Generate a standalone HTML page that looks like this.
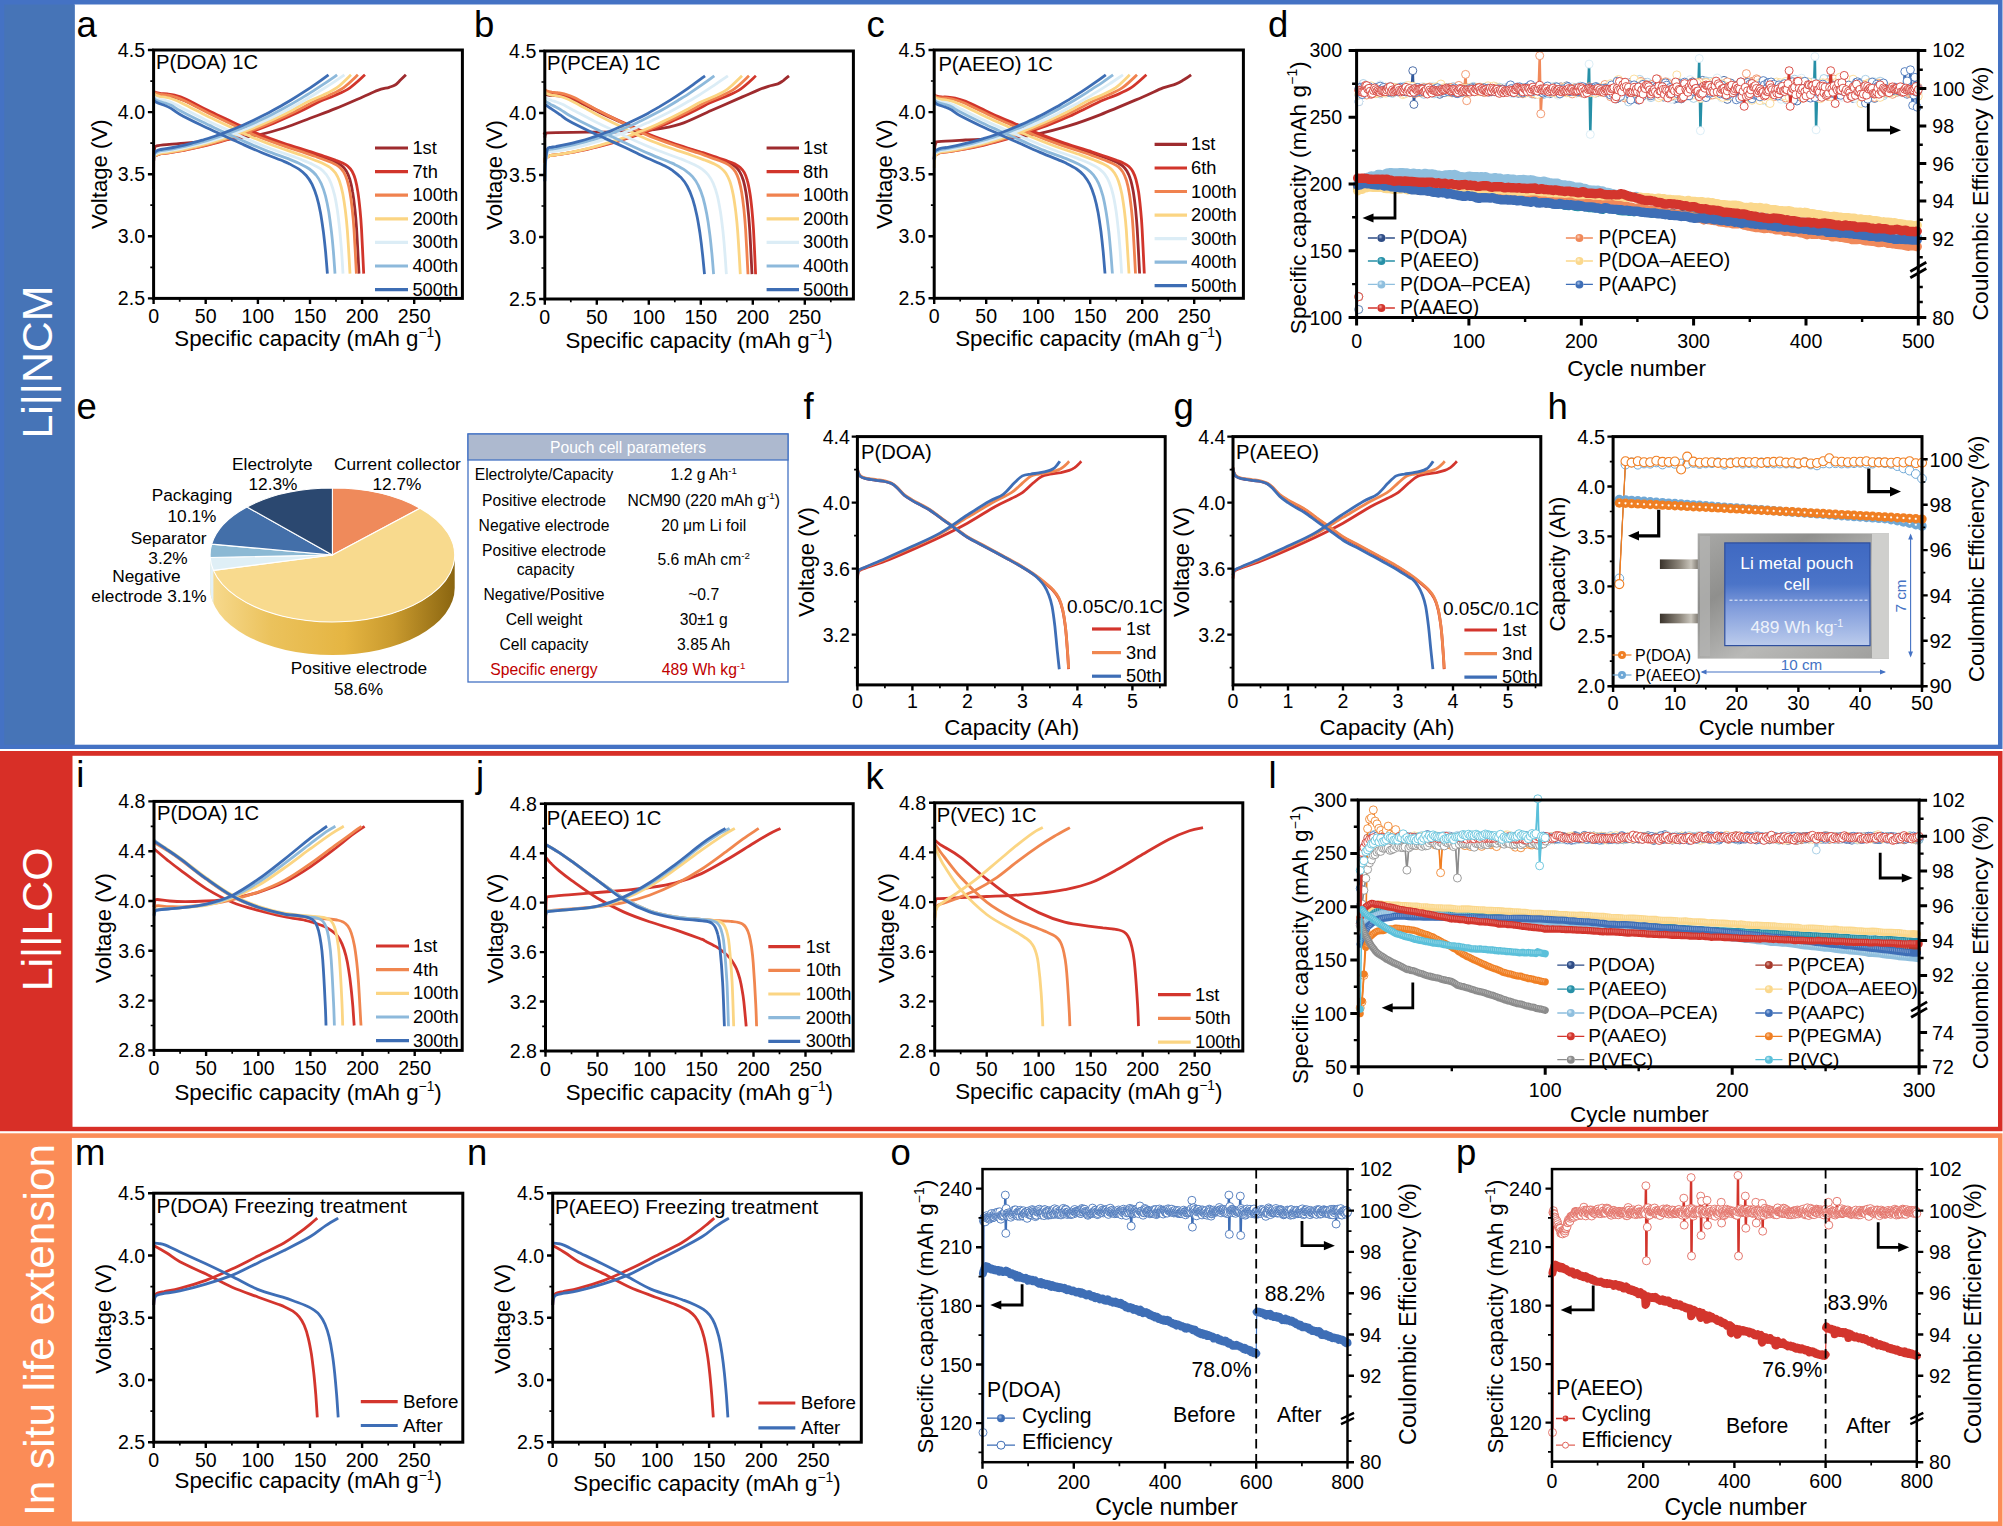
<!DOCTYPE html>
<html><head><meta charset="utf-8"><title>Figure</title>
<style>html,body{margin:0;padding:0;background:#fff}svg{display:block}text{font-family:"Liberation Sans", Arial, Helvetica, sans-serif}</style>
</head><body>
<svg width="2003" height="1526" viewBox="0 0 2003 1526">
<defs>
<clipPath id="cd"><rect x="1356.6" y="50.4" width="561.7" height="267.1"/></clipPath>
<marker id="mo31589B40" viewBox="-5 -5 10 10" markerWidth="10" markerHeight="10" markerUnits="userSpaceOnUse" overflow="visible"><circle r="4.0" fill="#fff" stroke="#31589B" stroke-width="0.85"/></marker>
<marker id="moD5EAF440" viewBox="-5 -5 10 10" markerWidth="10" markerHeight="10" markerUnits="userSpaceOnUse" overflow="visible"><circle r="4.0" fill="#fff" stroke="#D5EAF4" stroke-width="0.85"/></marker>
<marker id="mo9CC7E240" viewBox="-5 -5 10 10" markerWidth="10" markerHeight="10" markerUnits="userSpaceOnUse" overflow="visible"><circle r="4.0" fill="#fff" stroke="#9CC7E2" stroke-width="0.85"/></marker>
<marker id="moF0895A40" viewBox="-5 -5 10 10" markerWidth="10" markerHeight="10" markerUnits="userSpaceOnUse" overflow="visible"><circle r="4.0" fill="#fff" stroke="#F0895A" stroke-width="0.85"/></marker>
<marker id="moFBD88C40" viewBox="-5 -5 10 10" markerWidth="10" markerHeight="10" markerUnits="userSpaceOnUse" overflow="visible"><circle r="4.0" fill="#fff" stroke="#FBD88C" stroke-width="0.85"/></marker>
<marker id="mo3E6EB640" viewBox="-5 -5 10 10" markerWidth="10" markerHeight="10" markerUnits="userSpaceOnUse" overflow="visible"><circle r="4.0" fill="#fff" stroke="#3E6EB6" stroke-width="0.85"/></marker>
<marker id="moD3352D40" viewBox="-5 -5 10 10" markerWidth="10" markerHeight="10" markerUnits="userSpaceOnUse" overflow="visible"><circle r="4.0" fill="#fff" stroke="#D3352D" stroke-width="0.85"/></marker>
<radialGradient id="bg2F4D86" cx="0.38" cy="0.35" r="0.65"><stop offset="0" stop-color="#9FB4DA"/><stop offset="0.45" stop-color="#2F4D86"/><stop offset="1" stop-color="#2F4D86"/></radialGradient>
<radialGradient id="bg2790A7" cx="0.38" cy="0.35" r="0.65"><stop offset="0" stop-color="#9AD7E3"/><stop offset="0.45" stop-color="#2790A7"/><stop offset="1" stop-color="#2790A7"/></radialGradient>
<radialGradient id="bg8FBFDE" cx="0.38" cy="0.35" r="0.65"><stop offset="0" stop-color="#E3F1F9"/><stop offset="0.45" stop-color="#8FBFDE"/><stop offset="1" stop-color="#8FBFDE"/></radialGradient>
<radialGradient id="bgD3352D" cx="0.38" cy="0.35" r="0.65"><stop offset="0" stop-color="#F4A9A0"/><stop offset="0.45" stop-color="#D3352D"/><stop offset="1" stop-color="#D3352D"/></radialGradient>
<radialGradient id="bgF0895A" cx="0.38" cy="0.35" r="0.65"><stop offset="0" stop-color="#FBD3BF"/><stop offset="0.45" stop-color="#F0895A"/><stop offset="1" stop-color="#F0895A"/></radialGradient>
<radialGradient id="bgFBD88C" cx="0.38" cy="0.35" r="0.65"><stop offset="0" stop-color="#FEF2D3"/><stop offset="0.45" stop-color="#FBD88C"/><stop offset="1" stop-color="#FBD88C"/></radialGradient>
<radialGradient id="bg3E6EB6" cx="0.38" cy="0.35" r="0.65"><stop offset="0" stop-color="#A9C3EA"/><stop offset="0.45" stop-color="#3E6EB6"/><stop offset="1" stop-color="#3E6EB6"/></radialGradient>
<linearGradient id="pieside" x1="0" x2="1" y1="0" y2="0"><stop offset="0" stop-color="#F7DA8F"/><stop offset="0.25" stop-color="#EBC25C"/><stop offset="0.55" stop-color="#E5B542"/><stop offset="0.75" stop-color="#C99A2E"/><stop offset="1" stop-color="#8A6510"/></linearGradient>
<marker id="mo6FA8D644" viewBox="-5 -5 10 10" markerWidth="10" markerHeight="10" markerUnits="userSpaceOnUse" overflow="visible"><circle r="4.4" fill="#fff" stroke="#6FA8D6" stroke-width="1.0"/></marker>
<marker id="moF07F2345" viewBox="-5 -5 10 10" markerWidth="10" markerHeight="10" markerUnits="userSpaceOnUse" overflow="visible"><circle r="4.5" fill="#fff" stroke="#F07F23" stroke-width="1.1"/></marker>
<radialGradient id="hbO" cx="0.5" cy="0.5" r="0.5"><stop offset="0" stop-color="#fff"/><stop offset="0.1" stop-color="#fff"/><stop offset="0.34" stop-color="#F07F23"/><stop offset="1" stop-color="#F07F23"/></radialGradient>
<radialGradient id="hbB" cx="0.5" cy="0.5" r="0.5"><stop offset="0" stop-color="#fff"/><stop offset="0.1" stop-color="#fff"/><stop offset="0.34" stop-color="#6FA8D6"/><stop offset="1" stop-color="#6FA8D6"/></radialGradient>
<linearGradient id="foil" x1="0" x2="1" y1="0" y2="1"><stop offset="0" stop-color="#A9A9A7"/><stop offset="0.3" stop-color="#8F8F8D"/><stop offset="0.6" stop-color="#B9B9B7"/><stop offset="1" stop-color="#9D9D9B"/></linearGradient>
<linearGradient id="pblue" x1="0" x2="0" y1="0" y2="1"><stop offset="0" stop-color="#3F69C2"/><stop offset="0.4" stop-color="#4B74C8"/><stop offset="0.62" stop-color="#7F9BDB"/><stop offset="1" stop-color="#BBCBEC"/></linearGradient>
<linearGradient id="tab" x1="0" x2="1" y1="0" y2="0"><stop offset="0" stop-color="#3A332B"/><stop offset="0.5" stop-color="#8C857A"/><stop offset="0.8" stop-color="#C9C5BC"/><stop offset="1" stop-color="#77726A"/></linearGradient>
<marker id="mo31589B39" viewBox="-5 -5 10 10" markerWidth="10" markerHeight="10" markerUnits="userSpaceOnUse" overflow="visible"><circle r="3.9" fill="#fff" stroke="#31589B" stroke-width="0.85"/></marker>
<marker id="moB5523F39" viewBox="-5 -5 10 10" markerWidth="10" markerHeight="10" markerUnits="userSpaceOnUse" overflow="visible"><circle r="3.9" fill="#fff" stroke="#B5523F" stroke-width="0.85"/></marker>
<marker id="mo6FB8C839" viewBox="-5 -5 10 10" markerWidth="10" markerHeight="10" markerUnits="userSpaceOnUse" overflow="visible"><circle r="3.9" fill="#fff" stroke="#6FB8C8" stroke-width="0.85"/></marker>
<marker id="mo9CC7E239" viewBox="-5 -5 10 10" markerWidth="10" markerHeight="10" markerUnits="userSpaceOnUse" overflow="visible"><circle r="3.9" fill="#fff" stroke="#9CC7E2" stroke-width="0.85"/></marker>
<marker id="moFBD88C39" viewBox="-5 -5 10 10" markerWidth="10" markerHeight="10" markerUnits="userSpaceOnUse" overflow="visible"><circle r="3.9" fill="#fff" stroke="#FBD88C" stroke-width="0.85"/></marker>
<marker id="mo3E6EB639" viewBox="-5 -5 10 10" markerWidth="10" markerHeight="10" markerUnits="userSpaceOnUse" overflow="visible"><circle r="3.9" fill="#fff" stroke="#3E6EB6" stroke-width="0.85"/></marker>
<marker id="moF07F2340" viewBox="-5 -5 10 10" markerWidth="10" markerHeight="10" markerUnits="userSpaceOnUse" overflow="visible"><circle r="4.0" fill="#fff" stroke="#F07F23" stroke-width="0.85"/></marker>
<marker id="mo8C8C8C40" viewBox="-5 -5 10 10" markerWidth="10" markerHeight="10" markerUnits="userSpaceOnUse" overflow="visible"><circle r="4.0" fill="#fff" stroke="#8C8C8C" stroke-width="0.85"/></marker>
<marker id="moD3352D39" viewBox="-5 -5 10 10" markerWidth="10" markerHeight="10" markerUnits="userSpaceOnUse" overflow="visible"><circle r="3.9" fill="#fff" stroke="#D3352D" stroke-width="0.85"/></marker>
<marker id="mo5BC0DA40" viewBox="-5 -5 10 10" markerWidth="10" markerHeight="10" markerUnits="userSpaceOnUse" overflow="visible"><circle r="4.0" fill="#fff" stroke="#5BC0DA" stroke-width="0.85"/></marker>
<radialGradient id="bg8C8C8C" cx="0.38" cy="0.35" r="0.65"><stop offset="0" stop-color="#DADADA"/><stop offset="0.45" stop-color="#8C8C8C"/><stop offset="1" stop-color="#8C8C8C"/></radialGradient>
<radialGradient id="bgA63A2C" cx="0.38" cy="0.35" r="0.65"><stop offset="0" stop-color="#E2A59B"/><stop offset="0.45" stop-color="#A63A2C"/><stop offset="1" stop-color="#A63A2C"/></radialGradient>
<radialGradient id="bgF07F23" cx="0.38" cy="0.35" r="0.65"><stop offset="0" stop-color="#FBCB9F"/><stop offset="0.45" stop-color="#F07F23"/><stop offset="1" stop-color="#F07F23"/></radialGradient>
<radialGradient id="bg5BC0DA" cx="0.38" cy="0.35" r="0.65"><stop offset="0" stop-color="#C9EDF6"/><stop offset="0.45" stop-color="#5BC0DA"/><stop offset="1" stop-color="#5BC0DA"/></radialGradient>
<marker id="moE0645A40" viewBox="-5 -5 10 10" markerWidth="10" markerHeight="10" markerUnits="userSpaceOnUse" overflow="visible"><circle r="4.0" fill="#fff" stroke="#E0645A" stroke-width="0.85"/></marker>
</defs>
<rect x="0" y="0" width="2002.5" height="749" fill="#4472C4"/>
<rect x="74.3" y="4.5" width="1923.7" height="740.2" fill="#fff"/>
<rect x="4.3" y="4.5" width="70.5" height="740.2" fill="#4674B7"/>
<rect x="0" y="751" width="2002.5" height="380.2" fill="#D82F27"/>
<rect x="72.5" y="755.8" width="1925.5" height="371" fill="#fff"/>
<rect x="0" y="1133.3" width="2002.5" height="392.7" fill="#FB8C57"/>
<rect x="71.9" y="1137.9" width="1926.1" height="383.6" fill="#fff"/>
<text x="52.2" y="438.6" font-size="42.6" fill="#fff" transform="rotate(-90 52.2 438.6)" textLength="153" lengthAdjust="spacingAndGlyphs">Li||NCM</text>
<text x="52.2" y="991.3" font-size="42.6" fill="#fff" transform="rotate(-90 52.2 991.3)" textLength="144" lengthAdjust="spacingAndGlyphs">Li||LCO</text>
<text x="54.3" y="1516" font-size="42.6" fill="#fff" transform="rotate(-90 54.3 1516)" textLength="372" lengthAdjust="spacingAndGlyphs">In situ life extension</text>
<text x="76.5" y="36.8" font-size="36.5">a</text>
<text x="474" y="37.2" font-size="36.5">b</text>
<text x="866.5" y="37.2" font-size="36.5">c</text>
<text x="1268" y="37" font-size="36.5">d</text>
<text x="76.5" y="419" font-size="36.5">e</text>
<text x="803.5" y="418.8" font-size="36.5">f</text>
<text x="1173.5" y="418.8" font-size="36.5">g</text>
<text x="1547.5" y="418.9" font-size="36.5">h</text>
<text x="76.2" y="787.3" font-size="36.5">i</text>
<text x="476" y="787.3" font-size="36.5">j</text>
<text x="865.5" y="788.5" font-size="36.5">k</text>
<text x="1268.5" y="787.8" font-size="36.5">l</text>
<text x="75" y="1165" font-size="36.5">m</text>
<text x="467" y="1165" font-size="36.5">n</text>
<text x="890.5" y="1164.8" font-size="36.5">o</text>
<text x="1456" y="1164.5" font-size="36.5">p</text>
<path d="M153.6 189.1C153.6 184.5 153.6 168.4 153.7 161.8C153.8 155.2 153.9 152 154.4 149.4C154.9 146.7 154.3 146.7 156.7 145.9C159.2 145.1 164.5 144.8 169.2 144.4C173.9 143.9 177.1 143.8 184.9 143.1C192.7 142.5 207.5 141.2 216.2 140.4C224.8 139.6 230.1 139.1 237 138.2C244 137.3 250 136.8 257.9 135.1C265.7 133.4 275.2 130.8 283.9 128C292.6 125.2 301.3 121.6 310 118.3C318.7 115 327.4 111.9 336 108.4C344.7 104.9 355.2 100.2 362.1 97.2C369.1 94.2 373.2 92 377.7 90.4C382.3 88.7 386.3 88.2 389.2 87.3C392.2 86.3 393.6 86 395.5 84.8C397.4 83.5 398.9 81.5 400.7 79.8C402.4 78.2 405 75.7 405.9 74.8" fill="none" stroke="#9E2B2E" stroke-width="2.8" stroke-linejoin="round" stroke-linecap="butt"/>
<path d="M153.6 93.5C154 93.7 154.9 94.7 156.1 95.1C157.3 95.5 159 95.7 160.8 95.9C162.6 96 164.7 95.8 166.9 96C169.2 96.3 171.2 96.4 174.1 97.2C177 97.9 178.6 98 184.4 100.5C190.2 103.1 201.2 108.9 209.1 112.7C216.9 116.4 223.8 119.4 231.6 123C239.5 126.5 248.1 130.6 256.3 134C264.5 137.3 272.4 140.2 280.9 143.2C289.5 146.1 301.6 149.8 307.6 151.8C313.7 153.9 313.9 154 317.4 155.2C320.8 156.5 325.2 158 328.3 159.1C331.5 160.3 333.9 161.2 336.2 162.4C338.5 163.5 340.2 164.4 341.9 165.9C343.6 167.3 345 168.8 346.3 171C347.6 173.2 348.7 175.8 349.8 179.2C350.8 182.7 351.8 187 352.6 191.9C353.5 196.7 354.2 202.3 354.8 208.4C355.5 214.6 355.9 217.9 356.6 228.8C357.3 239.6 358.6 266.1 359 273.6" fill="none" stroke="#9E2B2E" stroke-width="2.8" stroke-linejoin="round" stroke-linecap="butt"/>
<path d="M153.6 161.8C153.7 160.8 153.8 156.9 154.2 155.9C154.7 154.8 155.3 155.9 156.2 155.6C157.1 155.2 157.8 154.4 159.9 154C161.9 153.5 164.7 153.5 168.7 152.9C172.7 152.3 178.8 151.3 183.8 150.4C188.8 149.4 193.9 148.4 198.9 147.2C203.9 146.1 209 144.8 214 143.5C219 142.2 224.1 140.7 229.1 139.2C234.1 137.7 239.2 136.1 244.2 134.3C249.2 132.6 254.3 130.8 259.3 128.9C264.3 127 269.4 125 274.4 122.9C279.4 120.8 284.5 118.6 289.5 116.3C294.6 114 299.6 111.7 304.6 109.2C309.7 106.7 314.7 103.7 319.7 101.4C324.8 99.2 329.8 97.7 334.8 95.4C339.9 93.1 344.9 91.2 349.9 87.8C355 84.4 362.5 77 365 74.8" fill="none" stroke="#D1352B" stroke-width="2.8" stroke-linejoin="round" stroke-linecap="butt"/>
<path d="M153.6 91C154 91.3 154.9 92.2 156.1 92.6C157.3 93.1 159.1 93.3 161 93.6C162.8 93.8 165 93.6 167.3 93.9C169.5 94.2 171.6 94.4 174.6 95.2C177.6 96 179.2 96.1 185.1 98.8C191.1 101.5 202.3 107.6 210.3 111.5C218.4 115.5 225.4 118.6 233.4 122.4C241.5 126.1 250.2 130.5 258.6 134C267 137.4 275.1 140.2 283.8 143.2C292.6 146.1 304.1 149.5 311.2 151.8C318.2 154.1 321.9 155.5 326 156.9C330.2 158.3 333.1 159.3 335.9 160.4C338.8 161.4 341 162.3 343.1 163.3C345.1 164.3 346.7 165.2 348.2 166.6C349.7 167.9 351 169.4 352.2 171.5C353.4 173.7 354.4 176.2 355.4 179.6C356.3 183 357.2 187.3 357.9 192.1C358.7 197 359.3 202.5 359.9 208.6C360.5 214.7 360.9 218.1 361.5 228.9C362.1 239.7 363.3 266.1 363.7 273.6" fill="none" stroke="#D1352B" stroke-width="2.8" stroke-linejoin="round" stroke-linecap="butt"/>
<path d="M153.6 161.8C153.7 160.8 153.8 156.9 154.2 155.9C154.7 154.8 155.3 155.9 156.2 155.6C157.1 155.2 157.9 154.4 159.9 154C161.9 153.5 164.4 153.5 168.2 152.9C172 152.3 177.9 151.3 182.8 150.4C187.7 149.4 192.5 148.4 197.4 147.2C202.3 146.1 207.1 144.8 212 143.5C216.8 142.2 221.7 140.7 226.6 139.2C231.4 137.7 236.3 136.1 241.2 134.3C246 132.6 250.9 130.8 255.8 128.9C260.6 127 265.5 125 270.4 122.9C275.2 120.8 280.1 118.6 285 116.3C289.8 114 294.7 111.7 299.6 109.2C304.4 106.7 309.3 103.7 314.2 101.4C319 99.2 323.9 97.7 328.7 95.4C333.6 93.1 338.5 91.2 343.3 87.8C348.2 84.4 355.5 77 357.9 74.8" fill="none" stroke="#F0824F" stroke-width="2.8" stroke-linejoin="round" stroke-linecap="butt"/>
<path d="M153.6 91.6C154 91.9 154.9 92.9 156 93.3C157.2 93.8 158.9 94.2 160.7 94.4C162.5 94.7 164.6 94.6 166.8 95C169 95.3 171 95.6 173.9 96.5C176.8 97.5 178.3 97.7 184 100.5C189.8 103.2 200.6 109.2 208.3 113.1C216.1 116.9 222.9 120.1 230.7 123.7C238.4 127.4 246.9 131.8 255 135.2C263.1 138.6 270.9 141.4 279.3 144.4C287.8 147.4 299.8 151.1 305.7 153.1C311.6 155.1 311.4 155.1 314.8 156.3C318.1 157.5 322.6 159.1 325.7 160.3C328.9 161.5 331.3 162.4 333.6 163.5C335.9 164.6 337.6 165.6 339.3 167C341 168.5 342.4 169.9 343.7 172.1C345 174.3 346.1 176.8 347.2 180.3C348.2 183.7 349.2 188 350 192.8C350.9 197.6 351.6 203.1 352.2 209.2C352.9 215.3 353.3 218.6 354 229.3C354.7 240 356 266.2 356.4 273.6" fill="none" stroke="#F0824F" stroke-width="2.8" stroke-linejoin="round" stroke-linecap="butt"/>
<path d="M153.6 161.8C153.7 160.7 153.8 156.7 154.2 155.6C154.7 154.4 155.3 155.3 156.2 154.9C157.1 154.6 157.9 153.8 159.9 153.3C161.8 152.9 164 152.9 167.7 152.3C171.4 151.7 177.1 150.7 181.8 149.8C186.5 148.8 191.2 147.8 195.9 146.7C200.6 145.5 205.3 144.3 210 143C214.7 141.6 219.4 140.2 224.1 138.7C228.8 137.2 233.5 135.6 238.2 133.9C242.9 132.2 247.6 130.4 252.3 128.5C257 126.6 261.7 124.6 266.4 122.5C271.1 120.5 275.8 118.3 280.5 116C285.2 113.7 289.9 111.4 294.6 108.9C299.3 106.4 304 103.5 308.7 101.2C313.4 99 318.1 97.5 322.8 95.3C327.5 93 332.2 91.1 336.9 87.7C341.6 84.3 348.6 77 351 74.8" fill="none" stroke="#FBD583" stroke-width="2.8" stroke-linejoin="round" stroke-linecap="butt"/>
<path d="M153.6 93.5C154 93.8 154.8 94.8 156 95.3C157.1 95.8 158.7 96.2 160.5 96.6C162.2 96.9 164.2 96.9 166.4 97.4C168.5 97.8 170.5 98.2 173.2 99.3C176 100.3 177.5 100.9 183.1 103.7C188.6 106.4 199.1 112 206.6 115.8C214.2 119.5 220.7 122.5 228.2 126.1C235.8 129.6 244 133.7 251.8 137.1C259.7 140.4 267.2 143.3 275.4 146.3C283.6 149.2 294.3 152.6 300.9 155C307.5 157.3 311.1 158.7 315 160.2C318.8 161.7 321.4 162.6 324 163.9C326.6 165.2 328.6 166.2 330.5 167.8C332.4 169.3 334 170.8 335.5 173.1C337 175.4 338.3 177.9 339.5 181.3C340.7 184.8 341.8 189 342.8 193.8C343.7 198.6 344.5 204 345.3 210.1C346 216.1 346.5 219.4 347.3 229.9C348.1 240.5 349.6 266.3 350 273.6" fill="none" stroke="#FBD583" stroke-width="2.8" stroke-linejoin="round" stroke-linecap="butt"/>
<path d="M153.6 161.8C153.7 160.6 153.8 156.3 154.2 154.9C154.7 153.6 155.3 154.2 156.2 153.7C157.1 153.2 158 152.5 159.9 152.1C161.7 151.7 163.7 151.7 167.2 151.1C170.7 150.6 176.3 149.5 180.9 148.6C185.4 147.7 189.9 146.7 194.5 145.5C199 144.4 203.6 143.2 208.1 141.9C212.7 140.6 217.2 139.2 221.7 137.7C226.3 136.2 230.8 134.6 235.4 133C239.9 131.3 244.4 129.5 249 127.7C253.5 125.8 258.1 123.8 262.6 121.8C267.2 119.7 271.7 117.6 276.2 115.4C280.8 113.1 285.3 110.8 289.9 108.4C294.4 106 299 103.4 303.5 100.8C308 98.2 312.6 95.5 317.1 92.7C321.7 89.9 326.2 87 330.8 84.1C335.3 81.1 342.1 76.4 344.4 74.8" fill="none" stroke="#DCEDF6" stroke-width="2.8" stroke-linejoin="round" stroke-linecap="butt"/>
<path d="M153.6 96C154 96.3 154.8 97.3 155.9 97.9C157 98.5 158.6 99 160.2 99.5C161.9 99.9 163.9 100.1 165.9 100.6C168 101.2 169.9 101.7 172.5 102.9C175.2 104.1 176.6 105.1 182 107.9C187.4 110.6 197.5 115.9 204.7 119.4C212 122.9 218.3 125.8 225.6 129.1C232.8 132.5 240.7 136.3 248.3 139.5C255.9 142.8 263.2 145.8 271 148.7C278.9 151.7 290.5 155.6 295.7 157.5C300.9 159.3 299.3 158.8 302.2 160C305 161.1 309.7 162.9 312.7 164.4C315.7 165.9 318 167.1 320.3 168.7C322.5 170.4 324.3 172 326.1 174.3C327.8 176.7 329.4 179.2 330.8 182.7C332.2 186.2 333.4 190.4 334.6 195.2C335.7 199.9 336.6 205.3 337.5 211.2C338.4 217.2 339.1 224.1 339.8 230.8C340.5 237.5 341 244.1 341.6 251.3C342.1 258.4 342.8 269.8 343 273.6" fill="none" stroke="#DCEDF6" stroke-width="2.8" stroke-linejoin="round" stroke-linecap="butt"/>
<path d="M153.6 161.8C153.7 160.5 153.8 155.9 154.2 154.3C154.7 152.8 155.3 153 156.2 152.5C157.1 151.9 158.1 151.3 159.9 150.9C161.6 150.4 163.4 150.5 166.7 149.9C170 149.4 175.4 148.4 179.8 147.4C184.2 146.5 188.5 145.5 192.9 144.4C197.3 143.3 201.7 142.1 206 140.8C210.4 139.6 214.8 138.2 219.1 136.7C223.5 135.3 227.9 133.7 232.2 132C236.6 130.4 241 128.7 245.3 126.8C249.7 125 254.1 123.1 258.4 121C262.8 119 267.2 116.9 271.6 114.7C275.9 112.5 280.3 110.2 284.7 107.8C289 105.5 293.4 103 297.8 100.4C302.1 97.8 306.5 95.2 310.9 92.4C315.2 89.7 319.6 86.8 324 83.9C328.3 81 334.9 76.4 337.1 74.8" fill="none" stroke="#8DB9DB" stroke-width="2.8" stroke-linejoin="round" stroke-linecap="butt"/>
<path d="M153.6 97.8C154 98.2 154.7 99.3 155.8 99.9C156.8 100.5 158.3 101.1 159.9 101.6C161.6 102.2 163.4 102.4 165.4 103.1C167.4 103.7 169.2 104.3 171.7 105.6C174.3 107 175.7 108.3 180.8 111C185.9 113.8 195.6 118.7 202.6 122.1C209.5 125.5 215.6 128.2 222.5 131.5C229.5 134.7 237 138.2 244.3 141.4C251.6 144.6 258.5 147.6 266.1 150.6C273.6 153.6 283.9 157.1 289.7 159.4C295.4 161.7 297.6 162.6 300.8 164.2C304.1 165.8 306.9 167.2 309.4 169C311.9 170.8 314 172.6 316 175C317.9 177.4 319.6 180 321.2 183.5C322.8 187.1 324.2 191.3 325.5 196C326.7 200.8 327.8 206.1 328.8 212C329.7 217.9 330.6 224.8 331.4 231.4C332.2 238 332.8 244.6 333.4 251.6C334 258.6 334.7 269.9 335 273.6" fill="none" stroke="#8DB9DB" stroke-width="2.8" stroke-linejoin="round" stroke-linecap="butt"/>
<path d="M153.6 161.8C153.7 160.4 153.8 155.5 154.2 153.7C154.7 151.9 155.3 151.9 156.2 151.2C157.1 150.5 158.2 150 159.9 149.6C161.5 149.2 163 149.3 166.1 148.7C169.2 148.2 174.4 147.2 178.6 146.3C182.8 145.4 186.9 144.4 191.1 143.3C195.3 142.2 199.4 141 203.6 139.8C207.7 138.5 211.9 137.2 216.1 135.7C220.2 134.3 224.4 132.7 228.6 131.1C232.7 129.5 236.9 127.8 241.1 126C245.2 124.2 249.4 122.3 253.6 120.3C257.7 118.3 261.9 116.2 266.1 114.1C270.2 111.9 274.4 109.7 278.6 107.3C282.7 105 286.9 102.5 291.1 100C295.2 97.5 299.4 94.9 303.5 92.2C307.7 89.5 311.9 86.7 316 83.8C320.2 80.9 326.5 76.3 328.5 74.8" fill="none" stroke="#3D6DB4" stroke-width="2.8" stroke-linejoin="round" stroke-linecap="butt"/>
<path d="M153.6 99.7C153.9 100 154.7 101.2 155.7 101.9C156.7 102.6 158.1 103.2 159.7 103.8C161.2 104.4 163 104.7 164.9 105.5C166.8 106.2 168.5 106.9 171 108.4C173.4 109.8 174.7 111.5 179.7 114.2C184.6 117 193.9 121.6 200.5 124.8C207.2 128.1 213 130.7 219.6 133.8C226.3 136.8 233.5 140.2 240.5 143.3C247.4 146.4 254.1 149.5 261.4 152.5C268.6 155.5 279.3 159.5 283.9 161.4C288.6 163.3 286.9 162.6 289.4 163.9C291.9 165.3 296.1 167.3 298.9 169.2C301.7 171.2 304 173 306.2 175.5C308.4 178 310.3 180.8 312.1 184.3C313.8 187.9 315.4 192.1 316.8 196.9C318.2 201.6 319.4 206.9 320.5 212.7C321.6 218.6 322.5 225.4 323.4 231.9C324.2 238.4 324.9 245 325.6 251.9C326.2 258.8 327.1 270 327.4 273.6" fill="none" stroke="#3D6DB4" stroke-width="2.8" stroke-linejoin="round" stroke-linecap="butt"/>
<rect x="153.6" y="50" width="308.8" height="248.4" fill="none" stroke="#000" stroke-width="3"/>
<path d="M153.6 298.4L153.6 304.1M205.7 298.4L205.7 304.1M257.9 298.4L257.9 304.1M310 298.4L310 304.1M362.1 298.4L362.1 304.1M414.2 298.4L414.2 304.1" stroke="#000" stroke-width="2.4" fill="none"/>
<path d="M179.7 298.4L179.7 301.7M231.8 298.4L231.8 301.7M283.9 298.4L283.9 301.7M336 298.4L336 301.7M388.2 298.4L388.2 301.7M440.3 298.4L440.3 301.7" stroke="#000" stroke-width="1.7" fill="none"/>
<text x="153.6" y="323.4" font-size="19.6" text-anchor="middle">0</text>
<text x="205.7" y="323.4" font-size="19.6" text-anchor="middle">50</text>
<text x="257.9" y="323.4" font-size="19.6" text-anchor="middle">100</text>
<text x="310" y="323.4" font-size="19.6" text-anchor="middle">150</text>
<text x="362.1" y="323.4" font-size="19.6" text-anchor="middle">200</text>
<text x="414.2" y="323.4" font-size="19.6" text-anchor="middle">250</text>
<path d="M153.6 298.4L147.9 298.4M153.6 236.3L147.9 236.3M153.6 174.2L147.9 174.2M153.6 112.1L147.9 112.1M153.6 50L147.9 50" stroke="#000" stroke-width="2.4" fill="none"/>
<path d="M153.6 267.3L150.3 267.3M153.6 205.2L150.3 205.2M153.6 143.1L150.3 143.1M153.6 81.1L150.3 81.1" stroke="#000" stroke-width="1.7" fill="none"/>
<text x="145.1" y="305.4" font-size="19.6" text-anchor="end">2.5</text>
<text x="145.1" y="243.3" font-size="19.6" text-anchor="end">3.0</text>
<text x="145.1" y="181.2" font-size="19.6" text-anchor="end">3.5</text>
<text x="145.1" y="119.1" font-size="19.6" text-anchor="end">4.0</text>
<text x="145.1" y="57" font-size="19.6" text-anchor="end">4.5</text>
<text x="308" y="346" font-size="22.3" text-anchor="middle">Specific capacity (mAh g<tspan dy="-0.62em" font-size="62%">−1</tspan><tspan dy="0.385em">)</tspan></text>
<text x="107.4" y="174.2" font-size="22.2" text-anchor="middle" transform="rotate(-90 107.4 174.2)">Voltage (V)</text>
<text x="156" y="69" font-size="20.2">P(DOA) 1C</text>
<path d="M375 148H408" stroke="#9E2B2E" stroke-width="3.2"/>
<text x="412.4" y="154" font-size="18.3">1st</text>
<path d="M375 171.6H408" stroke="#D1352B" stroke-width="3.2"/>
<text x="412.4" y="177.6" font-size="18.3">7th</text>
<path d="M375 195.2H408" stroke="#F0824F" stroke-width="3.2"/>
<text x="412.4" y="201.2" font-size="18.3">100th</text>
<path d="M375 218.8H408" stroke="#FBD583" stroke-width="3.2"/>
<text x="412.4" y="224.8" font-size="18.3">200th</text>
<path d="M375 242.4H408" stroke="#DCEDF6" stroke-width="3.2"/>
<text x="412.4" y="248.4" font-size="18.3">300th</text>
<path d="M375 266H408" stroke="#8DB9DB" stroke-width="3.2"/>
<text x="412.4" y="272" font-size="18.3">400th</text>
<path d="M375 289.6H408" stroke="#3D6DB4" stroke-width="3.2"/>
<text x="412.4" y="295.6" font-size="18.3">500th</text>
<path d="M544.8 137.8C544.9 137.3 544.9 135.5 545.4 134.7C545.9 133.9 541.1 133.3 547.9 132.8C554.8 132.4 573.1 132.4 586.4 132.2C599.8 132 616.7 132 628 131.6C639.3 131.2 645.3 131 654 129.7C662.7 128.5 670.5 127.4 680 124.2C689.5 121 700.8 115.1 711.2 110.5C721.6 106 734.6 100.3 742.4 96.9C750.2 93.5 753.7 91.8 758 90.1C762.4 88.3 765.1 87.4 768.4 86.3C771.7 85.3 775.4 84.8 777.8 83.9C780.2 82.9 781.1 82.1 783 80.8C784.9 79.4 788 76.6 789 75.8" fill="none" stroke="#9E2B2E" stroke-width="2.8" stroke-linejoin="round" stroke-linecap="butt"/>
<path d="M544.8 93.2C545.2 93.4 546.1 94.4 547.3 94.8C548.5 95.2 550.2 95.5 552.1 95.6C553.9 95.8 556 95.6 558.3 95.9C560.5 96.1 562.6 96.3 565.5 97.1C568.5 97.9 570 98 575.9 100.6C581.7 103.2 592.8 109.2 600.7 113C608.7 116.8 615.6 119.9 623.5 123.5C631.5 127.2 640.1 131.4 648.4 134.8C656.7 138.2 664.6 141 673.3 144C681.9 147 693.7 150.5 700.2 152.7C706.7 154.8 708.7 155.6 712.5 156.9C716.2 158.2 719.9 159.5 722.9 160.6C725.8 161.7 728.2 162.6 730.4 163.6C732.5 164.7 734.2 165.6 735.8 167C737.4 168.4 738.7 169.9 739.9 172.1C741.2 174.3 742.2 176.8 743.3 180.2C744.3 183.7 745.2 187.9 746 192.8C746.8 197.6 747.4 203.1 748 209.3C748.7 215.4 749 218.7 749.7 229.6C750.4 240.4 751.6 266.8 752 274.2" fill="none" stroke="#9E2B2E" stroke-width="2.8" stroke-linejoin="round" stroke-linecap="butt"/>
<path d="M544.8 162.6C544.9 161.7 545 158 545.4 157C545.9 156.1 546.5 157.3 547.4 157C548.3 156.8 549 155.8 551 155.4C553.1 155 555.9 155 559.9 154.4C563.9 153.8 569.9 152.8 575 151.8C580 150.8 585 149.8 590 148.6C595.1 147.5 600.1 146.2 605.1 144.9C610.2 143.5 615.2 142.1 620.2 140.6C625.2 139 630.3 137.4 635.3 135.7C640.3 133.9 645.3 132.1 650.4 130.2C655.4 128.3 660.4 126.3 665.5 124.2C670.5 122 675.5 119.8 680.5 117.5C685.6 115.2 690.6 112.8 695.6 110.3C700.6 107.8 705.7 104.9 710.7 102.6C715.7 100.3 720.8 98.8 725.8 96.5C730.8 94.2 735.8 92.3 740.9 88.8C745.9 85.4 753.4 78 755.9 75.8" fill="none" stroke="#D1352B" stroke-width="2.8" stroke-linejoin="round" stroke-linecap="butt"/>
<path d="M544.8 91.9C545.2 92.2 546.1 93.1 547.3 93.6C548.6 94 550.3 94.3 552.2 94.5C554 94.7 556.2 94.5 558.5 94.8C560.8 95.1 562.9 95.3 565.9 96.1C568.9 97 570.5 97 576.4 99.7C582.4 102.4 593.6 108.5 601.7 112.4C609.8 116.3 616.8 119.5 624.9 123.2C633 127 641.8 131.4 650.2 134.8C658.6 138.3 666.7 141 675.5 144C684.3 147 695.8 150.4 702.9 152.7C710 155 713.9 156.4 718.1 157.8C722.3 159.3 725.1 160.2 728 161.3C730.8 162.3 733 163.1 735.1 164.1C737.1 165.2 738.7 166 740.2 167.4C741.7 168.8 743 170.2 744.2 172.4C745.4 174.5 746.4 177 747.3 180.4C748.3 183.8 749.1 188.1 749.9 192.9C750.7 197.7 751.3 203.2 751.9 209.4C752.5 215.5 752.8 218.8 753.5 229.6C754.1 240.4 755.3 266.8 755.6 274.2" fill="none" stroke="#D1352B" stroke-width="2.8" stroke-linejoin="round" stroke-linecap="butt"/>
<path d="M544.8 162.6C544.9 161.7 545 158 545.4 157C545.9 156.1 546.5 157.3 547.4 157C548.3 156.8 549 155.8 551 155.4C553 155 555.6 155 559.4 154.4C563.2 153.8 569.1 152.8 574 151.8C578.8 150.8 583.7 149.8 588.6 148.6C593.4 147.5 598.3 146.2 603.1 144.9C608 143.5 612.9 142.1 617.7 140.6C622.6 139 627.4 137.4 632.3 135.7C637.2 133.9 642 132.1 646.9 130.2C651.7 128.3 656.6 126.3 661.5 124.2C666.3 122 671.2 119.8 676.1 117.5C680.9 115.2 685.8 112.8 690.6 110.3C695.5 107.8 700.4 104.9 705.2 102.6C710.1 100.3 714.9 98.8 719.8 96.5C724.7 94.2 729.5 92.3 734.4 88.8C739.3 85.4 746.5 78 749 75.8" fill="none" stroke="#F0824F" stroke-width="2.8" stroke-linejoin="round" stroke-linecap="butt"/>
<path d="M544.8 89.4C545.2 89.7 546.1 90.7 547.2 91.1C548.4 91.6 550.1 91.9 551.9 92.2C553.7 92.4 555.8 92.3 558 92.7C560.2 93 562.2 93.3 565.1 94.2C568 95 569.5 95.1 575.3 98C581 100.9 591.9 107.2 599.7 111.3C607.5 115.4 614.2 118.7 622 122.6C629.8 126.6 638.3 131.3 646.4 134.8C654.5 138.4 662.3 141 670.8 144C679.3 147 691.3 150.7 697.2 152.7C703.2 154.7 703.2 154.8 706.5 156C709.9 157.2 714.3 158.7 717.5 159.9C720.6 161.1 723.1 162 725.3 163.1C727.6 164.3 729.3 165.2 731 166.6C732.7 168.1 734.1 169.6 735.4 171.8C736.7 174 737.8 176.5 738.9 180C739.9 183.5 740.9 187.8 741.7 192.6C742.5 197.5 743.2 203 743.9 209.2C744.5 215.3 744.9 218.7 745.6 229.5C746.3 240.3 747.6 266.8 748 274.2" fill="none" stroke="#F0824F" stroke-width="2.8" stroke-linejoin="round" stroke-linecap="butt"/>
<path d="M544.8 162.6C544.9 161.7 545 158 545.4 157C545.9 156.1 546.5 157.3 547.4 157C548.3 156.8 549.1 155.8 551 155.4C553 155 555.2 155 558.9 154.4C562.5 153.8 568.3 152.8 573 151.8C577.7 150.8 582.4 149.8 587.1 148.6C591.8 147.5 596.4 146.2 601.1 144.9C605.8 143.5 610.5 142.1 615.2 140.6C619.9 139 624.6 137.4 629.3 135.7C634 133.9 638.7 132.1 643.4 130.2C648.1 128.3 652.8 126.3 657.5 124.2C662.2 122 666.9 119.8 671.6 117.5C676.3 115.2 681 112.8 685.7 110.3C690.4 107.8 695.1 104.9 699.7 102.6C704.4 100.3 709.1 98.8 713.8 96.5C718.5 94.2 723.2 92.3 727.9 88.8C732.6 85.4 739.7 78 742 75.8" fill="none" stroke="#FBD583" stroke-width="2.8" stroke-linejoin="round" stroke-linecap="butt"/>
<path d="M544.8 91.9C545.2 92.2 546 93.2 547.1 93.8C548.3 94.3 549.9 94.7 551.6 95.1C553.4 95.4 555.4 95.4 557.5 95.9C559.6 96.3 561.6 96.7 564.4 97.8C567.1 98.8 568.6 99.4 574.1 102.2C579.7 105.1 590.1 111 597.6 114.9C605.1 118.8 611.6 122 619.1 125.7C626.6 129.5 634.7 133.8 642.6 137.3C650.4 140.8 657.9 143.5 666 146.5C674.2 149.5 684.9 152.9 691.5 155.2C698 157.5 701.6 158.9 705.4 160.3C709.2 161.8 711.8 162.8 714.4 164.1C717 165.4 719 166.4 720.9 168C722.8 169.5 724.4 171 725.9 173.3C727.4 175.6 728.6 178.1 729.9 181.6C731.1 185 732.1 189.3 733.1 194.1C734.1 198.9 734.8 204.4 735.6 210.4C736.3 216.5 736.8 219.8 737.6 230.4C738.4 241 739.9 266.9 740.3 274.2" fill="none" stroke="#FBD583" stroke-width="2.8" stroke-linejoin="round" stroke-linecap="butt"/>
<path d="M544.8 181.2C544.9 178.4 545 169.1 545.4 164.5C545.9 159.8 546.5 155.4 547.4 153.3C548.3 151.2 549.3 152.1 551 151.7C552.8 151.3 554.6 151.3 557.9 150.8C561.2 150.2 566.6 149.2 571 148.3C575.3 147.4 579.7 146.4 584 145.3C588.4 144.2 592.7 143 597.1 141.7C601.5 140.4 605.8 139 610.2 137.6C614.5 136.1 618.9 134.6 623.3 132.9C627.6 131.3 632 129.5 636.3 127.7C640.7 125.9 645 123.9 649.4 121.9C653.8 119.9 658.1 117.8 662.5 115.6C666.8 113.4 671.2 111.1 675.6 108.7C679.9 106.4 684.3 103.9 688.6 101.3C693 98.8 697.3 96.1 701.7 93.4C706.1 90.6 710.4 87.8 714.8 84.9C719.1 81.9 725.7 77.3 727.9 75.8" fill="none" stroke="#DCEDF6" stroke-width="2.8" stroke-linejoin="round" stroke-linecap="butt"/>
<path d="M544.8 96.9C545.2 97.1 545.9 97.9 547 98.5C548 99.1 549.6 99.7 551.2 100.2C552.8 100.8 554.6 101.3 556.6 102C558.6 102.7 560.4 103.4 563 104.6C565.5 105.9 566.9 106.7 572 109.4C577.2 112.1 586.9 117.4 593.8 120.9C600.8 124.4 606.8 127.3 613.8 130.6C620.8 134 628.3 137.8 635.6 141C642.9 144.3 649.8 147.2 657.4 150.2C665 153.2 676.8 157.4 681 158.9C685.2 160.5 680.6 158.7 682.7 159.6C684.9 160.6 690.7 162.9 694 164.5C697.2 166.1 699.7 167.4 702.1 169.1C704.5 170.9 706.4 172.6 708.3 175C710.2 177.4 711.8 180 713.3 183.5C714.8 187 716.2 191.3 717.4 196C718.6 200.8 719.5 206.2 720.5 212.1C721.4 218 722.2 225 723 231.6C723.7 238.3 724.3 244.9 724.8 252C725.4 259.1 726.1 270.5 726.4 274.2" fill="none" stroke="#DCEDF6" stroke-width="2.8" stroke-linejoin="round" stroke-linecap="butt"/>
<path d="M544.8 181.2C544.9 178.2 545 168.3 545.4 163.2C545.9 158.2 546.5 153.2 547.4 150.8C548.3 148.5 549.5 149.6 551 149.2C552.6 148.8 553.9 148.9 556.9 148.3C559.9 147.8 565 146.8 569 145.9C573.1 145.1 577.1 144.1 581.1 143C585.2 142 589.2 140.8 593.2 139.6C597.3 138.3 601.3 137 605.3 135.6C609.4 134.2 613.4 132.7 617.5 131.1C621.5 129.5 625.5 127.8 629.6 126C633.6 124.2 637.6 122.4 641.7 120.4C645.7 118.5 649.8 116.5 653.8 114.3C657.8 112.2 661.9 110 665.9 107.7C669.9 105.4 674 103 678 100.5C682 98 686.1 95.5 690.1 92.8C694.2 90.1 698.2 87.4 702.2 84.6C706.3 81.7 712.3 77.3 714.3 75.8" fill="none" stroke="#8DB9DB" stroke-width="2.8" stroke-linejoin="round" stroke-linecap="butt"/>
<path d="M544.8 100.6C545.1 100.9 545.8 101.5 546.8 102.1C547.8 102.7 549.2 103.5 550.7 104.4C552.2 105.2 553.9 106 555.8 107C557.6 108 559.3 108.9 561.7 110.4C564.1 111.8 565.3 113.1 570.1 115.7C574.9 118.4 583.9 123.1 590.4 126.3C596.8 129.6 602.5 132.2 608.9 135.2C615.4 138.3 622.5 141.6 629.2 144.7C636 147.9 642.4 150.9 649.5 153.9C656.5 157 667 161 671.4 162.9C675.8 164.7 673.4 163.7 675.7 165C678.1 166.2 682.4 168.4 685.2 170.3C688 172.3 690.3 174.2 692.5 176.7C694.7 179.2 696.6 181.9 698.3 185.5C700.1 189 701.7 193.3 703.1 198C704.4 202.7 705.6 208 706.7 213.8C707.8 219.6 708.8 226.4 709.6 232.8C710.5 239.3 711.1 245.8 711.8 252.7C712.5 259.6 713.3 270.6 713.6 274.2" fill="none" stroke="#8DB9DB" stroke-width="2.8" stroke-linejoin="round" stroke-linecap="butt"/>
<path d="M544.8 181.2C544.9 178 545 167.7 545.4 162.3C545.9 156.9 546.5 151.5 547.4 149C548.3 146.5 549.6 147.8 551 147.3C552.5 146.9 553.5 147.1 556.2 146.5C559 146 563.9 145.1 567.7 144.2C571.5 143.3 575.3 142.4 579.1 141.3C582.9 140.3 586.8 139.2 590.6 138C594.4 136.8 598.2 135.5 602 134.1C605.8 132.7 609.6 131.2 613.4 129.7C617.3 128.1 621.1 126.5 624.9 124.8C628.7 123 632.5 121.2 636.3 119.3C640.1 117.4 644 115.4 647.8 113.4C651.6 111.3 655.4 109.1 659.2 106.9C663 104.6 666.8 102.3 670.7 99.9C674.5 97.5 678.3 95 682.1 92.4C685.9 89.8 689.7 87.1 693.5 84.3C697.3 81.6 703.1 77.2 705 75.8" fill="none" stroke="#3D6DB4" stroke-width="2.8" stroke-linejoin="round" stroke-linecap="butt"/>
<path d="M544.8 104.3C545.1 104.6 545.8 105.1 546.7 105.7C547.6 106.4 549 107.3 550.4 108.2C551.8 109.2 553.4 110.3 555.2 111.4C556.9 112.6 558.5 113.6 560.8 115.2C563 116.8 564.2 118.3 568.7 120.8C573.3 123.4 581.8 127.6 587.9 130.5C594 133.5 599.3 135.8 605.5 138.6C611.6 141.4 618.2 144.3 624.6 147.2C631 150.2 637.1 153.4 643.8 156.5C650.4 159.5 659.7 163.4 664.5 165.7C669.4 168.1 670.1 168.7 672.8 170.6C675.5 172.6 678.5 174.8 680.9 177.4C683.4 180.1 685.5 182.9 687.4 186.5C689.4 190.1 691.1 194.4 692.7 199.1C694.2 203.8 695.5 209 696.7 214.8C698 220.5 699 227.2 700 233.6C700.9 240 701.7 246.3 702.4 253.1C703.2 259.9 704.1 270.7 704.5 274.2" fill="none" stroke="#3D6DB4" stroke-width="2.8" stroke-linejoin="round" stroke-linecap="butt"/>
<rect x="544.8" y="51" width="308.6" height="248" fill="none" stroke="#000" stroke-width="3"/>
<path d="M544.8 299L544.8 304.7M596.8 299L596.8 304.7M648.8 299L648.8 304.7M700.8 299L700.8 304.7M752.8 299L752.8 304.7M804.8 299L804.8 304.7" stroke="#000" stroke-width="2.4" fill="none"/>
<path d="M570.8 299L570.8 302.3M622.8 299L622.8 302.3M674.8 299L674.8 302.3M726.8 299L726.8 302.3M778.8 299L778.8 302.3M830.8 299L830.8 302.3" stroke="#000" stroke-width="1.7" fill="none"/>
<text x="544.8" y="324" font-size="19.6" text-anchor="middle">0</text>
<text x="596.8" y="324" font-size="19.6" text-anchor="middle">50</text>
<text x="648.8" y="324" font-size="19.6" text-anchor="middle">100</text>
<text x="700.8" y="324" font-size="19.6" text-anchor="middle">150</text>
<text x="752.8" y="324" font-size="19.6" text-anchor="middle">200</text>
<text x="804.8" y="324" font-size="19.6" text-anchor="middle">250</text>
<path d="M544.8 299L539.1 299M544.8 237L539.1 237M544.8 175L539.1 175M544.8 113L539.1 113M544.8 51L539.1 51" stroke="#000" stroke-width="2.4" fill="none"/>
<path d="M544.8 268L541.5 268M544.8 206L541.5 206M544.8 144L541.5 144M544.8 82L541.5 82" stroke="#000" stroke-width="1.7" fill="none"/>
<text x="536.3" y="306" font-size="19.6" text-anchor="end">2.5</text>
<text x="536.3" y="244" font-size="19.6" text-anchor="end">3.0</text>
<text x="536.3" y="182" font-size="19.6" text-anchor="end">3.5</text>
<text x="536.3" y="120" font-size="19.6" text-anchor="end">4.0</text>
<text x="536.3" y="58" font-size="19.6" text-anchor="end">4.5</text>
<text x="699.1" y="347.5" font-size="22.3" text-anchor="middle">Specific capacity (mAh g<tspan dy="-0.62em" font-size="62%">−1</tspan><tspan dy="0.385em">)</tspan></text>
<text x="502" y="175" font-size="22.2" text-anchor="middle" transform="rotate(-90 502 175)">Voltage (V)</text>
<text x="547" y="70" font-size="20.2">P(PCEA) 1C</text>
<path d="M766.6 148H799" stroke="#9E2B2E" stroke-width="3.2"/>
<text x="803" y="154" font-size="18.3">1st</text>
<path d="M766.6 171.6H799" stroke="#D1352B" stroke-width="3.2"/>
<text x="803" y="177.6" font-size="18.3">8th</text>
<path d="M766.6 195.2H799" stroke="#F0824F" stroke-width="3.2"/>
<text x="803" y="201.2" font-size="18.3">100th</text>
<path d="M766.6 218.8H799" stroke="#FBD583" stroke-width="3.2"/>
<text x="803" y="224.8" font-size="18.3">200th</text>
<path d="M766.6 242.4H799" stroke="#DCEDF6" stroke-width="3.2"/>
<text x="803" y="248.4" font-size="18.3">300th</text>
<path d="M766.6 266H799" stroke="#8DB9DB" stroke-width="3.2"/>
<text x="803" y="272" font-size="18.3">400th</text>
<path d="M766.6 289.6H799" stroke="#3D6DB4" stroke-width="3.2"/>
<text x="803" y="295.6" font-size="18.3">500th</text>
<path d="M934.2 159.3C934.3 157.6 934.3 152 934.5 149.3C934.8 146.6 935.1 144.4 935.8 143.1C936.4 141.8 933.4 142.1 938.4 141.6C943.3 141.1 954 140.6 965.4 140C976.8 139.4 994.9 139.2 1007 138.1C1019.1 137.1 1027.8 135.9 1038.2 133.8C1048.6 131.7 1059 128.9 1069.4 125.7C1079.8 122.5 1088.5 119.3 1100.6 114.6C1112.7 109.8 1131.8 101.6 1142.2 97.2C1152.6 92.7 1157.5 90 1163 87.9C1168.6 85.7 1172 85.5 1175.5 84.1C1179 82.8 1181.2 81.3 1183.8 79.8C1186.4 78.2 1189.9 75.7 1191.1 74.8" fill="none" stroke="#9E2B2E" stroke-width="2.8" stroke-linejoin="round" stroke-linecap="butt"/>
<path d="M934.2 95.9C934.6 96.2 935.5 97.1 936.7 97.5C937.9 97.8 939.6 98 941.4 98.2C943.2 98.3 945.3 98 947.6 98.2C949.8 98.4 951.8 98.5 954.7 99.2C957.7 99.8 959.2 99.8 965 102.3C970.8 104.7 981.8 110.2 989.7 113.8C997.5 117.3 1004.4 120.2 1012.3 123.5C1020.1 126.9 1028.7 130.7 1036.9 133.9C1045.1 137.2 1053 140.1 1061.6 143.1C1070.1 146.1 1082.2 149.8 1088.3 151.8C1094.3 153.8 1094.6 154 1098.1 155.2C1101.6 156.5 1105.9 157.9 1109 159.1C1112.2 160.3 1114.6 161.2 1116.9 162.3C1119.1 163.5 1120.9 164.4 1122.6 165.9C1124.2 167.3 1125.6 168.8 1126.9 171C1128.2 173.2 1129.4 175.7 1130.4 179.2C1131.5 182.7 1132.4 187 1133.3 191.8C1134.1 196.7 1134.8 202.2 1135.5 208.4C1136.1 214.5 1136.5 217.9 1137.2 228.7C1137.9 239.6 1139.2 266 1139.6 273.5" fill="none" stroke="#9E2B2E" stroke-width="2.8" stroke-linejoin="round" stroke-linecap="butt"/>
<path d="M934.2 159.3C934.3 158.4 934.4 154.8 934.8 154C935.3 153.1 935.9 154.5 936.8 154.3C937.7 154.1 938.3 153.1 940.4 152.7C942.5 152.2 945.3 152.3 949.4 151.7C953.4 151.1 959.5 150.1 964.5 149.2C969.6 148.2 974.6 147.2 979.7 146.1C984.7 144.9 989.8 143.7 994.8 142.4C999.9 141.1 1004.9 139.7 1010 138.2C1015 136.7 1020.1 135.1 1025.1 133.4C1030.2 131.7 1035.2 129.9 1040.3 128C1045.3 126.2 1050.4 124.2 1055.4 122.1C1060.5 120.1 1065.5 117.9 1070.6 115.7C1075.6 113.4 1080.7 111.1 1085.7 108.6C1090.8 106.2 1095.8 103.3 1100.9 101C1106 98.8 1111 97.3 1116.1 95.1C1121.1 92.9 1126.2 91 1131.2 87.7C1136.3 84.3 1143.8 77 1146.4 74.8" fill="none" stroke="#D1352B" stroke-width="2.8" stroke-linejoin="round" stroke-linecap="butt"/>
<path d="M934.2 94.7C934.6 95 935.5 95.9 936.7 96.2C937.9 96.6 939.7 96.9 941.6 97C943.4 97.1 945.6 96.9 947.9 97.1C950.1 97.3 952.2 97.5 955.2 98.2C958.2 98.9 959.8 98.9 965.7 101.4C971.7 103.9 982.9 109.6 990.9 113.2C999 116.9 1006 119.8 1014 123.2C1022.1 126.7 1030.8 130.6 1039.2 133.9C1047.6 137.2 1055.7 140.1 1064.5 143.1C1073.2 146.1 1084.7 149.5 1091.8 151.8C1098.8 154.1 1102.6 155.5 1106.7 156.9C1110.9 158.3 1113.8 159.3 1116.6 160.4C1119.5 161.4 1121.7 162.2 1123.7 163.3C1125.8 164.3 1127.4 165.2 1128.9 166.5C1130.4 167.9 1131.6 169.3 1132.8 171.5C1134 173.7 1135 176.1 1136 179.6C1136.9 183 1137.8 187.2 1138.6 192.1C1139.3 196.9 1139.9 202.4 1140.5 208.5C1141.1 214.7 1141.5 218 1142.1 228.8C1142.7 239.6 1143.9 266 1144.3 273.5" fill="none" stroke="#D1352B" stroke-width="2.8" stroke-linejoin="round" stroke-linecap="butt"/>
<path d="M934.2 159.3C934.3 158.4 934.4 154.8 934.8 154C935.3 153.1 935.9 154.5 936.8 154.3C937.7 154.1 938.5 153.1 940.4 152.7C942.4 152.2 944.9 152.3 948.7 151.7C952.5 151.1 958.3 150.1 963.2 149.2C968 148.2 972.8 147.2 977.7 146.1C982.5 144.9 987.3 143.7 992.1 142.4C997 141.1 1001.8 139.7 1006.6 138.2C1011.5 136.7 1016.3 135.1 1021.1 133.4C1025.9 131.7 1030.8 129.9 1035.6 128C1040.4 126.2 1045.3 124.2 1050.1 122.1C1054.9 120.1 1059.7 117.9 1064.6 115.7C1069.4 113.4 1074.2 111.1 1079.1 108.6C1083.9 106.2 1088.7 103.3 1093.5 101C1098.4 98.8 1103.2 97.3 1108 95.1C1112.9 92.9 1117.7 91 1122.5 87.7C1127.3 84.3 1134.6 77 1137 74.8" fill="none" stroke="#F0824F" stroke-width="2.8" stroke-linejoin="round" stroke-linecap="butt"/>
<path d="M934.2 95.3C934.6 95.6 935.4 96.5 936.6 97C937.8 97.4 939.5 97.7 941.2 97.9C943 98.1 945.1 97.9 947.3 98.2C949.5 98.5 951.5 98.7 954.3 99.5C957.2 100.3 958.7 100.5 964.4 103.1C970.1 105.6 980.8 111.2 988.6 114.7C996.3 118.3 1003 121.2 1010.7 124.6C1018.4 128 1026.8 131.9 1034.9 135.2C1042.9 138.5 1050.6 141.4 1059 144.4C1067.4 147.3 1079.4 151.1 1085.2 153C1091 155 1090.8 155 1094.1 156.2C1097.3 157.4 1101.8 159 1105 160.2C1108.1 161.4 1110.6 162.3 1112.8 163.4C1115.1 164.6 1116.8 165.5 1118.5 166.9C1120.2 168.4 1121.6 169.9 1122.9 172.1C1124.2 174.3 1125.3 176.8 1126.4 180.2C1127.4 183.7 1128.4 187.9 1129.2 192.7C1130.1 197.5 1130.7 203 1131.4 209.1C1132.1 215.2 1132.5 218.5 1133.1 229.2C1133.8 240 1135.1 266.1 1135.5 273.5" fill="none" stroke="#F0824F" stroke-width="2.8" stroke-linejoin="round" stroke-linecap="butt"/>
<path d="M934.2 167.9C934.3 166.3 934.4 160.4 934.8 158C935.3 155.6 935.9 154.7 936.8 153.7C937.7 152.7 938.5 152.5 940.4 152.1C942.3 151.6 944.6 151.7 948.2 151.1C951.8 150.5 957.5 149.5 962.1 148.6C966.8 147.6 971.4 146.6 976.1 145.5C980.8 144.4 985.4 143.2 990.1 141.9C994.7 140.6 999.4 139.2 1004 137.7C1008.7 136.2 1013.3 134.6 1018 132.9C1022.7 131.3 1027.3 129.5 1032 127.6C1036.6 125.8 1041.3 123.8 1045.9 121.8C1050.6 119.7 1055.2 117.6 1059.9 115.3C1064.6 113.1 1069.2 110.8 1073.9 108.4C1078.5 105.9 1083.2 103 1087.8 100.8C1092.5 98.6 1097.1 97.2 1101.8 95C1106.4 92.8 1111.1 90.9 1115.8 87.6C1120.4 84.2 1127.4 77 1129.7 74.8" fill="none" stroke="#FBD583" stroke-width="2.8" stroke-linejoin="round" stroke-linecap="butt"/>
<path d="M934.2 96.6C934.6 96.8 935.4 97.8 936.5 98.3C937.7 98.8 939.3 99.2 941 99.5C942.7 99.8 944.8 99.7 946.9 100.1C949 100.4 950.9 100.8 953.7 101.7C956.4 102.7 957.9 103.2 963.4 105.8C968.9 108.4 979.3 113.7 986.8 117.2C994.3 120.7 1000.8 123.5 1008.2 126.8C1015.7 130.1 1023.8 133.8 1031.6 137C1039.4 140.3 1046.9 143.2 1055 146.2C1063.1 149.2 1073.8 152.6 1080.3 154.9C1086.8 157.2 1090.3 158.6 1094.1 160C1097.8 161.5 1100.5 162.5 1103 163.8C1105.6 165.1 1107.6 166.1 1109.5 167.7C1111.4 169.2 1113 170.7 1114.5 173C1116 175.3 1117.3 177.8 1118.5 181.3C1119.7 184.7 1120.8 189 1121.8 193.7C1122.7 198.5 1123.5 204 1124.3 210C1125 216 1125.5 219.3 1126.3 229.9C1127 240.4 1128.5 266.2 1129 273.5" fill="none" stroke="#FBD583" stroke-width="2.8" stroke-linejoin="round" stroke-linecap="butt"/>
<path d="M934.2 159.3C934.3 158.2 934.4 154.2 934.8 153C935.3 151.9 935.9 152.8 936.8 152.4C937.7 152.1 938.6 151.2 940.4 150.8C942.3 150.4 944.2 150.4 947.7 149.9C951.1 149.3 956.7 148.3 961.2 147.4C965.7 146.5 970.2 145.5 974.6 144.4C979.1 143.3 983.6 142.1 988.1 140.8C992.6 139.5 997.1 138.1 1001.6 136.7C1006.1 135.2 1010.6 133.7 1015.1 132C1019.6 130.4 1024.1 128.6 1028.6 126.8C1033.1 125 1037.6 123 1042.1 121C1046.6 119 1051.1 116.9 1055.5 114.7C1060 112.5 1064.5 110.2 1069 107.8C1073.5 105.4 1078 103 1082.5 100.4C1087 97.8 1091.5 95.2 1096 92.4C1100.5 89.7 1105 86.8 1109.5 83.9C1114 81 1120.7 76.3 1123 74.8" fill="none" stroke="#DCEDF6" stroke-width="2.8" stroke-linejoin="round" stroke-linecap="butt"/>
<path d="M934.2 98.4C934.6 98.7 935.4 99.8 936.4 100.3C937.5 100.9 939.1 101.4 940.8 101.8C942.4 102.2 944.4 102.2 946.4 102.8C948.4 103.3 950.3 103.7 952.9 104.9C955.6 106 957 107 962.3 109.6C967.6 112.2 977.6 117.2 984.8 120.5C992 123.9 998.2 126.5 1005.4 129.7C1012.6 132.9 1020.4 136.3 1027.9 139.5C1035.4 142.7 1042.6 145.7 1050.4 148.7C1058.2 151.7 1069.7 155.6 1074.8 157.4C1079.8 159.3 1078.1 158.7 1080.8 159.8C1083.6 160.9 1088.3 162.8 1091.3 164.3C1094.3 165.7 1096.7 166.9 1098.9 168.6C1101.1 170.3 1103 171.9 1104.7 174.2C1106.5 176.6 1108 179.2 1109.4 182.6C1110.8 186.1 1112.1 190.3 1113.2 195.1C1114.3 199.8 1115.2 205.2 1116.1 211.1C1117 217.1 1117.7 224 1118.4 230.7C1119.1 237.4 1119.6 244.1 1120.2 251.2C1120.7 258.3 1121.4 269.8 1121.6 273.5" fill="none" stroke="#DCEDF6" stroke-width="2.8" stroke-linejoin="round" stroke-linecap="butt"/>
<path d="M934.2 159.3C934.3 158.1 934.4 153.8 934.8 152.4C935.3 151.1 935.9 151.7 936.8 151.2C937.7 150.7 938.7 150 940.4 149.6C942.1 149.1 943.8 149.2 947 148.7C950.2 148.1 955.5 147.1 959.8 146.2C964 145.3 968.3 144.3 972.5 143.3C976.8 142.2 981.1 141 985.3 139.7C989.6 138.5 993.8 137.1 998.1 135.7C1002.3 134.2 1006.6 132.7 1010.9 131.1C1015.1 129.5 1019.4 127.8 1023.6 125.9C1027.9 124.1 1032.2 122.3 1036.4 120.3C1040.7 118.3 1044.9 116.2 1049.2 114C1053.5 111.9 1057.7 109.6 1062 107.3C1066.2 104.9 1070.5 102.5 1074.8 100C1079 97.5 1083.3 94.8 1087.5 92.1C1091.8 89.4 1096 86.6 1100.3 83.8C1104.6 80.9 1111 76.3 1113.1 74.8" fill="none" stroke="#8DB9DB" stroke-width="2.8" stroke-linejoin="round" stroke-linecap="butt"/>
<path d="M934.2 99.7C934.6 100 935.3 101.1 936.3 101.7C937.4 102.3 938.9 102.9 940.4 103.4C942 103.9 943.9 104 945.8 104.7C947.7 105.3 949.5 105.8 952 107.1C954.5 108.4 955.9 109.7 960.9 112.3C966 115 975.5 119.7 982.3 123C989.1 126.2 995.1 128.8 1001.9 131.9C1008.7 134.9 1016.2 138.3 1023.3 141.4C1030.4 144.5 1037.2 147.6 1044.7 150.6C1052.1 153.6 1062.2 157.1 1067.8 159.4C1073.4 161.6 1075.1 162.4 1078.3 164C1081.4 165.6 1084.3 167 1086.8 168.8C1089.3 170.6 1091.4 172.4 1093.4 174.8C1095.3 177.2 1097 179.9 1098.6 183.4C1100.2 186.9 1101.6 191.2 1102.9 195.9C1104.1 200.7 1105.1 206 1106.1 211.9C1107.1 217.8 1108 224.7 1108.8 231.3C1109.5 237.9 1110.1 244.5 1110.7 251.5C1111.3 258.5 1112.1 269.8 1112.4 273.5" fill="none" stroke="#8DB9DB" stroke-width="2.8" stroke-linejoin="round" stroke-linecap="butt"/>
<path d="M934.2 159.3C934.3 158 934.4 153.4 934.8 151.8C935.3 150.3 935.9 150.5 936.8 149.9C937.7 149.4 938.8 148.7 940.4 148.3C942 147.9 943.4 148 946.5 147.5C949.5 146.9 954.6 146 958.7 145.1C962.8 144.2 966.9 143.2 971 142.1C975.1 141.1 979.1 139.9 983.2 138.7C987.3 137.4 991.4 136.1 995.5 134.7C999.6 133.3 1003.7 131.8 1007.7 130.2C1011.8 128.6 1015.9 126.9 1020 125.1C1024.1 123.3 1028.2 121.5 1032.3 119.5C1036.3 117.6 1040.4 115.5 1044.5 113.4C1048.6 111.3 1052.7 109.1 1056.8 106.8C1060.9 104.4 1064.9 102.1 1069 99.6C1073.1 97.1 1077.2 94.5 1081.3 91.9C1085.4 89.2 1089.5 86.4 1093.5 83.6C1097.6 80.8 1103.8 76.3 1105.8 74.8" fill="none" stroke="#3D6DB4" stroke-width="2.8" stroke-linejoin="round" stroke-linecap="butt"/>
<path d="M934.2 101.5C934.5 101.9 935.3 103 936.2 103.7C937.2 104.3 938.7 105 940.2 105.5C941.7 106.1 943.5 106.4 945.3 107.1C947.2 107.8 948.9 108.4 951.3 109.8C953.7 111.2 955 112.9 959.8 115.5C964.7 118.1 973.8 122.6 980.3 125.7C986.9 128.8 992.5 131.2 999.1 134.2C1005.6 137.1 1012.8 140.2 1019.6 143.2C1026.4 146.3 1033 149.4 1040.1 152.4C1047.2 155.5 1057.8 159.5 1062.3 161.4C1066.8 163.3 1064.7 162.4 1067.1 163.7C1069.5 164.9 1073.8 167.1 1076.6 169C1079.4 171 1081.7 172.8 1083.9 175.3C1086 177.9 1087.9 180.6 1089.7 184.2C1091.4 187.7 1093 192 1094.4 196.7C1095.8 201.5 1097 206.8 1098.1 212.6C1099.1 218.5 1100.1 225.3 1101 231.8C1101.8 238.4 1102.5 244.9 1103.2 251.8C1103.8 258.8 1104.7 269.9 1105 273.5" fill="none" stroke="#3D6DB4" stroke-width="2.8" stroke-linejoin="round" stroke-linecap="butt"/>
<rect x="934.2" y="50" width="309.2" height="248.3" fill="none" stroke="#000" stroke-width="3"/>
<path d="M934.2 298.3L934.2 304M986.2 298.3L986.2 304M1038.2 298.3L1038.2 304M1090.2 298.3L1090.2 304M1142.2 298.3L1142.2 304M1194.2 298.3L1194.2 304" stroke="#000" stroke-width="2.4" fill="none"/>
<path d="M960.2 298.3L960.2 301.6M1012.2 298.3L1012.2 301.6M1064.2 298.3L1064.2 301.6M1116.2 298.3L1116.2 301.6M1168.2 298.3L1168.2 301.6M1220.2 298.3L1220.2 301.6" stroke="#000" stroke-width="1.7" fill="none"/>
<text x="934.2" y="323.3" font-size="19.6" text-anchor="middle">0</text>
<text x="986.2" y="323.3" font-size="19.6" text-anchor="middle">50</text>
<text x="1038.2" y="323.3" font-size="19.6" text-anchor="middle">100</text>
<text x="1090.2" y="323.3" font-size="19.6" text-anchor="middle">150</text>
<text x="1142.2" y="323.3" font-size="19.6" text-anchor="middle">200</text>
<text x="1194.2" y="323.3" font-size="19.6" text-anchor="middle">250</text>
<path d="M934.2 298.3L928.5 298.3M934.2 236.2L928.5 236.2M934.2 174.2L928.5 174.2M934.2 112.1L928.5 112.1M934.2 50L928.5 50" stroke="#000" stroke-width="2.4" fill="none"/>
<path d="M934.2 267.3L930.9 267.3M934.2 205.2L930.9 205.2M934.2 143.1L930.9 143.1M934.2 81L930.9 81" stroke="#000" stroke-width="1.7" fill="none"/>
<text x="925.7" y="305.3" font-size="19.6" text-anchor="end">2.5</text>
<text x="925.7" y="243.2" font-size="19.6" text-anchor="end">3.0</text>
<text x="925.7" y="181.2" font-size="19.6" text-anchor="end">3.5</text>
<text x="925.7" y="119.1" font-size="19.6" text-anchor="end">4.0</text>
<text x="925.7" y="57" font-size="19.6" text-anchor="end">4.5</text>
<text x="1088.8" y="346" font-size="22.3" text-anchor="middle">Specific capacity (mAh g<tspan dy="-0.62em" font-size="62%">−1</tspan><tspan dy="0.385em">)</tspan></text>
<text x="891.6" y="174.2" font-size="22.2" text-anchor="middle" transform="rotate(-90 891.6 174.2)">Voltage (V)</text>
<text x="938.4" y="71" font-size="20.2">P(AEEO) 1C</text>
<path d="M1154.6 144.4H1187" stroke="#9E2B2E" stroke-width="3.2"/>
<text x="1191" y="150.4" font-size="18.3">1st</text>
<path d="M1154.6 168H1187" stroke="#D1352B" stroke-width="3.2"/>
<text x="1191" y="173.9" font-size="18.3">6th</text>
<path d="M1154.6 191.5H1187" stroke="#F0824F" stroke-width="3.2"/>
<text x="1191" y="197.5" font-size="18.3">100th</text>
<path d="M1154.6 215.1H1187" stroke="#FBD583" stroke-width="3.2"/>
<text x="1191" y="221" font-size="18.3">200th</text>
<path d="M1154.6 238.6H1187" stroke="#DCEDF6" stroke-width="3.2"/>
<text x="1191" y="244.6" font-size="18.3">300th</text>
<path d="M1154.6 262.1H1187" stroke="#8DB9DB" stroke-width="3.2"/>
<text x="1191" y="268.1" font-size="18.3">400th</text>
<path d="M1154.6 285.7H1187" stroke="#3D6DB4" stroke-width="3.2"/>
<text x="1191" y="291.7" font-size="18.3">500th</text>
<path d="M1358.8 101.6L1360 90.3M1411.6 90.4L1412.8 70.7M1412.8 70.7L1413.9 104.4M1413.9 104.4L1415 90M1615 89.9L1616.1 98.9M1618.4 97.9L1619.5 88.4M1633 86.8L1634.1 96.7M1636.3 98.8L1637.4 87.6M1653.2 86.4L1654.3 95.7M1673.4 89.6L1674.5 99.1M1677.9 98.1L1679 88.8M1692.5 87.5L1693.6 97.6M1693.6 97.6L1694.7 88M1698.1 91.8L1699.2 82.8M1699.2 82.8L1700.4 95.4M1702.6 80.4L1703.7 91.7M1722.8 93.9L1724 80.4M1726.2 86.2L1727.3 99.4M1727.3 99.4L1728.4 89.4M1734.1 87.9L1735.2 97.2M1735.2 97.2L1736.3 87.4M1740.8 82L1741.9 93.9M1747.5 94.1L1748.7 82.5M1749.8 84.5L1750.9 93.6M1752 96L1753.2 84.5M1798.1 96.3L1799.2 85.1M1822.8 90L1823.9 80.1M1827.3 89.5L1828.4 79.8M1828.4 79.8L1829.6 89.3M1859.9 95.7L1861 84M1868.9 86L1870 96.6" stroke="#31589B" stroke-width="2.4" fill="none"/>
<polyline points="1358.8,101.6 1360,90.3 1361.1,90.7 1362.2,92.1 1363.3,90.9 1364.5,87.8 1365.6,88.7 1366.7,87.6 1367.8,89 1369,89 1370.1,89.6 1371.2,92.4 1372.3,89.2 1373.5,89.1 1374.6,89.1 1375.7,92.4 1376.8,93.1 1377.9,92 1379.1,91.1 1380.2,89.8 1381.3,90 1382.4,89.2 1383.6,90.8 1384.7,89.7 1385.8,89.3 1386.9,90.9 1388.1,87.6 1389.2,88.7 1390.3,87.9 1391.4,90.5 1392.5,91.2 1393.7,90.8 1394.8,90.3 1395.9,89.1 1397,89.5 1398.2,90.6 1399.3,91.5 1400.4,91.1 1401.5,88.4 1402.7,90.9 1403.8,89.8 1404.9,89.3 1406,92.1 1407.2,90.3 1408.3,88.1 1409.4,92.6 1410.5,91 1411.6,90.4 1412.8,70.7 1413.9,104.4 1415,90 1416.1,92.2 1417.3,89.2 1418.4,88.8 1419.5,88.3 1420.6,87.5 1421.8,89 1422.9,89.6 1424,91.9 1425.1,89.5 1426.3,90.8 1427.4,90.8 1428.5,92.1 1429.6,91.9 1430.7,91.2 1431.9,88.3 1433,92.7 1434.1,92.7 1435.2,90.2 1436.4,87.9 1437.5,88.7 1438.6,92.6 1439.7,94.3 1440.9,90.3 1442,91.2 1443.1,91.9 1444.2,88.9 1445.3,88.1 1446.5,89.4 1447.6,89.5 1448.7,89.3 1449.8,87.5 1451,88.6 1452.1,88.9 1453.2,89 1454.3,92.1 1455.5,88.5 1456.6,88.3 1457.7,88.9 1458.8,92.7 1460,91.5 1461.1,89 1462.2,92.5 1463.3,90.8 1464.4,88.6 1465.6,91.7 1466.7,87.9 1467.8,88.8 1468.9,90 1470.1,89.5 1471.2,88.9 1472.3,89.6 1473.4,88.2 1474.6,90.6 1475.7,90.7 1476.8,88.6 1477.9,89.7 1479.1,91.3 1480.2,88.8 1481.3,87.6 1482.4,90.2 1483.5,92.1 1484.7,90.6 1485.8,90.3 1486.9,90.5 1488,88 1489.2,91.1 1490.3,88.3 1491.4,91.6 1492.5,91.5 1493.7,89.4 1494.8,88.2 1495.9,88.3 1497,89.2 1498.1,89.6 1499.3,89.7 1500.4,89.1 1501.5,90.1 1502.6,89.6 1503.8,89.1 1504.9,89.8 1506,88.8 1507.1,88.9 1508.3,86.8 1509.4,88.9 1510.5,90.4 1511.6,90.6 1512.8,90.1 1513.9,88.6 1515,90.2 1516.1,89.5 1517.2,87.1 1518.4,93.3 1519.5,92.3 1520.6,90.1 1521.7,89.4 1522.9,89.5 1524,90.6 1525.1,89.1 1526.2,89.4 1527.4,90.7 1528.5,86.5 1529.6,88.8 1530.7,90.6 1531.9,90.3 1533,90.4 1534.1,90.2 1535.2,94.1 1536.3,91.6 1537.5,88.8 1538.6,91.5 1539.7,90.4 1540.8,88.7 1542,88.4 1543.1,87.5 1544.2,92 1545.3,90.9 1546.5,90.7 1547.6,89.2 1548.7,88.2 1549.8,93.7 1550.9,89.1 1552.1,92 1553.2,89.4 1554.3,92.1 1555.4,90.2 1556.6,88.2 1557.7,89.9 1558.8,89.7 1559.9,88.7 1561.1,89.5 1562.2,90 1563.3,87.7 1564.4,88 1565.6,90 1566.7,85.9 1567.8,90.9 1568.9,88.8 1570,90.2 1571.2,89.8 1572.3,88.9 1573.4,89.4 1574.5,88.9 1575.7,92.1 1576.8,92.7 1577.9,89.6 1579,91.4 1580.2,91.8 1581.3,92.6 1582.4,88.6 1583.5,88.6 1584.7,87.5 1585.8,90.9 1586.9,90.2 1588,91.7 1589.1,89.2 1590.3,87.5 1591.4,90.8 1592.5,87.8 1593.6,88.1 1594.8,89.9 1595.9,92.9 1597,88.5 1598.1,89.8 1599.3,90.9 1600.4,89.6 1601.5,89.3 1602.6,87.6 1603.7,91.1 1604.9,88.5 1606,87.5 1607.1,87.3 1608.2,89.7 1609.4,91.1 1610.5,86.6 1611.6,88.9 1612.7,89.3 1613.9,84.3 1615,89.9 1616.1,98.9 1617.2,93.3 1618.4,97.9 1619.5,88.4 1620.6,88.4 1621.7,92.1 1622.8,90.5 1624,86.8 1625.1,89.1 1626.2,84.6 1627.3,89.2 1628.5,85.8 1629.6,83.3 1630.7,82.4 1631.8,91.1 1633,86.8 1634.1,96.7 1635.2,95.6 1636.3,98.8 1637.4,87.6 1638.6,94.3 1639.7,90.9 1640.8,90.9 1641.9,90.3 1643.1,92.4 1644.2,89.6 1645.3,82.9 1646.4,88.4 1647.6,87.6 1648.7,85.6 1649.8,89.9 1650.9,94.9 1652.1,93.1 1653.2,86.4 1654.3,95.7 1655.4,93.5 1656.5,86.8 1657.7,86.3 1658.8,89.2 1659.9,86.7 1661,88.7 1662.2,94.3 1663.3,97 1664.4,93.9 1665.5,87.2 1666.7,91.6 1667.8,93.8 1668.9,93.8 1670,96.7 1671.2,91.8 1672.3,95 1673.4,89.6 1674.5,99.1 1675.6,90.5 1676.8,92.6 1677.9,98.1 1679,88.8 1680.1,90.8 1681.3,98.9 1682.4,95.2 1683.5,89.9 1684.6,91.8 1685.8,87.3 1686.9,86.5 1688,86.7 1689.1,88.1 1690.2,84.4 1691.4,86.3 1692.5,87.5 1693.6,97.6 1694.7,88 1695.9,84.5 1697,90.1 1698.1,91.8 1699.2,82.8 1700.4,95.4 1701.5,89.3 1702.6,80.4 1703.7,91.7 1704.9,87.7 1706,82.2 1707.1,88.9 1708.2,87.6 1709.3,86 1710.5,92.7 1711.6,90.9 1712.7,89 1713.8,86.6 1715,89.5 1716.1,90.7 1717.2,94.1 1718.3,92.2 1719.5,87 1720.6,89 1721.7,93.1 1722.8,93.9 1724,80.4 1725.1,83.6 1726.2,86.2 1727.3,99.4 1728.4,89.4 1729.6,88 1730.7,83 1731.8,86.9 1732.9,89.7 1734.1,87.9 1735.2,97.2 1736.3,87.4 1737.4,88.2 1738.6,92.4 1739.7,85.3 1740.8,82 1741.9,93.9 1743,93.4 1744.2,89.5 1745.3,89.2 1746.4,91.4 1747.5,94.1 1748.7,82.5 1749.8,84.5 1750.9,93.6 1752,96 1753.2,84.5 1754.3,85.1 1755.4,81.9 1756.5,85.2 1757.7,92.4 1758.8,89.5 1759.9,98.3 1761,94.6 1762.1,91.1 1763.3,88.2 1764.4,92.5 1765.5,91 1766.6,88.4 1767.8,88.2 1768.9,87.2 1770,88.6 1771.1,91 1772.3,87.1 1773.4,89.2 1774.5,93.1 1775.6,93.1 1776.8,90.6 1777.9,90.5 1779,89.5 1780.1,89.9 1781.2,89.3 1782.4,90.4 1783.5,95 1784.6,89.4 1785.7,85.8 1786.9,87.5 1788,90.2 1789.1,88.3 1790.2,93.4 1791.4,98.1 1792.5,91.4 1793.6,93.9 1794.7,87.9 1795.8,93.8 1797,101 1798.1,96.3 1799.2,85.1 1800.3,90.5 1801.5,95.4 1802.6,94.1 1803.7,88.8 1804.8,87.8 1806,88.9 1807.1,84 1808.2,86 1809.3,89.3 1810.5,87.5 1811.6,83.1 1812.7,84.8 1813.8,85 1814.9,93.2 1816.1,91.2 1817.2,87.4 1818.3,90.6 1819.4,86 1820.6,86.9 1821.7,85.8 1822.8,90 1823.9,80.1 1825.1,83.2 1826.2,89.5 1827.3,89.5 1828.4,79.8 1829.6,89.3 1830.7,86.5 1831.8,85.5 1832.9,89.1 1834,94.4 1835.2,90.1 1836.3,88.6 1837.4,85.3 1838.5,86 1839.7,89.1 1840.8,86.5 1841.9,87.2 1843,88.6 1844.2,89.5 1845.3,90.9 1846.4,87.5 1847.5,93.6 1848.6,93.2 1849.8,90.6 1850.9,95.8 1852,92.9 1853.1,98.4 1854.3,94.3 1855.4,88.7 1856.5,87.5 1857.6,89.7 1858.8,90.8 1859.9,95.7 1861,84 1862.1,86.8 1863.3,85.1 1864.4,92.5 1865.5,91.2 1866.6,97.3 1867.7,88.4 1868.9,86 1870,96.6 1871.1,91.5 1872.2,87.8 1873.4,96.4 1874.5,98.4 1875.6,95.8 1876.7,93.6 1877.9,96.2 1879,91.1 1880.1,89.2 1881.2,87.4 1882.4,86.7 1883.5,83.5 1884.6,87.8 1885.7,91.5 1886.8,91.1 1888,91.8 1889.1,92 1890.2,90.5 1891.3,90.1 1892.5,89.3 1893.6,92.2 1894.7,92.3 1895.8,90.5 1897,90.4 1898.1,90.5 1899.2,90.2 1900.3,91.2 1901.4,89.2 1902.6,89.3 1903.7,90 1904.8,91 1905.9,90.5 1907.1,94.2 1908.2,92.3 1909.3,90.4 1910.4,92.3 1911.6,90.2 1912.7,89.8 1913.8,92 1914.9,90.8 1916.1,90.6 1917.2,89.4 1918.3,89" fill="none" stroke="#31589B" stroke-width="0.9" stroke-linejoin="round" marker-start="url(#mo31589B40)" marker-mid="url(#mo31589B40)" marker-end="url(#mo31589B40)"/>
<path d="M1588 90.4L1589.1 64.1M1589.1 64.1L1590.3 134.4M1590.3 134.4L1591.4 89.9M1621.7 83.9L1622.8 93.4M1627.3 82.5L1628.5 98.7M1634.1 97.3L1635.2 87.3M1638.6 95.9L1639.7 86.3M1665.5 95.8L1666.7 82.3M1672.3 93.8L1673.4 84.4M1673.4 84.4L1674.5 95.1M1684.6 97.2L1685.8 84.9M1698.1 92.8L1699.2 58.5M1699.2 58.5L1700.4 130.7M1700.4 130.7L1701.5 95.2M1717.2 78L1718.3 88.4M1720.6 87.8L1721.7 98M1754.3 85.3L1755.4 95M1755.4 95L1756.5 85M1781.2 99.3L1782.4 88.8M1800.3 92.4L1801.5 78.2M1801.5 78.2L1802.6 89.8M1803.7 93.7L1804.8 84.2M1813.8 94.3L1814.9 56.6M1814.9 56.6L1816.1 129.8M1816.1 129.8L1817.2 90.7M1828.4 83.1L1829.6 92.9M1850.9 94.7L1852 85.3M1874.5 84.9L1875.6 94.1M1881.2 85.4L1882.4 94.9" stroke="#2790A7" stroke-width="2.4" fill="none"/>
<polyline points="1358.8,101.6 1360,92.8 1361.1,90.3 1362.2,89 1363.3,90 1364.5,89.5 1365.6,87.4 1366.7,89.9 1367.8,91.8 1369,94.1 1370.1,90 1371.2,88 1372.3,89.7 1373.5,90.2 1374.6,89.4 1375.7,91.2 1376.8,90 1377.9,88.3 1379.1,88.8 1380.2,84.7 1381.3,89.1 1382.4,92.5 1383.6,88.2 1384.7,89.1 1385.8,90.1 1386.9,87.8 1388.1,88.1 1389.2,89.7 1390.3,88.4 1391.4,91.5 1392.5,91.7 1393.7,90.5 1394.8,89.3 1395.9,91.1 1397,88.8 1398.2,88.6 1399.3,90.8 1400.4,88.1 1401.5,86.3 1402.7,89.9 1403.8,91.5 1404.9,90.5 1406,91.7 1407.2,90.9 1408.3,89.6 1409.4,90.6 1410.5,88.9 1411.6,90.6 1412.8,88.8 1413.9,88.8 1415,90.1 1416.1,87.4 1417.3,89.3 1418.4,89.9 1419.5,89.4 1420.6,92.4 1421.8,88.4 1422.9,86.5 1424,87.6 1425.1,89.4 1426.3,93 1427.4,90.7 1428.5,89.6 1429.6,91.1 1430.7,92.1 1431.9,87.9 1433,86.2 1434.1,90.5 1435.2,89.6 1436.4,89.5 1437.5,92.7 1438.6,90.9 1439.7,90 1440.9,89.9 1442,91.6 1443.1,88.9 1444.2,91.2 1445.3,90.1 1446.5,89.4 1447.6,88.4 1448.7,90.3 1449.8,90.7 1451,90.7 1452.1,88.9 1453.2,91.1 1454.3,88.5 1455.5,90.8 1456.6,89.4 1457.7,88.4 1458.8,89.9 1460,88.8 1461.1,89.9 1462.2,92.3 1463.3,91.4 1464.4,89.6 1465.6,92.3 1466.7,90.2 1467.8,88.4 1468.9,88.1 1470.1,87.9 1471.2,88.7 1472.3,89 1473.4,91.7 1474.6,91.7 1475.7,89.9 1476.8,89.9 1477.9,91.7 1479.1,91.5 1480.2,90.6 1481.3,89.2 1482.4,88 1483.5,90.3 1484.7,88.7 1485.8,89.3 1486.9,90.9 1488,87 1489.2,89 1490.3,91.8 1491.4,88.6 1492.5,89.4 1493.7,88.7 1494.8,89.7 1495.9,91.8 1497,91.7 1498.1,91 1499.3,91 1500.4,92 1501.5,89.6 1502.6,92.9 1503.8,87.7 1504.9,87.7 1506,91.3 1507.1,88.7 1508.3,91 1509.4,89.6 1510.5,88.3 1511.6,93.5 1512.8,89.5 1513.9,88.7 1515,89.5 1516.1,92.8 1517.2,88.7 1518.4,90.1 1519.5,86.7 1520.6,87.7 1521.7,87.8 1522.9,90.4 1524,91.8 1525.1,90 1526.2,89.8 1527.4,91.1 1528.5,87.8 1529.6,86.1 1530.7,86.9 1531.9,87.5 1533,90.4 1534.1,93 1535.2,90.1 1536.3,90.4 1537.5,90.1 1538.6,90.1 1539.7,88.6 1540.8,88.2 1542,87.2 1543.1,88.8 1544.2,87.6 1545.3,90 1546.5,91.7 1547.6,90.6 1548.7,90.1 1549.8,90.7 1550.9,91.3 1552.1,86.6 1553.2,88.9 1554.3,88.6 1555.4,89.7 1556.6,90 1557.7,95.2 1558.8,92.3 1559.9,90.7 1561.1,88.8 1562.2,89.1 1563.3,90.8 1564.4,92.1 1565.6,90.8 1566.7,88.5 1567.8,89.4 1568.9,90.2 1570,90.5 1571.2,89 1572.3,86.7 1573.4,89.7 1574.5,90.5 1575.7,89.9 1576.8,88.3 1577.9,90.9 1579,88.8 1580.2,90.6 1581.3,92.5 1582.4,91.5 1583.5,89.1 1584.7,88.5 1585.8,89.6 1586.9,89.6 1588,90.4 1589.1,64.1 1590.3,134.4 1591.4,89.9 1592.5,91 1593.6,91.4 1594.8,90 1595.9,89.4 1597,90.4 1598.1,91.6 1599.3,91.9 1600.4,88.9 1601.5,90.9 1602.6,89.7 1603.7,90.2 1604.9,93 1606,92.6 1607.1,90.2 1608.2,89.9 1609.4,91.3 1610.5,93.1 1611.6,91.3 1612.7,92.8 1613.9,96.8 1615,89.3 1616.1,90.7 1617.2,88.3 1618.4,87.5 1619.5,88.3 1620.6,87.5 1621.7,83.9 1622.8,93.4 1624,91.4 1625.1,92.8 1626.2,84.4 1627.3,82.5 1628.5,98.7 1629.6,93.6 1630.7,90 1631.8,88.5 1633,88.9 1634.1,97.3 1635.2,87.3 1636.3,95.9 1637.4,93.8 1638.6,95.9 1639.7,86.3 1640.8,92 1641.9,83.4 1643.1,83.2 1644.2,85.2 1645.3,87.3 1646.4,84.6 1647.6,92.4 1648.7,89.3 1649.8,90.2 1650.9,94.7 1652.1,93.1 1653.2,92.9 1654.3,93.6 1655.4,93.7 1656.5,94 1657.7,87.5 1658.8,89 1659.9,91.2 1661,89.7 1662.2,88.5 1663.3,92.8 1664.4,93 1665.5,95.8 1666.7,82.3 1667.8,81.9 1668.9,86.5 1670,92.8 1671.2,99.3 1672.3,93.8 1673.4,84.4 1674.5,95.1 1675.6,95.3 1676.8,89.6 1677.9,90.4 1679,89.2 1680.1,91.6 1681.3,91.3 1682.4,94.8 1683.5,89.8 1684.6,97.2 1685.8,84.9 1686.9,92.9 1688,87.3 1689.1,85.9 1690.2,79.6 1691.4,87.4 1692.5,91.6 1693.6,84.3 1694.7,87.1 1695.9,86.9 1697,86.4 1698.1,92.8 1699.2,58.5 1700.4,130.7 1701.5,95.2 1702.6,91.3 1703.7,88 1704.9,86 1706,92 1707.1,94.2 1708.2,93.2 1709.3,91.3 1710.5,92 1711.6,89.5 1712.7,84.7 1713.8,86.4 1715,88.2 1716.1,85.4 1717.2,78 1718.3,88.4 1719.5,88.7 1720.6,87.8 1721.7,98 1722.8,89.5 1724,89.4 1725.1,84.8 1726.2,87.9 1727.3,96.5 1728.4,90.7 1729.6,93.5 1730.7,91.3 1731.8,87 1732.9,89.5 1734.1,86.7 1735.2,91.8 1736.3,89.4 1737.4,89.6 1738.6,86.6 1739.7,87.1 1740.8,90.9 1741.9,87.3 1743,88.2 1744.2,89.5 1745.3,84.8 1746.4,90.1 1747.5,91.6 1748.7,91.4 1749.8,90 1750.9,81.4 1752,88 1753.2,89.1 1754.3,85.3 1755.4,95 1756.5,85 1757.7,88.8 1758.8,88.4 1759.9,96 1761,95.8 1762.1,90.6 1763.3,88.6 1764.4,92.3 1765.5,90.7 1766.6,95.8 1767.8,95.5 1768.9,91.3 1770,90.7 1771.1,94.4 1772.3,95.8 1773.4,91.8 1774.5,89.4 1775.6,90.6 1776.8,89.1 1777.9,88.7 1779,89.7 1780.1,91 1781.2,99.3 1782.4,88.8 1783.5,96.8 1784.6,94.7 1785.7,88.8 1786.9,91 1788,91.3 1789.1,85.5 1790.2,88.2 1791.4,93.9 1792.5,90.3 1793.6,88.3 1794.7,95.5 1795.8,88.2 1797,85.4 1798.1,91.5 1799.2,93.7 1800.3,92.4 1801.5,78.2 1802.6,89.8 1803.7,93.7 1804.8,84.2 1806,86.7 1807.1,86.1 1808.2,92.1 1809.3,83.4 1810.5,87.9 1811.6,87.7 1812.7,95.2 1813.8,94.3 1814.9,56.6 1816.1,129.8 1817.2,90.7 1818.3,89 1819.4,88.1 1820.6,85 1821.7,86.1 1822.8,93.9 1823.9,85.4 1825.1,88.2 1826.2,88.6 1827.3,85 1828.4,83.1 1829.6,92.9 1830.7,87.3 1831.8,83.4 1832.9,91.7 1834,88.5 1835.2,86.3 1836.3,87.9 1837.4,87.4 1838.5,85.8 1839.7,87.5 1840.8,89.3 1841.9,97.2 1843,90.3 1844.2,93.4 1845.3,90 1846.4,91.1 1847.5,87.1 1848.6,91.3 1849.8,94.9 1850.9,94.7 1852,85.3 1853.1,85.7 1854.3,92.4 1855.4,98.6 1856.5,96.9 1857.6,97.7 1858.8,95.7 1859.9,95.1 1861,89.5 1862.1,85.5 1863.3,90.2 1864.4,90.5 1865.5,87.9 1866.6,90.5 1867.7,91.6 1868.9,88.5 1870,82.2 1871.1,89.8 1872.2,86.9 1873.4,81.3 1874.5,84.9 1875.6,94.1 1876.7,92.6 1877.9,93.7 1879,94.3 1880.1,87.9 1881.2,85.4 1882.4,94.9 1883.5,93.1 1884.6,91.3 1885.7,90.3 1886.8,88.5 1888,91 1889.1,88.8 1890.2,89.7 1891.3,89.8 1892.5,88.2 1893.6,89.8 1894.7,92 1895.8,89.7 1897,88.7 1898.1,92.5 1899.2,89.9 1900.3,91.5 1901.4,88.9 1902.6,89.2 1903.7,91.7 1904.8,88.2 1905.9,92 1907.1,90.5 1908.2,89.3 1909.3,89.6 1910.4,88.7 1911.6,90.4 1912.7,90.2 1913.8,90.7 1914.9,90.1 1916.1,93.4 1917.2,92.3 1918.3,92.7" fill="none" stroke="#2790A7" stroke-width="0.9" stroke-linejoin="round" marker-start="url(#moD5EAF440)" marker-mid="url(#moD5EAF440)" marker-end="url(#moD5EAF440)"/>
<path d="M1363.3 83.5L1364.5 94.6M1627.3 89L1628.5 101.9M1628.5 101.9L1629.6 87.3M1636.3 93.7L1637.4 84M1638.6 89.5L1639.7 79.4M1639.7 79.4L1640.8 88.5M1665.5 97L1666.7 85.1M1668.9 84.9L1670 96.2M1677.9 82L1679 92.2M1721.7 96.1L1722.8 86.6M1729.6 84.8L1730.7 94.9M1743 96.9L1744.2 87.4M1763.3 100.1L1764.4 89.4M1768.9 102.6L1770 91.8M1779 85.7L1780.1 95.9M1786.9 99.9L1788 86.3M1790.2 83.1L1791.4 94.4M1794.7 79.2L1795.8 88.8M1822.8 88.3L1823.9 78.5M1823.9 78.5L1825.1 91.5M1827.3 85.7L1828.4 96.5M1848.6 85.4L1849.8 94.7M1853.1 93.9L1854.3 83M1854.3 83L1855.4 92.3M1855.4 92.3L1856.5 82.8M1858.8 82.8L1859.9 92.8M1864.4 90.4L1865.5 79.3M1876.7 83.2L1877.9 93M1880.1 81.2L1881.2 94.2" stroke="#9CC7E2" stroke-width="2.4" fill="none"/>
<polyline points="1358.8,95.2 1360,91.5 1361.1,94.6 1362.2,88.6 1363.3,83.5 1364.5,94.6 1365.6,90.6 1366.7,88.9 1367.8,90.5 1369,88.8 1370.1,93.6 1371.2,89.3 1372.3,89.2 1373.5,89.8 1374.6,91 1375.7,89.1 1376.8,90.6 1377.9,89.8 1379.1,90.8 1380.2,94 1381.3,90.8 1382.4,89.8 1383.6,88.7 1384.7,91.2 1385.8,90.3 1386.9,89 1388.1,89.6 1389.2,87.8 1390.3,86.2 1391.4,90.8 1392.5,93.4 1393.7,89.2 1394.8,87.3 1395.9,87.9 1397,88.2 1398.2,90.7 1399.3,91.3 1400.4,88.8 1401.5,91.3 1402.7,93.3 1403.8,92.3 1404.9,86.3 1406,86 1407.2,90.4 1408.3,91.3 1409.4,89.9 1410.5,91.2 1411.6,88 1412.8,89.7 1413.9,91.8 1415,88.1 1416.1,90.6 1417.3,89.7 1418.4,90 1419.5,90.5 1420.6,89.6 1421.8,91.1 1422.9,93.3 1424,94.4 1425.1,93 1426.3,91.9 1427.4,90.4 1428.5,90 1429.6,89.1 1430.7,89.6 1431.9,91.3 1433,91.4 1434.1,93.9 1435.2,91.1 1436.4,89.4 1437.5,89 1438.6,90 1439.7,90.3 1440.9,88.5 1442,89.7 1443.1,88.7 1444.2,88.8 1445.3,89.4 1446.5,87.7 1447.6,90.5 1448.7,90.7 1449.8,91.5 1451,91.6 1452.1,87.7 1453.2,86.6 1454.3,89.3 1455.5,88.9 1456.6,87.8 1457.7,88.2 1458.8,87.6 1460,91.7 1461.1,91.4 1462.2,89.5 1463.3,87.5 1464.4,89.3 1465.6,91.3 1466.7,90.9 1467.8,91.3 1468.9,91.7 1470.1,87.8 1471.2,90.6 1472.3,90.1 1473.4,86.4 1474.6,87.3 1475.7,88.9 1476.8,90.8 1477.9,89.5 1479.1,87.2 1480.2,88.4 1481.3,87.5 1482.4,89.3 1483.5,89 1484.7,90.1 1485.8,89.3 1486.9,87.7 1488,91.9 1489.2,90.5 1490.3,89.7 1491.4,90.9 1492.5,90.7 1493.7,88.8 1494.8,86.4 1495.9,88.2 1497,89.1 1498.1,92.4 1499.3,87.2 1500.4,89.3 1501.5,89.9 1502.6,91.9 1503.8,90.5 1504.9,91.9 1506,90.3 1507.1,89.3 1508.3,89.8 1509.4,89.5 1510.5,91.3 1511.6,87.9 1512.8,90.7 1513.9,93.2 1515,91 1516.1,91.5 1517.2,92 1518.4,91 1519.5,89.7 1520.6,91.9 1521.7,90.6 1522.9,87.7 1524,88.4 1525.1,89.9 1526.2,89.8 1527.4,90.2 1528.5,90.1 1529.6,88.8 1530.7,89.9 1531.9,94 1533,90.8 1534.1,91.7 1535.2,89.2 1536.3,90.9 1537.5,89.9 1538.6,86.3 1539.7,91 1540.8,92.1 1542,92.8 1543.1,94.6 1544.2,94.1 1545.3,90.2 1546.5,91.1 1547.6,93.4 1548.7,93.2 1549.8,89.6 1550.9,91.2 1552.1,90.9 1553.2,89.6 1554.3,87.6 1555.4,86.3 1556.6,87.5 1557.7,89.3 1558.8,89.5 1559.9,86.9 1561.1,87 1562.2,89.9 1563.3,89.2 1564.4,89.4 1565.6,89.8 1566.7,90.8 1567.8,92.4 1568.9,91.4 1570,92.9 1571.2,88.5 1572.3,88.8 1573.4,91.8 1574.5,88 1575.7,88.1 1576.8,92.8 1577.9,87.5 1579,88.1 1580.2,86.1 1581.3,91.3 1582.4,89.4 1583.5,89.2 1584.7,89.5 1585.8,89.6 1586.9,88.1 1588,92.2 1589.1,92.5 1590.3,92.9 1591.4,91.5 1592.5,91.3 1593.6,89.6 1594.8,89.5 1595.9,89.8 1597,91.1 1598.1,91 1599.3,88.6 1600.4,88.4 1601.5,89.5 1602.6,90.4 1603.7,87.5 1604.9,90.5 1606,89 1607.1,87.9 1608.2,90 1609.4,88.6 1610.5,94.2 1611.6,86.4 1612.7,88.4 1613.9,96.6 1615,88.4 1616.1,93.6 1617.2,85.1 1618.4,92 1619.5,91.1 1620.6,89 1621.7,91.3 1622.8,89.1 1624,92.3 1625.1,87.5 1626.2,89.5 1627.3,89 1628.5,101.9 1629.6,87.3 1630.7,89.3 1631.8,97.7 1633,91.1 1634.1,88.2 1635.2,84.9 1636.3,93.7 1637.4,84 1638.6,89.5 1639.7,79.4 1640.8,88.5 1641.9,86.7 1643.1,91 1644.2,95.1 1645.3,86.2 1646.4,85.3 1647.6,82.3 1648.7,84.7 1649.8,91.5 1650.9,97.6 1652.1,94.4 1653.2,93.8 1654.3,94.3 1655.4,88.3 1656.5,88.2 1657.7,90.8 1658.8,89.4 1659.9,90.5 1661,89.2 1662.2,86.5 1663.3,85.1 1664.4,92 1665.5,97 1666.7,85.1 1667.8,88.5 1668.9,84.9 1670,96.2 1671.2,92.7 1672.3,90.4 1673.4,96.4 1674.5,93.5 1675.6,87.5 1676.8,84.8 1677.9,82 1679,92.2 1680.1,96.6 1681.3,89 1682.4,85.7 1683.5,88.3 1684.6,95.4 1685.8,87.6 1686.9,86.1 1688,86.8 1689.1,91.5 1690.2,89 1691.4,86.3 1692.5,91.7 1693.6,98.4 1694.7,90.2 1695.9,87.9 1697,89.5 1698.1,86 1699.2,91.8 1700.4,90.7 1701.5,91.5 1702.6,87.8 1703.7,82.6 1704.9,89.6 1706,80.9 1707.1,81.5 1708.2,84.8 1709.3,86.4 1710.5,81.5 1711.6,89.1 1712.7,90.3 1713.8,94.7 1715,88.9 1716.1,83.9 1717.2,86.4 1718.3,87.4 1719.5,90.4 1720.6,89.3 1721.7,96.1 1722.8,86.6 1724,91.1 1725.1,95.1 1726.2,94.3 1727.3,94.5 1728.4,87.1 1729.6,84.8 1730.7,94.9 1731.8,86.9 1732.9,85.5 1734.1,91.6 1735.2,96.8 1736.3,94.6 1737.4,93.7 1738.6,89.2 1739.7,91.4 1740.8,99.2 1741.9,90.8 1743,96.9 1744.2,87.4 1745.3,94.8 1746.4,94 1747.5,94.5 1748.7,93.3 1749.8,85 1750.9,85.3 1752,86.4 1753.2,87.9 1754.3,96.4 1755.4,93.6 1756.5,93.1 1757.7,94.9 1758.8,88.7 1759.9,93 1761,93.7 1762.1,95.3 1763.3,100.1 1764.4,89.4 1765.5,84 1766.6,88 1767.8,93.9 1768.9,102.6 1770,91.8 1771.1,85 1772.3,87.7 1773.4,85.5 1774.5,82.6 1775.6,83.6 1776.8,90.7 1777.9,85.5 1779,85.7 1780.1,95.9 1781.2,93 1782.4,96.8 1783.5,91.8 1784.6,87.8 1785.7,94.3 1786.9,99.9 1788,86.3 1789.1,87.6 1790.2,83.1 1791.4,94.4 1792.5,86.2 1793.6,80.1 1794.7,79.2 1795.8,88.8 1797,88.6 1798.1,90.4 1799.2,85.7 1800.3,84.6 1801.5,88.5 1802.6,95.7 1803.7,87.9 1804.8,91.6 1806,87.6 1807.1,88.4 1808.2,82.5 1809.3,83.5 1810.5,90.7 1811.6,88.6 1812.7,82 1813.8,90.8 1814.9,88.2 1816.1,84.4 1817.2,83.4 1818.3,86.4 1819.4,95.1 1820.6,96.5 1821.7,90.2 1822.8,88.3 1823.9,78.5 1825.1,91.5 1826.2,85.3 1827.3,85.7 1828.4,96.5 1829.6,94.9 1830.7,90.2 1831.8,92.2 1832.9,91.1 1834,88.2 1835.2,93.2 1836.3,88.6 1837.4,92.5 1838.5,92.9 1839.7,88.2 1840.8,92.2 1841.9,89.2 1843,82.8 1844.2,88.4 1845.3,90.3 1846.4,86.8 1847.5,91 1848.6,85.4 1849.8,94.7 1850.9,88.2 1852,91.9 1853.1,93.9 1854.3,83 1855.4,92.3 1856.5,82.8 1857.6,85.7 1858.8,82.8 1859.9,92.8 1861,85.3 1862.1,82.7 1863.3,89 1864.4,90.4 1865.5,79.3 1866.6,87.1 1867.7,91.3 1868.9,93 1870,88.6 1871.1,88.3 1872.2,88.9 1873.4,82.2 1874.5,89.9 1875.6,87.9 1876.7,83.2 1877.9,93 1879,86.1 1880.1,81.2 1881.2,94.2 1882.4,95.7 1883.5,95.7 1884.6,93.6 1885.7,89.9 1886.8,93.1 1888,89.8 1889.1,87.5 1890.2,92.2 1891.3,91 1892.5,93.4 1893.6,89.4 1894.7,91.1 1895.8,90.7 1897,90 1898.1,89.1 1899.2,90.4 1900.3,90.1 1901.4,90.9 1902.6,90 1903.7,92 1904.8,90.3 1905.9,93.3 1907.1,91.5 1908.2,87.1 1909.3,89.3 1910.4,92 1911.6,90 1912.7,91.6 1913.8,93.1 1914.9,91.9 1916.1,89.1 1917.2,89.2 1918.3,90" fill="none" stroke="#9CC7E2" stroke-width="0.9" stroke-linejoin="round" marker-start="url(#mo9CC7E240)" marker-mid="url(#mo9CC7E240)" marker-end="url(#mo9CC7E240)"/>
<path d="M1464.4 88.2L1465.6 74.4M1465.6 74.4L1466.7 100.7M1466.7 100.7L1467.8 89.6M1538.6 88.5L1539.7 55.7M1539.7 55.7L1540.8 113.8M1540.8 113.8L1542 91.1M1624 82.5L1625.1 98M1625.1 98L1626.2 86.8M1627.3 88.5L1628.5 97.8M1628.5 97.8L1629.6 88.3M1639.7 92.7L1640.8 81.4M1640.8 81.4L1641.9 91.4M1650.9 93.6L1652.1 84.4M1663.3 95.4L1664.4 83.5M1665.5 81.8L1666.7 93.1M1666.7 93.1L1667.8 83.2M1699.2 82.1L1700.4 92M1706 82.4L1707.1 92.1M1710.5 95.2L1711.6 84.1M1711.6 84.1L1712.7 94.9M1726.2 90.9L1727.3 81.9M1745.3 85.6L1746.4 73.6M1746.4 73.6L1747.5 87.6M1750.9 92.4L1752 81.4M1755.4 92.5L1756.5 78.8M1766.6 99.1L1767.8 88M1790.2 85.9L1791.4 95.1M1795.8 93.4L1797 83.4M1799.2 92.9L1800.3 81M1801.5 87.3L1802.6 98.3M1819.4 98.3L1820.6 89.1M1827.3 82.8L1828.4 96.4M1832.9 92.2L1834 79M1850.9 92.5L1852 83.4M1874.5 97.5L1875.6 87.5" stroke="#F0895A" stroke-width="2.4" fill="none"/>
<polyline points="1358.8,90.5 1360,92.9 1361.1,92.8 1362.2,88.6 1363.3,90.6 1364.5,87.3 1365.6,89.8 1366.7,95 1367.8,90.5 1369,86.4 1370.1,88.9 1371.2,90.9 1372.3,91.3 1373.5,89.2 1374.6,91.1 1375.7,92.2 1376.8,90.1 1377.9,89.9 1379.1,91.1 1380.2,91.8 1381.3,89.7 1382.4,92.9 1383.6,91.6 1384.7,91.2 1385.8,87.2 1386.9,91.1 1388.1,89.1 1389.2,90.1 1390.3,88 1391.4,87.2 1392.5,89.8 1393.7,89.6 1394.8,91.4 1395.9,90.9 1397,88.9 1398.2,91.8 1399.3,91.6 1400.4,90.2 1401.5,90.5 1402.7,90.7 1403.8,93.6 1404.9,91.2 1406,90.4 1407.2,90.1 1408.3,89.8 1409.4,88.6 1410.5,86.2 1411.6,91.2 1412.8,91.8 1413.9,89.5 1415,93.5 1416.1,92.5 1417.3,92 1418.4,92.2 1419.5,92.3 1420.6,92.6 1421.8,92 1422.9,89.8 1424,87.5 1425.1,92.3 1426.3,89.7 1427.4,89.1 1428.5,89.2 1429.6,87 1430.7,88.7 1431.9,87.6 1433,90.8 1434.1,92.3 1435.2,88.2 1436.4,89.1 1437.5,91.9 1438.6,90.5 1439.7,88.7 1440.9,91 1442,89.5 1443.1,92.1 1444.2,89.4 1445.3,89.4 1446.5,90.1 1447.6,90.5 1448.7,90.3 1449.8,87.8 1451,87.5 1452.1,92.9 1453.2,92.3 1454.3,90.7 1455.5,90.1 1456.6,91.7 1457.7,88.9 1458.8,85.4 1460,90.9 1461.1,91.9 1462.2,90.1 1463.3,88.1 1464.4,88.2 1465.6,74.4 1466.7,100.7 1467.8,89.6 1468.9,89.9 1470.1,90.3 1471.2,90.9 1472.3,89.5 1473.4,90 1474.6,89.4 1475.7,90.5 1476.8,87.4 1477.9,89.2 1479.1,89.7 1480.2,87.2 1481.3,89.2 1482.4,89.3 1483.5,89.5 1484.7,92.5 1485.8,88.8 1486.9,91.9 1488,88.3 1489.2,88.5 1490.3,90.2 1491.4,91.8 1492.5,89.2 1493.7,90.4 1494.8,87.5 1495.9,90.1 1497,89.7 1498.1,89.9 1499.3,91.8 1500.4,92.9 1501.5,89.3 1502.6,89.2 1503.8,90 1504.9,91 1506,88.9 1507.1,91.3 1508.3,88.8 1509.4,89.2 1510.5,91.4 1511.6,91.1 1512.8,90.6 1513.9,91 1515,89.7 1516.1,91.5 1517.2,91.8 1518.4,92.2 1519.5,91.9 1520.6,89.6 1521.7,89 1522.9,93.8 1524,90.3 1525.1,92.2 1526.2,90.6 1527.4,89.5 1528.5,87.3 1529.6,89.9 1530.7,89.3 1531.9,91.2 1533,93.9 1534.1,93.6 1535.2,89.6 1536.3,91.9 1537.5,91 1538.6,88.5 1539.7,55.7 1540.8,113.8 1542,91.1 1543.1,92.3 1544.2,88 1545.3,91.5 1546.5,90.3 1547.6,90 1548.7,90.1 1549.8,88.3 1550.9,92.3 1552.1,92.1 1553.2,90 1554.3,90.3 1555.4,88.5 1556.6,92.4 1557.7,89 1558.8,91.4 1559.9,90.8 1561.1,86.9 1562.2,88.5 1563.3,92.1 1564.4,89.1 1565.6,90.6 1566.7,88.3 1567.8,88.6 1568.9,89.4 1570,91 1571.2,90.2 1572.3,93.9 1573.4,90.6 1574.5,87.8 1575.7,90.4 1576.8,91.8 1577.9,90 1579,88.8 1580.2,89.7 1581.3,92.9 1582.4,91.3 1583.5,90.1 1584.7,89 1585.8,92.5 1586.9,90.3 1588,87.8 1589.1,86.8 1590.3,91.5 1591.4,92.2 1592.5,90.7 1593.6,91.1 1594.8,90.8 1595.9,89.8 1597,89 1598.1,90.3 1599.3,91.6 1600.4,91.9 1601.5,91.1 1602.6,91.2 1603.7,90.3 1604.9,84.5 1606,87.3 1607.1,90 1608.2,89.4 1609.4,91.9 1610.5,96.7 1611.6,88 1612.7,84.7 1613.9,91.9 1615,86 1616.1,88.1 1617.2,89.5 1618.4,81.1 1619.5,88.8 1620.6,95.4 1621.7,90.6 1622.8,90.7 1624,82.5 1625.1,98 1626.2,86.8 1627.3,88.5 1628.5,97.8 1629.6,88.3 1630.7,90.4 1631.8,87.2 1633,88.8 1634.1,89 1635.2,88.1 1636.3,84.3 1637.4,87.1 1638.6,86.1 1639.7,92.7 1640.8,81.4 1641.9,91.4 1643.1,84.8 1644.2,86.6 1645.3,91.1 1646.4,88.9 1647.6,86.5 1648.7,90.2 1649.8,95.8 1650.9,93.6 1652.1,84.4 1653.2,90.7 1654.3,93.9 1655.4,87.8 1656.5,83.4 1657.7,79.1 1658.8,84.7 1659.9,89.1 1661,86.5 1662.2,88.5 1663.3,95.4 1664.4,83.5 1665.5,81.8 1666.7,93.1 1667.8,83.2 1668.9,86.4 1670,90.9 1671.2,96.3 1672.3,89.8 1673.4,90.1 1674.5,85.5 1675.6,83.3 1676.8,82.5 1677.9,91 1679,92 1680.1,84.8 1681.3,88.9 1682.4,91.8 1683.5,91.9 1684.6,87.4 1685.8,85.9 1686.9,85.6 1688,87.5 1689.1,86.7 1690.2,85.2 1691.4,83.9 1692.5,81.8 1693.6,87.8 1694.7,89.2 1695.9,88.7 1697,87 1698.1,90.8 1699.2,82.1 1700.4,92 1701.5,88.6 1702.6,91.3 1703.7,92.1 1704.9,89.8 1706,82.4 1707.1,92.1 1708.2,93.8 1709.3,94.2 1710.5,95.2 1711.6,84.1 1712.7,94.9 1713.8,90.1 1715,88.1 1716.1,87.2 1717.2,82.9 1718.3,86.2 1719.5,91.5 1720.6,91.1 1721.7,87.8 1722.8,92.1 1724,92.6 1725.1,89.2 1726.2,90.9 1727.3,81.9 1728.4,89.7 1729.6,87.7 1730.7,93.4 1731.8,90.5 1732.9,88.3 1734.1,90.9 1735.2,88.7 1736.3,89.9 1737.4,84.8 1738.6,93 1739.7,89.4 1740.8,85 1741.9,89.8 1743,86.7 1744.2,88.1 1745.3,85.6 1746.4,73.6 1747.5,87.6 1748.7,87.7 1749.8,90.5 1750.9,92.4 1752,81.4 1753.2,81.7 1754.3,85.8 1755.4,92.5 1756.5,78.8 1757.7,79.8 1758.8,87.2 1759.9,90.7 1761,88.1 1762.1,81.3 1763.3,88.2 1764.4,92.4 1765.5,90.9 1766.6,99.1 1767.8,88 1768.9,88.5 1770,84.1 1771.1,87 1772.3,87.3 1773.4,88.6 1774.5,96.6 1775.6,90.7 1776.8,88.5 1777.9,84.6 1779,85.8 1780.1,92.7 1781.2,90.4 1782.4,88.4 1783.5,83.9 1784.6,90.9 1785.7,97.9 1786.9,94.1 1788,92.3 1789.1,83.9 1790.2,85.9 1791.4,95.1 1792.5,87.2 1793.6,81.9 1794.7,85.7 1795.8,93.4 1797,83.4 1798.1,85.3 1799.2,92.9 1800.3,81 1801.5,87.3 1802.6,98.3 1803.7,90.3 1804.8,90.4 1806,87.3 1807.1,87.4 1808.2,93.1 1809.3,88.4 1810.5,86.1 1811.6,89.6 1812.7,90.2 1813.8,94.8 1814.9,91.5 1816.1,92.5 1817.2,90.7 1818.3,91.9 1819.4,98.3 1820.6,89.1 1821.7,92.7 1822.8,91.6 1823.9,94.5 1825.1,90.9 1826.2,91.7 1827.3,82.8 1828.4,96.4 1829.6,96.5 1830.7,91.1 1831.8,95.6 1832.9,92.2 1834,79 1835.2,86.3 1836.3,88.8 1837.4,87 1838.5,86.7 1839.7,87.3 1840.8,89 1841.9,90.8 1843,84.6 1844.2,85 1845.3,88.7 1846.4,89 1847.5,94.5 1848.6,94.3 1849.8,97.6 1850.9,92.5 1852,83.4 1853.1,83.4 1854.3,88.9 1855.4,91.1 1856.5,86.6 1857.6,85.7 1858.8,92.7 1859.9,90.6 1861,86.9 1862.1,86.3 1863.3,85.4 1864.4,84.6 1865.5,87.3 1866.6,91.4 1867.7,96.8 1868.9,94.6 1870,86.7 1871.1,82.3 1872.2,84.4 1873.4,90.6 1874.5,97.5 1875.6,87.5 1876.7,93.8 1877.9,91.5 1879,83.2 1880.1,91.4 1881.2,92 1882.4,87.6 1883.5,91.9 1884.6,88.6 1885.7,86.7 1886.8,89.7 1888,87.3 1889.1,91.1 1890.2,89.9 1891.3,90.4 1892.5,94.3 1893.6,91.3 1894.7,89.1 1895.8,90.3 1897,92.2 1898.1,89.3 1899.2,91.2 1900.3,88.7 1901.4,88.1 1902.6,88.9 1903.7,90.1 1904.8,90 1905.9,87.1 1907.1,86 1908.2,88.5 1909.3,93.6 1910.4,92.8 1911.6,92.8 1912.7,87.9 1913.8,91.9 1914.9,88 1916.1,89.1 1917.2,90.1 1918.3,87.5" fill="none" stroke="#F0895A" stroke-width="0.9" stroke-linejoin="round" marker-start="url(#moF0895A40)" marker-mid="url(#moF0895A40)" marker-end="url(#moF0895A40)"/>
<path d="M1617.2 89L1618.4 79.5M1618.4 79.5L1619.5 96.8M1619.5 96.8L1620.6 84.7M1638.6 94.6L1639.7 82.4M1639.7 82.4L1640.8 92.1M1657.7 87.3L1658.8 97.7M1674.5 85.4L1675.6 94.8M1675.6 94.8L1676.8 74.9M1676.8 74.9L1677.9 93.1M1680.1 94L1681.3 84.8M1690.2 85.6L1691.4 95.5M1695.9 92.8L1697 82.9M1706 82.6L1707.1 93.1M1712.7 92.6L1713.8 81.8M1713.8 81.8L1715 92M1720.6 96L1721.7 83.7M1721.7 83.7L1722.8 97.4M1726.2 86.9L1727.3 96.5M1731.8 95.5L1732.9 86.2M1761 97.3L1762.1 85.1M1763.3 83.7L1764.4 94.6M1765.5 99.6L1766.6 87.3M1770 103.5L1771.1 93.3M1773.4 93.9L1774.5 83.1M1774.5 83.1L1775.6 94.7M1775.6 94.7L1776.8 82M1776.8 82L1777.9 95.4M1783.5 83.9L1784.6 95.7M1784.6 95.7L1785.7 81.5M1785.7 81.5L1786.9 92.5M1798.1 83.7L1799.2 95.7M1801.5 90.6L1802.6 81.4M1802.6 81.4L1803.7 91M1852 94.1L1853.1 79.2M1859.9 90.9L1861 103.5M1861 103.5L1862.1 90M1865.5 94.1L1866.6 83.9M1910.4 82.4L1911.6 92.3" stroke="#FBD88C" stroke-width="2.4" fill="none"/>
<polyline points="1358.8,94.1 1360,89.6 1361.1,89.7 1362.2,89.6 1363.3,89.6 1364.5,89.9 1365.6,89.2 1366.7,88 1367.8,88 1369,89.1 1370.1,89.3 1371.2,85.8 1372.3,90.2 1373.5,89.4 1374.6,90.3 1375.7,93.7 1376.8,93.1 1377.9,92.7 1379.1,89.7 1380.2,86.8 1381.3,92.1 1382.4,91.8 1383.6,91.1 1384.7,90.5 1385.8,93.2 1386.9,91.1 1388.1,88.2 1389.2,90.1 1390.3,91.3 1391.4,92 1392.5,88.9 1393.7,92.4 1394.8,87.5 1395.9,90.2 1397,88 1398.2,89.4 1399.3,90.3 1400.4,90.7 1401.5,89.1 1402.7,94.6 1403.8,92.3 1404.9,93.9 1406,88.2 1407.2,87.2 1408.3,85.5 1409.4,89.8 1410.5,88.5 1411.6,90.2 1412.8,86.2 1413.9,89.1 1415,89.2 1416.1,87.5 1417.3,89.2 1418.4,91.2 1419.5,91.3 1420.6,91.5 1421.8,92.2 1422.9,89.6 1424,91.4 1425.1,90.1 1426.3,92.3 1427.4,87.6 1428.5,89.7 1429.6,88.2 1430.7,90.4 1431.9,90.6 1433,91 1434.1,89.4 1435.2,87.4 1436.4,90.1 1437.5,86.5 1438.6,86.2 1439.7,87.2 1440.9,84 1442,91.7 1443.1,90.7 1444.2,87.5 1445.3,91.5 1446.5,92.5 1447.6,91.2 1448.7,89.8 1449.8,92 1451,89.1 1452.1,88.4 1453.2,88.4 1454.3,88.6 1455.5,89.8 1456.6,89.1 1457.7,91 1458.8,90.9 1460,90.8 1461.1,88.4 1462.2,92 1463.3,90.8 1464.4,88.5 1465.6,91.1 1466.7,88.4 1467.8,91.9 1468.9,91.9 1470.1,87.3 1471.2,89.3 1472.3,88 1473.4,89.7 1474.6,90.7 1475.7,87.9 1476.8,88.9 1477.9,91.7 1479.1,91.3 1480.2,89.3 1481.3,89.1 1482.4,91.3 1483.5,87.7 1484.7,90 1485.8,89.9 1486.9,88.3 1488,85.8 1489.2,89.8 1490.3,89.6 1491.4,90 1492.5,90.2 1493.7,86 1494.8,89.9 1495.9,87.8 1497,90.6 1498.1,87.7 1499.3,92.8 1500.4,89.2 1501.5,90.1 1502.6,92 1503.8,90.9 1504.9,90.1 1506,90.9 1507.1,92 1508.3,89.7 1509.4,89.9 1510.5,89.7 1511.6,88 1512.8,92.3 1513.9,90.5 1515,89.1 1516.1,90.3 1517.2,89.3 1518.4,88 1519.5,92.2 1520.6,88.6 1521.7,87.7 1522.9,91 1524,91.3 1525.1,93.2 1526.2,89.1 1527.4,88.9 1528.5,90.3 1529.6,89.5 1530.7,90.3 1531.9,89 1533,90.7 1534.1,91.4 1535.2,92.7 1536.3,86.9 1537.5,94.4 1538.6,91.2 1539.7,91.8 1540.8,92 1542,89.9 1543.1,91.1 1544.2,88.7 1545.3,90.9 1546.5,87.9 1547.6,88.7 1548.7,87.8 1549.8,88.1 1550.9,91.6 1552.1,92.5 1553.2,90.6 1554.3,90.4 1555.4,87.1 1556.6,89.4 1557.7,93.8 1558.8,92.1 1559.9,91.1 1561.1,89.7 1562.2,89.5 1563.3,89.9 1564.4,88.5 1565.6,86.8 1566.7,92.8 1567.8,92.1 1568.9,88.6 1570,91.1 1571.2,89.4 1572.3,88.9 1573.4,90.6 1574.5,90.8 1575.7,92.4 1576.8,90.7 1577.9,89.4 1579,89.7 1580.2,87.9 1581.3,90.3 1582.4,92 1583.5,90 1584.7,89.2 1585.8,92.4 1586.9,91.5 1588,92.6 1589.1,89.7 1590.3,88.8 1591.4,89.8 1592.5,89.5 1593.6,92.5 1594.8,93.2 1595.9,90 1597,90.2 1598.1,89.1 1599.3,87.4 1600.4,88.2 1601.5,89.5 1602.6,92.4 1603.7,88.5 1604.9,89.1 1606,89.6 1607.1,89.8 1608.2,88.6 1609.4,88.4 1610.5,83.7 1611.6,88.5 1612.7,89.2 1613.9,86.2 1615,93.2 1616.1,93.9 1617.2,89 1618.4,79.5 1619.5,96.8 1620.6,84.7 1621.7,85.9 1622.8,92.1 1624,96.2 1625.1,95.4 1626.2,88.5 1627.3,90 1628.5,91 1629.6,88.8 1630.7,91.3 1631.8,88 1633,85.4 1634.1,79 1635.2,87.3 1636.3,93.1 1637.4,87.8 1638.6,94.6 1639.7,82.4 1640.8,92.1 1641.9,84.4 1643.1,83.9 1644.2,90 1645.3,84.7 1646.4,92.2 1647.6,94.6 1648.7,87.4 1649.8,92.4 1650.9,86.2 1652.1,89.4 1653.2,88.8 1654.3,88.5 1655.4,93.1 1656.5,88.4 1657.7,87.3 1658.8,97.7 1659.9,93.9 1661,95.9 1662.2,93 1663.3,89.6 1664.4,93.4 1665.5,93 1666.7,88.1 1667.8,95.3 1668.9,87.2 1670,93 1671.2,92.6 1672.3,93.8 1673.4,90.3 1674.5,85.4 1675.6,94.8 1676.8,74.9 1677.9,93.1 1679,94.9 1680.1,94 1681.3,84.8 1682.4,89.3 1683.5,94.7 1684.6,87.6 1685.8,83.8 1686.9,83 1688,89.5 1689.1,91.8 1690.2,85.6 1691.4,95.5 1692.5,91 1693.6,91.4 1694.7,90.8 1695.9,92.8 1697,82.9 1698.1,87.9 1699.2,92.4 1700.4,98.4 1701.5,91.3 1702.6,87.1 1703.7,88 1704.9,90.8 1706,82.6 1707.1,93.1 1708.2,90.4 1709.3,93.3 1710.5,91.1 1711.6,92.3 1712.7,92.6 1713.8,81.8 1715,92 1716.1,87.7 1717.2,86.5 1718.3,93.8 1719.5,95.5 1720.6,96 1721.7,83.7 1722.8,97.4 1724,89.4 1725.1,85.7 1726.2,86.9 1727.3,96.5 1728.4,90.4 1729.6,90.7 1730.7,91.7 1731.8,95.5 1732.9,86.2 1734.1,89.2 1735.2,88 1736.3,90.8 1737.4,91.2 1738.6,86.5 1739.7,92 1740.8,92.6 1741.9,92.7 1743,95 1744.2,95 1745.3,94.3 1746.4,90.7 1747.5,93 1748.7,91 1749.8,96.4 1750.9,99.3 1752,100.3 1753.2,95.3 1754.3,92.4 1755.4,96.4 1756.5,91.2 1757.7,83.8 1758.8,92 1759.9,100.6 1761,97.3 1762.1,85.1 1763.3,83.7 1764.4,94.6 1765.5,99.6 1766.6,87.3 1767.8,94 1768.9,95.2 1770,103.5 1771.1,93.3 1772.3,91.9 1773.4,93.9 1774.5,83.1 1775.6,94.7 1776.8,82 1777.9,95.4 1779,87.1 1780.1,82.7 1781.2,88.6 1782.4,88.6 1783.5,83.9 1784.6,95.7 1785.7,81.5 1786.9,92.5 1788,88.9 1789.1,97.2 1790.2,91.6 1791.4,86.7 1792.5,95.1 1793.6,98.3 1794.7,92.1 1795.8,88.4 1797,82.7 1798.1,83.7 1799.2,95.7 1800.3,94.3 1801.5,90.6 1802.6,81.4 1803.7,91 1804.8,93 1806,91.7 1807.1,86 1808.2,81.9 1809.3,88.1 1810.5,85.8 1811.6,86.3 1812.7,89.9 1813.8,91.2 1814.9,88.5 1816.1,91.4 1817.2,92.3 1818.3,92.7 1819.4,95.7 1820.6,98.7 1821.7,90.9 1822.8,82.7 1823.9,88.3 1825.1,85 1826.2,83.8 1827.3,89.6 1828.4,92.4 1829.6,92.2 1830.7,96.7 1831.8,90.9 1832.9,83.3 1834,84.9 1835.2,85.5 1836.3,82.3 1837.4,91.1 1838.5,82.6 1839.7,77.3 1840.8,84.8 1841.9,93.2 1843,88.6 1844.2,82.5 1845.3,82.9 1846.4,88.1 1847.5,79.6 1848.6,85.1 1849.8,89.8 1850.9,87.7 1852,94.1 1853.1,79.2 1854.3,85 1855.4,84.5 1856.5,92.6 1857.6,92.2 1858.8,91.8 1859.9,90.9 1861,103.5 1862.1,90 1863.3,98.1 1864.4,90.9 1865.5,94.1 1866.6,83.9 1867.7,89.4 1868.9,82.9 1870,83.1 1871.1,90.1 1872.2,89.1 1873.4,94 1874.5,92.2 1875.6,88.8 1876.7,91.3 1877.9,83.7 1879,89.7 1880.1,97.4 1881.2,92.6 1882.4,92.1 1883.5,90.4 1884.6,90.5 1885.7,90.9 1886.8,89.5 1888,93.1 1889.1,87.1 1890.2,93.4 1891.3,91.3 1892.5,90.6 1893.6,90.9 1894.7,90.5 1895.8,91.7 1897,91.7 1898.1,91.6 1899.2,91.4 1900.3,91.7 1901.4,90.2 1902.6,89 1903.7,86.7 1904.8,91.1 1905.9,90.2 1907.1,89.4 1908.2,87.2 1909.3,87.3 1910.4,82.4 1911.6,92.3 1912.7,91 1913.8,89.8 1914.9,89.6 1916.1,88 1917.2,90.3 1918.3,96.2" fill="none" stroke="#FBD88C" stroke-width="0.9" stroke-linejoin="round" marker-start="url(#moFBD88C40)" marker-mid="url(#moFBD88C40)" marker-end="url(#moFBD88C40)"/>
<path d="M1610.5 94.9L1611.6 85M1617.2 81.2L1618.4 90.2M1620.6 96.4L1621.7 87M1628.5 84.4L1629.6 94.7M1630.7 100L1631.8 89.6M1637.4 86.7L1638.6 100.1M1638.6 100.1L1639.7 89.8M1641.9 96.6L1643.1 84.3M1666.7 85.2L1667.8 94.9M1676.8 93.5L1677.9 83.2M1692.5 82.1L1693.6 91.5M1735.2 86L1736.3 99.8M1736.3 99.8L1737.4 88.5M1738.6 85L1739.7 98.4M1739.7 98.4L1740.8 84.9M1750.9 89.5L1752 98.8M1752 98.8L1753.2 86.2M1757.7 94.9L1758.8 85.7M1758.8 85.7L1759.9 96.8M1777.9 96L1779 84.9M1791.4 90.8L1792.5 81.8M1792.5 81.8L1793.6 100M1797 94.4L1798.1 84.4M1808.2 86.3L1809.3 97.3M1813.8 88.2L1814.9 97.6M1840.8 95.3L1841.9 83.5M1848.6 85.1L1849.8 94.7M1864.4 92.6L1865.5 103.1M1903.7 87.4L1904.8 71.6M1904.8 71.6L1905.9 88.5M1907.1 81L1908.2 90.1M1909.3 88.1L1910.4 69.8M1910.4 69.8L1911.6 89.6M1911.6 89.6L1912.7 105.4M1912.7 105.4L1913.8 95M1913.8 95L1914.9 77.3M1914.9 77.3L1916.1 92.1M1916.1 92.1L1917.2 107.2M1917.2 107.2L1918.3 88.6" stroke="#3E6EB6" stroke-width="2.4" fill="none"/>
<polyline points="1358.8,88.6 1360,87.7 1361.1,87.1 1362.2,94.5 1363.3,87.3 1364.5,88 1365.6,91.6 1366.7,89.9 1367.8,87.9 1369,86.6 1370.1,89.1 1371.2,88.9 1372.3,91.4 1373.5,89.9 1374.6,89.5 1375.7,87.5 1376.8,88.7 1377.9,89.3 1379.1,90.2 1380.2,86.1 1381.3,89 1382.4,88.7 1383.6,87.4 1384.7,89.6 1385.8,89.8 1386.9,89.2 1388.1,92.1 1389.2,92.1 1390.3,91.1 1391.4,92.1 1392.5,90.9 1393.7,92 1394.8,89.5 1395.9,90.6 1397,90.8 1398.2,91.9 1399.3,89.1 1400.4,87.3 1401.5,88 1402.7,89.9 1403.8,91.4 1404.9,91.4 1406,92 1407.2,91.7 1408.3,89.6 1409.4,90.4 1410.5,90.8 1411.6,88.9 1412.8,91.2 1413.9,92.3 1415,92.8 1416.1,90.1 1417.3,87.4 1418.4,89.8 1419.5,90.8 1420.6,91.9 1421.8,91.4 1422.9,88.9 1424,90.3 1425.1,90 1426.3,88.3 1427.4,89.7 1428.5,88.8 1429.6,88.7 1430.7,90 1431.9,90 1433,91.1 1434.1,89 1435.2,91.8 1436.4,89.4 1437.5,87.7 1438.6,89.8 1439.7,91.1 1440.9,92.1 1442,89.9 1443.1,90.8 1444.2,92.6 1445.3,88.8 1446.5,90.9 1447.6,88.7 1448.7,91.7 1449.8,90.1 1451,90.8 1452.1,92.1 1453.2,90.4 1454.3,88 1455.5,92.9 1456.6,93.4 1457.7,93.6 1458.8,92.5 1460,90.7 1461.1,90.9 1462.2,92 1463.3,89.4 1464.4,90.1 1465.6,90.7 1466.7,90 1467.8,91.6 1468.9,88.7 1470.1,90.2 1471.2,89.8 1472.3,87.6 1473.4,88.9 1474.6,88.1 1475.7,90.1 1476.8,89.4 1477.9,89.3 1479.1,89.3 1480.2,90.2 1481.3,89 1482.4,89.9 1483.5,88 1484.7,87.9 1485.8,90.5 1486.9,88.9 1488,88.2 1489.2,92.1 1490.3,90.4 1491.4,90.3 1492.5,90.1 1493.7,88.8 1494.8,91.7 1495.9,90.5 1497,91.3 1498.1,88.8 1499.3,89.2 1500.4,91.2 1501.5,91.1 1502.6,89.1 1503.8,90.2 1504.9,90.3 1506,89.1 1507.1,90.4 1508.3,91.6 1509.4,88.4 1510.5,84.9 1511.6,88.4 1512.8,92.3 1513.9,89.4 1515,90.5 1516.1,90.1 1517.2,90.1 1518.4,89.1 1519.5,86.9 1520.6,90.7 1521.7,91.6 1522.9,93 1524,91.6 1525.1,91 1526.2,87.5 1527.4,89.5 1528.5,90.1 1529.6,88.3 1530.7,84.6 1531.9,88.1 1533,91.5 1534.1,90.1 1535.2,87.1 1536.3,88.8 1537.5,87.8 1538.6,88.6 1539.7,91 1540.8,91.9 1542,88.1 1543.1,93.1 1544.2,91.2 1545.3,91.9 1546.5,89.9 1547.6,86 1548.7,90.7 1549.8,90.3 1550.9,91.4 1552.1,90.5 1553.2,88.6 1554.3,88.1 1555.4,88.9 1556.6,86.9 1557.7,89.6 1558.8,91.3 1559.9,93.9 1561.1,90 1562.2,90.6 1563.3,88.8 1564.4,90.9 1565.6,90.1 1566.7,90 1567.8,86.7 1568.9,91.1 1570,91.6 1571.2,90.5 1572.3,91 1573.4,90.6 1574.5,89.7 1575.7,88.5 1576.8,89.8 1577.9,91.8 1579,91.3 1580.2,88.7 1581.3,87.8 1582.4,86.6 1583.5,91.1 1584.7,89.3 1585.8,89.3 1586.9,91.7 1588,89.4 1589.1,87.6 1590.3,87.9 1591.4,89.3 1592.5,91 1593.6,89.9 1594.8,90.8 1595.9,86.5 1597,87.5 1598.1,90.3 1599.3,88.8 1600.4,89 1601.5,90.8 1602.6,88.4 1603.7,91.5 1604.9,91.6 1606,88.2 1607.1,91.2 1608.2,93.2 1609.4,90.2 1610.5,94.9 1611.6,85 1612.7,93.7 1613.9,88.4 1615,89.7 1616.1,87.5 1617.2,81.2 1618.4,90.2 1619.5,93.8 1620.6,96.4 1621.7,87 1622.8,84.4 1624,91.2 1625.1,86.2 1626.2,84 1627.3,88.9 1628.5,84.4 1629.6,94.7 1630.7,100 1631.8,89.6 1633,88.7 1634.1,84.9 1635.2,91.5 1636.3,91.6 1637.4,86.7 1638.6,100.1 1639.7,89.8 1640.8,92.4 1641.9,96.6 1643.1,84.3 1644.2,92.6 1645.3,91.6 1646.4,88 1647.6,85.4 1648.7,92.2 1649.8,90.1 1650.9,95.8 1652.1,91.1 1653.2,89.4 1654.3,85.6 1655.4,87.8 1656.5,86.9 1657.7,91.5 1658.8,92.2 1659.9,90.5 1661,90 1662.2,88.6 1663.3,88.8 1664.4,88.8 1665.5,82.9 1666.7,85.2 1667.8,94.9 1668.9,94 1670,87.5 1671.2,89.4 1672.3,90.3 1673.4,90.6 1674.5,90.6 1675.6,89.2 1676.8,93.5 1677.9,83.2 1679,83.9 1680.1,88 1681.3,95.3 1682.4,95.8 1683.5,87.4 1684.6,82.1 1685.8,87.9 1686.9,91.3 1688,95.7 1689.1,95.8 1690.2,87 1691.4,89.7 1692.5,82.1 1693.6,91.5 1694.7,86.7 1695.9,88.8 1697,91.8 1698.1,93.3 1699.2,96.3 1700.4,87.9 1701.5,88.4 1702.6,91.8 1703.7,87.5 1704.9,89.2 1706,97.6 1707.1,93 1708.2,93.1 1709.3,87.6 1710.5,93 1711.6,85.4 1712.7,87.5 1713.8,91.3 1715,84.9 1716.1,89.6 1717.2,89.2 1718.3,84.1 1719.5,87 1720.6,93.8 1721.7,84.9 1722.8,87.8 1724,92.6 1725.1,94.8 1726.2,92.4 1727.3,95.6 1728.4,94.4 1729.6,87 1730.7,89.9 1731.8,86.8 1732.9,91.1 1734.1,90.9 1735.2,86 1736.3,99.8 1737.4,88.5 1738.6,85 1739.7,98.4 1740.8,84.9 1741.9,83.6 1743,91 1744.2,86.5 1745.3,85.7 1746.4,87.1 1747.5,82.5 1748.7,88.8 1749.8,84.1 1750.9,89.5 1752,98.8 1753.2,86.2 1754.3,95.1 1755.4,90.1 1756.5,95 1757.7,94.9 1758.8,85.7 1759.9,96.8 1761,88.4 1762.1,87.6 1763.3,80.6 1764.4,84.8 1765.5,91.4 1766.6,88.5 1767.8,82.6 1768.9,82.5 1770,87.5 1771.1,82 1772.3,87.7 1773.4,84.2 1774.5,92 1775.6,92.2 1776.8,88 1777.9,96 1779,84.9 1780.1,93.3 1781.2,86.4 1782.4,88.6 1783.5,90.5 1784.6,83.6 1785.7,87.9 1786.9,89.4 1788,86 1789.1,91.2 1790.2,86.4 1791.4,90.8 1792.5,81.8 1793.6,100 1794.7,91.9 1795.8,89.2 1797,94.4 1798.1,84.4 1799.2,91.7 1800.3,88.2 1801.5,90.3 1802.6,90.6 1803.7,88.4 1804.8,81.3 1806,88 1807.1,89.6 1808.2,86.3 1809.3,97.3 1810.5,98.1 1811.6,91.3 1812.7,88.9 1813.8,88.2 1814.9,97.6 1816.1,91.6 1817.2,91.6 1818.3,89.7 1819.4,94.3 1820.6,93 1821.7,89.7 1822.8,84.1 1823.9,91.3 1825.1,89.5 1826.2,92.1 1827.3,88.5 1828.4,90.9 1829.6,91.8 1830.7,85.7 1831.8,93.3 1832.9,85.1 1834,93.1 1835.2,89.7 1836.3,95 1837.4,88 1838.5,91.7 1839.7,93.9 1840.8,95.3 1841.9,83.5 1843,91.1 1844.2,91.6 1845.3,90.8 1846.4,90.7 1847.5,86.4 1848.6,85.1 1849.8,94.7 1850.9,93.9 1852,90.9 1853.1,91.5 1854.3,89.1 1855.4,90.8 1856.5,82.2 1857.6,81.8 1858.8,83.4 1859.9,89.6 1861,87 1862.1,89.3 1863.3,95.5 1864.4,92.6 1865.5,103.1 1866.6,96.3 1867.7,99.1 1868.9,93.3 1870,89.1 1871.1,90.3 1872.2,82.1 1873.4,89.9 1874.5,87.1 1875.6,89.9 1876.7,84.2 1877.9,86 1879,85.9 1880.1,88.9 1881.2,87.1 1882.4,90 1883.5,83 1884.6,88.6 1885.7,88.5 1886.8,90.1 1888,90.2 1889.1,89.6 1890.2,91.2 1891.3,89.9 1892.5,90.8 1893.6,88.7 1894.7,87.1 1895.8,89.5 1897,90.1 1898.1,88.4 1899.2,91.2 1900.3,90.6 1901.4,88.6 1902.6,87.5 1903.7,87.4 1904.8,71.6 1905.9,88.5 1907.1,81 1908.2,90.1 1909.3,88.1 1910.4,69.8 1911.6,89.6 1912.7,105.4 1913.8,95 1914.9,77.3 1916.1,92.1 1917.2,107.2 1918.3,88.6" fill="none" stroke="#3E6EB6" stroke-width="0.9" stroke-linejoin="round" marker-start="url(#mo3E6EB640)" marker-mid="url(#mo3E6EB640)" marker-end="url(#mo3E6EB640)"/>
<path d="M1613.9 87.7L1615 98.9M1638.6 87L1639.7 99.8M1655.4 91.6L1656.5 78.8M1656.5 78.8L1657.7 93.8M1683.5 96.8L1684.6 83.6M1716.1 81.1L1717.2 91.9M1740.8 81.9L1741.9 96.6M1743 91.4L1744.2 106.3M1744.2 106.3L1745.3 87.3M1745.3 87.3L1746.4 96.3M1788 83.6L1789.1 70.7M1789.1 70.7L1790.2 106.3M1790.2 106.3L1791.4 91.6M1795.8 94.6L1797 81.6M1802.6 88.5L1803.7 98.1M1809.3 85.1L1810.5 94.7M1820.6 86.1L1821.7 97.3M1821.7 97.3L1822.8 86.1M1829.6 87.5L1830.7 70.7M1830.7 70.7L1831.8 88.9M1834 85.8L1835.2 103.5M1835.2 103.5L1836.3 88.2M1843 88.2L1844.2 75.4M1844.2 75.4L1845.3 92.2M1852 96.5L1853.1 87M1855.4 95.3L1856.5 84.2M1865.5 85.7L1866.6 95.1M1879 94.2L1880.1 84.9" stroke="#D3352D" stroke-width="2.4" fill="none"/>
<polyline points="1358.8,90.3 1360,90.7 1361.1,91.9 1362.2,92 1363.3,92.5 1364.5,92.7 1365.6,85.4 1366.7,85.6 1367.8,89.1 1369,88.3 1370.1,91.2 1371.2,94.3 1372.3,93.5 1373.5,90.5 1374.6,88 1375.7,89.7 1376.8,91.4 1377.9,90.6 1379.1,91.6 1380.2,92.4 1381.3,90.8 1382.4,90.7 1383.6,91.3 1384.7,91.6 1385.8,91.7 1386.9,90 1388.1,88 1389.2,89.9 1390.3,86.7 1391.4,91.7 1392.5,89.9 1393.7,91.7 1394.8,90.6 1395.9,90 1397,89.2 1398.2,88.2 1399.3,90.4 1400.4,91.9 1401.5,90.7 1402.7,89.7 1403.8,91 1404.9,88.9 1406,87.3 1407.2,91.5 1408.3,89.8 1409.4,88.5 1410.5,92.5 1411.6,90.2 1412.8,90.4 1413.9,92.2 1415,88.5 1416.1,89.4 1417.3,90.6 1418.4,89.5 1419.5,89 1420.6,88.7 1421.8,88.9 1422.9,89.2 1424,91.6 1425.1,90.9 1426.3,90 1427.4,94 1428.5,87.7 1429.6,90.1 1430.7,91.6 1431.9,93 1433,90.2 1434.1,90 1435.2,90.9 1436.4,90.8 1437.5,91.5 1438.6,91.4 1439.7,90.4 1440.9,91 1442,89.2 1443.1,90.1 1444.2,89.8 1445.3,89.4 1446.5,88 1447.6,88.7 1448.7,89.4 1449.8,90.1 1451,91.2 1452.1,90.7 1453.2,89.2 1454.3,89.5 1455.5,90.5 1456.6,92 1457.7,92.6 1458.8,90.1 1460,88.5 1461.1,89.2 1462.2,91.8 1463.3,90.7 1464.4,89.8 1465.6,91.3 1466.7,89.8 1467.8,90.2 1468.9,91.3 1470.1,92.1 1471.2,89.2 1472.3,89.3 1473.4,91.2 1474.6,91.7 1475.7,89 1476.8,88.9 1477.9,90.2 1479.1,87.7 1480.2,90 1481.3,91.5 1482.4,88.7 1483.5,90 1484.7,89.5 1485.8,89.8 1486.9,91.4 1488,92 1489.2,90.7 1490.3,88.1 1491.4,91.1 1492.5,88.2 1493.7,89.3 1494.8,91.5 1495.9,89.9 1497,89.2 1498.1,91.1 1499.3,93.3 1500.4,90.1 1501.5,91.7 1502.6,89.7 1503.8,92.7 1504.9,90.8 1506,91.3 1507.1,92.4 1508.3,90.8 1509.4,89.9 1510.5,90.8 1511.6,91.9 1512.8,90.1 1513.9,92.6 1515,89.7 1516.1,89.2 1517.2,87.4 1518.4,88.2 1519.5,89.1 1520.6,89.4 1521.7,89.8 1522.9,91.9 1524,88.2 1525.1,88.9 1526.2,90.2 1527.4,91.7 1528.5,88.2 1529.6,88.9 1530.7,91.5 1531.9,89.3 1533,87.1 1534.1,89.5 1535.2,89.3 1536.3,90.5 1537.5,91 1538.6,88.6 1539.7,85.2 1540.8,88.9 1542,90 1543.1,88.8 1544.2,90.2 1545.3,89 1546.5,88.6 1547.6,91.2 1548.7,91.8 1549.8,90.5 1550.9,88.9 1552.1,89.4 1553.2,88.1 1554.3,91.6 1555.4,89.6 1556.6,90.8 1557.7,90 1558.8,89.5 1559.9,91.3 1561.1,90.6 1562.2,91.8 1563.3,90 1564.4,91.2 1565.6,91 1566.7,89.9 1567.8,90.9 1568.9,88.5 1570,90.6 1571.2,88.9 1572.3,89.4 1573.4,91.4 1574.5,90.6 1575.7,91.3 1576.8,90.8 1577.9,90.6 1579,87.5 1580.2,90.1 1581.3,87.7 1582.4,88.9 1583.5,91.7 1584.7,93.7 1585.8,89.8 1586.9,92.8 1588,89.5 1589.1,88.4 1590.3,89.1 1591.4,90.1 1592.5,90.4 1593.6,89.7 1594.8,90.4 1595.9,90.9 1597,90.7 1598.1,88.4 1599.3,90.6 1600.4,89.6 1601.5,91.6 1602.6,91.4 1603.7,92.3 1604.9,90.7 1606,89.2 1607.1,89.4 1608.2,90.6 1609.4,89.2 1610.5,90.9 1611.6,88.8 1612.7,88.7 1613.9,87.7 1615,98.9 1616.1,96.7 1617.2,88.4 1618.4,90.1 1619.5,81.5 1620.6,89.2 1621.7,91.9 1622.8,84.7 1624,86.9 1625.1,82.2 1626.2,86.5 1627.3,90.1 1628.5,87.3 1629.6,92.4 1630.7,92.2 1631.8,92.5 1633,91.3 1634.1,87.3 1635.2,91.3 1636.3,89 1637.4,91.7 1638.6,87 1639.7,99.8 1640.8,92.7 1641.9,89.9 1643.1,94.1 1644.2,87 1645.3,88.6 1646.4,84.9 1647.6,85.4 1648.7,86.7 1649.8,89.9 1650.9,94.1 1652.1,91.6 1653.2,92.1 1654.3,89.5 1655.4,91.6 1656.5,78.8 1657.7,93.8 1658.8,86.3 1659.9,91 1661,91.1 1662.2,86.7 1663.3,89.3 1664.4,94.4 1665.5,89.3 1666.7,90.6 1667.8,97.9 1668.9,90.8 1670,94.1 1671.2,93.6 1672.3,88.9 1673.4,88.7 1674.5,90.8 1675.6,82 1676.8,86.8 1677.9,91.7 1679,89.4 1680.1,90.3 1681.3,98.4 1682.4,97.6 1683.5,96.8 1684.6,83.6 1685.8,89.4 1686.9,90.9 1688,92.3 1689.1,86.8 1690.2,89.2 1691.4,83.4 1692.5,85.7 1693.6,83 1694.7,89 1695.9,88.4 1697,91.3 1698.1,90.9 1699.2,96.7 1700.4,93.5 1701.5,94.3 1702.6,93.3 1703.7,86.1 1704.9,88.2 1706,85 1707.1,85.8 1708.2,85.7 1709.3,85.4 1710.5,91.3 1711.6,87.3 1712.7,90.7 1713.8,92.1 1715,85.9 1716.1,81.1 1717.2,91.9 1718.3,83.8 1719.5,85.6 1720.6,92.3 1721.7,89.4 1722.8,88.5 1724,88.3 1725.1,91 1726.2,95 1727.3,90.9 1728.4,86.9 1729.6,86.4 1730.7,86.8 1731.8,85.2 1732.9,92.8 1734.1,90.7 1735.2,88.9 1736.3,86 1737.4,88.6 1738.6,87.8 1739.7,89.1 1740.8,81.9 1741.9,96.6 1743,91.4 1744.2,106.3 1745.3,87.3 1746.4,96.3 1747.5,90.8 1748.7,95.5 1749.8,93.7 1750.9,89.9 1752,83.5 1753.2,87 1754.3,86.9 1755.4,85.6 1756.5,88.4 1757.7,92.9 1758.8,90.9 1759.9,88.9 1761,90.8 1762.1,92.7 1763.3,91.9 1764.4,96 1765.5,95.1 1766.6,91.4 1767.8,91.6 1768.9,90.2 1770,84.8 1771.1,87.8 1772.3,89.7 1773.4,94.3 1774.5,94.9 1775.6,89.6 1776.8,93.2 1777.9,89 1779,93.8 1780.1,90.3 1781.2,90.3 1782.4,86.3 1783.5,90.7 1784.6,91.5 1785.7,89.4 1786.9,89.7 1788,83.6 1789.1,70.7 1790.2,106.3 1791.4,91.6 1792.5,88.5 1793.6,88.8 1794.7,87.2 1795.8,94.6 1797,81.6 1798.1,81.4 1799.2,88.4 1800.3,94.2 1801.5,90.3 1802.6,88.5 1803.7,98.1 1804.8,91.6 1806,95.9 1807.1,89.5 1808.2,84.7 1809.3,85.1 1810.5,94.7 1811.6,85.7 1812.7,85.7 1813.8,90.5 1814.9,88.2 1816.1,83.9 1817.2,90 1818.3,90.1 1819.4,92.1 1820.6,86.1 1821.7,97.3 1822.8,86.1 1823.9,92.9 1825.1,87.1 1826.2,95.5 1827.3,94.6 1828.4,93.2 1829.6,87.5 1830.7,70.7 1831.8,88.9 1832.9,92.2 1834,85.8 1835.2,103.5 1836.3,88.2 1837.4,90.3 1838.5,83.3 1839.7,90 1840.8,90.1 1841.9,82.6 1843,88.2 1844.2,75.4 1845.3,92.2 1846.4,89.7 1847.5,98.4 1848.6,91.3 1849.8,92.7 1850.9,96.2 1852,96.5 1853.1,87 1854.3,87.8 1855.4,95.3 1856.5,84.2 1857.6,91.5 1858.8,91.7 1859.9,89.4 1861,94.1 1862.1,96.9 1863.3,94.2 1864.4,86.4 1865.5,85.7 1866.6,95.1 1867.7,86.5 1868.9,89.2 1870,88 1871.1,89.4 1872.2,88.3 1873.4,93.4 1874.5,94.1 1875.6,93.5 1876.7,92.1 1877.9,88.1 1879,94.2 1880.1,84.9 1881.2,91.3 1882.4,92.5 1883.5,87.9 1884.6,89.2 1885.7,90.3 1886.8,91.6 1888,91.8 1889.1,92.7 1890.2,88.9 1891.3,88.2 1892.5,86.9 1893.6,88.7 1894.7,89.3 1895.8,88.8 1897,88.4 1898.1,90 1899.2,89.5 1900.3,86.8 1901.4,91.8 1902.6,92.4 1903.7,91.9 1904.8,89.3 1905.9,88.1 1907.1,90.1 1908.2,89.1 1909.3,89.9 1910.4,89.5 1911.6,90.7 1912.7,90.2 1913.8,90 1914.9,88.4 1916.1,86.5 1917.2,91.9 1918.3,89.6" fill="none" stroke="#D3352D" stroke-width="0.9" stroke-linejoin="round" marker-start="url(#moD3352D40)" marker-mid="url(#moD3352D40)" marker-end="url(#moD3352D40)"/>
<circle cx="1358.7" cy="296.7" r="4" fill="#fff" stroke="#31589B" stroke-width="0.85"/>
<circle cx="1358.7" cy="309.5" r="4" fill="#fff" stroke="#D5EAF4" stroke-width="0.85"/>
<circle cx="1358.7" cy="296.7" r="4" fill="#fff" stroke="#9CC7E2" stroke-width="0.85"/>
<circle cx="1358.7" cy="296.7" r="4" fill="#fff" stroke="#F0895A" stroke-width="0.85"/>
<circle cx="1358.7" cy="309.5" r="4" fill="#fff" stroke="#FBD88C" stroke-width="0.85"/>
<circle cx="1358.7" cy="309.5" r="4" fill="#fff" stroke="#3E6EB6" stroke-width="0.85"/>
<circle cx="1358.7" cy="296.7" r="4" fill="#fff" stroke="#D3352D" stroke-width="0.85"/>
<polyline points="1357.7,189.3 1360,187.5 1362.2,186.2 1364.5,184.6 1366.7,183.8 1369,184.3 1371.2,184.6 1373.5,184.8 1375.7,185 1377.9,185.6 1380.2,185.9 1382.4,186.1 1384.7,185.6 1386.9,186.1 1389.2,186.4 1391.4,186.1 1393.7,187.2 1395.9,187.1 1398.2,187.1 1400.4,187.2 1402.7,188.4 1404.9,188.1 1407.2,187.6 1409.4,188.2 1411.6,187.9 1413.9,188.7 1416.1,188.6 1418.4,190.2 1420.6,190.4 1422.9,190.1 1425.1,189.9 1427.4,191 1429.6,190.7 1431.9,190.2 1434.1,191.3 1436.4,191 1438.6,191 1440.9,191.9 1443.1,191.9 1445.3,192.2 1447.6,192.1 1449.8,192.8 1452.1,193.4 1454.3,193.1 1456.6,192.9 1458.8,193.9 1461.1,193.6 1463.3,193.3 1465.6,194.5 1467.8,194.4 1470.1,194.6 1472.3,194.9 1474.6,195.1 1476.8,195.5 1479.1,195.1 1481.3,195.7 1483.5,196.4 1485.8,195.8 1488,196.2 1490.3,197.2 1492.5,197 1494.8,197.2 1497,197.2 1499.3,197.2 1501.5,198.2 1503.8,197.8 1506,198.8 1508.3,198.8 1510.5,198.4 1512.8,198.9 1515,199 1517.2,199.2 1519.5,199 1521.7,199.1 1524,199.6 1526.2,199.7 1528.5,199.7 1530.7,200.5 1533,200.7 1535.2,200.5 1537.5,200.9 1539.7,200.5 1542,201.5 1544.2,202.1 1546.5,203 1548.7,202.4 1550.9,203.2 1553.2,203.6 1555.4,203.6 1557.7,203.8 1559.9,203.7 1562.2,203.8 1564.4,203.6 1566.7,204.5 1568.9,204.6 1571.2,204 1573.4,204.6 1575.7,205.2 1577.9,205.5 1580.2,204.6 1582.4,205.6 1584.7,206.3 1586.9,206.4 1589.1,206.2 1591.4,206.4 1593.6,206.3 1595.9,207.4 1598.1,206.8 1600.4,206.8 1602.6,206.8 1604.9,207.8 1607.1,207.9 1609.4,208.4 1611.6,208.4 1613.9,208.5 1616.1,208.1 1618.4,208.9 1620.6,209.3 1622.8,209.1 1625.1,208.5 1627.3,208.6 1629.6,209.3 1631.8,210.2 1634.1,210.5 1636.3,211.2 1638.6,210.1 1640.8,210.7 1643.1,211.3 1645.3,211.1 1647.6,211.7 1649.8,212.6 1652.1,212.7 1654.3,212.7 1656.5,212.6 1658.8,213.1 1661,213.2 1663.3,213.9 1665.5,213.7 1667.8,213.5 1670,213.9 1672.3,213.1 1674.5,214 1676.8,214.5 1679,214.8 1681.3,214.4 1683.5,215.1 1685.8,215.5 1688,215.6 1690.2,215.6 1692.5,215.9 1694.7,216.1 1697,216 1699.2,216.3 1701.5,216.7 1703.7,217.8 1706,217.6 1708.2,218.1 1710.5,218 1712.7,218.3 1715,218.8 1717.2,217.8 1719.5,217.9 1721.7,219.5 1724,219.9 1726.2,220.1 1728.4,220.3 1730.7,220.3 1732.9,219.4 1735.2,220.7 1737.4,220.7 1739.7,220.8 1741.9,221.4 1744.2,221.1 1746.4,221.5 1748.7,221.8 1750.9,222.3 1753.2,222.7 1755.4,222.3 1757.7,223.1 1759.9,222.3 1762.1,223.2 1764.4,224 1766.6,224.1 1768.9,224.5 1771.1,223.9 1773.4,224.4 1775.6,224.5 1777.9,225 1780.1,226.2 1782.4,226.4 1784.6,225.7 1786.9,226 1789.1,226.7 1791.4,226.6 1793.6,227.1 1795.8,227.7 1798.1,227.8 1800.3,227.8 1802.6,228.3 1804.8,228 1807.1,227.9 1809.3,228.1 1811.6,228.2 1813.8,228.6 1816.1,228.9 1818.3,228.6 1820.6,229.3 1822.8,229.5 1825.1,229.8 1827.3,230.1 1829.6,229.7 1831.8,230.2 1834,231.4 1836.3,230.4 1838.5,230.9 1840.8,230.9 1843,231.4 1845.3,231.8 1847.5,231.8 1849.8,231.8 1852,232.5 1854.3,232.8 1856.5,232.6 1858.8,233 1861,233.1 1863.3,232.9 1865.5,234 1867.7,234 1870,234.7 1872.2,233.8 1874.5,234.6 1876.7,234.9 1879,234.2 1881.2,234.9 1883.5,234.9 1885.7,234.7 1888,235.7 1890.2,235.7 1892.5,236.3 1894.7,236 1897,236.4 1899.2,236 1901.4,236.8 1903.7,237.6 1905.9,237.7 1908.2,238.3 1910.4,237.8 1912.7,238.1 1914.9,238.1 1917.2,238.2" fill="none" stroke="#2F4D86" stroke-width="9.4" stroke-linejoin="round" stroke-linecap="round"/>
<polyline points="1357.7,188.4 1360,185.6 1362.2,184.7 1364.5,183.8 1366.7,183.1 1369,182.7 1371.2,182.6 1373.5,183.2 1375.7,183.2 1377.9,183.7 1380.2,185 1382.4,184.4 1384.7,184.5 1386.9,185.3 1389.2,184.6 1391.4,184.1 1393.7,185.7 1395.9,185.7 1398.2,185.7 1400.4,186.1 1402.7,186.5 1404.9,186.4 1407.2,186.4 1409.4,186.9 1411.6,187.4 1413.9,188.2 1416.1,187.8 1418.4,187.6 1420.6,187.7 1422.9,188.4 1425.1,188 1427.4,189 1429.6,189.6 1431.9,189.5 1434.1,190 1436.4,190.2 1438.6,190.3 1440.9,190.4 1443.1,190.2 1445.3,190.8 1447.6,191 1449.8,191.2 1452.1,191.7 1454.3,191.8 1456.6,192 1458.8,192.6 1461.1,193 1463.3,192.1 1465.6,193 1467.8,193.1 1470.1,193.5 1472.3,193.7 1474.6,194.3 1476.8,194.3 1479.1,193.5 1481.3,194.5 1483.5,195 1485.8,195.7 1488,195.8 1490.3,196.2 1492.5,195.7 1494.8,195.9 1497,196.3 1499.3,197 1501.5,196.4 1503.8,197.3 1506,198.1 1508.3,197.9 1510.5,198.9 1512.8,198.5 1515,198.6 1517.2,199.1 1519.5,199.7 1521.7,199.5 1524,199.5 1526.2,200.5 1528.5,200.4 1530.7,200.7 1533,201 1535.2,200.7 1537.5,201.4 1539.7,201.5 1542,201.6 1544.2,202.3 1546.5,202.1 1548.7,202.2 1550.9,203.2 1553.2,203.3 1555.4,203.9 1557.7,203.9 1559.9,203.7 1562.2,204.1 1564.4,205 1566.7,205.4 1568.9,205.5 1571.2,204.8 1573.4,205.5 1575.7,206.4 1577.9,206.5 1580.2,206.4 1582.4,205.5 1584.7,206.7 1586.9,206.9 1589.1,207.5 1591.4,207.3 1593.6,207.9 1595.9,207.7 1598.1,207.9 1600.4,208.7 1602.6,209.3 1604.9,208.1 1607.1,208.2 1609.4,208.5 1611.6,208.6 1613.9,209.2 1616.1,209.3 1618.4,210.3 1620.6,210.5 1622.8,210.7 1625.1,210.7 1627.3,210.9 1629.6,211.4 1631.8,210.4 1634.1,211.7 1636.3,211.2 1638.6,211.1 1640.8,211.6 1643.1,212.3 1645.3,212 1647.6,212.1 1649.8,212.5 1652.1,213.2 1654.3,212.3 1656.5,212.4 1658.8,213.1 1661,213.2 1663.3,213.7 1665.5,214.3 1667.8,213.6 1670,213.8 1672.3,214.9 1674.5,215 1676.8,215.4 1679,215.2 1681.3,215.2 1683.5,215.2 1685.8,215.2 1688,215.7 1690.2,215.6 1692.5,215.8 1694.7,215.8 1697,216.5 1699.2,217.2 1701.5,216.8 1703.7,216.8 1706,217.3 1708.2,217 1710.5,217.6 1712.7,218 1715,217.9 1717.2,218.4 1719.5,218.3 1721.7,218 1724,218.9 1726.2,218.9 1728.4,219.1 1730.7,219 1732.9,219.6 1735.2,219.4 1737.4,219.9 1739.7,220.3 1741.9,219.7 1744.2,219.8 1746.4,220.6 1748.7,220.6 1750.9,220.4 1753.2,221.3 1755.4,222.4 1757.7,221.9 1759.9,221.9 1762.1,222.1 1764.4,222.4 1766.6,223.7 1768.9,223.8 1771.1,224.2 1773.4,223.1 1775.6,223.4 1777.9,224 1780.1,224.6 1782.4,224.6 1784.6,224.7 1786.9,225.1 1789.1,225.2 1791.4,225.5 1793.6,224.4 1795.8,225.2 1798.1,225.5 1800.3,226.2 1802.6,226.3 1804.8,226.7 1807.1,227.3 1809.3,227.2 1811.6,227.5 1813.8,227.4 1816.1,227.7 1818.3,227.7 1820.6,227.9 1822.8,228.2 1825.1,229 1827.3,228.4 1829.6,228.9 1831.8,228.7 1834,229.4 1836.3,229.1 1838.5,230.5 1840.8,230.7 1843,230.6 1845.3,230.2 1847.5,229.8 1849.8,229.9 1852,230 1854.3,230.5 1856.5,230.6 1858.8,231 1861,232.1 1863.3,231.7 1865.5,232.1 1867.7,232.1 1870,232.7 1872.2,233.3 1874.5,233.3 1876.7,233.9 1879,234.2 1881.2,233.9 1883.5,234 1885.7,234.5 1888,233.9 1890.2,234.7 1892.5,235.1 1894.7,234.8 1897,235.7 1899.2,235.5 1901.4,235.7 1903.7,235.8 1905.9,236.3 1908.2,237.1 1910.4,237.2 1912.7,237.8 1914.9,237.6 1917.2,238" fill="none" stroke="#2790A7" stroke-width="9.4" stroke-linejoin="round" stroke-linecap="round"/>
<polyline points="1357.7,183.9 1360,182.4 1362.2,180.7 1364.5,179.5 1366.7,177.7 1369,177.2 1371.2,176 1373.5,176.3 1375.7,176.1 1377.9,174.4 1380.2,174.5 1382.4,175.3 1384.7,174.3 1386.9,173.2 1389.2,172.8 1391.4,172.8 1393.7,172.9 1395.9,172.9 1398.2,173 1400.4,172.7 1402.7,172.8 1404.9,172.9 1407.2,172.9 1409.4,174.1 1411.6,173.6 1413.9,173.2 1416.1,173.9 1418.4,173.7 1420.6,174.2 1422.9,174 1425.1,173.4 1427.4,173.8 1429.6,174.3 1431.9,173.9 1434.1,174.3 1436.4,175 1438.6,175.2 1440.9,175.6 1443.1,175.7 1445.3,175 1447.6,175 1449.8,174.7 1452.1,174.9 1454.3,174.5 1456.6,175.3 1458.8,176.3 1461.1,176.6 1463.3,176.9 1465.6,177.2 1467.8,176.5 1470.1,176.3 1472.3,176.7 1474.6,176.6 1476.8,176.8 1479.1,177 1481.3,176.6 1483.5,177 1485.8,176.8 1488,177.8 1490.3,178.2 1492.5,178.7 1494.8,177.6 1497,178.3 1499.3,178.1 1501.5,178.8 1503.8,179.1 1506,178.9 1508.3,178.7 1510.5,179.7 1512.8,179.1 1515,179.6 1517.2,179.9 1519.5,179.7 1521.7,179.7 1524,179.5 1526.2,179.9 1528.5,180.3 1530.7,179.8 1533,180.2 1535.2,181 1537.5,181.3 1539.7,181.6 1542,181.7 1544.2,181.2 1546.5,181.9 1548.7,182.6 1550.9,182.9 1553.2,183.8 1555.4,183.1 1557.7,183.2 1559.9,184.5 1562.2,184.9 1564.4,184.9 1566.7,185.5 1568.9,185.4 1571.2,185.8 1573.4,186.8 1575.7,187.2 1577.9,187.3 1580.2,187.3 1582.4,188.4 1584.7,188.4 1586.9,189.4 1589.1,189.8 1591.4,190.2 1593.6,190.2 1595.9,190.4 1598.1,190.3 1600.4,191 1602.6,190.9 1604.9,192.5 1607.1,192.5 1609.4,192.7 1611.6,193.8 1613.9,194 1616.1,194.6 1618.4,194.8 1620.6,194.5 1622.8,195.2 1625.1,195.8 1627.3,195.9 1629.6,196.1 1631.8,197 1634.1,197.1 1636.3,196.4 1638.6,198 1640.8,198.5 1643.1,198.5 1645.3,199.3 1647.6,199.7 1649.8,199 1652.1,199.8 1654.3,200.3 1656.5,200.5 1658.8,200.8 1661,200.8 1663.3,201.5 1665.5,201.4 1667.8,202 1670,202.6 1672.3,203.2 1674.5,203.6 1676.8,203.1 1679,203.9 1681.3,205.3 1683.5,205.4 1685.8,205.5 1688,206.4 1690.2,206.7 1692.5,206.6 1694.7,206.8 1697,206.8 1699.2,207 1701.5,207.6 1703.7,208.3 1706,208.4 1708.2,208.3 1710.5,208.5 1712.7,209.1 1715,209.8 1717.2,209.5 1719.5,209.9 1721.7,210.1 1724,211.4 1726.2,212.1 1728.4,211.3 1730.7,212.7 1732.9,212.3 1735.2,212.1 1737.4,212.9 1739.7,213.4 1741.9,213.5 1744.2,214.6 1746.4,214.2 1748.7,215 1750.9,215.2 1753.2,215.6 1755.4,215.8 1757.7,216.4 1759.9,216.3 1762.1,217.1 1764.4,216.9 1766.6,216.4 1768.9,216.4 1771.1,217.1 1773.4,218.1 1775.6,218.7 1777.9,218.9 1780.1,219.6 1782.4,219 1784.6,219.3 1786.9,219.8 1789.1,220.4 1791.4,220.8 1793.6,221.4 1795.8,221 1798.1,221.2 1800.3,221.3 1802.6,222.8 1804.8,222.5 1807.1,223.2 1809.3,222.6 1811.6,223.2 1813.8,223.6 1816.1,223.5 1818.3,224.3 1820.6,224.5 1822.8,225.3 1825.1,225.6 1827.3,226 1829.6,226.1 1831.8,225.9 1834,226.7 1836.3,226.2 1838.5,226.7 1840.8,226.8 1843,227.7 1845.3,227.7 1847.5,227.6 1849.8,227.9 1852,229.1 1854.3,229.2 1856.5,229 1858.8,229.3 1861,229.8 1863.3,230.3 1865.5,230.3 1867.7,230.2 1870,230.4 1872.2,230.8 1874.5,231.1 1876.7,231.6 1879,232.5 1881.2,232.2 1883.5,233.1 1885.7,233.1 1888,233.7 1890.2,234 1892.5,234 1894.7,234.3 1897,234.9 1899.2,234 1901.4,235.8 1903.7,235.8 1905.9,236.8 1908.2,236.6 1910.4,236.1 1912.7,235.8 1914.9,236.5 1917.2,237.3" fill="none" stroke="#8FBFDE" stroke-width="9.4" stroke-linejoin="round" stroke-linecap="round"/>
<polyline points="1357.7,186.4 1360,184.8 1362.2,182.9 1364.5,182.3 1366.7,180.7 1369,182.2 1371.2,181.6 1373.5,181.4 1375.7,181.9 1377.9,182.1 1380.2,182.1 1382.4,182.9 1384.7,182.3 1386.9,182.9 1389.2,183.3 1391.4,183.2 1393.7,183 1395.9,183.2 1398.2,183.5 1400.4,183.9 1402.7,183.7 1404.9,184.5 1407.2,184.3 1409.4,185.4 1411.6,185 1413.9,184.9 1416.1,185.3 1418.4,184.9 1420.6,186 1422.9,184.8 1425.1,185.4 1427.4,185.5 1429.6,186.5 1431.9,186.2 1434.1,186.1 1436.4,186.7 1438.6,186.7 1440.9,186.7 1443.1,186.5 1445.3,187.1 1447.6,187.1 1449.8,187.1 1452.1,187.6 1454.3,187.1 1456.6,188 1458.8,187.9 1461.1,187.7 1463.3,187 1465.6,188.3 1467.8,188 1470.1,189.1 1472.3,188.1 1474.6,188.6 1476.8,188.9 1479.1,188.7 1481.3,189.3 1483.5,189.6 1485.8,190.5 1488,190.5 1490.3,190.7 1492.5,191.2 1494.8,192 1497,191.1 1499.3,190.9 1501.5,192.6 1503.8,192.3 1506,192.4 1508.3,192.8 1510.5,192.3 1512.8,192.6 1515,193.3 1517.2,193.2 1519.5,193.5 1521.7,194.1 1524,194.1 1526.2,194.6 1528.5,194.4 1530.7,194.4 1533,194.4 1535.2,195.3 1537.5,195 1539.7,195.1 1542,195.5 1544.2,195.8 1546.5,195.8 1548.7,195.7 1550.9,196.5 1553.2,197.2 1555.4,197.2 1557.7,197.6 1559.9,197.1 1562.2,196.9 1564.4,197.4 1566.7,197.6 1568.9,197.8 1571.2,197.9 1573.4,198.1 1575.7,198.8 1577.9,198.6 1580.2,198.8 1582.4,199.6 1584.7,199.9 1586.9,199.9 1589.1,200.1 1591.4,200.3 1593.6,200.5 1595.9,200.7 1598.1,202.1 1600.4,202.5 1602.6,202.6 1604.9,202.5 1607.1,203 1609.4,203.8 1611.6,204 1613.9,204.7 1616.1,204.2 1618.4,205 1620.6,205.1 1622.8,205.7 1625.1,206.1 1627.3,206.6 1629.6,207.3 1631.8,207.3 1634.1,208.3 1636.3,208.4 1638.6,207.8 1640.8,208.6 1643.1,208.7 1645.3,209.7 1647.6,209.8 1649.8,210.3 1652.1,210.5 1654.3,210.9 1656.5,211.4 1658.8,211.9 1661,212.4 1663.3,212.9 1665.5,213 1667.8,213.2 1670,214.2 1672.3,214 1674.5,214.2 1676.8,214.4 1679,214.7 1681.3,215.8 1683.5,215.6 1685.8,215.6 1688,216.1 1690.2,216.4 1692.5,216.9 1694.7,217.3 1697,217.9 1699.2,218.1 1701.5,218.5 1703.7,219.9 1706,218.7 1708.2,219.6 1710.5,219.8 1712.7,220.3 1715,220.5 1717.2,220.9 1719.5,221.8 1721.7,222 1724,222.2 1726.2,222.8 1728.4,222.5 1730.7,223.1 1732.9,223.9 1735.2,223.7 1737.4,223.9 1739.7,223.4 1741.9,224.2 1744.2,225.1 1746.4,225.5 1748.7,226.1 1750.9,226.4 1753.2,227 1755.4,227.5 1757.7,227.3 1759.9,227.6 1762.1,228.1 1764.4,228.5 1766.6,228.4 1768.9,227.7 1771.1,228.6 1773.4,228.7 1775.6,229.7 1777.9,229.5 1780.1,229.8 1782.4,229.9 1784.6,231.2 1786.9,231.1 1789.1,231.1 1791.4,231.7 1793.6,232 1795.8,231.8 1798.1,231.8 1800.3,232.9 1802.6,233 1804.8,233.7 1807.1,234.7 1809.3,233.9 1811.6,234.2 1813.8,234.4 1816.1,234.4 1818.3,233.7 1820.6,234.5 1822.8,235.1 1825.1,235.2 1827.3,235.1 1829.6,235.4 1831.8,236.7 1834,236.7 1836.3,236.4 1838.5,236.8 1840.8,237.4 1843,237.4 1845.3,238.1 1847.5,238.3 1849.8,238.7 1852,239.5 1854.3,239.4 1856.5,239.6 1858.8,239.3 1861,239.1 1863.3,240.1 1865.5,240.7 1867.7,240.5 1870,241.1 1872.2,241.2 1874.5,241.4 1876.7,242.1 1879,242.6 1881.2,242.4 1883.5,241.7 1885.7,242.4 1888,243.2 1890.2,243.1 1892.5,243.7 1894.7,243.9 1897,244.4 1899.2,244.6 1901.4,244.7 1903.7,245.2 1905.9,245.7 1908.2,246.3 1910.4,245.7 1912.7,245.7 1914.9,246 1917.2,246.6" fill="none" stroke="#F0895A" stroke-width="9.4" stroke-linejoin="round" stroke-linecap="round"/>
<polyline points="1357.7,190.7 1360,189.1 1362.2,189.2 1364.5,187.8 1366.7,187.5 1369,186.7 1371.2,187 1373.5,187.3 1375.7,187 1377.9,187.4 1380.2,187.2 1382.4,187.4 1384.7,188.3 1386.9,188.5 1389.2,188.5 1391.4,189 1393.7,189.5 1395.9,189 1398.2,189.1 1400.4,189.1 1402.7,188.5 1404.9,188.6 1407.2,189.7 1409.4,189.6 1411.6,188.9 1413.9,189.4 1416.1,189.6 1418.4,188.6 1420.6,188.9 1422.9,189.4 1425.1,188.7 1427.4,188.7 1429.6,187.7 1431.9,188.4 1434.1,188.2 1436.4,189.3 1438.6,188.5 1440.9,188.2 1443.1,188.7 1445.3,188.7 1447.6,188.5 1449.8,188.5 1452.1,188 1454.3,188 1456.6,187.4 1458.8,188.6 1461.1,188.2 1463.3,188.8 1465.6,187.7 1467.8,188.5 1470.1,188.3 1472.3,187.6 1474.6,187.7 1476.8,188.3 1479.1,188.1 1481.3,188.4 1483.5,188.4 1485.8,188.7 1488,188.7 1490.3,189.1 1492.5,189 1494.8,189.3 1497,189.5 1499.3,189.3 1501.5,189.7 1503.8,190.1 1506,190 1508.3,190 1510.5,190.2 1512.8,190.5 1515,190.7 1517.2,190.9 1519.5,191.4 1521.7,191.2 1524,190.9 1526.2,191.3 1528.5,191.1 1530.7,190.5 1533,190.8 1535.2,190.9 1537.5,190.9 1539.7,191.4 1542,191.9 1544.2,191.8 1546.5,191.4 1548.7,192.6 1550.9,192.6 1553.2,192.1 1555.4,192.9 1557.7,192.8 1559.9,192.8 1562.2,192.8 1564.4,193.2 1566.7,193 1568.9,192.9 1571.2,192.9 1573.4,193.2 1575.7,194.1 1577.9,194.6 1580.2,194.3 1582.4,194.6 1584.7,194.5 1586.9,194.1 1589.1,194.3 1591.4,194.4 1593.6,195.2 1595.9,194.8 1598.1,195.4 1600.4,195.2 1602.6,195.7 1604.9,195.6 1607.1,195.3 1609.4,195.6 1611.6,195.3 1613.9,195.3 1616.1,196 1618.4,196.2 1620.6,196.4 1622.8,196.5 1625.1,197.4 1627.3,196.9 1629.6,197 1631.8,196.7 1634.1,197.4 1636.3,198 1638.6,197.5 1640.8,197.2 1643.1,197.9 1645.3,197.6 1647.6,197.6 1649.8,198.2 1652.1,198.3 1654.3,198.9 1656.5,198.5 1658.8,198.1 1661,199.1 1663.3,198.6 1665.5,199.3 1667.8,199.5 1670,199.5 1672.3,199.8 1674.5,200 1676.8,199.9 1679,200 1681.3,200.3 1683.5,200.8 1685.8,201.2 1688,200.4 1690.2,201 1692.5,201.5 1694.7,201.5 1697,201.8 1699.2,202 1701.5,201.6 1703.7,202.1 1706,202.4 1708.2,202.3 1710.5,203 1712.7,202.7 1715,204.1 1717.2,203.6 1719.5,204.6 1721.7,204.8 1724,204.7 1726.2,204.9 1728.4,205.3 1730.7,205.5 1732.9,205.2 1735.2,205.1 1737.4,205.5 1739.7,205.8 1741.9,207 1744.2,207.6 1746.4,207.5 1748.7,207.7 1750.9,207 1753.2,207.7 1755.4,207.7 1757.7,208 1759.9,207.5 1762.1,208.1 1764.4,208.5 1766.6,208.2 1768.9,209.2 1771.1,209.8 1773.4,209.8 1775.6,209.8 1777.9,210.3 1780.1,210.6 1782.4,210.8 1784.6,211.4 1786.9,210.9 1789.1,210.7 1791.4,211.3 1793.6,212.4 1795.8,212.3 1798.1,212.5 1800.3,212.3 1802.6,213.1 1804.8,212.3 1807.1,212.7 1809.3,213.9 1811.6,213.7 1813.8,214 1816.1,214.8 1818.3,214.6 1820.6,214.9 1822.8,215.7 1825.1,215.8 1827.3,216.1 1829.6,216.7 1831.8,216.7 1834,216.3 1836.3,216.7 1838.5,217.1 1840.8,217.2 1843,217.8 1845.3,217.6 1847.5,217.6 1849.8,218 1852,218.2 1854.3,218.2 1856.5,219.1 1858.8,219.2 1861,219 1863.3,219.7 1865.5,219.8 1867.7,220 1870,219.8 1872.2,220.6 1874.5,220.7 1876.7,220.7 1879,221.3 1881.2,222.1 1883.5,221.8 1885.7,222.3 1888,222.2 1890.2,222.4 1892.5,223 1894.7,222.8 1897,223.5 1899.2,223.7 1901.4,224 1903.7,224.3 1905.9,225 1908.2,225 1910.4,224.9 1912.7,225.9 1914.9,225.8 1917.2,225.2" fill="none" stroke="#FBD88C" stroke-width="9.4" stroke-linejoin="round" stroke-linecap="round"/>
<polyline points="1357.7,185.4 1360,184.9 1362.2,183.9 1364.5,183.2 1366.7,183.7 1369,183.7 1371.2,184.3 1373.5,184.5 1375.7,184.7 1377.9,185.1 1380.2,184.6 1382.4,185.2 1384.7,186 1386.9,185.5 1389.2,186.1 1391.4,186.9 1393.7,186.8 1395.9,187.3 1398.2,187.4 1400.4,187.8 1402.7,187.3 1404.9,188.2 1407.2,187.9 1409.4,189.2 1411.6,189.7 1413.9,189.6 1416.1,189.8 1418.4,189.8 1420.6,190.6 1422.9,190.6 1425.1,190.5 1427.4,190.5 1429.6,191 1431.9,191.8 1434.1,192.3 1436.4,192.4 1438.6,193 1440.9,192 1443.1,192.8 1445.3,192.8 1447.6,194 1449.8,193.4 1452.1,194.1 1454.3,194.6 1456.6,194.9 1458.8,195.6 1461.1,195.8 1463.3,196.3 1465.6,196.2 1467.8,195.6 1470.1,196.3 1472.3,196.3 1474.6,196.9 1476.8,197.9 1479.1,198.4 1481.3,197.8 1483.5,197.7 1485.8,197.8 1488,197.9 1490.3,198.1 1492.5,197.6 1494.8,198.4 1497,199.1 1499.3,199.4 1501.5,199.8 1503.8,199.9 1506,199.5 1508.3,200.1 1510.5,199.8 1512.8,200.2 1515,200 1517.2,200.9 1519.5,200.5 1521.7,200.5 1524,201.3 1526.2,201.5 1528.5,201.7 1530.7,202.3 1533,201.5 1535.2,201.5 1537.5,202.8 1539.7,203 1542,202.7 1544.2,202.6 1546.5,202.6 1548.7,202.8 1550.9,203.1 1553.2,204.1 1555.4,204.3 1557.7,204.3 1559.9,203.5 1562.2,204 1564.4,205 1566.7,204.5 1568.9,205.2 1571.2,204.7 1573.4,205.3 1575.7,205.4 1577.9,205.2 1580.2,205.6 1582.4,206.1 1584.7,206.9 1586.9,206.9 1589.1,206.9 1591.4,206.9 1593.6,207.1 1595.9,208 1598.1,208 1600.4,208.7 1602.6,208.6 1604.9,207.8 1607.1,208 1609.4,209.1 1611.6,209.1 1613.9,209.4 1616.1,209.4 1618.4,209.7 1620.6,209.6 1622.8,210.1 1625.1,210.4 1627.3,210.3 1629.6,210.6 1631.8,211 1634.1,211.3 1636.3,211.2 1638.6,211.4 1640.8,212.1 1643.1,212.2 1645.3,212.6 1647.6,212.7 1649.8,212.9 1652.1,213 1654.3,212.9 1656.5,213.5 1658.8,213.9 1661,213.9 1663.3,214.2 1665.5,214.7 1667.8,214.4 1670,215.3 1672.3,215.4 1674.5,215.5 1676.8,215.6 1679,215.9 1681.3,216.5 1683.5,216.1 1685.8,216.2 1688,216.8 1690.2,217.5 1692.5,217.9 1694.7,218.3 1697,218.1 1699.2,217.8 1701.5,217.9 1703.7,218.4 1706,219.1 1708.2,218.4 1710.5,218.6 1712.7,219.3 1715,219.9 1717.2,219.1 1719.5,220.2 1721.7,220.6 1724,220.2 1726.2,220.8 1728.4,221.3 1730.7,220.9 1732.9,221.4 1735.2,222.2 1737.4,221.9 1739.7,222.8 1741.9,223.4 1744.2,222.3 1746.4,222.8 1748.7,222.9 1750.9,223.7 1753.2,223.7 1755.4,224.3 1757.7,223.9 1759.9,224.7 1762.1,224.8 1764.4,224.9 1766.6,224.7 1768.9,225.6 1771.1,225.5 1773.4,226.3 1775.6,226.1 1777.9,227 1780.1,226.8 1782.4,226.8 1784.6,227.2 1786.9,227.1 1789.1,226.9 1791.4,228 1793.6,228.2 1795.8,228.4 1798.1,229.1 1800.3,228.7 1802.6,228.7 1804.8,229.4 1807.1,228.9 1809.3,230.1 1811.6,230 1813.8,230.2 1816.1,230.2 1818.3,231.1 1820.6,230.8 1822.8,230.3 1825.1,231.2 1827.3,232.4 1829.6,232.2 1831.8,232.1 1834,232.2 1836.3,232.5 1838.5,233 1840.8,233.2 1843,232.8 1845.3,233.2 1847.5,233.1 1849.8,233.9 1852,233.6 1854.3,234.4 1856.5,234.3 1858.8,234.6 1861,235 1863.3,235.4 1865.5,235.6 1867.7,235.5 1870,236.4 1872.2,236.4 1874.5,236.2 1876.7,237 1879,237 1881.2,236.7 1883.5,236.7 1885.7,237.5 1888,238 1890.2,238.2 1892.5,238.4 1894.7,239.3 1897,239.4 1899.2,238.7 1901.4,239.4 1903.7,239.3 1905.9,239.6 1908.2,239.6 1910.4,239.8 1912.7,240 1914.9,240 1917.2,240" fill="none" stroke="#3E6EB6" stroke-width="9.4" stroke-linejoin="round" stroke-linecap="round"/>
<polyline points="1357.7,178.1 1360,178.4 1362.2,178.1 1364.5,178.3 1366.7,178.4 1369,179.2 1371.2,179.3 1373.5,179.4 1375.7,179.1 1377.9,179.2 1380.2,179.5 1382.4,179.2 1384.7,179.4 1386.9,179.1 1389.2,180.1 1391.4,180.2 1393.7,181.3 1395.9,181 1398.2,180.9 1400.4,180.9 1402.7,181.3 1404.9,181 1407.2,181.2 1409.4,181.4 1411.6,181.5 1413.9,181.7 1416.1,181.9 1418.4,182.2 1420.6,182.3 1422.9,182.2 1425.1,182.5 1427.4,182.1 1429.6,182.1 1431.9,182.2 1434.1,183 1436.4,183.4 1438.6,182.8 1440.9,183.7 1443.1,183.4 1445.3,183.3 1447.6,184.3 1449.8,184 1452.1,183.8 1454.3,184.6 1456.6,184.6 1458.8,185.4 1461.1,184.7 1463.3,184.7 1465.6,184.4 1467.8,185.5 1470.1,185 1472.3,185.6 1474.6,185.5 1476.8,186.3 1479.1,186.4 1481.3,185.9 1483.5,185.6 1485.8,185.7 1488,186 1490.3,187.1 1492.5,187.2 1494.8,186.7 1497,186.7 1499.3,186.8 1501.5,186.7 1503.8,187.8 1506,187.7 1508.3,187.3 1510.5,187.7 1512.8,187.6 1515,187.9 1517.2,188 1519.5,187.7 1521.7,188.3 1524,188.2 1526.2,188.5 1528.5,188.5 1530.7,188.1 1533,188.3 1535.2,188 1537.5,189.4 1539.7,189.2 1542,188.7 1544.2,189.5 1546.5,189.5 1548.7,189.9 1550.9,189.9 1553.2,190.5 1555.4,189.9 1557.7,190.3 1559.9,190.9 1562.2,191 1564.4,191.5 1566.7,191.1 1568.9,191.1 1571.2,191.8 1573.4,191.8 1575.7,192.1 1577.9,192.7 1580.2,192.5 1582.4,191.7 1584.7,192.2 1586.9,193.3 1589.1,193.1 1591.4,193.3 1593.6,193.5 1595.9,193.7 1598.1,193.3 1600.4,193 1602.6,194 1604.9,194.5 1607.1,194.8 1609.4,194.6 1611.6,195 1613.9,194.5 1616.1,194.9 1618.4,194.9 1620.6,193.7 1622.8,194.1 1625.1,194.8 1627.3,195.7 1629.6,196.4 1631.8,196.8 1634.1,197.1 1636.3,198 1638.6,198.5 1640.8,199.2 1643.1,200 1645.3,200.4 1647.6,200.4 1649.8,200.4 1652.1,200.9 1654.3,201.1 1656.5,202.2 1658.8,202.4 1661,202.7 1663.3,203.6 1665.5,204.1 1667.8,203.8 1670,203.7 1672.3,204 1674.5,204 1676.8,204.5 1679,204.6 1681.3,205.2 1683.5,205.9 1685.8,205.6 1688,206.5 1690.2,207 1692.5,206.7 1694.7,206.7 1697,207.9 1699.2,208.5 1701.5,208.7 1703.7,208.9 1706,208.8 1708.2,209.7 1710.5,210.2 1712.7,209.9 1715,210.2 1717.2,210.4 1719.5,210.9 1721.7,211.5 1724,212.6 1726.2,212.2 1728.4,212.4 1730.7,212.6 1732.9,213 1735.2,213.2 1737.4,213.3 1739.7,214.1 1741.9,214 1744.2,213.9 1746.4,214.6 1748.7,215.5 1750.9,215.7 1753.2,216.1 1755.4,216.3 1757.7,217 1759.9,217.4 1762.1,217.2 1764.4,218 1766.6,218.1 1768.9,218.6 1771.1,218.6 1773.4,218 1775.6,218.1 1777.9,218.4 1780.1,218.7 1782.4,219.1 1784.6,220.3 1786.9,219.7 1789.1,220.5 1791.4,221.1 1793.6,220.6 1795.8,221.1 1798.1,221.6 1800.3,222.2 1802.6,222.1 1804.8,222.1 1807.1,222.1 1809.3,222.1 1811.6,223 1813.8,222.5 1816.1,223 1818.3,223.8 1820.6,223.5 1822.8,223.1 1825.1,223 1827.3,223.5 1829.6,223.7 1831.8,224.2 1834,224.7 1836.3,225.1 1838.5,225 1840.8,225.9 1843,226.2 1845.3,224.9 1847.5,225.8 1849.8,225.6 1852,226 1854.3,225.9 1856.5,227.6 1858.8,227 1861,226.9 1863.3,227 1865.5,227 1867.7,227.3 1870,228.1 1872.2,228.1 1874.5,228.7 1876.7,228.9 1879,228 1881.2,228.7 1883.5,228.8 1885.7,228.8 1888,229.5 1890.2,230 1892.5,229.9 1894.7,229.7 1897,229.3 1899.2,229.8 1901.4,230.8 1903.7,230.4 1905.9,230.1 1908.2,231.4 1910.4,231.5 1912.7,231.4 1914.9,231.8 1917.2,231.1" fill="none" stroke="#D3352D" stroke-width="9.4" stroke-linejoin="round" stroke-linecap="round"/>
<rect x="1356.6" y="50.4" width="561.7" height="267.1" fill="none" stroke="#000" stroke-width="3"/>
<path d="M1356.6 317.5L1356.6 325.5M1468.9 317.5L1468.9 325.5M1581.3 317.5L1581.3 325.5M1693.6 317.5L1693.6 325.5M1806 317.5L1806 325.5M1918.3 317.5L1918.3 325.5" stroke="#000" stroke-width="3" fill="none"/>
<path d="M1412.8 317.5L1412.8 322M1525.1 317.5L1525.1 322M1637.4 317.5L1637.4 322M1749.8 317.5L1749.8 322M1862.1 317.5L1862.1 322" stroke="#000" stroke-width="2.4" fill="none"/>
<text x="1356.6" y="348" font-size="19.6" text-anchor="middle">0</text>
<text x="1468.9" y="348" font-size="19.6" text-anchor="middle">100</text>
<text x="1581.3" y="348" font-size="19.6" text-anchor="middle">200</text>
<text x="1693.6" y="348" font-size="19.6" text-anchor="middle">300</text>
<text x="1806" y="348" font-size="19.6" text-anchor="middle">400</text>
<text x="1918.3" y="348" font-size="19.6" text-anchor="middle">500</text>
<path d="M1356.6 317.5L1348.6 317.5M1356.6 250.7L1348.6 250.7M1356.6 183.9L1348.6 183.9M1356.6 117.2L1348.6 117.2M1356.6 50.4L1348.6 50.4" stroke="#000" stroke-width="3" fill="none"/>
<path d="M1356.6 284.1L1352.1 284.1M1356.6 217.3L1352.1 217.3M1356.6 150.6L1352.1 150.6M1356.6 83.8L1352.1 83.8" stroke="#000" stroke-width="2.4" fill="none"/>
<text x="1342.1" y="324.5" font-size="19.6" text-anchor="end">100</text>
<text x="1342.1" y="257.7" font-size="19.6" text-anchor="end">150</text>
<text x="1342.1" y="191" font-size="19.6" text-anchor="end">200</text>
<text x="1342.1" y="124.2" font-size="19.6" text-anchor="end">250</text>
<text x="1342.1" y="57.4" font-size="19.6" text-anchor="end">300</text>
<path d="M1918.3 50.4L1926.3 50.4M1918.3 88.5L1926.3 88.5M1918.3 126L1926.3 126M1918.3 163.5L1926.3 163.5M1918.3 201L1926.3 201M1918.3 238.5L1926.3 238.5M1918.3 317.5L1926.3 317.5" stroke="#000" stroke-width="3" fill="none"/>
<path d="M1918.3 69.8L1922.8 69.8M1918.3 107.2L1922.8 107.2M1918.3 144.8L1922.8 144.8M1918.3 182.2L1922.8 182.2M1918.3 219.8L1922.8 219.8M1918.3 257.2L1922.8 257.2" stroke="#000" stroke-width="2.4" fill="none"/>
<text x="1932.3" y="57.4" font-size="19.6">102</text>
<text x="1932.3" y="95.5" font-size="19.6">100</text>
<text x="1932.3" y="133" font-size="19.6">98</text>
<text x="1932.3" y="170.5" font-size="19.6">96</text>
<text x="1932.3" y="208" font-size="19.6">94</text>
<text x="1932.3" y="245.5" font-size="19.6">92</text>
<text x="1932.3" y="324.5" font-size="19.6">80</text>
<path d="M1918.3 287L1922.8 287M1918.3 302L1922.8 302" stroke="#000" stroke-width="2.4" fill="none"/>
<path d="M1910.3 271.5L1926.3 262.3" stroke="#000" stroke-width="2.8"/>
<path d="M1910.3 277.7L1926.3 268.5" stroke="#000" stroke-width="2.8"/>
<text x="1636.7" y="376" font-size="22.5" text-anchor="middle">Cycle number</text>
<text x="1306" y="197.7" font-size="22.3" text-anchor="middle" transform="rotate(-90 1306 197.7)" textLength="273">Specific capacity (mAh g<tspan dy="-0.62em" font-size="62%">−1</tspan><tspan dy="0.385em">)</tspan></text>
<text x="1987.6" y="193.5" font-size="22.9" text-anchor="middle" transform="rotate(-90 1987.6 193.5)">Coulombic Efficiency (%)</text>
<path d="M1395 192V218H1370.2" fill="none" stroke="#000" stroke-width="2.8" stroke-linecap="butt" stroke-linejoin="miter"/>
<path d="M1362.5 218L1373.5 213.4L1373.5 222.6Z" fill="#000"/>
<path d="M1868.3 103.6V130.2H1893.3" fill="none" stroke="#000" stroke-width="2.8" stroke-linecap="butt" stroke-linejoin="miter"/>
<path d="M1901 130.2L1890 125.6L1890 134.8Z" fill="#000"/>
<path d="M1367.9 238H1377.4M1385.4 238H1394.9" stroke="#2F4D86" stroke-width="1.3"/>
<circle cx="1381.4" cy="238" r="4" fill="url(#bg2F4D86)"/>
<text x="1400" y="244.1" font-size="19.3">P(DOA)</text>
<path d="M1367.9 261H1377.4M1385.4 261H1394.9" stroke="#2790A7" stroke-width="1.3"/>
<circle cx="1381.4" cy="261" r="4" fill="url(#bg2790A7)"/>
<text x="1400" y="267.1" font-size="19.3">P(AEEO)</text>
<path d="M1367.9 284.4H1377.4M1385.4 284.4H1394.9" stroke="#8FBFDE" stroke-width="1.3"/>
<circle cx="1381.4" cy="284.4" r="4" fill="url(#bg8FBFDE)"/>
<text x="1400" y="290.5" font-size="19.3">P(DOA–PCEA)</text>
<path d="M1367.9 308H1377.4M1385.4 308H1394.9" stroke="#D3352D" stroke-width="1.3"/>
<circle cx="1381.4" cy="308" r="4" fill="url(#bgD3352D)"/>
<text x="1400" y="314.1" font-size="19.3">P(AAEO)</text>
<path d="M1565.9 238H1575.4M1583.4 238H1592.9" stroke="#F0895A" stroke-width="1.3"/>
<circle cx="1579.4" cy="238" r="4" fill="url(#bgF0895A)"/>
<text x="1598.4" y="244.1" font-size="19.3">P(PCEA)</text>
<path d="M1565.9 261H1575.4M1583.4 261H1592.9" stroke="#FBD88C" stroke-width="1.3"/>
<circle cx="1579.4" cy="261" r="4" fill="url(#bgFBD88C)"/>
<text x="1598.4" y="267.1" font-size="19.3">P(DOA–AEEO)</text>
<path d="M1565.9 284.4H1575.4M1583.4 284.4H1592.9" stroke="#3E6EB6" stroke-width="1.3"/>
<circle cx="1579.4" cy="284.4" r="4" fill="url(#bg3E6EB6)"/>
<text x="1598.4" y="290.5" font-size="19.3">P(AAPC)</text>
<path d="M454.7 555A122.3 67 0 0 1 210.1 555V588A122.3 67 0 0 0 454.7 588Z" fill="url(#pieside)"/>
<path d="M213.4 570.4A122.3 67 0 0 1 210.1 555V588A122.3 67 0 0 0 213.4 603.4Z" fill="#E3F1F8"/>
<path d="M332.4 555L332.4 488A122.3 67 0 0 1 420 508.2Z" fill="#EF8A5B" stroke="#fff" stroke-width="1.1" stroke-linejoin="round"/>
<path d="M332.4 555L420 508.2A122.3 67 0 1 1 213.4 570.4Z" fill="#F8DA8E" stroke="#fff" stroke-width="1.1" stroke-linejoin="round"/>
<path d="M332.4 555L213.4 570.4A122.3 67 0 0 1 210.2 557.5Z" fill="#DFEFF6" stroke="#fff" stroke-width="1.1" stroke-linejoin="round"/>
<path d="M332.4 555L210.2 557.5A122.3 67 0 0 1 211.7 544.1Z" fill="#8CB9D4" stroke="#fff" stroke-width="1.1" stroke-linejoin="round"/>
<path d="M332.4 555L211.7 544.1A122.3 67 0 0 1 247 507Z" fill="#436FA9" stroke="#fff" stroke-width="1.1" stroke-linejoin="round"/>
<path d="M332.4 555L247 507A122.3 67 0 0 1 332.4 488Z" fill="#2B4870" stroke="#fff" stroke-width="1.1" stroke-linejoin="round"/>
<text x="272.4" y="470" font-size="17.3" text-anchor="middle">Electrolyte</text>
<text x="273" y="490.4" font-size="17.3" text-anchor="middle">12.3%</text>
<text x="397.4" y="470" font-size="17.3" text-anchor="middle">Current collector</text>
<text x="397" y="490.4" font-size="17.3" text-anchor="middle">12.7%</text>
<text x="192" y="501" font-size="17.3" text-anchor="middle">Packaging</text>
<text x="192" y="522" font-size="17.3" text-anchor="middle">10.1%</text>
<text x="168.6" y="544" font-size="17.3" text-anchor="middle">Separator</text>
<text x="168" y="564.4" font-size="17.3" text-anchor="middle">3.2%</text>
<text x="146.4" y="582" font-size="17.3" text-anchor="middle">Negative</text>
<text x="149" y="601.6" font-size="17.3" text-anchor="middle">electrode 3.1%</text>
<text x="359" y="673.6" font-size="17.3" text-anchor="middle">Positive electrode</text>
<text x="358.6" y="695" font-size="17.3" text-anchor="middle">58.6%</text>
<rect x="468" y="434" width="320" height="248" fill="#fff" stroke="#4472C4" stroke-width="1.3"/>
<rect x="468" y="434" width="320" height="26" fill="#ADB9CF" stroke="#4472C4" stroke-width="1.3"/>
<text x="628" y="452.6" font-size="15.7" text-anchor="middle" fill="#fff">Pouch cell parameters</text>
<text x="544" y="479.6" font-size="15.7" text-anchor="middle">Electrolyte/Capacity</text>
<text x="703.7" y="479.6" font-size="15.7" text-anchor="middle">1.2 g Ah<tspan dy="-0.62em" font-size="62%">-1</tspan></text>
<text x="544" y="505.5" font-size="15.7" text-anchor="middle">Positive electrode</text>
<text x="703.7" y="505.5" font-size="15.7" text-anchor="middle">NCM90 (220 mAh g<tspan dy="-0.62em" font-size="62%">-1</tspan><tspan dy="0.385em">)</tspan></text>
<text x="544" y="531.1" font-size="15.7" text-anchor="middle">Negative electrode</text>
<text x="703.7" y="531.1" font-size="15.7" text-anchor="middle">20 μm Li foil</text>
<text x="544" y="600.2" font-size="15.7" text-anchor="middle">Negative/Positive</text>
<text x="703.7" y="600.2" font-size="15.7" text-anchor="middle">~0.7</text>
<text x="544" y="624.9" font-size="15.7" text-anchor="middle">Cell weight</text>
<text x="703.7" y="624.9" font-size="15.7" text-anchor="middle">30±1 g</text>
<text x="544" y="649.7" font-size="15.7" text-anchor="middle">Cell capacity</text>
<text x="703.7" y="649.7" font-size="15.7" text-anchor="middle">3.85 Ah</text>
<text x="544" y="556.3" font-size="15.7" text-anchor="middle">Positive electrode</text>
<text x="545.5" y="574.6" font-size="15.7" text-anchor="middle">capacity</text>
<text x="703.7" y="565.4" font-size="15.7" text-anchor="middle">5.6 mAh cm<tspan dy="-0.62em" font-size="62%">-2</tspan></text>
<text x="544" y="675.3" font-size="15.7" text-anchor="middle" fill="#C00000">Specific energy</text>
<text x="703.7" y="675.3" font-size="15.7" text-anchor="middle" fill="#C00000">489 Wh kg<tspan dy="-0.62em" font-size="62%">-1</tspan></text>
<path d="M857.4 578.5C857.5 577.5 857.7 574.1 858.2 572.7C858.8 571.3 856.3 571.8 860.7 569.9C865.1 568 876.3 564.5 884.9 561.2C893.5 557.8 903.2 553.6 912.4 549.6C921.6 545.6 930.7 541.6 939.9 537.2C949.1 532.8 958.2 528.3 967.4 523.2C976.6 518.1 987.6 510.8 994.9 506.7C1002.2 502.6 1006.8 500.8 1011.4 498.5C1016 496.1 1018.7 495.3 1022.4 492.7C1026.1 490.1 1030.2 485.5 1033.4 482.8C1036.6 480.1 1038.9 478 1041.7 476.5C1044.4 475.1 1046.7 474.9 1049.9 474.2C1053.1 473.6 1057.7 473.2 1060.9 472.6C1064.1 471.9 1066.9 471.2 1069.2 470.4C1071.5 469.6 1073.1 468.6 1074.7 467.6C1076.2 466.6 1077.4 465.4 1078.5 464.3C1079.6 463.3 1080.8 461.8 1081.3 461.3" fill="none" stroke="#D3352D" stroke-width="2.8" stroke-linejoin="round" stroke-linecap="butt"/>
<path d="M857.4 467.9C857.5 468.6 857.6 470.7 858.1 472.1C858.5 473.4 858.9 475.1 860.2 476.2C861.4 477.3 862.9 478 865.7 478.7C868.4 479.4 873.4 479.9 876.7 480.3C879.9 480.8 882.4 480.9 884.9 481.5C887.4 482 889.5 482.6 891.5 483.6C893.5 484.7 894.9 485.8 897 487.7C899.1 489.7 901.6 493 904.2 495.2C906.7 497.3 909.7 499 912.4 500.6C915.2 502.3 917.9 503.6 920.7 505.1C923.4 506.6 925.7 507.5 928.9 509.5C932.1 511.6 935.8 514.5 939.9 517.4C944 520.4 949.1 524 953.7 527.3C958.2 530.6 962.8 534.4 967.4 537.2C972 540.1 976.6 542.2 981.2 544.7C985.7 547.1 990.3 549.6 994.9 552.1C999.5 554.6 1004.1 557 1008.7 559.5C1013.2 562 1018.3 564.8 1022.4 567.3C1026.5 569.7 1029.7 571.8 1033.4 574.4C1037.1 576.9 1041.2 580 1044.4 582.6C1047.6 585.2 1050.3 587.4 1052.7 590C1055 592.6 1057.1 595 1058.7 598.3C1060.4 601.6 1061.5 605.2 1062.6 609.8C1063.7 614.5 1064.5 620 1065.3 626.3C1066.1 632.7 1066.7 640.6 1067.2 647.8C1067.8 654.9 1068.4 665.7 1068.6 669.2" fill="none" stroke="#D3352D" stroke-width="2.8" stroke-linejoin="round" stroke-linecap="butt"/>
<path d="M857.4 575.2C857.5 574.6 857.7 572.9 858.2 571.9C858.8 570.9 856.3 571.3 860.7 569.2C865.1 567.2 876.3 563.2 884.9 559.5C893.5 555.8 903.2 551.4 912.4 547.1C921.6 542.9 930.7 538.9 939.9 533.9C949.1 529 958.2 522.9 967.4 517.4C976.6 512 987.6 505.4 994.9 501.3C1002.2 497.1 1006.8 495.7 1011.4 492.7C1016 489.7 1019.2 485.9 1022.4 483.1C1025.6 480.4 1027.9 477.7 1030.7 476.2C1033.4 474.7 1035.7 474.7 1038.9 474.1C1042.1 473.4 1046.7 472.8 1049.9 472.1C1053.1 471.4 1056 470.8 1058.2 469.9C1060.4 469.1 1061.7 468.1 1063.1 467.1C1064.5 466.2 1065.4 465.3 1066.4 464.3C1067.4 463.4 1068.7 461.8 1069.2 461.3" fill="none" stroke="#F0864F" stroke-width="2.8" stroke-linejoin="round" stroke-linecap="butt"/>
<path d="M857.4 467.3C857.5 468 857.6 470 858.1 471.4C858.5 472.8 858.9 474.4 860.2 475.5C861.4 476.6 862.9 477.3 865.7 478C868.4 478.7 873.4 479.2 876.7 479.7C879.9 480.1 882.4 480.3 884.9 480.8C887.4 481.4 889.5 481.9 891.5 483C893.5 484 894.9 485.2 897 487.1C899.1 489 901.6 492.4 904.2 494.5C906.7 496.7 909.7 498.3 912.4 500C915.2 501.6 917.9 502.9 920.7 504.4C923.4 505.9 925.7 506.8 928.9 508.9C932.1 510.9 935.8 513.8 939.9 516.8C944 519.8 949.1 523.4 953.7 526.7C958.2 530 962.8 533.7 967.4 536.6C972 539.5 976.6 541.5 981.2 544C985.7 546.5 990.3 549 994.9 551.4C999.5 553.9 1004.1 556.3 1008.7 558.9C1013.2 561.4 1018.3 564.1 1022.4 566.6C1026.5 569.1 1029.7 571.1 1033.4 573.7C1037.1 576.3 1041.2 579.3 1044.4 582C1047.6 584.6 1050.3 586.8 1052.7 589.4C1055 592 1057.1 594.3 1058.7 597.6C1060.4 600.9 1061.5 604.5 1062.6 609.2C1063.7 613.8 1064.5 619.3 1065.3 625.7C1066.1 632 1066.7 640 1067.2 647.1C1067.8 654.3 1068.4 665 1068.6 668.6" fill="none" stroke="#F0864F" stroke-width="2.8" stroke-linejoin="round" stroke-linecap="butt"/>
<path d="M857.4 575.2C857.5 574.6 857.7 572.9 858.2 571.9C858.8 570.9 856.3 571.3 860.7 569.1C865.1 566.9 876.3 562.5 884.9 558.7C893.5 554.9 903.2 550.6 912.4 546.3C921.6 542.1 930.7 538.3 939.9 533.1C949.1 527.9 959.2 520.3 967.4 515C975.7 509.7 983.4 504.7 989.4 501.3C995.4 497.8 999 497.4 1003.2 494.3C1007.3 491.3 1011 486.2 1014.2 483.1C1017.4 480 1019.7 477.4 1022.4 475.9C1025.2 474.4 1027.9 474.5 1030.7 474.1C1033.4 473.6 1036.2 473.4 1038.9 472.9C1041.7 472.4 1044.8 471.9 1047.2 471.2C1049.5 470.6 1051.6 469.8 1053.2 468.8C1054.9 467.7 1056 466.2 1057.1 465C1058.2 463.7 1059.4 462 1059.8 461.3" fill="none" stroke="#3E6EB6" stroke-width="2.8" stroke-linejoin="round" stroke-linecap="butt"/>
<path d="M857.4 467.9C857.5 468.6 857.6 470.7 858.1 472.1C858.5 473.4 858.9 475.1 860.2 476.2C861.4 477.3 862.9 478 865.7 478.7C868.4 479.4 873.4 479.9 876.7 480.3C879.9 480.8 882.4 480.9 884.9 481.5C887.4 482 889.5 482.6 891.5 483.6C893.5 484.7 894.9 485.8 897 487.7C899.1 489.7 901.6 493 904.2 495.2C906.7 497.3 909.7 499 912.4 500.6C915.2 502.3 917.9 503.6 920.7 505.1C923.4 506.6 925.7 507.5 928.9 509.5C932.1 511.6 935.8 514.5 939.9 517.4C944 520.4 949.1 524 953.7 527.3C958.2 530.6 962.8 534.4 967.4 537.2C972 540.1 976.6 542.2 981.2 544.7C985.7 547.1 990.3 549.6 994.9 552.1C999.5 554.6 1004.1 557 1008.7 559.5C1013.2 562 1018.3 564.8 1022.4 567.3C1026.5 569.7 1030.7 572.4 1033.4 574.4C1036.2 576.4 1037.1 577.4 1038.9 579.3C1040.7 581.2 1042.8 583.3 1044.4 585.9C1046.1 588.5 1047.5 591.5 1048.8 595C1050.1 598.4 1051.1 601.3 1052.1 606.5C1053.1 611.8 1054 618.9 1054.9 626.3C1055.7 633.8 1056.6 643.9 1057.3 651.1C1058.1 658.2 1058.9 666.2 1059.3 669.2" fill="none" stroke="#3E6EB6" stroke-width="2.8" stroke-linejoin="round" stroke-linecap="butt"/>
<rect x="857.4" y="436.6" width="307.8" height="248.3" fill="none" stroke="#000" stroke-width="3"/>
<path d="M857.4 684.9L857.4 690.6M912.4 684.9L912.4 690.6M967.4 684.9L967.4 690.6M1022.4 684.9L1022.4 690.6M1077.4 684.9L1077.4 690.6M1132.4 684.9L1132.4 690.6" stroke="#000" stroke-width="2.4" fill="none"/>
<path d="M884.9 684.9L884.9 688.2M939.9 684.9L939.9 688.2M994.9 684.9L994.9 688.2M1049.9 684.9L1049.9 688.2M1104.9 684.9L1104.9 688.2M1159.9 684.9L1159.9 688.2" stroke="#000" stroke-width="1.7" fill="none"/>
<text x="857.4" y="708.2" font-size="19.6" text-anchor="middle">0</text>
<text x="912.4" y="708.2" font-size="19.6" text-anchor="middle">1</text>
<text x="967.4" y="708.2" font-size="19.6" text-anchor="middle">2</text>
<text x="1022.4" y="708.2" font-size="19.6" text-anchor="middle">3</text>
<text x="1077.4" y="708.2" font-size="19.6" text-anchor="middle">4</text>
<text x="1132.4" y="708.2" font-size="19.6" text-anchor="middle">5</text>
<path d="M857.4 634.6L851.7 634.6M857.4 568.6L851.7 568.6M857.4 502.6L851.7 502.6M857.4 436.6L851.7 436.6" stroke="#000" stroke-width="2.4" fill="none"/>
<path d="M857.4 667.6L854.1 667.6M857.4 601.6L854.1 601.6M857.4 535.6L854.1 535.6M857.4 469.6L854.1 469.6" stroke="#000" stroke-width="1.7" fill="none"/>
<text x="849.9" y="641.6" font-size="19.6" text-anchor="end">3.2</text>
<text x="849.9" y="575.6" font-size="19.6" text-anchor="end">3.6</text>
<text x="849.9" y="509.6" font-size="19.6" text-anchor="end">4.0</text>
<text x="849.9" y="443.6" font-size="19.6" text-anchor="end">4.4</text>
<text x="1011.7" y="735" font-size="22.3" text-anchor="middle">Capacity (Ah)</text>
<text x="814.4" y="562" font-size="22.2" text-anchor="middle" transform="rotate(-90 814.4 562)">Voltage (V)</text>
<text x="861" y="459" font-size="20.2">P(DOA)</text>
<text x="1067" y="613" font-size="19">0.05C/0.1C</text>
<path d="M1092 629H1121" stroke="#D3352D" stroke-width="3.2"/>
<text x="1126" y="635" font-size="18.3">1st</text>
<path d="M1092 652.6H1121" stroke="#F0864F" stroke-width="3.2"/>
<text x="1126" y="658.6" font-size="18.3">3nd</text>
<path d="M1092 676.2H1121" stroke="#3E6EB6" stroke-width="3.2"/>
<text x="1126" y="682.2" font-size="18.3">50th</text>
<path d="M1233 578.5C1233.1 577.5 1233.3 574.1 1233.8 572.7C1234.4 571.3 1231.9 571.8 1236.3 569.9C1240.7 568 1251.9 564.5 1260.5 561.2C1269.1 557.8 1278.8 553.6 1288 549.6C1297.2 545.6 1306.3 541.6 1315.5 537.2C1324.7 532.8 1333.8 528.3 1343 523.2C1352.2 518.1 1363.2 510.8 1370.5 506.7C1377.8 502.6 1382.4 500.8 1387 498.5C1391.6 496.1 1394.3 495.3 1398 492.7C1401.7 490.1 1405.8 485.5 1409 482.8C1412.2 480.1 1414.5 478 1417.3 476.5C1420 475.1 1422.3 474.9 1425.5 474.2C1428.7 473.6 1433.3 473.2 1436.5 472.6C1439.7 471.9 1442.5 471.2 1444.8 470.4C1447.1 469.6 1448.7 468.6 1450.3 467.6C1451.8 466.6 1453 465.4 1454.1 464.3C1455.2 463.3 1456.4 461.8 1456.9 461.3" fill="none" stroke="#D3352D" stroke-width="2.8" stroke-linejoin="round" stroke-linecap="butt"/>
<path d="M1233 467.9C1233.1 468.6 1233.2 470.7 1233.7 472.1C1234.1 473.4 1234.5 475.1 1235.8 476.2C1237 477.3 1238.5 478 1241.3 478.7C1244 479.4 1249 479.9 1252.3 480.3C1255.5 480.8 1258 480.9 1260.5 481.5C1263 482 1265.1 482.6 1267.1 483.6C1269.1 484.7 1270.5 485.8 1272.6 487.7C1274.7 489.7 1277.2 493 1279.8 495.2C1282.3 497.3 1285.3 499 1288 500.6C1290.8 502.3 1293.5 503.6 1296.3 505.1C1299 506.6 1301.3 507.5 1304.5 509.5C1307.7 511.6 1311.4 514.5 1315.5 517.4C1319.6 520.4 1324.7 524 1329.3 527.3C1333.8 530.6 1338.4 534.4 1343 537.2C1347.6 540.1 1352.2 542.2 1356.8 544.7C1361.3 547.1 1365.9 549.6 1370.5 552.1C1375.1 554.6 1379.7 557 1384.3 559.5C1388.8 562 1393.9 564.8 1398 567.3C1402.1 569.7 1405.3 571.8 1409 574.4C1412.7 576.9 1416.8 580 1420 582.6C1423.2 585.2 1425.9 587.4 1428.3 590C1430.6 592.6 1432.7 595 1434.3 598.3C1436 601.6 1437.1 605.2 1438.2 609.8C1439.3 614.5 1440.1 620 1440.9 626.3C1441.7 632.7 1442.3 640.6 1442.8 647.8C1443.4 654.9 1444 665.7 1444.2 669.2" fill="none" stroke="#D3352D" stroke-width="2.8" stroke-linejoin="round" stroke-linecap="butt"/>
<path d="M1233 575.2C1233.1 574.6 1233.3 572.9 1233.8 571.9C1234.4 570.9 1231.9 571.3 1236.3 569.2C1240.7 567.2 1251.9 563.2 1260.5 559.5C1269.1 555.8 1278.8 551.4 1288 547.1C1297.2 542.9 1306.3 538.9 1315.5 533.9C1324.7 529 1333.8 522.9 1343 517.4C1352.2 512 1363.2 505.4 1370.5 501.3C1377.8 497.1 1382.4 495.7 1387 492.7C1391.6 489.7 1394.8 485.9 1398 483.1C1401.2 480.4 1403.5 477.7 1406.3 476.2C1409 474.7 1411.3 474.7 1414.5 474.1C1417.7 473.4 1422.3 472.8 1425.5 472.1C1428.7 471.4 1431.6 470.8 1433.8 469.9C1436 469.1 1437.3 468.1 1438.7 467.1C1440.1 466.2 1441 465.3 1442 464.3C1443 463.4 1444.3 461.8 1444.8 461.3" fill="none" stroke="#F0864F" stroke-width="2.8" stroke-linejoin="round" stroke-linecap="butt"/>
<path d="M1233 467.3C1233.1 468 1233.2 470 1233.7 471.4C1234.1 472.8 1234.5 474.4 1235.8 475.5C1237 476.6 1238.5 477.3 1241.3 478C1244 478.7 1249 479.2 1252.3 479.7C1255.5 480.1 1258 480.3 1260.5 480.8C1263 481.4 1265.1 481.9 1267.1 483C1269.1 484 1270.5 485.2 1272.6 487.1C1274.7 489 1277.2 492.4 1279.8 494.5C1282.3 496.7 1285.3 498.3 1288 500C1290.8 501.6 1293.5 502.9 1296.3 504.4C1299 505.9 1301.3 506.8 1304.5 508.9C1307.7 510.9 1311.4 513.8 1315.5 516.8C1319.6 519.8 1324.7 523.4 1329.3 526.7C1333.8 530 1338.4 533.7 1343 536.6C1347.6 539.5 1352.2 541.5 1356.8 544C1361.3 546.5 1365.9 549 1370.5 551.4C1375.1 553.9 1379.7 556.3 1384.3 558.9C1388.8 561.4 1393.9 564.1 1398 566.6C1402.1 569.1 1405.3 571.1 1409 573.7C1412.7 576.3 1416.8 579.3 1420 582C1423.2 584.6 1425.9 586.8 1428.3 589.4C1430.6 592 1432.7 594.3 1434.3 597.6C1436 600.9 1437.1 604.5 1438.2 609.2C1439.3 613.8 1440.1 619.3 1440.9 625.7C1441.7 632 1442.3 640 1442.8 647.1C1443.4 654.3 1444 665 1444.2 668.6" fill="none" stroke="#F0864F" stroke-width="2.8" stroke-linejoin="round" stroke-linecap="butt"/>
<path d="M1233 575.2C1233.1 574.6 1233.3 572.9 1233.8 571.9C1234.4 570.9 1231.9 571.3 1236.3 569.1C1240.7 566.9 1251.7 562.5 1260.2 558.7C1268.7 554.9 1278.3 550.6 1287.4 546.3C1296.5 542.1 1305.5 538.3 1314.6 533.1C1323.7 527.9 1333.7 520.3 1341.8 515C1350 509.7 1357.7 504.7 1363.6 501.3C1369.5 497.8 1373.1 497.4 1377.2 494.3C1381.3 491.3 1384.9 486.2 1388.1 483.1C1391.2 480 1393.5 477.4 1396.2 475.9C1398.9 474.4 1401.7 474.5 1404.4 474.1C1407.1 473.6 1409.8 473.4 1412.5 472.9C1415.3 472.4 1418.3 471.9 1420.7 471.2C1423.1 470.6 1425.1 469.8 1426.7 468.8C1428.3 467.7 1429.4 466.2 1430.5 465C1431.6 463.7 1432.8 462 1433.2 461.3" fill="none" stroke="#3E6EB6" stroke-width="2.8" stroke-linejoin="round" stroke-linecap="butt"/>
<path d="M1233 467.9C1233.1 468.6 1233.2 470.7 1233.7 472.1C1234.1 473.4 1234.5 475.1 1235.8 476.2C1237 477.3 1238.5 478 1241.3 478.7C1244 479.4 1249 479.9 1252.3 480.3C1255.5 480.8 1258 480.9 1260.5 481.5C1263 482 1265.1 482.6 1267.1 483.7C1269.1 484.9 1270.5 486.2 1272.6 488.3C1274.7 490.5 1277.2 494 1279.8 496.4C1282.3 498.8 1285.3 500.7 1288 502.6C1290.8 504.5 1293.5 506.1 1296.3 507.8C1299 509.4 1301.3 510.4 1304.5 512.5C1307.7 514.6 1311.4 517.4 1315.5 520.4C1319.6 523.4 1324.7 527 1329.3 530.3C1333.8 533.6 1338.4 537.3 1343 540.2C1347.6 543.1 1352.2 545.2 1356.8 547.6C1361.3 550.1 1365.9 552.6 1370.5 555.1C1375.1 557.5 1379.7 560 1384.3 562.5C1388.8 565 1393.9 567.8 1398 570.2C1402.1 572.7 1406.6 575.8 1409 577.3C1411.4 578.8 1411 577.9 1412.5 579.3C1414 580.7 1416.4 583.3 1418 585.9C1419.7 588.5 1421.1 591.5 1422.4 595C1423.7 598.4 1424.7 601.3 1425.7 606.5C1426.7 611.8 1427.6 618.9 1428.5 626.3C1429.4 633.8 1430.2 643.9 1431 651.1C1431.7 658.2 1432.6 666.2 1432.9 669.2" fill="none" stroke="#3E6EB6" stroke-width="2.8" stroke-linejoin="round" stroke-linecap="butt"/>
<rect x="1233" y="436.6" width="307.8" height="248.3" fill="none" stroke="#000" stroke-width="3"/>
<path d="M1233 684.9L1233 690.6M1288 684.9L1288 690.6M1343 684.9L1343 690.6M1398 684.9L1398 690.6M1453 684.9L1453 690.6M1508 684.9L1508 690.6" stroke="#000" stroke-width="2.4" fill="none"/>
<path d="M1260.5 684.9L1260.5 688.2M1315.5 684.9L1315.5 688.2M1370.5 684.9L1370.5 688.2M1425.5 684.9L1425.5 688.2M1480.5 684.9L1480.5 688.2M1535.5 684.9L1535.5 688.2" stroke="#000" stroke-width="1.7" fill="none"/>
<text x="1233" y="708.2" font-size="19.6" text-anchor="middle">0</text>
<text x="1288" y="708.2" font-size="19.6" text-anchor="middle">1</text>
<text x="1343" y="708.2" font-size="19.6" text-anchor="middle">2</text>
<text x="1398" y="708.2" font-size="19.6" text-anchor="middle">3</text>
<text x="1453" y="708.2" font-size="19.6" text-anchor="middle">4</text>
<text x="1508" y="708.2" font-size="19.6" text-anchor="middle">5</text>
<path d="M1233 634.6L1227.3 634.6M1233 568.6L1227.3 568.6M1233 502.6L1227.3 502.6M1233 436.6L1227.3 436.6" stroke="#000" stroke-width="2.4" fill="none"/>
<path d="M1233 667.6L1229.7 667.6M1233 601.6L1229.7 601.6M1233 535.6L1229.7 535.6M1233 469.6L1229.7 469.6" stroke="#000" stroke-width="1.7" fill="none"/>
<text x="1225.5" y="641.6" font-size="19.6" text-anchor="end">3.2</text>
<text x="1225.5" y="575.6" font-size="19.6" text-anchor="end">3.6</text>
<text x="1225.5" y="509.6" font-size="19.6" text-anchor="end">4.0</text>
<text x="1225.5" y="443.6" font-size="19.6" text-anchor="end">4.4</text>
<text x="1387" y="735" font-size="22.3" text-anchor="middle">Capacity (Ah)</text>
<text x="1189.4" y="562" font-size="22.2" text-anchor="middle" transform="rotate(-90 1189.4 562)">Voltage (V)</text>
<text x="1236" y="459" font-size="20.2">P(AEEO)</text>
<text x="1443" y="615" font-size="19">0.05C/0.1C</text>
<path d="M1464.4 630H1497" stroke="#D3352D" stroke-width="3.2"/>
<text x="1502" y="636" font-size="18.3">1st</text>
<path d="M1464.4 653.6H1497" stroke="#F0864F" stroke-width="3.2"/>
<text x="1502" y="659.6" font-size="18.3">3nd</text>
<path d="M1464.4 677.2H1497" stroke="#3E6EB6" stroke-width="3.2"/>
<text x="1502" y="683.2" font-size="18.3">50th</text>
<path d="M1619.3 578.4L1625.5 464.6" stroke="#6FA8D6" stroke-width="1.0" fill="none"/>
<polyline points="1619.3,578.4 1625.5,464.6 1631.6,462.3 1637.8,464.7 1644,463.5 1650.2,463.7 1656.3,462.4 1662.5,464.5 1668.7,462.8 1674.9,463.8 1681.1,463.5 1687.2,463.8 1693.4,463 1699.6,464 1705.8,463.4 1711.9,463.2 1718.1,462.3 1724.3,464.7 1730.5,462.5 1736.7,462.8 1742.8,463.6 1749,463.2 1755.2,463.6 1761.4,462.4 1767.5,463.3 1773.7,463.5 1779.9,463.5 1786.1,463.5 1792.3,463.5 1798.4,463.9 1804.6,462.2 1810.8,464.5 1817,465.4 1823.2,463.4 1829.3,463.5 1835.5,463.2 1841.7,463.5 1847.9,463.5 1854,463.2 1860.2,462.8 1866.4,463.6 1872.6,463.6 1878.8,462.3 1884.9,463.1 1891.1,463.9 1897.3,466.1 1903.5,468.4 1909.6,470.6 1915.8,474 1922,478.6" fill="none" stroke="#6FA8D6" stroke-width="1.0" stroke-linejoin="round" marker-start="url(#mo6FA8D644)" marker-mid="url(#mo6FA8D644)" marker-end="url(#mo6FA8D644)"/>
<path d="M1619.3 584.1L1625.5 461.2M1681.1 469.5L1687.2 456.6" stroke="#F07F23" stroke-width="1.2" fill="none"/>
<polyline points="1619.3,584.1 1625.5,461.2 1631.6,462.6 1637.8,461.3 1644,462.2 1650.2,462.2 1656.3,460.7 1662.5,461.9 1668.7,462 1674.9,461.5 1681.1,469.5 1687.2,456.6 1693.4,461.6 1699.6,462.7 1705.8,462.3 1711.9,462.3 1718.1,462.9 1724.3,463 1730.5,463.1 1736.7,462.2 1742.8,462.1 1749,462.2 1755.2,462 1761.4,462.9 1767.5,462.1 1773.7,461.9 1779.9,461.5 1786.1,462.6 1792.3,462.3 1798.4,463.4 1804.6,462.4 1810.8,463.5 1817,463 1823.2,461.3 1829.3,458.2 1835.5,461.5 1841.7,461.8 1847.9,462.2 1854,461.7 1860.2,461.7 1866.4,461.3 1872.6,462.2 1878.8,462.4 1884.9,462.4 1891.1,462.7 1897.3,462 1903.5,462.5 1909.6,461.3 1915.8,463.3 1922,462.8" fill="none" stroke="#F07F23" stroke-width="1.1" stroke-linejoin="round" marker-start="url(#moF07F2345)" marker-mid="url(#moF07F2345)" marker-end="url(#moF07F2345)"/>
<circle cx="1619.3" cy="499.5" r="4.7" fill="url(#hbB)"/>
<circle cx="1625.5" cy="499.9" r="4.7" fill="url(#hbB)"/>
<circle cx="1631.6" cy="500.4" r="4.7" fill="url(#hbB)"/>
<circle cx="1637.8" cy="500.8" r="4.7" fill="url(#hbB)"/>
<circle cx="1644" cy="501.3" r="4.7" fill="url(#hbB)"/>
<circle cx="1650.2" cy="501.7" r="4.7" fill="url(#hbB)"/>
<circle cx="1656.3" cy="502.2" r="4.7" fill="url(#hbB)"/>
<circle cx="1662.5" cy="502.6" r="4.7" fill="url(#hbB)"/>
<circle cx="1668.7" cy="503.1" r="4.7" fill="url(#hbB)"/>
<circle cx="1674.9" cy="503.5" r="4.7" fill="url(#hbB)"/>
<circle cx="1681.1" cy="504" r="4.7" fill="url(#hbB)"/>
<circle cx="1687.2" cy="504.4" r="4.7" fill="url(#hbB)"/>
<circle cx="1693.4" cy="504.9" r="4.7" fill="url(#hbB)"/>
<circle cx="1699.6" cy="505.3" r="4.7" fill="url(#hbB)"/>
<circle cx="1705.8" cy="505.8" r="4.7" fill="url(#hbB)"/>
<circle cx="1711.9" cy="506.2" r="4.7" fill="url(#hbB)"/>
<circle cx="1718.1" cy="506.7" r="4.7" fill="url(#hbB)"/>
<circle cx="1724.3" cy="507.1" r="4.7" fill="url(#hbB)"/>
<circle cx="1730.5" cy="507.6" r="4.7" fill="url(#hbB)"/>
<circle cx="1736.7" cy="508" r="4.7" fill="url(#hbB)"/>
<circle cx="1742.8" cy="508.5" r="4.7" fill="url(#hbB)"/>
<circle cx="1749" cy="508.9" r="4.7" fill="url(#hbB)"/>
<circle cx="1755.2" cy="509.4" r="4.7" fill="url(#hbB)"/>
<circle cx="1761.4" cy="509.8" r="4.7" fill="url(#hbB)"/>
<circle cx="1767.5" cy="510.3" r="4.7" fill="url(#hbB)"/>
<circle cx="1773.7" cy="510.7" r="4.7" fill="url(#hbB)"/>
<circle cx="1779.9" cy="511.2" r="4.7" fill="url(#hbB)"/>
<circle cx="1786.1" cy="511.6" r="4.7" fill="url(#hbB)"/>
<circle cx="1792.3" cy="512.1" r="4.7" fill="url(#hbB)"/>
<circle cx="1798.4" cy="512.5" r="4.7" fill="url(#hbB)"/>
<circle cx="1804.6" cy="513" r="4.7" fill="url(#hbB)"/>
<circle cx="1810.8" cy="513.4" r="4.7" fill="url(#hbB)"/>
<circle cx="1817" cy="513.9" r="4.7" fill="url(#hbB)"/>
<circle cx="1823.2" cy="514.3" r="4.7" fill="url(#hbB)"/>
<circle cx="1829.3" cy="514.8" r="4.7" fill="url(#hbB)"/>
<circle cx="1835.5" cy="515.2" r="4.7" fill="url(#hbB)"/>
<circle cx="1841.7" cy="515.7" r="4.7" fill="url(#hbB)"/>
<circle cx="1847.9" cy="516.1" r="4.7" fill="url(#hbB)"/>
<circle cx="1854" cy="516.6" r="4.7" fill="url(#hbB)"/>
<circle cx="1860.2" cy="517" r="4.7" fill="url(#hbB)"/>
<circle cx="1866.4" cy="517.5" r="4.7" fill="url(#hbB)"/>
<circle cx="1872.6" cy="517.9" r="4.7" fill="url(#hbB)"/>
<circle cx="1878.8" cy="518.4" r="4.7" fill="url(#hbB)"/>
<circle cx="1884.9" cy="518.8" r="4.7" fill="url(#hbB)"/>
<circle cx="1891.1" cy="519.7" r="4.7" fill="url(#hbB)"/>
<circle cx="1897.3" cy="520.8" r="4.7" fill="url(#hbB)"/>
<circle cx="1903.5" cy="522" r="4.7" fill="url(#hbB)"/>
<circle cx="1909.6" cy="523.3" r="4.7" fill="url(#hbB)"/>
<circle cx="1915.8" cy="524.7" r="4.7" fill="url(#hbB)"/>
<circle cx="1922" cy="526.1" r="4.7" fill="url(#hbB)"/>
<circle cx="1619.3" cy="503" r="4.7" fill="url(#hbO)"/>
<circle cx="1625.5" cy="503.3" r="4.7" fill="url(#hbO)"/>
<circle cx="1631.6" cy="503.6" r="4.7" fill="url(#hbO)"/>
<circle cx="1637.8" cy="503.9" r="4.7" fill="url(#hbO)"/>
<circle cx="1644" cy="504.2" r="4.7" fill="url(#hbO)"/>
<circle cx="1650.2" cy="504.5" r="4.7" fill="url(#hbO)"/>
<circle cx="1656.3" cy="504.8" r="4.7" fill="url(#hbO)"/>
<circle cx="1662.5" cy="505.1" r="4.7" fill="url(#hbO)"/>
<circle cx="1668.7" cy="505.4" r="4.7" fill="url(#hbO)"/>
<circle cx="1674.9" cy="505.7" r="4.7" fill="url(#hbO)"/>
<circle cx="1681.1" cy="506" r="4.7" fill="url(#hbO)"/>
<circle cx="1687.2" cy="506.4" r="4.7" fill="url(#hbO)"/>
<circle cx="1693.4" cy="506.7" r="4.7" fill="url(#hbO)"/>
<circle cx="1699.6" cy="507" r="4.7" fill="url(#hbO)"/>
<circle cx="1705.8" cy="507.3" r="4.7" fill="url(#hbO)"/>
<circle cx="1711.9" cy="507.6" r="4.7" fill="url(#hbO)"/>
<circle cx="1718.1" cy="507.9" r="4.7" fill="url(#hbO)"/>
<circle cx="1724.3" cy="508.3" r="4.7" fill="url(#hbO)"/>
<circle cx="1730.5" cy="508.6" r="4.7" fill="url(#hbO)"/>
<circle cx="1736.7" cy="508.9" r="4.7" fill="url(#hbO)"/>
<circle cx="1742.8" cy="509.2" r="4.7" fill="url(#hbO)"/>
<circle cx="1749" cy="509.5" r="4.7" fill="url(#hbO)"/>
<circle cx="1755.2" cy="509.9" r="4.7" fill="url(#hbO)"/>
<circle cx="1761.4" cy="510.2" r="4.7" fill="url(#hbO)"/>
<circle cx="1767.5" cy="510.5" r="4.7" fill="url(#hbO)"/>
<circle cx="1773.7" cy="510.9" r="4.7" fill="url(#hbO)"/>
<circle cx="1779.9" cy="511.2" r="4.7" fill="url(#hbO)"/>
<circle cx="1786.1" cy="511.5" r="4.7" fill="url(#hbO)"/>
<circle cx="1792.3" cy="511.8" r="4.7" fill="url(#hbO)"/>
<circle cx="1798.4" cy="512.2" r="4.7" fill="url(#hbO)"/>
<circle cx="1804.6" cy="512.5" r="4.7" fill="url(#hbO)"/>
<circle cx="1810.8" cy="512.9" r="4.7" fill="url(#hbO)"/>
<circle cx="1817" cy="513.2" r="4.7" fill="url(#hbO)"/>
<circle cx="1823.2" cy="513.5" r="4.7" fill="url(#hbO)"/>
<circle cx="1829.3" cy="513.9" r="4.7" fill="url(#hbO)"/>
<circle cx="1835.5" cy="514.2" r="4.7" fill="url(#hbO)"/>
<circle cx="1841.7" cy="514.6" r="4.7" fill="url(#hbO)"/>
<circle cx="1847.9" cy="514.9" r="4.7" fill="url(#hbO)"/>
<circle cx="1854" cy="515.2" r="4.7" fill="url(#hbO)"/>
<circle cx="1860.2" cy="515.6" r="4.7" fill="url(#hbO)"/>
<circle cx="1866.4" cy="515.9" r="4.7" fill="url(#hbO)"/>
<circle cx="1872.6" cy="516.3" r="4.7" fill="url(#hbO)"/>
<circle cx="1878.8" cy="516.6" r="4.7" fill="url(#hbO)"/>
<circle cx="1884.9" cy="517" r="4.7" fill="url(#hbO)"/>
<circle cx="1891.1" cy="517.3" r="4.7" fill="url(#hbO)"/>
<circle cx="1897.3" cy="517.7" r="4.7" fill="url(#hbO)"/>
<circle cx="1903.5" cy="518" r="4.7" fill="url(#hbO)"/>
<circle cx="1909.6" cy="518.4" r="4.7" fill="url(#hbO)"/>
<circle cx="1915.8" cy="518.8" r="4.7" fill="url(#hbO)"/>
<circle cx="1922" cy="519.1" r="4.7" fill="url(#hbO)"/>
<rect x="1659.9" y="559.4" width="39" height="9.6" fill="url(#tab)"/>
<rect x="1659.9" y="613.7" width="39" height="9.6" fill="url(#tab)"/>
<rect x="1697.7" y="533.4" width="191.3" height="125.2" fill="url(#foil)"/>
<rect x="1872" y="533.4" width="17" height="125.2" fill="#CFCFCD"/>
<rect x="1700" y="536" width="10" height="120" fill="#B5B5B3" opacity="0.7"/>
<rect x="1724.8" y="542.9" width="145.2" height="102.7" fill="url(#pblue)" stroke="#2E4F9E" stroke-width="1.2"/>
<path d="M1729.5 600.2H1868.8" stroke="#fff" stroke-width="0.9" stroke-dasharray="3 2"/>
<text x="1796.8" y="568.8" font-size="17.4" text-anchor="middle" fill="#fff">Li metal pouch</text>
<text x="1796.8" y="589.6" font-size="17.4" text-anchor="middle" fill="#fff">cell</text>
<text x="1796.8" y="632.6" font-size="17.4" text-anchor="middle" fill="#EEF2FA">489 Wh kg<tspan dy="-0.5em" font-size="62%">-1</tspan></text>
<text x="1906" y="596" font-size="15.2" text-anchor="middle" fill="#4472C4" transform="rotate(-90 1906 596)">7 cm</text>
<path d="M1910.6 535V656" stroke="#4472C4" stroke-width="1.1"/><path d="M1910.6 533.4l-2.4 6h4.8zM1910.6 657.4l-2.4-6h4.8z" fill="#4472C4"/>
<text x="1801.5" y="670.4" font-size="15.2" text-anchor="middle" fill="#4472C4">10 cm</text>
<path d="M1702 672H1884.5" stroke="#4472C4" stroke-width="1.1"/><path d="M1700.5 672l6-2.4v4.8zM1886 672l-6-2.4v4.8z" fill="#4472C4"/>
<rect x="1613.1" y="436.6" width="308.9" height="249.6" fill="none" stroke="#000" stroke-width="3"/>
<path d="M1613.1 686.2L1613.1 691.9M1674.9 686.2L1674.9 691.9M1736.7 686.2L1736.7 691.9M1798.4 686.2L1798.4 691.9M1860.2 686.2L1860.2 691.9M1922 686.2L1922 691.9" stroke="#000" stroke-width="2.4" fill="none"/>
<path d="M1644 686.2L1644 689.5M1705.8 686.2L1705.8 689.5M1767.5 686.2L1767.5 689.5M1829.3 686.2L1829.3 689.5M1891.1 686.2L1891.1 689.5" stroke="#000" stroke-width="1.7" fill="none"/>
<text x="1613.1" y="709.5" font-size="20" text-anchor="middle">0</text>
<text x="1674.9" y="709.5" font-size="20" text-anchor="middle">10</text>
<text x="1736.7" y="709.5" font-size="20" text-anchor="middle">20</text>
<text x="1798.4" y="709.5" font-size="20" text-anchor="middle">30</text>
<text x="1860.2" y="709.5" font-size="20" text-anchor="middle">40</text>
<text x="1922" y="709.5" font-size="20" text-anchor="middle">50</text>
<path d="M1613.1 686.2L1607.4 686.2M1613.1 636.3L1607.4 636.3M1613.1 586.4L1607.4 586.4M1613.1 536.4L1607.4 536.4M1613.1 486.5L1607.4 486.5M1613.1 436.6L1607.4 436.6" stroke="#000" stroke-width="2.4" fill="none"/>
<path d="M1613.1 661.2L1609.8 661.2M1613.1 611.3L1609.8 611.3M1613.1 561.4L1609.8 561.4M1613.1 511.5L1609.8 511.5M1613.1 461.6L1609.8 461.6" stroke="#000" stroke-width="1.7" fill="none"/>
<text x="1605.1" y="693.4" font-size="20" text-anchor="end">2.0</text>
<text x="1605.1" y="643.4" font-size="20" text-anchor="end">2.5</text>
<text x="1605.1" y="593.5" font-size="20" text-anchor="end">3.0</text>
<text x="1605.1" y="543.6" font-size="20" text-anchor="end">3.5</text>
<text x="1605.1" y="493.7" font-size="20" text-anchor="end">4.0</text>
<text x="1605.1" y="443.8" font-size="20" text-anchor="end">4.5</text>
<path d="M1922 686.2L1927.7 686.2M1922 640.8L1927.7 640.8M1922 595.4L1927.7 595.4M1922 550.1L1927.7 550.1M1922 504.7L1927.7 504.7M1922 459.3L1927.7 459.3" stroke="#000" stroke-width="2.4" fill="none"/>
<path d="M1922 663.5L1925.3 663.5M1922 618.1L1925.3 618.1M1922 572.7L1925.3 572.7M1922 527.4L1925.3 527.4M1922 482L1925.3 482" stroke="#000" stroke-width="1.7" fill="none"/>
<text x="1929.5" y="693.4" font-size="20">90</text>
<text x="1929.5" y="648" font-size="20">92</text>
<text x="1929.5" y="602.6" font-size="20">94</text>
<text x="1929.5" y="557.2" font-size="20">96</text>
<text x="1929.5" y="511.8" font-size="20">98</text>
<text x="1929.5" y="466.5" font-size="20">100</text>
<text x="1766.7" y="735.3" font-size="22" text-anchor="middle">Cycle number</text>
<text x="1565.4" y="564" font-size="22.3" text-anchor="middle" transform="rotate(-90 1565.4 564)">Capacity (Ah)</text>
<text x="1984.5" y="558.8" font-size="22.2" text-anchor="middle" transform="rotate(-90 1984.5 558.8)">Coulombic Efficiency (%)</text>
<path d="M1658.7 509.8V535.8H1635.7" fill="none" stroke="#000" stroke-width="3.2" stroke-linecap="butt" stroke-linejoin="miter"/>
<path d="M1628 535.8L1639 531L1639 540.6Z" fill="#000"/>
<path d="M1868.8 468.5V491.6H1893.3" fill="none" stroke="#000" stroke-width="3.2" stroke-linecap="butt" stroke-linejoin="miter"/>
<path d="M1901 491.6L1890 486.8L1890 496.4Z" fill="#000"/>
<path d="M1612.6 655H1631.5" stroke="#F07F23" stroke-width="1.2"/>
<circle cx="1622" cy="655" r="4" fill="url(#hbO)"/>
<text x="1635" y="660.8" font-size="16">P(DOA)</text>
<path d="M1612.6 675H1631.5" stroke="#6FA8D6" stroke-width="1.2"/>
<circle cx="1622" cy="675" r="4" fill="url(#hbB)"/>
<text x="1635" y="680.8" font-size="16">P(AEEO)</text>
<path d="M154 907.2C154.1 906.2 154.3 902.3 154.8 901C155.4 899.7 154.7 899.5 157.1 899.5C159.6 899.5 164.9 900.6 169.6 901C174.3 901.4 179.2 901.6 185.3 901.6C191.4 901.6 200 901.3 206.1 901C212.2 900.7 216.6 900.4 221.8 899.8C227 899.1 231.3 898.5 237.4 897.3C243.5 896 250.4 894.8 258.3 892.3C266.1 889.8 275.6 886.6 284.3 882.3C293 878.1 301.7 872.6 310.4 866.8C319.1 861 329.5 852.8 336.5 847.5C343.4 842.2 347.4 838.5 352.1 835C356.8 831.5 362.5 827.8 364.6 826.3" fill="none" stroke="#D3352D" stroke-width="2.8" stroke-linejoin="round" stroke-linecap="butt"/>
<path d="M154 848.7C156.1 850.5 162.2 855.8 166.5 859.3C170.9 862.8 173.5 865 180.1 869.9C186.7 874.8 197.4 883.2 206.1 888.6C214.8 893.9 223.5 898.6 232.2 902.2C240.9 905.9 249.6 908 258.3 910.3C267 912.7 276.5 914.9 284.3 916.6C292.1 918.2 300.2 919.3 305.2 920.3C310.1 921.4 310.8 921.8 314 922.8C317.2 923.9 321.4 925.2 324.4 926.5C327.3 927.9 329.6 929.2 331.8 930.8C334 932.4 335.8 933.9 337.6 936.1C339.3 938.4 340.8 940.9 342.1 944.1C343.5 947.4 344.8 951.3 345.9 955.6C347 959.9 347.9 964.7 348.7 970.1C349.6 975.4 350.4 981.6 351 987.5C351.7 993.5 352.2 999.4 352.8 1005.8C353.3 1012.1 353.9 1022.2 354.2 1025.5" fill="none" stroke="#D3352D" stroke-width="2.8" stroke-linejoin="round" stroke-linecap="butt"/>
<path d="M154 909.7C154.2 909.2 154.3 907.3 155 906.6C155.7 905.9 155.7 905.7 158.2 905.7C160.6 905.7 165.1 906.5 169.6 906.6C174.2 906.7 179.2 907 185.3 906.6C191.4 906.2 200 905.2 206.1 904.5C212.2 903.8 216.6 903.2 221.8 902.2C227 901.2 231.3 900.2 237.4 898.5C243.5 896.8 250.4 895 258.3 892C266.1 889 275.6 885.2 284.3 880.5C293 875.7 301.7 869.7 310.4 863.6C319.1 857.6 329.5 849.4 336.5 844.4C343.4 839.3 347.9 836.2 352.1 833.1C356.3 830.1 359.9 827.4 361.5 826.3" fill="none" stroke="#F0864F" stroke-width="2.8" stroke-linejoin="round" stroke-linecap="butt"/>
<path d="M154 842.5C156.1 843.7 162.2 847.2 166.5 850C170.9 852.8 173.5 854.4 180.1 859.3C186.7 864.2 197.4 873 206.1 879.2C214.8 885.4 223.5 891.9 232.2 896.6C240.9 901.4 249.6 904.8 258.3 907.8C267 910.9 275.6 913.1 284.3 914.7C293 916.3 304.9 917.1 310.4 917.7C315.9 918.3 314.3 917.9 317.4 918.2C320.5 918.4 325.6 918.7 328.8 919C332.1 919.3 334.7 919.6 337.1 920C339.5 920.5 341.3 921 343.1 921.9C344.8 922.9 346.3 924 347.7 925.8C349 927.7 350.2 929.9 351.3 933.1C352.4 936.3 353.4 940.3 354.3 945C355.2 949.7 355.9 955 356.6 961.1C357.3 967.1 357.7 970.3 358.4 981.1C359.2 991.8 360.5 1018.1 361 1025.5" fill="none" stroke="#F0864F" stroke-width="2.8" stroke-linejoin="round" stroke-linecap="butt"/>
<path d="M154 913.5C154.2 912.9 154.3 911.1 155 910.3C155.7 909.6 154 909.5 158.2 909.1C162.3 908.7 172.1 908.5 180.1 907.8C188.1 907.2 197.4 907 206.1 905.4C214.8 903.7 223.5 901.2 232.2 897.9C240.9 894.6 249.6 890.4 258.3 885.4C267 880.5 275.6 874.1 284.3 868C293 861.9 302.6 854.4 310.4 848.7C318.2 843 325.7 837.5 331.2 833.8C336.8 830 341.7 827.5 343.8 826.3" fill="none" stroke="#FBD583" stroke-width="2.8" stroke-linejoin="round" stroke-linecap="butt"/>
<path d="M154 840.6C156.1 841.9 162.2 845.6 166.5 848.5C170.9 851.3 173.5 852.9 180.1 857.8C186.7 862.7 197.4 871.5 206.1 877.7C214.8 883.9 223.5 890.4 232.2 895.1C240.9 899.9 249.6 903.3 258.3 906.4C267 909.4 275.6 911.6 284.3 913.2C293 914.8 304.6 915.6 310.4 916.2C316.2 916.8 316.9 916.6 319.4 916.9C321.9 917.2 323.6 917.3 325.4 917.8C327.1 918.2 328.4 918.7 329.7 919.7C331 920.6 332 921.7 333 923.6C334 925.5 334.9 927.8 335.7 931C336.5 934.3 337.2 938.4 337.9 943.2C338.5 947.9 338.9 949.8 339.5 959.6C340.2 969.3 341.4 990.7 341.9 1001.7C342.4 1012.7 342.6 1021.5 342.7 1025.5" fill="none" stroke="#FBD583" stroke-width="2.8" stroke-linejoin="round" stroke-linecap="butt"/>
<path d="M154 914.7C154.2 914.1 154.3 911.8 155 911C155.7 910.1 154 910.2 158.2 909.7C162.3 909.2 172.1 908.7 180.1 907.8C188.1 907 197.4 906.6 206.1 904.7C214.8 902.9 223.5 900.4 232.2 896.6C240.9 892.9 249.6 887.8 258.3 882.3C267 876.8 275.6 870.1 284.3 863.6C293 857.2 303.4 849 310.4 843.7C317.3 838.4 321.9 834.8 326 831.9C330.2 829 333.9 827.2 335.4 826.3" fill="none" stroke="#8DB9DB" stroke-width="2.8" stroke-linejoin="round" stroke-linecap="butt"/>
<path d="M154 840C156.1 841.6 162.2 846.2 166.5 849.3C170.9 852.4 173.5 853.8 180.1 858.7C186.7 863.5 197.4 872.4 206.1 878.6C214.8 884.8 223.5 891.2 232.2 896C240.9 900.8 249.6 904.2 258.3 907.2C267 910.2 276.9 912.6 284.3 914.1C291.7 915.6 298.2 915.7 302.7 916.2C307.1 916.7 308.6 916.9 311 917.2C313.4 917.5 315.3 917.6 317 918.1C318.7 918.6 320.1 919 321.4 920C322.6 920.9 323.7 922 324.7 923.9C325.7 925.8 326.6 928 327.4 931.3C328.2 934.5 328.9 938.7 329.5 943.4C330.2 948.1 330.5 950 331.2 959.8C331.9 969.5 333 990.9 333.5 1001.8C334.1 1012.8 334.2 1021.6 334.4 1025.5" fill="none" stroke="#8DB9DB" stroke-width="2.8" stroke-linejoin="round" stroke-linecap="butt"/>
<path d="M154 915.9C154.2 915.2 154.3 912.6 155 911.6C155.7 910.6 154 910.6 158.2 910C162.3 909.3 172.1 908.8 180.1 907.8C188.1 906.9 197.4 906.2 206.1 904.1C214.8 902 223.5 899.5 232.2 895.4C240.9 891.2 249.6 885.2 258.3 879.2C267 873.2 275.6 866.1 284.3 859.3C293 852.4 304.3 842.9 310.4 838.1C316.5 833.4 318 832.6 320.8 830.7C323.6 828.7 326 827 327.1 826.3" fill="none" stroke="#3D6DB4" stroke-width="2.8" stroke-linejoin="round" stroke-linecap="butt"/>
<path d="M154 841.2C156.1 842.6 162.2 846.4 166.5 849.3C170.9 852.2 173.5 853.8 180.1 858.7C186.7 863.5 197.4 872.4 206.1 878.6C214.8 884.8 223.5 891.2 232.2 896C240.9 900.8 249.6 904.2 258.3 907.2C267 910.2 278.6 912.8 284.3 914.1C290 915.4 289.5 914.7 292.4 915C295.2 915.3 298.7 915.7 301.2 916.1C303.8 916.5 305.8 916.8 307.6 917.3C309.4 917.9 310.8 918.4 312.2 919.4C313.6 920.4 314.7 921.4 315.8 923.3C316.8 925.2 317.7 927.5 318.6 930.8C319.4 934 320.2 938.2 320.9 943C321.6 947.7 322 949.6 322.7 959.4C323.4 969.2 324.6 990.7 325.1 1001.7C325.7 1012.7 325.9 1021.5 326 1025.5" fill="none" stroke="#3D6DB4" stroke-width="2.8" stroke-linejoin="round" stroke-linecap="butt"/>
<rect x="154" y="801.4" width="308.2" height="249" fill="none" stroke="#000" stroke-width="3"/>
<path d="M154 1050.4L154 1056.1M206.1 1050.4L206.1 1056.1M258.3 1050.4L258.3 1056.1M310.4 1050.4L310.4 1056.1M362.5 1050.4L362.5 1056.1M414.7 1050.4L414.7 1056.1" stroke="#000" stroke-width="2.4" fill="none"/>
<path d="M180.1 1050.4L180.1 1053.7M232.2 1050.4L232.2 1053.7M284.3 1050.4L284.3 1053.7M336.5 1050.4L336.5 1053.7M388.6 1050.4L388.6 1053.7M440.7 1050.4L440.7 1053.7" stroke="#000" stroke-width="1.7" fill="none"/>
<text x="154" y="1075.4" font-size="19.6" text-anchor="middle">0</text>
<text x="206.1" y="1075.4" font-size="19.6" text-anchor="middle">50</text>
<text x="258.3" y="1075.4" font-size="19.6" text-anchor="middle">100</text>
<text x="310.4" y="1075.4" font-size="19.6" text-anchor="middle">150</text>
<text x="362.5" y="1075.4" font-size="19.6" text-anchor="middle">200</text>
<text x="414.7" y="1075.4" font-size="19.6" text-anchor="middle">250</text>
<path d="M154 1050.4L148.3 1050.4M154 1000.6L148.3 1000.6M154 950.8L148.3 950.8M154 901L148.3 901M154 851.2L148.3 851.2M154 801.4L148.3 801.4" stroke="#000" stroke-width="2.4" fill="none"/>
<path d="M154 1025.5L150.7 1025.5M154 975.7L150.7 975.7M154 925.9L150.7 925.9M154 876.1L150.7 876.1M154 826.3L150.7 826.3" stroke="#000" stroke-width="1.7" fill="none"/>
<text x="145.5" y="1057.4" font-size="19.6" text-anchor="end">2.8</text>
<text x="145.5" y="1007.6" font-size="19.6" text-anchor="end">3.2</text>
<text x="145.5" y="957.8" font-size="19.6" text-anchor="end">3.6</text>
<text x="145.5" y="908" font-size="19.6" text-anchor="end">4.0</text>
<text x="145.5" y="858.2" font-size="19.6" text-anchor="end">4.4</text>
<text x="145.5" y="808.4" font-size="19.6" text-anchor="end">4.8</text>
<text x="308.1" y="1100" font-size="22.3" text-anchor="middle">Specific capacity (mAh g<tspan dy="-0.62em" font-size="62%">−1</tspan><tspan dy="0.385em">)</tspan></text>
<text x="111" y="928" font-size="22.2" text-anchor="middle" transform="rotate(-90 111 928)">Voltage (V)</text>
<text x="157" y="820" font-size="20.2">P(DOA) 1C</text>
<path d="M376 946H409" stroke="#D3352D" stroke-width="3.2"/>
<text x="413" y="952" font-size="18.3">1st</text>
<path d="M376 969.6H409" stroke="#F0864F" stroke-width="3.2"/>
<text x="413" y="975.6" font-size="18.3">4th</text>
<path d="M376 993.3H409" stroke="#FBD583" stroke-width="3.2"/>
<text x="413" y="999.3" font-size="18.3">100th</text>
<path d="M376 1017H409" stroke="#8DB9DB" stroke-width="3.2"/>
<text x="413" y="1022.9" font-size="18.3">200th</text>
<path d="M376 1040.6H409" stroke="#3D6DB4" stroke-width="3.2"/>
<text x="413" y="1046.6" font-size="18.3">300th</text>
<path d="M545.5 966.9C545.5 960.3 545.5 938.7 545.7 927.4C545.8 916 545.8 904 546.3 898.9C546.8 893.8 544.4 897.4 548.6 896.7C552.8 896 563.4 895.3 571.5 894.6C579.6 893.9 588.8 893.2 597.5 892.5C606.2 891.8 614.8 891.1 623.5 890.3C632.2 889.4 640.8 888.8 649.5 887.5C658.2 886.3 666.8 885.2 675.5 882.8C684.2 880.5 692.8 877.5 701.5 873.6C710.1 869.6 718.8 864.4 727.5 859.3C736.1 854.3 746.5 847.5 753.5 843.3C760.4 839 764.6 836.5 769.1 834C773.6 831.5 778.6 829.4 780.5 828.4" fill="none" stroke="#D3352D" stroke-width="2.8" stroke-linejoin="round" stroke-linecap="butt"/>
<path d="M545.5 856.9C546.4 857.9 548.6 860.9 550.7 863.1C552.8 865.2 554.5 867 558 869.9C561.4 872.7 564.9 875.6 571.5 880.4C578.1 885.1 588.8 893 597.5 898.3C606.2 903.5 614.8 908 623.5 911.9C632.2 915.8 640.8 918.8 649.5 921.8C658.2 924.8 666.8 926.9 675.5 929.8C684.2 932.7 696.6 937.3 701.5 939.1C706.4 940.9 702.3 939.5 704.7 940.8C707.1 942 712.5 944.6 715.6 946.4C718.8 948.3 721.2 950.2 723.5 952C725.7 953.8 727.5 955.4 729.2 957.2C730.8 959.1 732.2 961.1 733.5 963.2C734.8 965.3 736 967.4 737 970.1C738.1 972.7 739 975.8 739.9 979C740.7 982.2 741.4 985.7 742 989.4C742.7 993.1 743.1 995.2 743.8 1001.4C744.5 1007.5 745.8 1022.1 746.2 1026.3" fill="none" stroke="#D3352D" stroke-width="2.8" stroke-linejoin="round" stroke-linecap="butt"/>
<path d="M545.5 915C545.7 914.5 545.8 912.6 546.5 911.9C547.2 911.2 545.5 911.2 549.7 910.7C553.8 910.1 563.5 909.5 571.5 908.8C579.5 908.1 588.8 907.6 597.5 906.6C606.2 905.5 614.8 904.5 623.5 902.6C632.2 900.7 640.8 898.3 649.5 895.2C658.2 892.1 666.8 888.4 675.5 884.1C684.2 879.7 692.8 874.8 701.5 869.2C710.1 863.7 720.5 855.7 727.5 850.7C734.4 845.6 737.9 842.6 743.1 838.9C748.3 835.2 756.1 830.2 758.7 828.4" fill="none" stroke="#F0864F" stroke-width="2.8" stroke-linejoin="round" stroke-linecap="butt"/>
<path d="M545.5 844.5C547.6 845.7 553.6 849.1 558 851.9C562.3 854.7 564.9 856.5 571.5 861.2C578.1 865.9 588.8 874.2 597.5 880.4C606.2 886.5 614.8 893.2 623.5 898.3C632.2 903.3 640.8 907.6 649.5 910.7C658.2 913.7 666.8 915.4 675.5 916.8C684.2 918.3 692.8 918.7 701.5 919.4C710.1 920.2 722.4 920.8 727.5 921.2C732.5 921.5 730.1 921.3 731.8 921.5C733.6 921.7 736.4 921.9 738.2 922.4C740 922.8 741.5 923.2 742.8 924.2C744.2 925.1 745.3 926.2 746.3 928C747.4 929.8 748.3 932 749.2 935.1C750 938.3 750.8 942.2 751.5 946.8C752.1 951.4 752.5 953.3 753.2 962.7C753.9 972.1 755.2 992.8 755.7 1003.4C756.3 1014 756.4 1022.5 756.6 1026.3" fill="none" stroke="#F0864F" stroke-width="2.8" stroke-linejoin="round" stroke-linecap="butt"/>
<path d="M545.5 915.6C545.7 915.1 545.8 913.3 546.5 912.5C547.2 911.7 545.5 911.5 549.7 911C553.8 910.5 563.5 910.2 571.5 909.4C579.5 908.7 588.8 908.3 597.5 906.6C606.2 904.8 614.8 902.2 623.5 898.9C632.2 895.6 640.8 891.5 649.5 886.5C658.2 881.6 666.8 875.3 675.5 869.2C684.2 863.2 693.7 855.6 701.5 850.1C709.3 844.5 716.7 839.5 722.3 835.8C727.8 832.2 732.7 829.7 734.8 828.4" fill="none" stroke="#FBD583" stroke-width="2.8" stroke-linejoin="round" stroke-linecap="butt"/>
<path d="M545.5 844.5C547.6 845.7 553.6 849.1 558 851.9C562.3 854.7 564.9 856.5 571.5 861.2C578.1 865.9 588.8 874.2 597.5 880.4C606.2 886.5 614.8 893.2 623.5 898.3C632.2 903.3 640.8 907.6 649.5 910.7C658.2 913.7 666.8 915.4 675.5 916.8C684.2 918.3 696.6 919 701.5 919.4C706.4 919.9 703.2 919.5 705.1 919.7C706.9 919.8 710.4 920 712.6 920.3C714.8 920.5 716.5 920.7 718 921.1C719.6 921.6 720.8 922 722 922.9C723.1 923.9 724.1 924.9 725 926.8C725.9 928.6 726.7 930.8 727.4 934C728.1 937.2 728.6 937.9 729.3 945.8C730.1 953.8 731.3 968.5 732.1 981.9C732.8 995.3 733.4 1018.9 733.7 1026.3" fill="none" stroke="#FBD583" stroke-width="2.8" stroke-linejoin="round" stroke-linecap="butt"/>
<path d="M545.5 916.2C545.7 915.6 545.8 913.4 546.5 912.5C547.2 911.6 545.5 911.5 549.7 911C553.8 910.5 563.5 910.2 571.5 909.4C579.5 908.6 588.8 908.3 597.5 906.3C606.2 904.4 614.8 901.4 623.5 897.7C632.2 894 640.8 889.3 649.5 884.1C658.2 878.8 666.8 872.5 675.5 866.1C684.2 859.8 694.5 850.9 701.5 845.7C708.4 840.6 712.4 838.1 717.1 835.2C721.8 832.3 727.5 829.6 729.6 828.4" fill="none" stroke="#8DB9DB" stroke-width="2.8" stroke-linejoin="round" stroke-linecap="butt"/>
<path d="M545.5 844.5C547.6 845.7 553.6 849.1 558 851.9C562.3 854.7 564.9 856.5 571.5 861.2C578.1 865.9 588.8 874.2 597.5 880.4C606.2 886.5 614.8 893.2 623.5 898.3C632.2 903.3 640.8 907.6 649.5 910.7C658.2 913.7 666.8 915.4 675.5 916.8C684.2 918.3 696.2 918.9 701.5 919.4C706.8 920 705.5 919.7 707.4 919.9C709.3 920.1 711.3 920.3 712.8 920.8C714.4 921.2 715.6 921.6 716.8 922.6C717.9 923.5 718.9 924.6 719.8 926.4C720.7 928.3 721.5 930.5 722.2 933.7C722.9 936.9 723.4 937.6 724.1 945.6C724.9 953.6 726.1 968.3 726.9 981.7C727.6 995.2 728.2 1018.8 728.5 1026.3" fill="none" stroke="#8DB9DB" stroke-width="2.8" stroke-linejoin="round" stroke-linecap="butt"/>
<path d="M545.5 916.2C545.7 915.6 545.8 913.3 546.5 912.5C547.2 911.7 545.5 911.8 549.7 911.3C553.8 910.8 563.5 910.3 571.5 909.4C579.5 908.6 588.8 908.1 597.5 906.1C606.2 904 614.8 900.9 623.5 897.1C632.2 893.2 640.8 888.3 649.5 882.8C658.2 877.4 666.8 870.8 675.5 864.3C684.2 857.8 694.9 848.8 701.5 843.9C708.1 838.9 711 837.2 715 834.6C719 832 723.7 829.5 725.4 828.4" fill="none" stroke="#3D6DB4" stroke-width="2.8" stroke-linejoin="round" stroke-linecap="butt"/>
<path d="M545.5 844.5C547.6 845.7 553.6 849.1 558 851.9C562.3 854.7 564.9 856.5 571.5 861.2C578.1 865.9 588.8 874 597.5 880.4C606.2 886.8 614.8 894.3 623.5 899.5C632.2 904.8 640.8 908.8 649.5 911.9C658.2 915 667.9 916.7 675.5 918.1C683 919.4 690.2 919.5 694.7 920C699.2 920.5 700.3 920.6 702.5 920.8C704.8 921.1 706.5 921.2 708.1 921.7C709.7 922.1 711 922.6 712.2 923.5C713.4 924.4 714.4 925.5 715.3 927.3C716.2 929.2 717.1 931.3 717.8 934.5C718.6 937.7 719 938.4 719.8 946.3C720.6 954.2 721.9 968.8 722.6 982.1C723.4 995.5 724.1 1018.9 724.4 1026.3" fill="none" stroke="#3D6DB4" stroke-width="2.8" stroke-linejoin="round" stroke-linecap="butt"/>
<rect x="545.5" y="803.7" width="307.7" height="247.3" fill="none" stroke="#000" stroke-width="3"/>
<path d="M545.5 1051L545.5 1056.7M597.5 1051L597.5 1056.7M649.5 1051L649.5 1056.7M701.5 1051L701.5 1056.7M753.5 1051L753.5 1056.7M805.5 1051L805.5 1056.7" stroke="#000" stroke-width="2.4" fill="none"/>
<path d="M571.5 1051L571.5 1054.3M623.5 1051L623.5 1054.3M675.5 1051L675.5 1054.3M727.5 1051L727.5 1054.3M779.5 1051L779.5 1054.3M831.5 1051L831.5 1054.3" stroke="#000" stroke-width="1.7" fill="none"/>
<text x="545.5" y="1076" font-size="19.6" text-anchor="middle">0</text>
<text x="597.5" y="1076" font-size="19.6" text-anchor="middle">50</text>
<text x="649.5" y="1076" font-size="19.6" text-anchor="middle">100</text>
<text x="701.5" y="1076" font-size="19.6" text-anchor="middle">150</text>
<text x="753.5" y="1076" font-size="19.6" text-anchor="middle">200</text>
<text x="805.5" y="1076" font-size="19.6" text-anchor="middle">250</text>
<path d="M545.5 1051L539.8 1051M545.5 1001.5L539.8 1001.5M545.5 952.1L539.8 952.1M545.5 902.6L539.8 902.6M545.5 853.2L539.8 853.2M545.5 803.7L539.8 803.7" stroke="#000" stroke-width="2.4" fill="none"/>
<path d="M545.5 1026.3L542.2 1026.3M545.5 976.8L542.2 976.8M545.5 927.4L542.2 927.4M545.5 877.9L542.2 877.9M545.5 828.4L542.2 828.4" stroke="#000" stroke-width="1.7" fill="none"/>
<text x="537" y="1058" font-size="19.6" text-anchor="end">2.8</text>
<text x="537" y="1008.6" font-size="19.6" text-anchor="end">3.2</text>
<text x="537" y="959.1" font-size="19.6" text-anchor="end">3.6</text>
<text x="537" y="909.6" font-size="19.6" text-anchor="end">4.0</text>
<text x="537" y="860.2" font-size="19.6" text-anchor="end">4.4</text>
<text x="537" y="810.7" font-size="19.6" text-anchor="end">4.8</text>
<text x="699.4" y="1099.5" font-size="22.3" text-anchor="middle">Specific capacity (mAh g<tspan dy="-0.62em" font-size="62%">−1</tspan><tspan dy="0.385em">)</tspan></text>
<text x="503" y="928.5" font-size="22.2" text-anchor="middle" transform="rotate(-90 503 928.5)">Voltage (V)</text>
<text x="546.8" y="824.9" font-size="20.2">P(AEEO) 1C</text>
<path d="M768.3 946.7H800.2" stroke="#D3352D" stroke-width="3.2"/>
<text x="805.7" y="952.7" font-size="18.3">1st</text>
<path d="M768.3 970.4H800.2" stroke="#F0864F" stroke-width="3.2"/>
<text x="805.7" y="976.3" font-size="18.3">10th</text>
<path d="M768.3 994H800.2" stroke="#FBD583" stroke-width="3.2"/>
<text x="805.7" y="1000" font-size="18.3">100th</text>
<path d="M768.3 1017.7H800.2" stroke="#8DB9DB" stroke-width="3.2"/>
<text x="805.7" y="1023.6" font-size="18.3">200th</text>
<path d="M768.3 1041.3H800.2" stroke="#3D6DB4" stroke-width="3.2"/>
<text x="805.7" y="1047.3" font-size="18.3">300th</text>
<path d="M934.7 905.8C934.8 905 935 902 935.5 900.8C936.1 899.6 933.6 899.1 937.8 898.6C942 898.1 952.6 898.1 960.7 897.7C968.8 897.4 978 896.9 986.7 896.5C995.4 896.1 1004 895.8 1012.7 895.3C1021.4 894.7 1030 894.3 1038.7 893.4C1047.3 892.5 1056 891.4 1064.7 889.7C1073.3 887.9 1082 886.2 1090.7 882.8C1099.3 879.5 1108 874.6 1116.7 869.8C1125.3 865.1 1134 859.4 1142.7 854.3C1151.3 849.2 1160.9 843.3 1168.7 839.4C1176.5 835.5 1183.7 832.7 1189.5 830.7C1195.2 828.8 1200.7 828.1 1203 827.6" fill="none" stroke="#D3352D" stroke-width="2.8" stroke-linejoin="round" stroke-linecap="butt"/>
<path d="M934.7 840C935.6 840.8 938.2 843.1 939.9 844.4C941.6 845.6 941.6 845.3 945.1 847.5C948.6 849.6 953.8 852.1 960.7 857.4C967.6 862.7 978 872.3 986.7 879.1C995.4 885.9 1004 892.8 1012.7 898.4C1021.4 903.9 1030 908.7 1038.7 912.6C1047.3 916.6 1056 919.9 1064.7 922.2C1073.3 924.5 1084.3 925.4 1090.7 926.3C1097.1 927.2 1099.3 927.3 1102.9 927.8C1106.5 928.2 1109.6 928.5 1112.3 928.9C1115 929.3 1117.1 929.5 1119 930C1121 930.5 1122.5 931 1123.9 931.9C1125.3 932.8 1126.5 933.9 1127.6 935.6C1128.8 937.3 1129.7 939.3 1130.6 942.3C1131.5 945.2 1132.4 948.9 1133.1 953.1C1133.8 957.4 1134.2 959.1 1134.9 967.7C1135.7 976.4 1137 995.4 1137.6 1005.1C1138.2 1014.9 1138.3 1022.7 1138.5 1026.2" fill="none" stroke="#D3352D" stroke-width="2.8" stroke-linejoin="round" stroke-linecap="butt"/>
<path d="M934.7 918.2C934.8 917 935 912.9 935.5 910.8C936.1 908.6 936.2 906.5 937.8 905.2C939.4 903.8 942.2 903.7 945.1 902.7C948 901.7 950.3 901.1 955.5 899C960.7 896.8 969.4 893.3 976.3 889.7C983.2 886.1 990.2 882 997.1 877.3C1004 872.5 1011 866.3 1017.9 861.1C1024.8 856 1032.6 850.4 1038.7 846.2C1044.7 842.1 1049.1 839.4 1054.3 836.3C1059.5 833.2 1067.3 829.1 1069.9 827.6" fill="none" stroke="#F0864F" stroke-width="2.8" stroke-linejoin="round" stroke-linecap="butt"/>
<path d="M934.7 843.8C935.6 845 938.2 848.8 939.9 851.2C941.6 853.6 941.6 853.7 945.1 858C948.6 862.4 953.8 869.9 960.7 877.3C967.6 884.6 978 895.3 986.7 902.1C995.4 908.9 1004 913.5 1012.7 918C1021.4 922.4 1033 926.4 1038.7 928.8C1044.3 931.1 1044.3 931 1046.6 932C1048.9 933 1050.9 933.8 1052.6 934.7C1054.3 935.6 1055.6 936.4 1056.9 937.6C1058.2 938.7 1059.2 939.9 1060.2 941.7C1061.2 943.6 1062.1 945.6 1062.9 948.5C1063.7 951.3 1064.4 954.9 1065.1 958.9C1065.7 962.9 1066.1 964.5 1066.7 972.5C1067.4 980.5 1068.5 998 1069 1006.9C1069.6 1015.9 1069.7 1023 1069.9 1026.2" fill="none" stroke="#F0864F" stroke-width="2.8" stroke-linejoin="round" stroke-linecap="butt"/>
<path d="M934.7 920.7C934.8 919.2 935 914.4 935.5 912C936.1 909.6 936.2 908.3 937.8 906.4C939.4 904.6 942.2 902.9 945.1 900.8C948 898.8 950.3 897.6 955.5 894C960.7 890.4 969.4 884.5 976.3 879.1C983.2 873.7 990.2 867.5 997.1 861.7C1004 856 1011.8 849.2 1017.9 844.4C1024 839.5 1029.3 835.4 1033.5 832.6C1037.6 829.8 1041.3 828.4 1042.8 827.6" fill="none" stroke="#FBD583" stroke-width="2.8" stroke-linejoin="round" stroke-linecap="butt"/>
<path d="M934.7 846.2C935.6 848.2 938.2 854.5 939.9 858C941.6 861.5 941.6 862.1 945.1 867.3C948.6 872.6 953.8 881.8 960.7 889.7C967.6 897.5 978 907.8 986.7 914.5C995.4 921.2 1007 926.6 1012.7 930C1018.4 933.4 1018.7 933.6 1021 935C1023.3 936.5 1025 937.5 1026.6 938.7C1028.2 940 1029.5 941 1030.7 942.3C1031.9 943.7 1032.9 945 1033.8 946.9C1034.7 948.8 1035.5 950.9 1036.3 953.7C1037 956.5 1037.5 957.2 1038.3 963.6C1039.1 970 1040.4 981.7 1041.1 992.1C1041.9 1002.5 1042.6 1020.5 1042.8 1026.2" fill="none" stroke="#FBD583" stroke-width="2.8" stroke-linejoin="round" stroke-linecap="butt"/>
<rect x="934.7" y="802.8" width="308.1" height="248.2" fill="none" stroke="#000" stroke-width="3"/>
<path d="M934.7 1051L934.7 1056.7M986.7 1051L986.7 1056.7M1038.7 1051L1038.7 1056.7M1090.7 1051L1090.7 1056.7M1142.7 1051L1142.7 1056.7M1194.7 1051L1194.7 1056.7" stroke="#000" stroke-width="2.4" fill="none"/>
<path d="M960.7 1051L960.7 1054.3M1012.7 1051L1012.7 1054.3M1064.7 1051L1064.7 1054.3M1116.7 1051L1116.7 1054.3M1168.7 1051L1168.7 1054.3M1220.7 1051L1220.7 1054.3" stroke="#000" stroke-width="1.7" fill="none"/>
<text x="934.7" y="1076" font-size="19.6" text-anchor="middle">0</text>
<text x="986.7" y="1076" font-size="19.6" text-anchor="middle">50</text>
<text x="1038.7" y="1076" font-size="19.6" text-anchor="middle">100</text>
<text x="1090.7" y="1076" font-size="19.6" text-anchor="middle">150</text>
<text x="1142.7" y="1076" font-size="19.6" text-anchor="middle">200</text>
<text x="1194.7" y="1076" font-size="19.6" text-anchor="middle">250</text>
<path d="M934.7 1051L929 1051M934.7 1001.4L929 1001.4M934.7 951.7L929 951.7M934.7 902.1L929 902.1M934.7 852.4L929 852.4M934.7 802.8L929 802.8" stroke="#000" stroke-width="2.4" fill="none"/>
<path d="M934.7 1026.2L931.4 1026.2M934.7 976.5L931.4 976.5M934.7 926.9L931.4 926.9M934.7 877.3L931.4 877.3M934.7 827.6L931.4 827.6" stroke="#000" stroke-width="1.7" fill="none"/>
<text x="926.2" y="1058" font-size="19.6" text-anchor="end">2.8</text>
<text x="926.2" y="1008.4" font-size="19.6" text-anchor="end">3.2</text>
<text x="926.2" y="958.7" font-size="19.6" text-anchor="end">3.6</text>
<text x="926.2" y="909.1" font-size="19.6" text-anchor="end">4.0</text>
<text x="926.2" y="859.5" font-size="19.6" text-anchor="end">4.4</text>
<text x="926.2" y="809.8" font-size="19.6" text-anchor="end">4.8</text>
<text x="1088.8" y="1098.7" font-size="22.3" text-anchor="middle">Specific capacity (mAh g<tspan dy="-0.62em" font-size="62%">−1</tspan><tspan dy="0.385em">)</tspan></text>
<text x="893.5" y="928" font-size="22.2" text-anchor="middle" transform="rotate(-90 893.5 928)">Voltage (V)</text>
<text x="936.8" y="821.5" font-size="20.2">P(VEC) 1C</text>
<path d="M1158 994.7H1190.7" stroke="#D3352D" stroke-width="3.2"/>
<text x="1195" y="1000.7" font-size="18.3">1st</text>
<path d="M1158 1018.4H1190.7" stroke="#F0864F" stroke-width="3.2"/>
<text x="1195" y="1024.4" font-size="18.3">50th</text>
<path d="M1158 1042.1H1190.7" stroke="#FBD583" stroke-width="3.2"/>
<text x="1195" y="1048.1" font-size="18.3">100th</text>
<path d="M1360.2 923.2L1362 854.9" stroke="#31589B" stroke-width="2.4" fill="none"/>
<polyline points="1360.2,923.2 1362,854.9 1363.9,847.3 1365.8,846.3 1367.6,846 1369.5,842.1 1371.4,839.4 1373.3,837 1375.1,841 1377,841.7 1378.9,837.6 1380.7,837.4 1382.6,836.2 1384.5,836.6 1386.3,837.8 1388.2,838.2 1390.1,835.3 1391.9,837.7 1393.8,838.7 1395.7,839.3 1397.6,838.1 1399.4,837.8 1401.3,838.3 1403.2,838.1 1405,837.7 1406.9,837.2 1408.8,836.6 1410.6,837.5 1412.5,839.7 1414.4,837.6 1416.2,839.3 1418.1,838.4 1420,839.6 1421.9,838.3 1423.7,838.8 1425.6,837.9 1427.5,834.5 1429.3,837.3 1431.2,836.9 1433.1,839.1 1434.9,838.5 1436.8,837.4 1438.7,837.9 1440.6,837.5 1442.4,837.8 1444.3,839 1446.2,837.6 1448,838.7 1449.9,836.1 1451.8,838.1 1453.6,837.3 1455.5,837.8 1457.4,836.9 1459.2,838.4 1461.1,837 1463,837.9 1464.9,836.6 1466.7,837 1468.6,837.6 1470.5,838.7 1472.3,837.3 1474.2,837.3 1476.1,836.1 1477.9,838 1479.8,837.4 1481.7,837.3 1483.5,837.5 1485.4,837.6 1487.3,837.7 1489.2,838.5 1491,839.1 1492.9,838.6 1494.8,837.5 1496.6,836.3 1498.5,836.6 1500.4,836.6 1502.2,836.9 1504.1,837 1506,837.6 1507.8,837.1 1509.7,835.9 1511.6,837.9 1513.5,838.7 1515.3,836 1517.2,837.3 1519.1,836.8 1520.9,836.8 1522.8,838.9 1524.7,835.6 1526.5,835.6 1528.4,837.3 1530.3,837 1532.1,837.6 1534,838.8 1535.9,838.2 1537.8,837.6 1539.6,836.7 1541.5,837 1543.4,837.7 1545.2,836.5 1547.1,838.4 1549,837.2 1550.8,836.6 1552.7,838 1554.6,839.8 1556.4,839.3 1558.3,838 1560.2,837.4 1562.1,836.2 1563.9,838.6 1565.8,838.1 1567.7,837.3 1569.5,838 1571.4,840.4 1573.3,837.6 1575.1,835.5 1577,836.4 1578.9,838.6 1580.8,838.5 1582.6,837.8 1584.5,835.3 1586.4,836.8 1588.2,837.6 1590.1,836.2 1592,837.7 1593.8,835.9 1595.7,838.3 1597.6,838.5 1599.4,837.3 1601.3,836.3 1603.2,836.9 1605.1,837.4 1606.9,839.7 1608.8,839 1610.7,838.8 1612.5,838.7 1614.4,837.5 1616.3,838.2 1618.1,837.2 1620,837.7 1621.9,838.2 1623.7,837.9 1625.6,837.5 1627.5,837 1629.4,838.2 1631.2,838.2 1633.1,839.4 1635,836.6 1636.8,836.1 1638.7,837.8 1640.6,838.4 1642.4,839.3 1644.3,838 1646.2,837.7 1648,835.6 1649.9,837.2 1651.8,838.6 1653.7,840.6 1655.5,837 1657.4,837.6 1659.3,839.5 1661.1,838.1 1663,839.6 1664.9,834.6 1666.7,836.1 1668.6,837 1670.5,837.9 1672.3,840.2 1674.2,838.5 1676.1,839.7 1678,837.7 1679.8,840.1 1681.7,839.3 1683.6,836.9 1685.4,836 1687.3,838.8 1689.2,839.7 1691,837.4 1692.9,836.9 1694.8,838.8 1696.6,838.8 1698.5,838.8 1700.4,839.4 1702.3,838.9 1704.1,836.8 1706,837 1707.9,835.6 1709.7,837.6 1711.6,838 1713.5,839 1715.3,838.3 1717.2,839.4 1719.1,840.1 1721,837.6 1722.8,836.4 1724.7,836.8 1726.6,836.3 1728.4,837.4 1730.3,838.6 1732.2,838 1734,838.3 1735.9,839.2 1737.8,840 1739.6,839.9 1741.5,838.3 1743.4,837.9 1745.3,838.4 1747.1,836.5 1749,837.5 1750.9,837.2 1752.7,836.5 1754.6,838.5 1756.5,840.1 1758.3,837.6 1760.2,838.6 1762.1,836.7 1763.9,837.3 1765.8,836.8 1767.7,836.9 1769.6,839.9 1771.4,837.6 1773.3,838.6 1775.2,838.9 1777,838.6 1778.9,837.3 1780.8,836.9 1782.6,836.7 1784.5,839.4 1786.4,838.9 1788.2,840.6 1790.1,838.6 1792,837.4 1793.9,838.6 1795.7,837.8 1797.6,837.7 1799.5,836.8 1801.3,838.6 1803.2,838.9 1805.1,838.9 1806.9,836.3 1808.8,836.5 1810.7,837.8 1812.5,837.7 1814.4,837.8 1816.3,837.7 1818.2,838.1 1820,838.3 1821.9,839.3 1823.8,838.9 1825.6,836.4 1827.5,837.1 1829.4,837.7 1831.2,838.1 1833.1,837.9 1835,837.6 1836.8,838.5 1838.7,837.9 1840.6,837.7 1842.5,838.7 1844.3,838.9 1846.2,839.2 1848.1,839.3 1849.9,837.3 1851.8,840.3 1853.7,838.7 1855.5,838.7 1857.4,838.7 1859.3,838 1861.2,836.8 1863,837.6 1864.9,838 1866.8,838.6 1868.6,838.2 1870.5,837 1872.4,838.2 1874.2,839.2 1876.1,839.5 1878,839.4 1879.8,839.7 1881.7,837.1 1883.6,837.4 1885.5,838.1 1887.3,836.4 1889.2,838.3 1891.1,837.2 1892.9,837 1894.8,839.4 1896.7,839.8 1898.5,839.3 1900.4,837.3 1902.3,836.5 1904.1,838.9 1906,837 1907.9,838.2 1909.8,838.4 1911.6,838.6 1913.5,838.4 1915.4,839.9 1917.2,839.4 1919.1,839.5" fill="none" stroke="#31589B" stroke-width="0.8" stroke-linejoin="round" marker-start="url(#mo31589B39)" marker-mid="url(#mo31589B39)" marker-end="url(#mo31589B39)"/>
<path d="M1360.2 905.8L1362 853" stroke="#B5523F" stroke-width="2.4" fill="none"/>
<polyline points="1360.2,905.8 1362,853 1363.9,847.5 1365.8,844.3 1367.6,838.1 1369.5,841.1 1371.4,840.5 1373.3,836.2 1375.1,835.9 1377,837.8 1378.9,836.4 1380.7,837.5 1382.6,838.6 1384.5,837.7 1386.3,837.2 1388.2,838.2 1390.1,837.2 1391.9,838.6 1393.8,836.8 1395.7,837.4 1397.6,838.7 1399.4,840.2 1401.3,842.7 1403.2,838.1 1405,836.9 1406.9,838.5 1408.8,838.5 1410.6,839.1 1412.5,837.2 1414.4,838.7 1416.2,838.8 1418.1,839.7 1420,839.5 1421.9,837.8 1423.7,837.3 1425.6,839 1427.5,837.5 1429.3,836.8 1431.2,837 1433.1,838.2 1434.9,839.2 1436.8,840.5 1438.7,837.5 1440.6,838.9 1442.4,838.3 1444.3,837.5 1446.2,838.6 1448,838.3 1449.9,839.1 1451.8,838.2 1453.6,837.9 1455.5,837.9 1457.4,838.9 1459.2,837.2 1461.1,835.6 1463,836.8 1464.9,840.7 1466.7,839.4 1468.6,837.9 1470.5,837.6 1472.3,836.7 1474.2,835.6 1476.1,839.7 1477.9,837.7 1479.8,837.6 1481.7,838.9 1483.5,838.1 1485.4,836.8 1487.3,838.9 1489.2,836.2 1491,835.4 1492.9,838.4 1494.8,838.5 1496.6,838.1 1498.5,838.2 1500.4,837.9 1502.2,838 1504.1,836.3 1506,837.3 1507.8,837.9 1509.7,837.8 1511.6,837.8 1513.5,838.3 1515.3,836.4 1517.2,837.6 1519.1,836.6 1520.9,839.1 1522.8,838.2 1524.7,837.1 1526.5,838.9 1528.4,838.5 1530.3,839.6 1532.1,838.1 1534,838.1 1535.9,839.3 1537.8,839.7 1539.6,839.3 1541.5,839.1 1543.4,837.3 1545.2,838.8 1547.1,838 1549,837.2 1550.8,839.1 1552.7,838.5 1554.6,836.5 1556.4,835.9 1558.3,838.2 1560.2,838.7 1562.1,837.5 1563.9,836.6 1565.8,837.1 1567.7,838.2 1569.5,837.9 1571.4,838.6 1573.3,836.3 1575.1,836.4 1577,837.3 1578.9,837.5 1580.8,838.7 1582.6,837.4 1584.5,836.6 1586.4,838.1 1588.2,838.2 1590.1,838.7 1592,839.4 1593.8,839.6 1595.7,837.2 1597.6,837 1599.4,839 1601.3,836.6 1603.2,838.7 1605.1,836.8 1606.9,838.4 1608.8,838.7 1610.7,836.1 1612.5,837.6 1614.4,837.5 1616.3,839 1618.1,836.4 1620,837.4 1621.9,839.5 1623.7,839.7 1625.6,839 1627.5,838.1 1629.4,837.5 1631.2,837.4 1633.1,837.4 1635,837.1 1636.8,838.4 1638.7,839.3 1640.6,837.2 1642.4,836.6 1644.3,837.3 1646.2,837.6 1648,838.7 1649.9,837.4 1651.8,838.3 1653.7,837.4 1655.5,838.9 1657.4,837.1 1659.3,837.1 1661.1,837.6 1663,838.7 1664.9,837.6 1666.7,839.5 1668.6,836.5 1670.5,838 1672.3,838.2 1674.2,837.8 1676.1,838.8 1678,836.4 1679.8,836.6 1681.7,836.1 1683.6,839.2 1685.4,836.9 1687.3,838.2 1689.2,837.5 1691,836.6 1692.9,838.6 1694.8,836.6 1696.6,837.8 1698.5,837.4 1700.4,837.9 1702.3,838.5 1704.1,837.5 1706,838.1 1707.9,838.6 1709.7,836.9 1711.6,838.5 1713.5,837.2 1715.3,837.5 1717.2,837.2 1719.1,837.1 1721,836.1 1722.8,837.7 1724.7,837.4 1726.6,835.4 1728.4,839.5 1730.3,838 1732.2,838.1 1734,838.4 1735.9,835.4 1737.8,837.6 1739.6,837.2 1741.5,838.3 1743.4,837.7 1745.3,836.8 1747.1,837.1 1749,838.5 1750.9,838 1752.7,837.2 1754.6,837.1 1756.5,838.2 1758.3,838.2 1760.2,837.4 1762.1,837.3 1763.9,839 1765.8,837.7 1767.7,837.8 1769.6,839.4 1771.4,837.4 1773.3,837.8 1775.2,838.1 1777,837 1778.9,838.8 1780.8,838.4 1782.6,840 1784.5,838.6 1786.4,837.2 1788.2,837.1 1790.1,838.6 1792,839.1 1793.9,839.5 1795.7,840.5 1797.6,840.3 1799.5,836.8 1801.3,839.8 1803.2,836.5 1805.1,836.8 1806.9,838.7 1808.8,839 1810.7,838.8 1812.5,839 1814.4,838.1 1816.3,838.7 1818.2,837.6 1820,839 1821.9,838.4 1823.8,838.3 1825.6,835.6 1827.5,838.4 1829.4,839.5 1831.2,836.5 1833.1,837.3 1835,839.1 1836.8,838.9 1838.7,839.5 1840.6,837.4 1842.5,837 1844.3,837.5 1846.2,838.9 1848.1,837.3 1849.9,838 1851.8,838.8 1853.7,837.9 1855.5,838.6 1857.4,838.2 1859.3,838.8 1861.2,838.1 1863,838.3 1864.9,836.5 1866.8,836.5 1868.6,837.2 1870.5,838.1 1872.4,837.2 1874.2,838 1876.1,838 1878,838.3 1879.8,838.5 1881.7,837.8 1883.6,837.3 1885.5,838.6 1887.3,837.5 1889.2,837 1891.1,837.1 1892.9,836.9 1894.8,838.9 1896.7,839 1898.5,838.6 1900.4,839 1902.3,838.2 1904.1,839.9 1906,837.8 1907.9,837.3 1909.8,837 1911.6,836.9 1913.5,838.6 1915.4,838.1 1917.2,840 1919.1,838.4" fill="none" stroke="#B5523F" stroke-width="0.8" stroke-linejoin="round" marker-start="url(#moB5523F39)" marker-mid="url(#moB5523F39)" marker-end="url(#moB5523F39)"/>
<path d="M1360.2 888.4L1362 852.1" stroke="#6FB8C8" stroke-width="2.4" fill="none"/>
<polyline points="1360.2,888.4 1362,852.1 1363.9,851.4 1365.8,847.2 1367.6,845.8 1369.5,844.5 1371.4,840.3 1373.3,838 1375.1,834.1 1377,838.3 1378.9,837.9 1380.7,838.1 1382.6,837.2 1384.5,837.5 1386.3,839.1 1388.2,837.5 1390.1,836.8 1391.9,836.9 1393.8,837.3 1395.7,837.6 1397.6,838.5 1399.4,839.2 1401.3,838.9 1403.2,838.9 1405,838.8 1406.9,838 1408.8,838.9 1410.6,836.7 1412.5,837.5 1414.4,838.2 1416.2,836.6 1418.1,836.4 1420,838.9 1421.9,839.4 1423.7,838 1425.6,836.9 1427.5,837.8 1429.3,836 1431.2,838.6 1433.1,837 1434.9,836.8 1436.8,837.8 1438.7,839.6 1440.6,838.8 1442.4,837.1 1444.3,838.3 1446.2,838.3 1448,837.7 1449.9,837.6 1451.8,838.2 1453.6,836.8 1455.5,837 1457.4,839.3 1459.2,838.1 1461.1,838.5 1463,836.3 1464.9,837 1466.7,837.4 1468.6,838.1 1470.5,838.3 1472.3,838.6 1474.2,836.5 1476.1,837.9 1477.9,838.7 1479.8,837.5 1481.7,837.1 1483.5,837.9 1485.4,838.9 1487.3,836.9 1489.2,836.6 1491,839.8 1492.9,839.3 1494.8,836.1 1496.6,838.4 1498.5,839.8 1500.4,837.6 1502.2,838.2 1504.1,837.1 1506,839.7 1507.8,836.9 1509.7,837.1 1511.6,838.3 1513.5,838.6 1515.3,837.3 1517.2,838.5 1519.1,837.3 1520.9,838.3 1522.8,837.6 1524.7,839.6 1526.5,839 1528.4,840.1 1530.3,838.9 1532.1,838.7 1534,838.3 1535.9,837.9 1537.8,840.1 1539.6,838.4 1541.5,837.8 1543.4,839.2 1545.2,838.3 1547.1,840.5 1549,839.6 1550.8,839.4 1552.7,839.8 1554.6,837.1 1556.4,837.3 1558.3,837.7 1560.2,838.3 1562.1,836.5 1563.9,836.8 1565.8,837.4 1567.7,838.1 1569.5,838.4 1571.4,838.5 1573.3,838.1 1575.1,839.5 1577,838.2 1578.9,837.3 1580.8,837.7 1582.6,839.2 1584.5,838.1 1586.4,839 1588.2,839.6 1590.1,835.9 1592,838.1 1593.8,839 1595.7,839.8 1597.6,838.7 1599.4,838.7 1601.3,840.3 1603.2,840.1 1605.1,837.3 1606.9,838.8 1608.8,839.9 1610.7,837.6 1612.5,839.7 1614.4,836.3 1616.3,839.3 1618.1,839 1620,839.1 1621.9,838.6 1623.7,839.9 1625.6,839.3 1627.5,837.7 1629.4,836.8 1631.2,836.4 1633.1,836.6 1635,837.7 1636.8,837.5 1638.7,837.2 1640.6,838.6 1642.4,837.7 1644.3,837.5 1646.2,837.9 1648,838.1 1649.9,837.5 1651.8,838.9 1653.7,839.6 1655.5,838.1 1657.4,837.6 1659.3,839.2 1661.1,837.8 1663,837.7 1664.9,838 1666.7,837.4 1668.6,837.4 1670.5,837.7 1672.3,837.1 1674.2,838.1 1676.1,839.3 1678,838.1 1679.8,837.3 1681.7,837.9 1683.6,837.3 1685.4,837.8 1687.3,838.8 1689.2,840 1691,838.9 1692.9,838.9 1694.8,838 1696.6,836.2 1698.5,839.1 1700.4,838.9 1702.3,837 1704.1,836.6 1706,838 1707.9,837.9 1709.7,837.6 1711.6,836.1 1713.5,838.2 1715.3,838.9 1717.2,837.3 1719.1,838.6 1721,838.2 1722.8,836.5 1724.7,837.7 1726.6,837.9 1728.4,837.8 1730.3,838.9 1732.2,838 1734,837.5 1735.9,839.4 1737.8,838.7 1739.6,838.5 1741.5,837.5 1743.4,837.1 1745.3,837.9 1747.1,835.8 1749,839 1750.9,838.3 1752.7,837.2 1754.6,837.8 1756.5,838.5 1758.3,838.2 1760.2,838 1762.1,838 1763.9,837.1 1765.8,839.6 1767.7,838.1 1769.6,838.4 1771.4,838.2 1773.3,836.4 1775.2,836.6 1777,837 1778.9,840.3 1780.8,837.9 1782.6,839.7 1784.5,839.4 1786.4,838.8 1788.2,836.4 1790.1,839.6 1792,837.1 1793.9,836.1 1795.7,836.5 1797.6,837.3 1799.5,836.6 1801.3,838.3 1803.2,838.1 1805.1,837.5 1806.9,838.6 1808.8,838.2 1810.7,837.6 1812.5,838.3 1814.4,836.9 1816.3,837.9 1818.2,838.9 1820,838.3 1821.9,838.5 1823.8,839 1825.6,837.4 1827.5,835.9 1829.4,837.9 1831.2,838 1833.1,838.1 1835,839.1 1836.8,837 1838.7,837.7 1840.6,836.5 1842.5,837.8 1844.3,837.9 1846.2,836.1 1848.1,837.7 1849.9,837.5 1851.8,836.5 1853.7,837.9 1855.5,837 1857.4,838.6 1859.3,838.3 1861.2,838.6 1863,837.2 1864.9,838.2 1866.8,838.7 1868.6,837.6 1870.5,836.3 1872.4,838.8 1874.2,835.9 1876.1,839.1 1878,838.8 1879.8,839.1 1881.7,836.5 1883.6,837.2 1885.5,837.5 1887.3,836.5 1889.2,836.8 1891.1,837.9 1892.9,838.6 1894.8,839.7 1896.7,837.1 1898.5,838.2 1900.4,838.2 1902.3,837.9 1904.1,837.3 1906,837.1 1907.9,837 1909.8,835.6 1911.6,836.4 1913.5,838.8 1915.4,837.6 1917.2,838.9 1919.1,839.6" fill="none" stroke="#6FB8C8" stroke-width="0.8" stroke-linejoin="round" marker-start="url(#mo6FB8C839)" marker-mid="url(#mo6FB8C839)" marker-end="url(#mo6FB8C839)"/>
<path d="M1360.2 905.8L1362 854.2M1814.4 839.1L1816.3 850.1M1816.3 850.1L1818.2 838.5" stroke="#9CC7E2" stroke-width="2.4" fill="none"/>
<polyline points="1360.2,905.8 1362,854.2 1363.9,849.6 1365.8,845.5 1367.6,845.7 1369.5,840 1371.4,836.3 1373.3,839.1 1375.1,840.4 1377,841.3 1378.9,837.1 1380.7,837.7 1382.6,838.7 1384.5,836.8 1386.3,836.9 1388.2,837.1 1390.1,839.6 1391.9,838.4 1393.8,837.4 1395.7,839.1 1397.6,837.2 1399.4,836.3 1401.3,836.5 1403.2,838.4 1405,838.8 1406.9,837.1 1408.8,836.7 1410.6,836.4 1412.5,836.4 1414.4,837.7 1416.2,838.3 1418.1,840 1420,837.5 1421.9,835.5 1423.7,837.9 1425.6,838.4 1427.5,837.4 1429.3,837.4 1431.2,839.3 1433.1,839 1434.9,839.3 1436.8,836.1 1438.7,838.3 1440.6,837.1 1442.4,835.8 1444.3,835.5 1446.2,836 1448,835.8 1449.9,838.8 1451.8,838.5 1453.6,838.8 1455.5,838.4 1457.4,835.3 1459.2,839.2 1461.1,837.6 1463,839.2 1464.9,836.8 1466.7,836.4 1468.6,838.2 1470.5,835.8 1472.3,837.4 1474.2,836.5 1476.1,837.3 1477.9,838.4 1479.8,838.4 1481.7,838.2 1483.5,837.3 1485.4,837.7 1487.3,835.4 1489.2,837.6 1491,838.4 1492.9,838.8 1494.8,838.9 1496.6,839.6 1498.5,839.3 1500.4,837.3 1502.2,837.7 1504.1,838.1 1506,837.6 1507.8,836.8 1509.7,837.1 1511.6,837 1513.5,838.3 1515.3,838.3 1517.2,838.8 1519.1,838.2 1520.9,838.8 1522.8,838.5 1524.7,838.2 1526.5,838.2 1528.4,838.3 1530.3,838.5 1532.1,836.7 1534,838 1535.9,839 1537.8,838 1539.6,839.1 1541.5,839.3 1543.4,838.1 1545.2,839.7 1547.1,841.7 1549,838.4 1550.8,836.9 1552.7,839.5 1554.6,839.2 1556.4,837.6 1558.3,839.9 1560.2,839.3 1562.1,839.5 1563.9,838.5 1565.8,840.1 1567.7,837.4 1569.5,838 1571.4,837.6 1573.3,838.2 1575.1,840.2 1577,838.6 1578.9,839.5 1580.8,838.2 1582.6,838.9 1584.5,838.5 1586.4,838.3 1588.2,837.2 1590.1,837 1592,838.8 1593.8,838.1 1595.7,836.5 1597.6,837.1 1599.4,838.5 1601.3,838.2 1603.2,838.4 1605.1,837 1606.9,837.7 1608.8,837.5 1610.7,835.5 1612.5,838.9 1614.4,839.2 1616.3,840 1618.1,840 1620,837.5 1621.9,837.5 1623.7,836.2 1625.6,839.6 1627.5,839.2 1629.4,836.7 1631.2,836.6 1633.1,836.8 1635,836.8 1636.8,837.7 1638.7,837.9 1640.6,837.9 1642.4,837.1 1644.3,837.9 1646.2,837.6 1648,836.4 1649.9,838.8 1651.8,838.9 1653.7,837.5 1655.5,838.1 1657.4,838.1 1659.3,835.8 1661.1,837.1 1663,838.2 1664.9,836.8 1666.7,835.1 1668.6,838.5 1670.5,838.8 1672.3,838 1674.2,838.6 1676.1,835.8 1678,837 1679.8,838.2 1681.7,837.5 1683.6,838.7 1685.4,838.7 1687.3,838 1689.2,835.5 1691,839.8 1692.9,837.9 1694.8,836.5 1696.6,836.9 1698.5,835.7 1700.4,837 1702.3,837.6 1704.1,838 1706,838.8 1707.9,836.4 1709.7,838.9 1711.6,838.3 1713.5,838.5 1715.3,838.9 1717.2,840.4 1719.1,838.8 1721,838 1722.8,837.8 1724.7,837 1726.6,837.9 1728.4,838.6 1730.3,837.8 1732.2,837.2 1734,838.7 1735.9,839.7 1737.8,839.4 1739.6,837.1 1741.5,836.7 1743.4,838.6 1745.3,838 1747.1,837.1 1749,836.4 1750.9,838.3 1752.7,838.3 1754.6,836.5 1756.5,835.1 1758.3,835.8 1760.2,838.7 1762.1,837.6 1763.9,838.2 1765.8,838.1 1767.7,838.7 1769.6,838.6 1771.4,838.1 1773.3,836.1 1775.2,836.8 1777,837.3 1778.9,837.8 1780.8,838.7 1782.6,838.3 1784.5,836.7 1786.4,836.8 1788.2,835.7 1790.1,837.2 1792,837.8 1793.9,839.6 1795.7,837.9 1797.6,839.7 1799.5,836.7 1801.3,838.4 1803.2,838 1805.1,839.4 1806.9,838.7 1808.8,839.1 1810.7,837 1812.5,837.5 1814.4,839.1 1816.3,850.1 1818.2,838.5 1820,838.6 1821.9,839.2 1823.8,837.6 1825.6,838.1 1827.5,837.8 1829.4,838.5 1831.2,838.7 1833.1,838.6 1835,839.7 1836.8,837.6 1838.7,837.5 1840.6,839.6 1842.5,838.2 1844.3,836.8 1846.2,837.5 1848.1,836.5 1849.9,837.9 1851.8,837.9 1853.7,839.3 1855.5,839.2 1857.4,840.1 1859.3,839.3 1861.2,838 1863,837.4 1864.9,836.6 1866.8,837.5 1868.6,838.9 1870.5,837.7 1872.4,838 1874.2,836.1 1876.1,835.5 1878,836.5 1879.8,838.8 1881.7,838.7 1883.6,837.9 1885.5,838.7 1887.3,837.5 1889.2,837.1 1891.1,836.9 1892.9,837.5 1894.8,838.8 1896.7,839 1898.5,838.3 1900.4,836.6 1902.3,836 1904.1,836.5 1906,837.3 1907.9,837.1 1909.8,836.9 1911.6,836.4 1913.5,836.7 1915.4,839.3 1917.2,837.2 1919.1,837.4" fill="none" stroke="#9CC7E2" stroke-width="0.8" stroke-linejoin="round" marker-start="url(#mo9CC7E239)" marker-mid="url(#mo9CC7E239)" marker-end="url(#mo9CC7E239)"/>
<path d="M1360.2 923.2L1362 858.4M1362 858.4L1363.9 849.1" stroke="#FBD88C" stroke-width="2.4" fill="none"/>
<polyline points="1360.2,923.2 1362,858.4 1363.9,849.1 1365.8,845.9 1367.6,843.1 1369.5,844.2 1371.4,838.5 1373.3,836.6 1375.1,844.4 1377,840.6 1378.9,836.6 1380.7,837.7 1382.6,838.4 1384.5,838.1 1386.3,839.1 1388.2,838.6 1390.1,835.5 1391.9,838.6 1393.8,838.8 1395.7,839.6 1397.6,836.9 1399.4,837.9 1401.3,838.1 1403.2,837.5 1405,837.2 1406.9,838.6 1408.8,837.4 1410.6,837.5 1412.5,838.8 1414.4,835.7 1416.2,836.9 1418.1,838.1 1420,837.2 1421.9,836.6 1423.7,836 1425.6,837.6 1427.5,840 1429.3,839.3 1431.2,836.4 1433.1,839.2 1434.9,837.3 1436.8,836 1438.7,836.9 1440.6,838 1442.4,838.2 1444.3,837.8 1446.2,838.6 1448,837.7 1449.9,837.4 1451.8,839.6 1453.6,839.3 1455.5,838.1 1457.4,839.4 1459.2,839.2 1461.1,839.4 1463,838 1464.9,838.4 1466.7,838.5 1468.6,839.4 1470.5,838.1 1472.3,838.3 1474.2,837.8 1476.1,838.3 1477.9,835.5 1479.8,838.4 1481.7,838.9 1483.5,838.2 1485.4,839.2 1487.3,839.6 1489.2,838.9 1491,838 1492.9,837.5 1494.8,836.3 1496.6,837 1498.5,837.7 1500.4,838.4 1502.2,837.9 1504.1,835.9 1506,834.8 1507.8,834.8 1509.7,836.7 1511.6,838.7 1513.5,837.5 1515.3,838.7 1517.2,838.2 1519.1,835.8 1520.9,838 1522.8,838.7 1524.7,839 1526.5,838.9 1528.4,837.7 1530.3,836.7 1532.1,837.2 1534,837.3 1535.9,838.8 1537.8,837.5 1539.6,838.3 1541.5,839.2 1543.4,839.1 1545.2,838.4 1547.1,839 1549,837.9 1550.8,836.5 1552.7,839 1554.6,839.3 1556.4,838.5 1558.3,837.2 1560.2,836.8 1562.1,838 1563.9,837.6 1565.8,838.9 1567.7,837.1 1569.5,836.5 1571.4,836.1 1573.3,837.6 1575.1,839.1 1577,836.4 1578.9,837.5 1580.8,837.9 1582.6,839.5 1584.5,836.4 1586.4,836.8 1588.2,838.6 1590.1,838.4 1592,836.7 1593.8,836.4 1595.7,838.9 1597.6,836.8 1599.4,837.8 1601.3,836.1 1603.2,836.7 1605.1,836.9 1606.9,840.1 1608.8,838.2 1610.7,838.3 1612.5,836.4 1614.4,837.2 1616.3,835.5 1618.1,836.9 1620,836 1621.9,838.5 1623.7,836.7 1625.6,839.4 1627.5,838.5 1629.4,836.5 1631.2,838.7 1633.1,838.9 1635,838 1636.8,837.4 1638.7,838.6 1640.6,836.1 1642.4,838.7 1644.3,836.4 1646.2,836.1 1648,836.9 1649.9,838.2 1651.8,839.4 1653.7,836.8 1655.5,838.2 1657.4,836.4 1659.3,837.3 1661.1,838.1 1663,837.1 1664.9,837.6 1666.7,838.5 1668.6,837.4 1670.5,837 1672.3,839.7 1674.2,838.9 1676.1,838.9 1678,839.4 1679.8,836.4 1681.7,836 1683.6,837.2 1685.4,837.7 1687.3,837.5 1689.2,836.6 1691,837.3 1692.9,838.1 1694.8,838.2 1696.6,836.9 1698.5,837.3 1700.4,840.4 1702.3,837.6 1704.1,839.3 1706,837 1707.9,838.1 1709.7,838.7 1711.6,839.3 1713.5,838.2 1715.3,836.6 1717.2,837.5 1719.1,837.9 1721,837.1 1722.8,837.5 1724.7,836.6 1726.6,835.1 1728.4,838.7 1730.3,836.8 1732.2,837.7 1734,836.9 1735.9,839.2 1737.8,836.5 1739.6,836.7 1741.5,836.5 1743.4,838.7 1745.3,837.9 1747.1,838.7 1749,837.9 1750.9,837.8 1752.7,837.7 1754.6,838.6 1756.5,838.5 1758.3,837.7 1760.2,837.7 1762.1,837.3 1763.9,838.6 1765.8,836.7 1767.7,837.4 1769.6,838.7 1771.4,838.9 1773.3,837.6 1775.2,838.5 1777,839.1 1778.9,838.8 1780.8,838.9 1782.6,838.8 1784.5,840.3 1786.4,838.6 1788.2,840.2 1790.1,836.5 1792,837.8 1793.9,837.2 1795.7,838.4 1797.6,837.3 1799.5,838.8 1801.3,838.2 1803.2,838.3 1805.1,838.8 1806.9,838.9 1808.8,839.1 1810.7,838.1 1812.5,839.3 1814.4,837.2 1816.3,838.1 1818.2,838.7 1820,838.8 1821.9,838.9 1823.8,838.4 1825.6,838.6 1827.5,837.6 1829.4,838.4 1831.2,838.5 1833.1,838.3 1835,836.5 1836.8,837.8 1838.7,836.7 1840.6,836.5 1842.5,837.7 1844.3,837.3 1846.2,837.4 1848.1,836.4 1849.9,838 1851.8,836.5 1853.7,836.5 1855.5,837.8 1857.4,838.6 1859.3,839.8 1861.2,837.6 1863,838.2 1864.9,838.1 1866.8,837.2 1868.6,838.3 1870.5,838.9 1872.4,838.4 1874.2,838.5 1876.1,836.1 1878,834.6 1879.8,836.8 1881.7,838.2 1883.6,838.8 1885.5,837.1 1887.3,837.4 1889.2,838.8 1891.1,836.5 1892.9,838.8 1894.8,837.7 1896.7,838.4 1898.5,837 1900.4,837.3 1902.3,836.8 1904.1,838.8 1906,837.8 1907.9,836.3 1909.8,838.1 1911.6,837.7 1913.5,839.3 1915.4,838.9 1917.2,838 1919.1,837.1" fill="none" stroke="#FBD88C" stroke-width="0.8" stroke-linejoin="round" marker-start="url(#moFBD88C39)" marker-mid="url(#moFBD88C39)" marker-end="url(#moFBD88C39)"/>
<path d="M1360.2 888.4L1362 854.5" stroke="#3E6EB6" stroke-width="2.4" fill="none"/>
<polyline points="1360.2,888.4 1362,854.5 1363.9,853.5 1365.8,848 1367.6,842 1369.5,842.7 1371.4,838 1373.3,835.5 1375.1,838.5 1377,835.9 1378.9,838.2 1380.7,836.9 1382.6,837.9 1384.5,837.5 1386.3,837.5 1388.2,836.6 1390.1,838.2 1391.9,838.2 1393.8,836.2 1395.7,837.5 1397.6,837.9 1399.4,838 1401.3,838.3 1403.2,837.5 1405,837.1 1406.9,840.9 1408.8,838.8 1410.6,838 1412.5,838.7 1414.4,837 1416.2,838.4 1418.1,838.3 1420,839.5 1421.9,839.6 1423.7,838.3 1425.6,837.3 1427.5,838 1429.3,837.2 1431.2,837.3 1433.1,839.1 1434.9,837.9 1436.8,838 1438.7,836.4 1440.6,839.6 1442.4,839.8 1444.3,838.7 1446.2,838.1 1448,837.7 1449.9,838.3 1451.8,838.1 1453.6,840.1 1455.5,837.9 1457.4,837 1459.2,837.4 1461.1,837.7 1463,838.7 1464.9,838 1466.7,835.6 1468.6,838.4 1470.5,838 1472.3,839.5 1474.2,838.5 1476.1,837.5 1477.9,839.5 1479.8,837.2 1481.7,838.3 1483.5,837.4 1485.4,838.7 1487.3,836.9 1489.2,838.6 1491,837.5 1492.9,837.8 1494.8,838.7 1496.6,836.6 1498.5,838.5 1500.4,838.1 1502.2,836.5 1504.1,837.7 1506,838.8 1507.8,837.8 1509.7,836.5 1511.6,837 1513.5,838.4 1515.3,838.5 1517.2,837.9 1519.1,837.3 1520.9,837.3 1522.8,837.6 1524.7,838.1 1526.5,837.3 1528.4,838.2 1530.3,837.5 1532.1,838.3 1534,837.5 1535.9,836.8 1537.8,837.6 1539.6,837.4 1541.5,837.7 1543.4,836 1545.2,838.2 1547.1,838 1549,838.2 1550.8,837.8 1552.7,837.6 1554.6,839 1556.4,838.9 1558.3,838.6 1560.2,837 1562.1,836.6 1563.9,838.1 1565.8,837.6 1567.7,840 1569.5,838.2 1571.4,838.4 1573.3,839.8 1575.1,836.8 1577,836.4 1578.9,838.9 1580.8,838.3 1582.6,838 1584.5,838.1 1586.4,839.5 1588.2,838 1590.1,838.1 1592,838.7 1593.8,838.7 1595.7,839.6 1597.6,837.7 1599.4,840.3 1601.3,837.2 1603.2,837.3 1605.1,838.1 1606.9,838.1 1608.8,839.7 1610.7,839.4 1612.5,837.8 1614.4,837.3 1616.3,838.9 1618.1,839 1620,837.2 1621.9,835.5 1623.7,836.8 1625.6,838.8 1627.5,838.3 1629.4,838.1 1631.2,837.7 1633.1,837 1635,837.4 1636.8,838.7 1638.7,838.3 1640.6,838.1 1642.4,836.5 1644.3,837.2 1646.2,836.7 1648,838 1649.9,838.1 1651.8,836.3 1653.7,837.9 1655.5,837.5 1657.4,838.2 1659.3,837.1 1661.1,835.6 1663,837.3 1664.9,838.4 1666.7,837.7 1668.6,837.6 1670.5,837.9 1672.3,837.1 1674.2,837.7 1676.1,837.6 1678,838.6 1679.8,837 1681.7,838.2 1683.6,837.4 1685.4,836.7 1687.3,837.6 1689.2,840.5 1691,838.3 1692.9,838 1694.8,837.5 1696.6,839.5 1698.5,837.6 1700.4,837.6 1702.3,838.2 1704.1,838.3 1706,838 1707.9,836 1709.7,839.6 1711.6,836 1713.5,836.6 1715.3,837.4 1717.2,838.4 1719.1,839.2 1721,836.1 1722.8,836.9 1724.7,837.9 1726.6,838.2 1728.4,836.9 1730.3,837.9 1732.2,838.1 1734,838.5 1735.9,839.1 1737.8,838.6 1739.6,838 1741.5,838.7 1743.4,839.1 1745.3,839.2 1747.1,835.8 1749,836.2 1750.9,837.8 1752.7,836.9 1754.6,837.8 1756.5,837.2 1758.3,839.3 1760.2,836.8 1762.1,839.8 1763.9,838.7 1765.8,838.7 1767.7,837.6 1769.6,836.2 1771.4,836.9 1773.3,836.5 1775.2,836.8 1777,837.5 1778.9,837.9 1780.8,837 1782.6,838.4 1784.5,838.7 1786.4,837.7 1788.2,837.9 1790.1,837.5 1792,836.2 1793.9,836.4 1795.7,838.9 1797.6,838 1799.5,837.6 1801.3,838 1803.2,836.9 1805.1,838.4 1806.9,838.6 1808.8,837.7 1810.7,837.5 1812.5,836.8 1814.4,837 1816.3,838.8 1818.2,837.5 1820,837.5 1821.9,837.5 1823.8,836 1825.6,839.4 1827.5,836.9 1829.4,837 1831.2,837.6 1833.1,836.7 1835,837.3 1836.8,836.8 1838.7,837.4 1840.6,836.4 1842.5,838.3 1844.3,837.3 1846.2,839.1 1848.1,839 1849.9,838.3 1851.8,836.5 1853.7,836.2 1855.5,837.5 1857.4,836.8 1859.3,837.6 1861.2,839.6 1863,839.4 1864.9,838.9 1866.8,837.6 1868.6,836.1 1870.5,836.3 1872.4,837.6 1874.2,838.3 1876.1,838.7 1878,839 1879.8,837.7 1881.7,836.1 1883.6,837.3 1885.5,837.8 1887.3,839.3 1889.2,839.1 1891.1,836.3 1892.9,837.7 1894.8,836.8 1896.7,838.8 1898.5,837.9 1900.4,837.6 1902.3,837.3 1904.1,836.7 1906,839.2 1907.9,838 1909.8,837.3 1911.6,837.5 1913.5,836 1915.4,837.3 1917.2,838.5 1919.1,837.7" fill="none" stroke="#3E6EB6" stroke-width="0.8" stroke-linejoin="round" marker-start="url(#mo3E6EB639)" marker-mid="url(#mo3E6EB639)" marker-end="url(#mo3E6EB639)"/>
<path d="M1362 1002L1363.9 975.4M1363.9 975.4L1365.8 930.2M1365.8 930.2L1367.6 828.7M1367.6 828.7L1369.5 819.2M1373.3 809.9L1375.1 821.1M1438.7 843L1440.6 872.7M1440.6 872.7L1442.4 844.1" stroke="#F07F23" stroke-width="1.6" fill="none"/>
<polyline points="1360.2,1008 1362,1002 1363.9,975.4 1365.8,930.2 1367.6,828.7 1369.5,819.2 1371.4,817.8 1373.3,809.9 1375.1,821.1 1377,823.9 1378.9,828.4 1380.7,830.4 1382.6,834.2 1384.5,835.6 1386.3,830.3 1388.2,826.1 1390.1,834.2 1391.9,836.7 1393.8,834.8 1395.7,829.6 1397.6,838.1 1399.4,844.1 1401.3,840.9 1403.2,840.8 1405,838.5 1406.9,841.8 1408.8,838.7 1410.6,843.8 1412.5,841.4 1414.4,842.5 1416.2,845.5 1418.1,844.2 1420,840.5 1421.9,840.3 1423.7,843.4 1425.6,840.8 1427.5,840.8 1429.3,840.8 1431.2,842.1 1433.1,842.3 1434.9,844.7 1436.8,843.6 1438.7,843 1440.6,872.7 1442.4,844.1 1444.3,843 1446.2,842.7 1448,840.8 1449.9,844.9 1451.8,844.3 1453.6,842.8 1455.5,843.9 1457.4,842.6 1459.2,844 1461.1,840.8 1463,843.2 1464.9,845.6 1466.7,842 1468.6,839.4 1470.5,846.5 1472.3,844.1 1474.2,843.2 1476.1,841 1477.9,839.5 1479.8,842.8 1481.7,846.4 1483.5,842.4 1485.4,840.9 1487.3,841.7 1489.2,842.7 1491,844.8 1492.9,838.3 1494.8,844.7 1496.6,846.6 1498.5,841.8 1500.4,842.3 1502.2,841.6 1504.1,842.1 1506,839.4 1507.8,839.4 1509.7,843.6 1511.6,841.1 1513.5,845.2 1515.3,847.2 1517.2,841.4 1519.1,843.7 1520.9,847.8 1522.8,844.1 1524.7,844.7 1526.5,842.4 1528.4,843.1 1530.3,844.8 1532.1,845 1534,841.9 1535.9,844.9 1537.8,843.2 1539.6,845.2 1541.5,842.6 1543.4,839.3 1545.2,841.2" fill="none" stroke="#F07F23" stroke-width="0.9" stroke-linejoin="round" marker-start="url(#moF07F2340)" marker-mid="url(#moF07F2340)" marker-end="url(#moF07F2340)"/>
<path d="M1360.2 925.7L1362 904.1M1362 904.1L1363.9 890.3M1363.9 890.3L1365.8 878.4M1405 847L1406.9 870.1M1406.9 870.1L1408.8 847.9M1455.5 845.3L1457.4 878M1457.4 878L1459.2 844" stroke="#8C8C8C" stroke-width="1.6" fill="none"/>
<polyline points="1360.2,925.7 1362,904.1 1363.9,890.3 1365.8,878.4 1367.6,869.5 1369.5,862.9 1371.4,859.9 1373.3,855.3 1375.1,854.6 1377,852.1 1378.9,850.8 1380.7,851.4 1382.6,848.1 1384.5,848.3 1386.3,847.9 1388.2,847.8 1390.1,850.4 1391.9,849.7 1393.8,848.7 1395.7,845.8 1397.6,847.2 1399.4,845.8 1401.3,847.6 1403.2,847.6 1405,847 1406.9,870.1 1408.8,847.9 1410.6,846.4 1412.5,845.2 1414.4,845.3 1416.2,845.4 1418.1,844.2 1420,844.6 1421.9,846.4 1423.7,844.4 1425.6,845.9 1427.5,845.5 1429.3,842.9 1431.2,841 1433.1,841.9 1434.9,843.4 1436.8,845.3 1438.7,845.6 1440.6,842.3 1442.4,843.4 1444.3,845.9 1446.2,842.3 1448,842.9 1449.9,841.9 1451.8,842.9 1453.6,846.6 1455.5,845.3 1457.4,878 1459.2,844 1461.1,841.6 1463,844.1 1464.9,843.7 1466.7,843.6 1468.6,843.5 1470.5,844.8 1472.3,845.3 1474.2,847.2 1476.1,843.5 1477.9,843.5 1479.8,842.9 1481.7,844.5 1483.5,843.3 1485.4,844.4 1487.3,844.6 1489.2,842.8 1491,842 1492.9,841.9 1494.8,842.7 1496.6,843.3 1498.5,840.9 1500.4,840.6 1502.2,843.1 1504.1,844.2 1506,842.4 1507.8,842.1 1509.7,843.7 1511.6,839.6 1513.5,844.8 1515.3,844.1 1517.2,842.4 1519.1,841.1 1520.9,844.7 1522.8,843.4 1524.7,840.6 1526.5,840.1 1528.4,842.2 1530.3,842.2 1532.1,843.5 1534,841.9 1535.9,843.6 1537.8,845.3 1539.6,844.9 1541.5,842.6 1543.4,844 1545.2,841" fill="none" stroke="#8C8C8C" stroke-width="0.9" stroke-linejoin="round" marker-start="url(#mo8C8C8C40)" marker-mid="url(#mo8C8C8C40)" marker-end="url(#mo8C8C8C40)"/>
<path d="M1360.2 923.2L1362 852.5" stroke="#D3352D" stroke-width="2.4" fill="none"/>
<polyline points="1360.2,923.2 1362,852.5 1363.9,847.6 1365.8,842.9 1367.6,842 1369.5,839.3 1371.4,838.9 1373.3,837.6 1375.1,840.7 1377,840.4 1378.9,840.8 1380.7,837.3 1382.6,837.3 1384.5,838.6 1386.3,839.1 1388.2,838.8 1390.1,837.2 1391.9,837.9 1393.8,838.2 1395.7,838.7 1397.6,838.2 1399.4,836.3 1401.3,838.3 1403.2,838.4 1405,836.2 1406.9,836.8 1408.8,838.9 1410.6,837 1412.5,839.1 1414.4,837.6 1416.2,840.5 1418.1,839.5 1420,837.3 1421.9,838.4 1423.7,838.8 1425.6,838 1427.5,838 1429.3,838.4 1431.2,838.7 1433.1,836.2 1434.9,836 1436.8,837.2 1438.7,839 1440.6,838.7 1442.4,838.4 1444.3,837.5 1446.2,836.2 1448,838.1 1449.9,837.8 1451.8,838.4 1453.6,837.9 1455.5,838.6 1457.4,837.7 1459.2,836.7 1461.1,838.1 1463,838.3 1464.9,837.9 1466.7,839.3 1468.6,836.3 1470.5,839 1472.3,838.5 1474.2,839 1476.1,836.6 1477.9,838.2 1479.8,838.5 1481.7,836.1 1483.5,837.7 1485.4,838.7 1487.3,838.1 1489.2,837.8 1491,838.7 1492.9,838.3 1494.8,838.2 1496.6,837.2 1498.5,837 1500.4,836.9 1502.2,837.8 1504.1,837.1 1506,838 1507.8,836.7 1509.7,837.3 1511.6,838.2 1513.5,836.7 1515.3,839.3 1517.2,839.2 1519.1,839 1520.9,838.3 1522.8,839.3 1524.7,839.5 1526.5,840.2 1528.4,838.3 1530.3,838.8 1532.1,835.8 1534,836.7 1535.9,838.9 1537.8,836.7 1539.6,837.6 1541.5,836.7 1543.4,838.9 1545.2,836.9 1547.1,836.6 1549,838.1 1550.8,838.9 1552.7,838.5 1554.6,837.8 1556.4,835.4 1558.3,835.5 1560.2,835.9 1562.1,837.7 1563.9,838.2 1565.8,837.6 1567.7,838.2 1569.5,838.5 1571.4,838.3 1573.3,837.1 1575.1,837.8 1577,837.7 1578.9,838.2 1580.8,838.2 1582.6,838.3 1584.5,836.7 1586.4,837.4 1588.2,836.3 1590.1,837.8 1592,836.8 1593.8,839.2 1595.7,838.6 1597.6,838.1 1599.4,838.6 1601.3,838.2 1603.2,839 1605.1,838.3 1606.9,838.7 1608.8,838.1 1610.7,838.3 1612.5,839 1614.4,838.6 1616.3,838 1618.1,839.3 1620,838.1 1621.9,836.7 1623.7,837.9 1625.6,837.4 1627.5,837.2 1629.4,838.6 1631.2,836.7 1633.1,835 1635,838.4 1636.8,835.8 1638.7,838.2 1640.6,836.5 1642.4,839.5 1644.3,837.1 1646.2,837.6 1648,839.2 1649.9,839.1 1651.8,839.3 1653.7,839.1 1655.5,837.8 1657.4,838.1 1659.3,840.6 1661.1,838.8 1663,837.6 1664.9,837.8 1666.7,836.1 1668.6,839.5 1670.5,838 1672.3,837.9 1674.2,837.2 1676.1,839.2 1678,839.6 1679.8,838.4 1681.7,838 1683.6,839.8 1685.4,837.9 1687.3,837.9 1689.2,837.2 1691,840.5 1692.9,837.9 1694.8,838.9 1696.6,838.6 1698.5,837.2 1700.4,836 1702.3,837.4 1704.1,837.9 1706,836.6 1707.9,838.6 1709.7,838.2 1711.6,838.5 1713.5,839.1 1715.3,838 1717.2,835.8 1719.1,837.2 1721,837.3 1722.8,837.8 1724.7,836.7 1726.6,837.5 1728.4,838.8 1730.3,838 1732.2,836.4 1734,837.7 1735.9,836.6 1737.8,837.7 1739.6,835.8 1741.5,837.2 1743.4,837.1 1745.3,838.1 1747.1,837.1 1749,838 1750.9,839.5 1752.7,837.9 1754.6,839.2 1756.5,836.6 1758.3,836.8 1760.2,837.7 1762.1,837.2 1763.9,840.5 1765.8,836.8 1767.7,838.4 1769.6,837.3 1771.4,835.1 1773.3,839.1 1775.2,838.6 1777,837.7 1778.9,837.4 1780.8,839.6 1782.6,839.2 1784.5,836.6 1786.4,838.3 1788.2,837.4 1790.1,839.3 1792,839.2 1793.9,840.1 1795.7,838.1 1797.6,836.7 1799.5,837.6 1801.3,838.2 1803.2,837.7 1805.1,837.4 1806.9,838.1 1808.8,837.4 1810.7,835.8 1812.5,835.2 1814.4,838 1816.3,839.3 1818.2,836.2 1820,836.5 1821.9,836.4 1823.8,837 1825.6,838 1827.5,836.9 1829.4,836.6 1831.2,836.4 1833.1,838.8 1835,837 1836.8,838.1 1838.7,838.3 1840.6,837.6 1842.5,838.2 1844.3,835.6 1846.2,836.9 1848.1,837.4 1849.9,838 1851.8,837.7 1853.7,838.1 1855.5,837.4 1857.4,836.9 1859.3,836.8 1861.2,839 1863,838.5 1864.9,838 1866.8,839.2 1868.6,837.8 1870.5,838.1 1872.4,837.9 1874.2,837.5 1876.1,838.5 1878,836.4 1879.8,836.5 1881.7,838.2 1883.6,837.5 1885.5,837.1 1887.3,838.6 1889.2,838.4 1891.1,837.3 1892.9,840.5 1894.8,839.8 1896.7,838 1898.5,837.3 1900.4,838.8 1902.3,837.2 1904.1,835.5 1906,837.2 1907.9,837.8 1909.8,837.8 1911.6,839 1913.5,837.6 1915.4,837.7 1917.2,837.1 1919.1,836.3" fill="none" stroke="#D3352D" stroke-width="0.8" stroke-linejoin="round" marker-start="url(#moD3352D39)" marker-mid="url(#moD3352D39)" marker-end="url(#moD3352D39)"/>
<path d="M1535.9 833.7L1537.8 798.8M1537.8 798.8L1539.6 865.8M1539.6 865.8L1541.5 836.2" stroke="#5BC0DA" stroke-width="1.8" fill="none"/>
<polyline points="1360.2,870.4 1362,862.9 1363.9,860.7 1365.8,851.7 1367.6,849.9 1369.5,847.6 1371.4,844.1 1373.3,843.5 1375.1,840.7 1377,837.9 1378.9,842 1380.7,838.2 1382.6,841.9 1384.5,841 1386.3,839.7 1388.2,836.6 1390.1,837.9 1391.9,837.7 1393.8,840.1 1395.7,839.6 1397.6,840.2 1399.4,837.4 1401.3,837.8 1403.2,833.8 1405,839.1 1406.9,837.6 1408.8,839.7 1410.6,840 1412.5,838.6 1414.4,838.8 1416.2,840.6 1418.1,839 1420,836.9 1421.9,840.5 1423.7,838.3 1425.6,835.2 1427.5,838.4 1429.3,835.6 1431.2,837.6 1433.1,834.9 1434.9,836.3 1436.8,836.6 1438.7,837.3 1440.6,836.5 1442.4,836.5 1444.3,839.3 1446.2,838.4 1448,838.7 1449.9,837.7 1451.8,838 1453.6,839.7 1455.5,837 1457.4,836.9 1459.2,836.7 1461.1,837.3 1463,834.5 1464.9,835.1 1466.7,835.7 1468.6,834.2 1470.5,835.5 1472.3,834.9 1474.2,835.6 1476.1,834.2 1477.9,835.2 1479.8,836.4 1481.7,836 1483.5,835.4 1485.4,834 1487.3,834.6 1489.2,835 1491,835.4 1492.9,835.8 1494.8,835.6 1496.6,836.8 1498.5,837.3 1500.4,834.3 1502.2,839.4 1504.1,836.9 1506,837.8 1507.8,838.4 1509.7,837.9 1511.6,836.1 1513.5,836.6 1515.3,837 1517.2,836.3 1519.1,833.7 1520.9,835.9 1522.8,834.8 1524.7,835.4 1526.5,836.6 1528.4,838.7 1530.3,836.3 1532.1,833.5 1534,834.9 1535.9,833.7 1537.8,798.8 1539.6,865.8 1541.5,836.2 1543.4,836.9 1545.2,837.8" fill="none" stroke="#5BC0DA" stroke-width="0.9" stroke-linejoin="round" marker-start="url(#mo5BC0DA40)" marker-mid="url(#mo5BC0DA40)" marker-end="url(#mo5BC0DA40)"/>
<polyline points="1360.2,922.4 1363.9,919.9 1367.6,917.4 1371.4,916.8 1375.1,916.3 1378.9,915.7 1382.6,914.9 1386.3,914.4 1390.1,914.7 1393.8,914.6 1397.6,914.8 1401.3,914.7 1405,915 1408.8,915.1 1412.5,915.3 1416.2,915.6 1420,915.7 1423.7,916.1 1427.5,916 1431.2,916.2 1434.9,916.5 1438.7,916.4 1442.4,916.9 1446.2,917.1 1449.9,917.1 1453.6,917.2 1457.4,917.3 1461.1,917.3 1464.9,917.8 1468.6,917.9 1472.3,918.4 1476.1,918.6 1479.8,918.6 1483.5,918.4 1487.3,918.8 1491,918.8 1494.8,919.2 1498.5,919.6 1502.2,919.9 1506,919.9 1509.7,919.9 1513.5,920.2 1517.2,920.3 1520.9,920.2 1524.7,920.4 1528.4,920.5 1532.1,920.9 1535.9,921.2 1539.6,921.4 1543.4,921.2 1547.1,921.7 1550.8,921.8 1554.6,922.2 1558.3,922.9 1562.1,923 1565.8,923.3 1569.5,923.6 1573.3,923.9 1577,924.1 1580.8,924.4 1584.5,924.8 1588.2,925 1592,925.6 1595.7,925.8 1599.4,925.6 1603.2,925.9 1606.9,926.5 1610.7,926.7 1614.4,927.5 1618.1,927.6 1621.9,927.8 1625.6,928.1 1629.4,928.4 1633.1,928.8 1636.8,928.7 1640.6,929.2 1644.3,929.6 1648,930.2 1651.8,930.4 1655.5,930.6 1659.3,931 1663,931.2 1666.7,931.5 1670.5,931.6 1674.2,931.9 1678,932.2 1681.7,932.8 1685.4,933.2 1689.2,933.2 1692.9,933.6 1696.6,934 1700.4,934.2 1704.1,934.2 1707.9,934.7 1711.6,934.9 1715.3,934.7 1719.1,935.3 1722.8,936 1726.6,936.1 1730.3,936.4 1734,936.4 1737.8,937.2 1741.5,937.6 1745.3,937.8 1749,938 1752.7,938.1 1756.5,938.9 1760.2,938.7 1763.9,939.4 1767.7,939.5 1771.4,940.1 1775.2,940.2 1778.9,940.6 1782.6,940.7 1786.4,941.1 1790.1,941.4 1793.9,941.5 1797.6,942.2 1801.3,942.7 1805.1,942.8 1808.8,943.2 1812.5,943.6 1816.3,943.6 1820,944 1823.8,944.3 1827.5,944.9 1831.2,945.3 1835,945.5 1838.7,945.9 1842.5,945.7 1846.2,946.4 1849.9,946.5 1853.7,947 1857.4,947.4 1861.2,947.7 1864.9,948.2 1868.6,948.5 1872.4,948.8 1876.1,949.2 1879.8,949.6 1883.6,949.8 1887.3,950 1891.1,950.1 1894.8,950.7 1898.5,950.8 1902.3,951.2 1906,951.6 1909.8,952 1913.5,952.1 1917.2,952.7" fill="none" stroke="#2F4D86" stroke-width="7.3" stroke-linejoin="round" stroke-linecap="round"/>
<polyline points="1360.2,921.6 1371.4,915.9 1382.6,914 1393.8,913.7 1405,914.2 1416.2,914.8 1427.5,915.1 1438.7,915.6 1449.9,916.2 1461.1,916.4 1472.3,917.5 1483.5,917.6 1494.8,918.3 1506,919 1517.2,919.4 1528.4,919.6 1539.6,920.5 1550.8,920.9 1562.1,922.1 1573.3,923 1584.5,923.9 1595.7,924.9 1606.9,925.7 1618.1,926.7 1629.4,927.5 1640.6,928.3 1651.8,929.6 1663,930.3 1674.2,931 1685.4,932.3 1696.6,933.2 1707.9,933.9 1719.1,934.4 1730.3,935.5 1741.5,936.7 1752.7,937.2 1763.9,938.5 1775.2,939.3 1786.4,940.2 1797.6,941.3 1808.8,942.3 1820,943.2 1831.2,944.4 1842.5,944.8 1853.7,946.2 1864.9,947.4 1876.1,948.3 1887.3,949.1 1898.5,949.9 1909.8,951.1" fill="none" stroke="#fff" stroke-opacity="0.32" stroke-width="3.1" stroke-dasharray="0.9 1.0"/>
<polyline points="1360.2,919.5 1363.9,915.2 1367.6,911.1 1371.4,910.3 1375.1,909.4 1378.9,908.9 1382.6,908.9 1386.3,909.1 1390.1,909.4 1393.8,909.9 1397.6,910.1 1401.3,910.2 1405,910.5 1408.8,910.6 1412.5,911.2 1416.2,911.7 1420,912 1423.7,912.3 1427.5,912.9 1431.2,913 1434.9,913.4 1438.7,913.6 1442.4,913.5 1446.2,914 1449.9,914.1 1453.6,914.7 1457.4,914.8 1461.1,915.2 1464.9,915.7 1468.6,915.8 1472.3,915.9 1476.1,916.3 1479.8,916.5 1483.5,916.9 1487.3,916.9 1491,917.1 1494.8,917.4 1498.5,918.1 1502.2,918.1 1506,918.7 1509.7,918.8 1513.5,918.8 1517.2,919.3 1520.9,919.4 1524.7,919.8 1528.4,920.3 1532.1,920.4 1535.9,920.7 1539.6,921.2 1543.4,921.3 1547.1,922 1550.8,922.1 1554.6,922.3 1558.3,922.6 1562.1,922.9 1565.8,923.3 1569.5,923.6 1573.3,924.3 1577,924.3 1580.8,924.6 1584.5,924.8 1588.2,925 1592,925.5 1595.7,925.4 1599.4,925.9 1603.2,926.1 1606.9,926.4 1610.7,926.6 1614.4,926.8 1618.1,927.2 1621.9,927.3 1625.6,927.8 1629.4,928.2 1633.1,928.5 1636.8,928.7 1640.6,928.7 1644.3,928.8 1648,929.3 1651.8,930 1655.5,930 1659.3,930.3 1663,930.6 1666.7,931 1670.5,931.2 1674.2,931.7 1678,931.6 1681.7,931.7 1685.4,932 1689.2,932.5 1692.9,932.6 1696.6,932.9 1700.4,932.9 1704.1,933.5 1707.9,933.8 1711.6,934.3 1715.3,934.1 1719.1,934.6 1722.8,935 1726.6,935 1730.3,935 1734,935.4 1737.8,936.1 1741.5,936.2 1745.3,936.6 1749,936.3 1752.7,936.7 1756.5,937.2 1760.2,937.8 1763.9,937.9 1767.7,938.1 1771.4,938.6 1775.2,938.9 1778.9,939.1 1782.6,939.2 1786.4,939.5 1790.1,940.2 1793.9,940.4 1797.6,940.5 1801.3,940.9 1805.1,941.2 1808.8,941.7 1812.5,941.7 1816.3,941.9 1820,942 1823.8,942.2 1827.5,942.2 1831.2,942.8 1835,943.3 1838.7,943.4 1842.5,943.7 1846.2,943.8 1849.9,944.2 1853.7,944.6 1857.4,944.9 1861.2,945.2 1864.9,945.4 1868.6,945.7 1872.4,946.2 1876.1,946.1 1879.8,946.2 1883.6,946.7 1887.3,947.2 1891.1,947.4 1894.8,947.5 1898.5,947.6 1902.3,948.5 1906,948.9 1909.8,948.9 1913.5,949 1917.2,949.3" fill="none" stroke="#A63A2C" stroke-width="7.3" stroke-linejoin="round" stroke-linecap="round"/>
<polyline points="1360.2,918.6 1371.4,909.4 1382.6,908 1393.8,909 1405,909.6 1416.2,910.8 1427.5,912 1438.7,912.7 1449.9,913.2 1461.1,914.4 1472.3,915 1483.5,916 1494.8,916.5 1506,917.8 1517.2,918.4 1528.4,919.5 1539.6,920.3 1550.8,921.3 1562.1,922 1573.3,923.4 1584.5,923.9 1595.7,924.6 1606.9,925.6 1618.1,926.3 1629.4,927.3 1640.6,927.8 1651.8,929.1 1663,929.7 1674.2,930.8 1685.4,931.1 1696.6,932 1707.9,932.9 1719.1,933.7 1730.3,934.1 1741.5,935.3 1752.7,935.8 1763.9,937 1775.2,938 1786.4,938.7 1797.6,939.6 1808.8,940.8 1820,941.1 1831.2,941.9 1842.5,942.9 1853.7,943.7 1864.9,944.5 1876.1,945.3 1887.3,946.3 1898.5,946.8 1909.8,948.1" fill="none" stroke="#fff" stroke-opacity="0.32" stroke-width="3.1" stroke-dasharray="0.9 1.0"/>
<polyline points="1360.2,921.6 1363.9,916.8 1367.6,912.2 1371.4,911.2 1375.1,910.6 1378.9,910.4 1382.6,910 1386.3,910.4 1390.1,910.5 1393.8,910.6 1397.6,911 1401.3,911.3 1405,911.6 1408.8,911.9 1412.5,912.3 1416.2,912.3 1420,912.6 1423.7,912.9 1427.5,913.1 1431.2,913.5 1434.9,913.8 1438.7,913.7 1442.4,914 1446.2,914.3 1449.9,914.2 1453.6,914.4 1457.4,914.9 1461.1,914.9 1464.9,915.1 1468.6,915.5 1472.3,915.7 1476.1,916.3 1479.8,916.3 1483.5,916.7 1487.3,916.9 1491,917.1 1494.8,917.7 1498.5,917.5 1502.2,917.8 1506,917.9 1509.7,918 1513.5,918.6 1517.2,918.9 1520.9,918.9 1524.7,919 1528.4,919.4 1532.1,920.1 1535.9,920.3 1539.6,920 1543.4,920.3 1547.1,920.7 1550.8,920.9 1554.6,921 1558.3,921.6 1562.1,921.7 1565.8,921.7 1569.5,921.5 1573.3,922.1 1577,922.3 1580.8,922.8 1584.5,922.8 1588.2,922.8 1592,923.3 1595.7,923.6 1599.4,923.8 1603.2,923.8 1606.9,924 1610.7,924.5 1614.4,924.6 1618.1,924.7 1621.9,925 1625.6,925.1 1629.4,925.7 1633.1,925.6 1636.8,925.9 1640.6,926.1 1644.3,925.8 1648,926.3 1651.8,926.8 1655.5,926.9 1659.3,926.9 1663,927.2 1666.7,927.7 1670.5,927.6 1674.2,927.7 1678,928.3 1681.7,928.4 1685.4,928.7 1689.2,928.9 1692.9,929.1 1696.6,929.4 1700.4,929.6 1704.1,929.9 1707.9,930.1 1711.6,930.4 1715.3,930.5 1719.1,930.7 1722.8,930.8 1726.6,931.1 1730.3,931.2 1734,931.6 1737.8,931.7 1741.5,931.9 1745.3,932.2 1749,932.4 1752.7,932.3 1756.5,932.5 1760.2,932.9 1763.9,933.1 1767.7,933.2 1771.4,933.4 1775.2,933.5 1778.9,933.6 1782.6,933.6 1786.4,934.2 1790.1,934.8 1793.9,934.9 1797.6,934.9 1801.3,934.9 1805.1,935.4 1808.8,935.5 1812.5,935.8 1816.3,936 1820,936.2 1823.8,936.4 1827.5,936.4 1831.2,936.8 1835,936.9 1838.7,937.2 1842.5,937.3 1846.2,937.5 1849.9,937.9 1853.7,938.1 1857.4,938.4 1861.2,938.3 1864.9,938.6 1868.6,939.1 1872.4,939.2 1876.1,939 1879.8,939.5 1883.6,939.8 1887.3,939.6 1891.1,939.6 1894.8,939.9 1898.5,940.3 1902.3,940.5 1906,940.7 1909.8,940.8 1913.5,941.6 1917.2,941.2" fill="none" stroke="#2790A7" stroke-width="7.3" stroke-linejoin="round" stroke-linecap="round"/>
<polyline points="1360.2,920.7 1371.4,910.3 1382.6,909.1 1393.8,909.7 1405,910.7 1416.2,911.4 1427.5,912.2 1438.7,912.9 1449.9,913.3 1461.1,914 1472.3,914.8 1483.5,915.8 1494.8,916.8 1506,917.1 1517.2,918 1528.4,918.5 1539.6,919.1 1550.8,920 1562.1,920.8 1573.3,921.2 1584.5,922 1595.7,922.7 1606.9,923.1 1618.1,923.8 1629.4,924.9 1640.6,925.3 1651.8,925.9 1663,926.3 1674.2,926.9 1685.4,927.9 1696.6,928.5 1707.9,929.3 1719.1,929.8 1730.3,930.4 1741.5,931.1 1752.7,931.4 1763.9,932.2 1775.2,932.6 1786.4,933.3 1797.6,934 1808.8,934.6 1820,935.3 1831.2,935.9 1842.5,936.4 1853.7,937.2 1864.9,937.7 1876.1,938.1 1887.3,938.8 1898.5,939.4 1909.8,940" fill="none" stroke="#fff" stroke-opacity="0.32" stroke-width="3.1" stroke-dasharray="0.9 1.0"/>
<polyline points="1360.2,924.9 1363.9,922.1 1367.6,918.8 1371.4,916.7 1375.1,915.8 1378.9,914.5 1382.6,913.3 1386.3,912.8 1390.1,913.3 1393.8,913.6 1397.6,914 1401.3,913.9 1405,913.9 1408.8,914.5 1412.5,914.3 1416.2,914.4 1420,914.8 1423.7,914.7 1427.5,915.2 1431.2,915.6 1434.9,915.4 1438.7,915.9 1442.4,916 1446.2,916.2 1449.9,916.7 1453.6,916.7 1457.4,916.9 1461.1,917.3 1464.9,917.2 1468.6,917.3 1472.3,917.7 1476.1,918.1 1479.8,918.3 1483.5,918.4 1487.3,918.7 1491,918.6 1494.8,919.1 1498.5,918.9 1502.2,919.2 1506,919.6 1509.7,919.8 1513.5,920 1517.2,920.2 1520.9,920.5 1524.7,920.7 1528.4,921 1532.1,920.9 1535.9,921.1 1539.6,921.3 1543.4,921.2 1547.1,921.7 1550.8,922.3 1554.6,922 1558.3,923.2 1562.1,923 1565.8,923.4 1569.5,924.1 1573.3,924.3 1577,924.3 1580.8,924.6 1584.5,924.8 1588.2,925.2 1592,925.4 1595.7,926.2 1599.4,926.4 1603.2,926.5 1606.9,927.3 1610.7,927.1 1614.4,927.6 1618.1,928.1 1621.9,928.2 1625.6,928.5 1629.4,928.8 1633.1,929.4 1636.8,929.5 1640.6,929.9 1644.3,930.1 1648,930.1 1651.8,930.5 1655.5,931.1 1659.3,931.3 1663,931.8 1666.7,932.3 1670.5,932.1 1674.2,932 1678,932.6 1681.7,933.2 1685.4,933.3 1689.2,933.9 1692.9,934.4 1696.6,934.5 1700.4,935.1 1704.1,935.1 1707.9,936 1711.6,936.1 1715.3,936.4 1719.1,936.2 1722.8,936.6 1726.6,937.1 1730.3,937.7 1734,938.1 1737.8,938.3 1741.5,938.6 1745.3,939.3 1749,939.4 1752.7,940 1756.5,940.5 1760.2,940.8 1763.9,940.9 1767.7,941.7 1771.4,942.3 1775.2,942.3 1778.9,942.6 1782.6,943.1 1786.4,943.1 1790.1,943.7 1793.9,944.1 1797.6,944.7 1801.3,945.3 1805.1,945.8 1808.8,946.1 1812.5,946.6 1816.3,946.8 1820,947.4 1823.8,948 1827.5,948 1831.2,948.4 1835,949.1 1838.7,949.7 1842.5,950 1846.2,950.2 1849.9,950.8 1853.7,951.2 1857.4,951.4 1861.2,951.8 1864.9,952.3 1868.6,953.3 1872.4,953.3 1876.1,953.7 1879.8,953.9 1883.6,954.6 1887.3,955 1891.1,955.3 1894.8,955.9 1898.5,956.5 1902.3,956.8 1906,957.2 1909.8,957.6 1913.5,957.9 1917.2,958.5" fill="none" stroke="#8FBFDE" stroke-width="7.3" stroke-linejoin="round" stroke-linecap="round"/>
<polyline points="1360.2,924 1371.4,915.8 1382.6,912.5 1393.8,912.7 1405,913 1416.2,913.5 1427.5,914.3 1438.7,915.1 1449.9,915.8 1461.1,916.4 1472.3,916.9 1483.5,917.5 1494.8,918.2 1506,918.7 1517.2,919.4 1528.4,920.1 1539.6,920.4 1550.8,921.4 1562.1,922.1 1573.3,923.5 1584.5,923.9 1595.7,925.3 1606.9,926.4 1618.1,927.2 1629.4,927.9 1640.6,929.1 1651.8,929.6 1663,931 1674.2,931.2 1685.4,932.4 1696.6,933.6 1707.9,935.1 1719.1,935.4 1730.3,936.8 1741.5,937.8 1752.7,939.1 1763.9,940.1 1775.2,941.4 1786.4,942.2 1797.6,943.8 1808.8,945.2 1820,946.6 1831.2,947.5 1842.5,949.1 1853.7,950.3 1864.9,951.5 1876.1,952.8 1887.3,954.1 1898.5,955.6 1909.8,956.7" fill="none" stroke="#fff" stroke-opacity="0.32" stroke-width="3.1" stroke-dasharray="0.9 1.0"/>
<polyline points="1360.2,917.1 1363.9,913.1 1367.6,908.9 1371.4,906.1 1375.1,904.7 1378.9,903.9 1382.6,904.4 1386.3,904.6 1390.1,905 1393.8,905.1 1397.6,905.2 1401.3,905.7 1405,905.7 1408.8,905.8 1412.5,906.2 1416.2,906.1 1420,906.7 1423.7,906.8 1427.5,907 1431.2,907.5 1434.9,907.8 1438.7,907.8 1442.4,908 1446.2,908.1 1449.9,908.2 1453.6,908.6 1457.4,909.1 1461.1,909 1464.9,908.8 1468.6,909 1472.3,909.3 1476.1,909.6 1479.8,909.9 1483.5,909.9 1487.3,910.5 1491,910.5 1494.8,910.6 1498.5,910.7 1502.2,910.8 1506,911.5 1509.7,911.4 1513.5,911.9 1517.2,911.9 1520.9,912.2 1524.7,912.4 1528.4,912.9 1532.1,913.3 1535.9,913.4 1539.6,913.5 1543.4,913.7 1547.1,913.8 1550.8,913.9 1554.6,913.9 1558.3,914.4 1562.1,914.7 1565.8,914.7 1569.5,915.2 1573.3,915.2 1577,915.3 1580.8,915.1 1584.5,915.4 1588.2,915.6 1592,916 1595.7,916.1 1599.4,916.4 1603.2,916.5 1606.9,916.9 1610.7,917.4 1614.4,917.6 1618.1,917.6 1621.9,917.9 1625.6,918.5 1629.4,918.1 1633.1,918.2 1636.8,918.4 1640.6,918.6 1644.3,918.8 1648,919.4 1651.8,919.3 1655.5,919.4 1659.3,920.2 1663,920.3 1666.7,920.4 1670.5,920.3 1674.2,920.6 1678,920.9 1681.7,921.1 1685.4,920.8 1689.2,921.5 1692.9,921.9 1696.6,921.9 1700.4,922 1704.1,922.2 1707.9,922.8 1711.6,922.7 1715.3,922.9 1719.1,923.2 1722.8,923.2 1726.6,923.4 1730.3,923.9 1734,923.9 1737.8,924.4 1741.5,924 1745.3,924.6 1749,925 1752.7,925.4 1756.5,925.1 1760.2,925.4 1763.9,925.7 1767.7,925.6 1771.4,926 1775.2,926 1778.9,926.5 1782.6,926.9 1786.4,926.9 1790.1,927 1793.9,927.4 1797.6,927.3 1801.3,928.1 1805.1,928.4 1808.8,928.2 1812.5,928.1 1816.3,928.3 1820,928.6 1823.8,929 1827.5,929.2 1831.2,929.3 1835,929.2 1838.7,929.7 1842.5,930 1846.2,930.1 1849.9,930.1 1853.7,930.5 1857.4,930.9 1861.2,931 1864.9,931.3 1868.6,931.3 1872.4,931.2 1876.1,931.4 1879.8,931.8 1883.6,932.3 1887.3,932.4 1891.1,932.4 1894.8,932.7 1898.5,932.6 1902.3,933.2 1906,933.6 1909.8,933.8 1913.5,933.6 1917.2,934.1" fill="none" stroke="#FBD88C" stroke-width="7.3" stroke-linejoin="round" stroke-linecap="round"/>
<polyline points="1360.2,916.2 1371.4,905.3 1382.6,903.5 1393.8,904.3 1405,904.8 1416.2,905.2 1427.5,906.1 1438.7,906.9 1449.9,907.3 1461.1,908.2 1472.3,908.5 1483.5,909 1494.8,909.7 1506,910.6 1517.2,911 1528.4,912 1539.6,912.7 1550.8,913 1562.1,913.8 1573.3,914.3 1584.5,914.5 1595.7,915.2 1606.9,916 1618.1,916.8 1629.4,917.3 1640.6,917.8 1651.8,918.5 1663,919.4 1674.2,919.8 1685.4,920 1696.6,921.1 1707.9,921.9 1719.1,922.3 1730.3,923 1741.5,923.1 1752.7,924.5 1763.9,924.8 1775.2,925.1 1786.4,926 1797.6,926.4 1808.8,927.3 1820,927.7 1831.2,928.4 1842.5,929.1 1853.7,929.7 1864.9,930.5 1876.1,930.5 1887.3,931.5 1898.5,931.8 1909.8,932.9" fill="none" stroke="#fff" stroke-opacity="0.32" stroke-width="3.1" stroke-dasharray="0.9 1.0"/>
<polyline points="1360.2,944.1 1363.9,933.2 1367.6,926.7 1371.4,923.6 1375.1,920.8 1378.9,919 1382.6,918.4 1386.3,917.8 1390.1,917.4 1393.8,916.4 1397.6,916 1401.3,916.1 1405,916.2 1408.8,916.6 1412.5,916.8 1416.2,916.8 1420,916.9 1423.7,917.1 1427.5,917.1 1431.2,917 1434.9,917.2 1438.7,917.2 1442.4,917 1446.2,917.2 1449.9,917.1 1453.6,917.2 1457.4,917.3 1461.1,917.6 1464.9,917.7 1468.6,917.7 1472.3,917.8 1476.1,917.9 1479.8,917.7 1483.5,917.8 1487.3,918.5 1491,918.3 1494.8,918.2 1498.5,918.1 1502.2,918.1 1506,918.3 1509.7,918.7 1513.5,918.5 1517.2,918.3 1520.9,918.3 1524.7,918.4 1528.4,918.6 1532.1,918.9 1535.9,918.9 1539.6,918.8 1543.4,919.1 1547.1,919.3 1550.8,919.6 1554.6,919.9 1558.3,920.2 1562.1,920.2 1565.8,920.3 1569.5,921 1573.3,921 1577,921.4 1580.8,921.6 1584.5,921.8 1588.2,921.9 1592,922.5 1595.7,922.7 1599.4,923.1 1603.2,923.4 1606.9,924.1 1610.7,924.3 1614.4,924.4 1618.1,924.9 1621.9,924.7 1625.6,924.6 1629.4,924.9 1633.1,925.2 1636.8,925.6 1640.6,926.2 1644.3,925.9 1648,926.4 1651.8,926.8 1655.5,926.8 1659.3,927.3 1663,927.9 1666.7,928.1 1670.5,928.3 1674.2,928.2 1678,928.7 1681.7,928.9 1685.4,929.4 1689.2,929.3 1692.9,929.6 1696.6,929.7 1700.4,930 1704.1,930.4 1707.9,930.4 1711.6,930.9 1715.3,931 1719.1,931.6 1722.8,931.9 1726.6,932.2 1730.3,932.7 1734,932.9 1737.8,933 1741.5,933.8 1745.3,934.4 1749,934.7 1752.7,935 1756.5,935.4 1760.2,935.9 1763.9,936.1 1767.7,936.6 1771.4,937.1 1775.2,937.3 1778.9,937.6 1782.6,938.3 1786.4,938.3 1790.1,939 1793.9,939.4 1797.6,940 1801.3,940.2 1805.1,940.9 1808.8,941.1 1812.5,941.6 1816.3,942.4 1820,942.6 1823.8,943.2 1827.5,943.6 1831.2,944.1 1835,944.4 1838.7,944.7 1842.5,945.2 1846.2,945.7 1849.9,945.7 1853.7,946.1 1857.4,946.6 1861.2,947.1 1864.9,947.4 1868.6,947.9 1872.4,948.4 1876.1,948.6 1879.8,949.1 1883.6,949.5 1887.3,949.9 1891.1,950.3 1894.8,950.8 1898.5,951.3 1902.3,951.9 1906,952.5 1909.8,952.6 1913.5,953.1 1917.2,953.2" fill="none" stroke="#3E6EB6" stroke-width="7.3" stroke-linejoin="round" stroke-linecap="round"/>
<polyline points="1360.2,943.3 1371.4,922.7 1382.6,917.5 1393.8,915.6 1405,915.3 1416.2,915.9 1427.5,916.2 1438.7,916.3 1449.9,916.2 1461.1,916.7 1472.3,916.9 1483.5,917 1494.8,917.3 1506,917.4 1517.2,917.4 1528.4,917.8 1539.6,918 1550.8,918.8 1562.1,919.3 1573.3,920.1 1584.5,920.9 1595.7,921.8 1606.9,923.2 1618.1,924.1 1629.4,924.1 1640.6,925.3 1651.8,925.9 1663,927 1674.2,927.3 1685.4,928.5 1696.6,928.9 1707.9,929.5 1719.1,930.7 1730.3,931.8 1741.5,932.9 1752.7,934.1 1763.9,935.2 1775.2,936.5 1786.4,937.4 1797.6,939.1 1808.8,940.2 1820,941.7 1831.2,943.2 1842.5,944.3 1853.7,945.3 1864.9,946.5 1876.1,947.7 1887.3,949.1 1898.5,950.4 1909.8,951.8" fill="none" stroke="#fff" stroke-opacity="0.32" stroke-width="3.1" stroke-dasharray="0.9 1.0"/>
<polyline points="1360.2,917.2 1362,913.8 1363.9,910.3 1365.8,906.8 1367.6,905.7 1369.5,904.4 1371.4,903.3 1373.3,903.6 1375.1,904.3 1377,904.4 1378.9,904.7 1380.7,904.9 1382.6,905.4 1384.5,905.9 1386.3,906.5 1388.2,906.8 1390.1,907 1391.9,907.4 1393.8,907.8 1395.7,908.3 1397.6,908.9 1399.4,909.3 1401.3,909.6 1403.2,909.9 1405,910.3 1406.9,910.7 1408.8,910.9 1410.6,911 1412.5,911.4 1414.4,911.6 1416.2,911.9 1418.1,912.5 1420,912.8 1421.9,912.8 1423.7,913.4 1425.6,913.9 1427.5,914.1 1429.3,914.5 1431.2,914.7 1433.1,915.1 1434.9,915.5 1436.8,916.1 1438.7,916.3 1440.6,916.7 1442.4,916.8 1444.3,917.2 1446.2,917.6 1448,918 1449.9,918.6 1451.8,919 1453.6,918.7 1455.5,919.1 1457.4,919.2 1459.2,919.5 1461.1,919.7 1463,919.6 1464.9,920 1466.7,920.5 1468.6,920.8 1470.5,920.7 1472.3,920.6 1474.2,920.9 1476.1,921.2 1477.9,921.5 1479.8,921.8 1481.7,921.9 1483.5,921.8 1485.4,922 1487.3,922 1489.2,922.4 1491,922.7 1492.9,922.9 1494.8,923 1496.6,923.4 1498.5,924.1 1500.4,924 1502.2,924.2 1504.1,924.2 1506,924.2 1507.8,924.6 1509.7,924.7 1511.6,924.7 1513.5,925 1515.3,925.1 1517.2,925.4 1519.1,925.6 1520.9,926 1522.8,926.3 1524.7,926.4 1526.5,926.7 1528.4,927 1530.3,927 1532.1,927.4 1534,927.5 1535.9,927.6 1537.8,927.9 1539.6,928.1 1541.5,928.2 1543.4,928.6 1545.2,929.2 1547.1,929 1549,929.2 1550.8,929.1 1552.7,928.9 1554.6,929.1 1556.4,929.1 1558.3,929.1 1560.2,929.2 1562.1,929.4 1563.9,929.4 1565.8,929.6 1567.7,929.6 1569.5,929.6 1571.4,929.6 1573.3,929.9 1575.1,929.8 1577,930 1578.9,930.1 1580.8,930.2 1582.6,930.4 1584.5,930.4 1586.4,930.4 1588.2,930.6 1590.1,930.6 1592,930.9 1593.8,931 1595.7,931.1 1597.6,931.2 1599.4,931.5 1601.3,931.6 1603.2,931.9 1605.1,931.5 1606.9,931.9 1608.8,931.9 1610.7,931.7 1612.5,931.8 1614.4,931.9 1616.3,932.1 1618.1,932.1 1620,932.3 1621.9,932.4 1623.7,932.6 1625.6,932.9 1627.5,933 1629.4,933 1631.2,932.8 1633.1,932.9 1635,933.1 1636.8,933.2 1638.7,933.3 1640.6,933.4 1642.4,933.7 1644.3,933.5 1646.2,933.8 1648,934 1649.9,934.2 1651.8,934.1 1653.7,934.3 1655.5,934.2 1657.4,934.4 1659.3,934.6 1661.1,934.7 1663,934.6 1664.9,934.5 1666.7,934.7 1668.6,934.9 1670.5,935.1 1672.3,935.3 1674.2,935.1 1676.1,935.3 1678,935.2 1679.8,935.4 1681.7,935.7 1683.6,935.7 1685.4,935.7 1687.3,935.6 1689.2,936 1691,936 1692.9,936.1 1694.8,936.1 1696.6,936.2 1698.5,936.3 1700.4,936.3 1702.3,936 1704.1,936.4 1706,936.7 1707.9,936.6 1709.7,937 1711.6,937.3 1713.5,937.2 1715.3,937.2 1717.2,937.1 1719.1,937.2 1721,937.2 1722.8,937.4 1724.7,937.5 1726.6,937.5 1728.4,937.7 1730.3,937.6 1732.2,937.8 1734,937.8 1735.9,937.9 1737.8,938 1739.6,938.3 1741.5,938.4 1743.4,938.3 1745.3,938.5 1747.1,938.3 1749,938.5 1750.9,938.5 1752.7,938.7 1754.6,938.6 1756.5,938.9 1758.3,938.8 1760.2,939.1 1762.1,938.5 1763.9,938.5 1765.8,938.7 1767.7,938.8 1769.6,939.2 1771.4,939.2 1773.3,939.5 1775.2,939.2 1777,939.2 1778.9,939.6 1780.8,939.6 1782.6,939.6 1784.5,939.8 1786.4,939.8 1788.2,939.6 1790.1,939.8 1792,940.2 1793.9,940.5 1795.7,940.7 1797.6,940.3 1799.5,940.3 1801.3,940.5 1803.2,940.3 1805.1,940.7 1806.9,940.7 1808.8,940.9 1810.7,940.6 1812.5,940.9 1814.4,940.8 1816.3,940.7 1818.2,940.5 1820,940.7 1821.9,941 1823.8,940.9 1825.6,940.9 1827.5,941.4 1829.4,941.3 1831.2,941.1 1833.1,941.1 1835,941.3 1836.8,941.5 1838.7,941.3 1840.6,941.4 1842.5,941.7 1844.3,941.4 1846.2,942 1848.1,942 1849.9,941.9 1851.8,942.2 1853.7,942.5 1855.5,942.1 1857.4,942.3 1859.3,942.3 1861.2,942.3 1863,942.4 1864.9,942.4 1866.8,942.3 1868.6,942.8 1870.5,942.8 1872.4,942.9 1874.2,942.6 1876.1,942.6 1878,942.7 1879.8,942.9 1881.7,943.2 1883.6,943.1 1885.5,943.2 1887.3,943.1 1889.2,943.1 1891.1,943 1892.9,943.2 1894.8,943.2 1896.7,943.8 1898.5,943.7 1900.4,943.7 1902.3,943.8 1904.1,943.9 1906,943.8 1907.9,943.8 1909.8,943.7 1911.6,943.8 1913.5,943.8 1915.4,943.8 1917.2,943.7 1919.1,944" fill="none" stroke="#D3352D" stroke-width="7.3" stroke-linejoin="round" stroke-linecap="round"/>
<polyline points="1360.2,916.4 1365.8,905.9 1371.4,902.4 1377,903.5 1382.6,904.5 1388.2,906 1393.8,906.9 1399.4,908.4 1405,909.4 1410.6,910.2 1416.2,911 1421.9,912 1427.5,913.3 1433.1,914.2 1438.7,915.5 1444.3,916.3 1449.9,917.7 1455.5,918.2 1461.1,918.8 1466.7,919.6 1472.3,919.7 1477.9,920.7 1483.5,920.9 1489.2,921.5 1494.8,922.2 1500.4,923.2 1506,923.4 1511.6,923.9 1517.2,924.5 1522.8,925.4 1528.4,926.2 1534,926.6 1539.6,927.3 1545.2,928.3 1550.8,928.2 1556.4,928.3 1562.1,928.6 1567.7,928.7 1573.3,929 1578.9,929.2 1584.5,929.5 1590.1,929.7 1595.7,930.3 1601.3,930.7 1606.9,931 1612.5,931 1618.1,931.2 1623.7,931.8 1629.4,932.1 1635,932.3 1640.6,932.5 1646.2,932.9 1651.8,933.2 1657.4,933.6 1663,933.8 1668.6,934.1 1674.2,934.2 1679.8,934.5 1685.4,934.8 1691,935.2 1696.6,935.3 1702.3,935.2 1707.9,935.8 1713.5,936.3 1719.1,936.3 1724.7,936.6 1730.3,936.8 1735.9,937.1 1741.5,937.5 1747.1,937.4 1752.7,937.9 1758.3,937.9 1763.9,937.6 1769.6,938.3 1775.2,938.4 1780.8,938.7 1786.4,939 1792,939.3 1797.6,939.4 1803.2,939.4 1808.8,940 1814.4,939.9 1820,939.9 1825.6,940 1831.2,940.2 1836.8,940.7 1842.5,940.8 1848.1,941.1 1853.7,941.6 1859.3,941.4 1864.9,941.6 1870.5,941.9 1876.1,941.7 1881.7,942.3 1887.3,942.2 1892.9,942.4 1898.5,942.9 1904.1,943 1909.8,942.8 1915.4,942.9" fill="none" stroke="#fff" stroke-opacity="0.32" stroke-width="3.1" stroke-dasharray="0.9 1.0"/>
<path d="M1360.2 1013.6L1362 1000.8L1363.9 974.1L1365.8 947.3" stroke="#F07F23" stroke-width="1.5" fill="none"/>
<circle cx="1360.2" cy="1013.6" r="3.6" fill="#F07F23"/>
<circle cx="1362" cy="1000.8" r="3.6" fill="#F07F23"/>
<circle cx="1363.9" cy="974.1" r="3.6" fill="#F07F23"/>
<polyline points="1365.8,947.3 1367.6,942.1 1369.5,936.9 1371.4,935.5 1373.3,933.8 1375.1,932.4 1377,931.3 1378.9,930.9 1380.7,930.7 1382.6,930.7 1384.5,930.2 1386.3,929.4 1388.2,929.3 1390.1,928.9 1391.9,928.8 1393.8,928.5 1395.7,928.1 1397.6,928.4 1399.4,928.5 1401.3,928.8 1403.2,928.9 1405,929.2 1406.9,929.3 1408.8,929.4 1410.6,929.9 1412.5,930.1 1414.4,930.4 1416.2,930.9 1418.1,931.8 1420,932.4 1421.9,933 1423.7,933.8 1425.6,934.4 1427.5,934.9 1429.3,935.7 1431.2,936.5 1433.1,937.1 1434.9,938.3 1436.8,939.2 1438.7,940 1440.6,941.3 1442.4,942.3 1444.3,943.1 1446.2,944 1448,945.2 1449.9,946 1451.8,947.2 1453.6,948.3 1455.5,949 1457.4,950.4 1459.2,952 1461.1,952.8 1463,954.3 1464.9,955.2 1466.7,956.3 1468.6,957.1 1470.5,958.1 1472.3,958.9 1474.2,959.9 1476.1,960.7 1477.9,961.6 1479.8,962.3 1481.7,963.4 1483.5,964.1 1485.4,964.9 1487.3,966 1489.2,966.6 1491,967.4 1492.9,968.1 1494.8,968.8 1496.6,969.3 1498.5,970.1 1500.4,970.9 1502.2,971.9 1504.1,972.5 1506,973.1 1507.8,973.6 1509.7,973.9 1511.6,974.3 1513.5,975 1515.3,975.5 1517.2,975.9 1519.1,976.2 1520.9,976.2 1522.8,977 1524.7,977.5 1526.5,977.9 1528.4,978.7 1530.3,978.7 1532.1,979 1534,979.6 1535.9,980.1 1537.8,980.3 1539.6,980.9 1541.5,981.4 1543.4,981.7 1545.2,981.8" fill="none" stroke="#F07F23" stroke-width="7.3" stroke-linejoin="round" stroke-linecap="round"/>
<polyline points="1365.8,946.5 1371.4,934.6 1377,930.4 1382.6,929.8 1388.2,928.5 1393.8,927.7 1399.4,927.6 1405,928.3 1410.6,929 1416.2,930.1 1421.9,932.2 1427.5,934 1433.1,936.3 1438.7,939.1 1444.3,942.2 1449.9,945.2 1455.5,948.1 1461.1,951.9 1466.7,955.5 1472.3,958 1477.9,960.7 1483.5,963.2 1489.2,965.8 1494.8,967.9 1500.4,970 1506,972.2 1511.6,973.4 1517.2,975 1522.8,976.1 1528.4,977.8 1534,978.7 1539.6,980 1545.2,981" fill="none" stroke="#fff" stroke-opacity="0.32" stroke-width="3.1" stroke-dasharray="0.9 1.0"/>
<polyline points="1360.2,921.5 1362,928 1363.9,932 1365.8,936.1 1367.6,939.3 1369.5,942.8 1371.4,945.8 1373.3,948.2 1375.1,950.7 1377,952.8 1378.9,954.2 1380.7,955.3 1382.6,956.4 1384.5,957.7 1386.3,959.1 1388.2,959.9 1390.1,961.1 1391.9,962 1393.8,963 1395.7,963.7 1397.6,964.7 1399.4,965.4 1401.3,966.4 1403.2,967.6 1405,968.5 1406.9,969.5 1408.8,969.5 1410.6,970.3 1412.5,970.6 1414.4,971 1416.2,971.9 1418.1,972.6 1420,973.3 1421.9,973.7 1423.7,974.5 1425.6,975.2 1427.5,975.7 1429.3,976.1 1431.2,976.6 1433.1,977.1 1434.9,977.5 1436.8,977.8 1438.7,978.2 1440.6,978.9 1442.4,979.4 1444.3,979.9 1446.2,980.4 1448,980.6 1449.9,981.1 1451.8,981.6 1453.6,982.7 1455.5,983.9 1457.4,985.3 1459.2,985.8 1461.1,986.3 1463,986.6 1464.9,987.2 1466.7,987.7 1468.6,988.2 1470.5,989 1472.3,989.5 1474.2,990 1476.1,990.8 1477.9,991.2 1479.8,991.6 1481.7,992 1483.5,992.5 1485.4,993.1 1487.3,993.9 1489.2,994.4 1491,994.9 1492.9,995.4 1494.8,996.2 1496.6,996.7 1498.5,997.6 1500.4,998.1 1502.2,998.9 1504.1,999.6 1506,1000.1 1507.8,1000.8 1509.7,1001.1 1511.6,1001.8 1513.5,1002.4 1515.3,1002.9 1517.2,1003.7 1519.1,1003.8 1520.9,1004.1 1522.8,1004.7 1524.7,1005.5 1526.5,1005.9 1528.4,1006.2 1530.3,1006.8 1532.1,1007.1 1534,1007.4 1535.9,1008.3 1537.8,1008.6 1539.6,1009 1541.5,1009.2 1543.4,1009.7 1545.2,1010.2" fill="none" stroke="#8C8C8C" stroke-width="7.3" stroke-linejoin="round" stroke-linecap="round"/>
<polyline points="1360.2,920.6 1365.8,935.2 1371.4,945 1377,951.9 1382.6,955.5 1388.2,959.1 1393.8,962.1 1399.4,964.5 1405,967.6 1410.6,969.4 1416.2,971 1421.9,972.9 1427.5,974.8 1433.1,976.2 1438.7,977.3 1444.3,979 1449.9,980.3 1455.5,983 1461.1,985.4 1466.7,986.8 1472.3,988.6 1477.9,990.4 1483.5,991.6 1489.2,993.5 1494.8,995.3 1500.4,997.2 1506,999.2 1511.6,1000.9 1517.2,1002.8 1522.8,1003.8 1528.4,1005.3 1534,1006.5 1539.6,1008.1 1545.2,1009.3" fill="none" stroke="#fff" stroke-opacity="0.32" stroke-width="3.1" stroke-dasharray="0.9 1.0"/>
<path d="M1360.2 1009.1L1362 909.7" stroke="#5BC0DA" stroke-width="1.5" fill="none"/>
<circle cx="1360.2" cy="1009.1" r="3.6" fill="#5BC0DA"/>
<polyline points="1362,909.7 1363.9,912 1365.8,914.2 1367.6,915.6 1369.5,916.7 1371.4,917.8 1373.3,919.3 1375.1,920.7 1377,922.2 1378.9,923.5 1380.7,924.6 1382.6,925.7 1384.5,927 1386.3,928.2 1388.2,929.2 1390.1,930.3 1391.9,931.1 1393.8,932.3 1395.7,933.5 1397.6,934.1 1399.4,934.4 1401.3,935.3 1403.2,935.8 1405,936.5 1406.9,937 1408.8,937.4 1410.6,937.8 1412.5,938.4 1414.4,939.3 1416.2,939.4 1418.1,939.9 1420,940.4 1421.9,940.5 1423.7,941.1 1425.6,941.5 1427.5,941.7 1429.3,942.1 1431.2,942.4 1433.1,943 1434.9,943.2 1436.8,943.4 1438.7,943.5 1440.6,943.7 1442.4,944.1 1444.3,944.6 1446.2,944.9 1448,945.1 1449.9,945.7 1451.8,945.8 1453.6,945.8 1455.5,946.1 1457.4,946.3 1459.2,946.5 1461.1,946.9 1463,947.2 1464.9,947.8 1466.7,947.9 1468.6,948 1470.5,948.6 1472.3,948.8 1474.2,948.8 1476.1,949 1477.9,949.1 1479.8,949 1481.7,949.2 1483.5,949.3 1485.4,949.4 1487.3,949.8 1489.2,949.9 1491,950 1492.9,949.9 1494.8,950.5 1496.6,950.6 1498.5,951 1500.4,950.7 1502.2,951.1 1504.1,951.1 1506,951.5 1507.8,951.7 1509.7,951.7 1511.6,951.9 1513.5,952.1 1515.3,952.2 1517.2,952.4 1519.1,952.8 1520.9,952.7 1522.8,952.4 1524.7,952.9 1526.5,952.9 1528.4,952.5 1530.3,953 1532.1,953 1534,953.1 1535.9,953.5 1537.8,951.8 1539.6,952.5 1541.5,953.1 1543.4,953.4 1545.2,953.7" fill="none" stroke="#5BC0DA" stroke-width="7.3" stroke-linejoin="round" stroke-linecap="round"/>
<polyline points="1362,908.8 1367.6,914.7 1373.3,918.5 1378.9,922.6 1384.5,926.1 1390.1,929.4 1395.7,932.6 1401.3,934.4 1406.9,936.1 1412.5,937.5 1418.1,939 1423.7,940.2 1429.3,941.3 1434.9,942.3 1440.6,942.8 1446.2,944 1451.8,944.9 1457.4,945.4 1463,946.3 1468.6,947.1 1474.2,947.9 1479.8,948.2 1485.4,948.5 1491,949.1 1496.6,949.7 1502.2,950.2 1507.8,950.8 1513.5,951.2 1519.1,951.9 1524.7,952.1 1530.3,952.1 1535.9,952.6 1541.5,952.2" fill="none" stroke="#fff" stroke-opacity="0.32" stroke-width="3.1" stroke-dasharray="0.9 1.0"/>
<rect x="1358.3" y="800" width="560.8" height="266.8" fill="none" stroke="#000" stroke-width="3"/>
<path d="M1358.3 1066.8L1358.3 1074.8M1545.2 1066.8L1545.2 1074.8M1732.2 1066.8L1732.2 1074.8M1919.1 1066.8L1919.1 1074.8" stroke="#000" stroke-width="3" fill="none"/>
<path d="M1451.8 1066.8L1451.8 1071.3M1638.7 1066.8L1638.7 1071.3M1825.6 1066.8L1825.6 1071.3" stroke="#000" stroke-width="2.4" fill="none"/>
<text x="1358.3" y="1096.8" font-size="19.6" text-anchor="middle">0</text>
<text x="1545.2" y="1096.8" font-size="19.6" text-anchor="middle">100</text>
<text x="1732.2" y="1096.8" font-size="19.6" text-anchor="middle">200</text>
<text x="1919.1" y="1096.8" font-size="19.6" text-anchor="middle">300</text>
<path d="M1358.3 1066.8L1350.3 1066.8M1358.3 1013.4L1350.3 1013.4M1358.3 960.1L1350.3 960.1M1358.3 906.7L1350.3 906.7M1358.3 853.4L1350.3 853.4M1358.3 800L1350.3 800" stroke="#000" stroke-width="3" fill="none"/>
<path d="M1358.3 1040.1L1353.8 1040.1M1358.3 986.8L1353.8 986.8M1358.3 933.4L1353.8 933.4M1358.3 880L1353.8 880M1358.3 826.7L1353.8 826.7" stroke="#000" stroke-width="2.4" fill="none"/>
<text x="1346.8" y="1073.8" font-size="19.6" text-anchor="end">50</text>
<text x="1346.8" y="1020.5" font-size="19.6" text-anchor="end">100</text>
<text x="1346.8" y="967.1" font-size="19.6" text-anchor="end">150</text>
<text x="1346.8" y="913.7" font-size="19.6" text-anchor="end">200</text>
<text x="1346.8" y="860.4" font-size="19.6" text-anchor="end">250</text>
<text x="1346.8" y="807" font-size="19.6" text-anchor="end">300</text>
<path d="M1919.1 800.3L1927.1 800.3M1919.1 836.2L1927.1 836.2M1919.1 871L1927.1 871M1919.1 905.8L1927.1 905.8M1919.1 940.6L1927.1 940.6M1919.1 975.4L1927.1 975.4M1919.1 1032.6L1927.1 1032.6M1919.1 1066.8L1927.1 1066.8" stroke="#000" stroke-width="3" fill="none"/>
<path d="M1919.1 818.8L1923.6 818.8M1919.1 853.6L1923.6 853.6M1919.1 888.4L1923.6 888.4M1919.1 923.2L1923.6 923.2M1919.1 958L1923.6 958M1919.1 992.8L1923.6 992.8M1919.1 1050.4L1923.6 1050.4" stroke="#000" stroke-width="2.4" fill="none"/>
<text x="1932.1" y="807.3" font-size="19.6">102</text>
<text x="1932.1" y="843.2" font-size="19.6">100</text>
<text x="1932.1" y="878" font-size="19.6">98</text>
<text x="1932.1" y="912.8" font-size="19.6">96</text>
<text x="1932.1" y="947.6" font-size="19.6">94</text>
<text x="1932.1" y="982.4" font-size="19.6">92</text>
<text x="1932.1" y="1039.6" font-size="19.6">74</text>
<text x="1932.1" y="1073.8" font-size="19.6">72</text>
<path d="M1911.1 1011.1L1927.1 1001.9" stroke="#000" stroke-width="2.8"/>
<path d="M1911.1 1017.3L1927.1 1008.1" stroke="#000" stroke-width="2.8"/>
<text x="1639.3" y="1121.6" font-size="22.5" text-anchor="middle">Cycle number</text>
<text x="1308.3" y="944.6" font-size="22.3" text-anchor="middle" transform="rotate(-90 1308.3 944.6)" textLength="279">Specific capacity (mAh g<tspan dy="-0.62em" font-size="62%">−1</tspan><tspan dy="0.385em">)</tspan></text>
<text x="1988.2" y="942.3" font-size="22.9" text-anchor="middle" transform="rotate(-90 1988.2 942.3)">Coulombic Efficiency (%)</text>
<path d="M1412.8 982.6V1007.8H1389.4" fill="none" stroke="#000" stroke-width="2.8" stroke-linecap="butt" stroke-linejoin="miter"/>
<path d="M1381.7 1007.8L1392.7 1003.2L1392.7 1012.4Z" fill="#000"/>
<path d="M1880.2 852.7V878H1905.1" fill="none" stroke="#000" stroke-width="2.8" stroke-linecap="butt" stroke-linejoin="miter"/>
<path d="M1912.8 878L1901.8 873.4L1901.8 882.6Z" fill="#000"/>
<path d="M1557.3 965.1H1566.8M1574.8 965.1H1584.3" stroke="#2F4D86" stroke-width="1.3"/>
<circle cx="1570.8" cy="965.1" r="4" fill="url(#bg2F4D86)"/>
<text x="1588.3" y="971.1" font-size="19.1">P(DOA)</text>
<path d="M1557.3 989.2H1566.8M1574.8 989.2H1584.3" stroke="#2790A7" stroke-width="1.3"/>
<circle cx="1570.8" cy="989.2" r="4" fill="url(#bg2790A7)"/>
<text x="1588.3" y="995.2" font-size="19.1">P(AEEO)</text>
<path d="M1557.3 1013H1566.8M1574.8 1013H1584.3" stroke="#8FBFDE" stroke-width="1.3"/>
<circle cx="1570.8" cy="1013" r="4" fill="url(#bg8FBFDE)"/>
<text x="1588.3" y="1019" font-size="19.1">P(DOA–PCEA)</text>
<path d="M1557.3 1036.3H1566.8M1574.8 1036.3H1584.3" stroke="#D3352D" stroke-width="1.3"/>
<circle cx="1570.8" cy="1036.3" r="4" fill="url(#bgD3352D)"/>
<text x="1588.3" y="1042.3" font-size="19.1">P(AAEO)</text>
<path d="M1557.3 1059.7H1566.8M1574.8 1059.7H1584.3" stroke="#8C8C8C" stroke-width="1.3"/>
<circle cx="1570.8" cy="1059.7" r="4" fill="url(#bg8C8C8C)"/>
<text x="1588.3" y="1065.7" font-size="19.1">P(VEC)</text>
<path d="M1755.4 965.1H1764.9M1772.9 965.1H1782.4" stroke="#A63A2C" stroke-width="1.3"/>
<circle cx="1768.9" cy="965.1" r="4" fill="url(#bgA63A2C)"/>
<text x="1787.4" y="971.1" font-size="19.1">P(PCEA)</text>
<path d="M1755.4 989.2H1764.9M1772.9 989.2H1782.4" stroke="#FBD88C" stroke-width="1.3"/>
<circle cx="1768.9" cy="989.2" r="4" fill="url(#bgFBD88C)"/>
<text x="1787.4" y="995.2" font-size="19.1">P(DOA–AEEO)</text>
<path d="M1755.4 1013H1764.9M1772.9 1013H1782.4" stroke="#3E6EB6" stroke-width="1.3"/>
<circle cx="1768.9" cy="1013" r="4" fill="url(#bg3E6EB6)"/>
<text x="1787.4" y="1019" font-size="19.1">P(AAPC)</text>
<path d="M1755.4 1036.3H1764.9M1772.9 1036.3H1782.4" stroke="#F07F23" stroke-width="1.3"/>
<circle cx="1768.9" cy="1036.3" r="4" fill="url(#bgF07F23)"/>
<text x="1787.4" y="1042.3" font-size="19.1">P(PEGMA)</text>
<path d="M1755.4 1059.7H1764.9M1772.9 1059.7H1782.4" stroke="#5BC0DA" stroke-width="1.3"/>
<circle cx="1768.9" cy="1059.7" r="4" fill="url(#bg5BC0DA)"/>
<text x="1787.4" y="1065.7" font-size="19.1">P(VC)</text>
<path d="M153.7 1305.2C153.8 1304 153.9 1299.8 154.4 1297.8C155 1295.8 155.2 1294.5 156.8 1293.4C158.4 1292.4 160.3 1292.4 164.1 1291.6C167.9 1290.7 172.8 1290.3 179.8 1288.4C186.7 1286.6 197.1 1283.6 205.8 1280.4C214.5 1277.1 223.2 1273.2 231.9 1269.1C240.5 1265.1 249.2 1260.4 257.9 1256.1C266.6 1251.7 277 1246.9 284 1243C290.9 1239.1 295.3 1235.5 299.6 1232.4C303.9 1229.3 307.1 1226.7 310 1224.3C313 1221.9 316.1 1219.1 317.3 1218.1" fill="none" stroke="#D3352D" stroke-width="2.8" stroke-linejoin="round" stroke-linecap="butt"/>
<path d="M153.7 1245.5C155.9 1246.7 162.4 1250.3 166.8 1253C171.2 1255.7 173.3 1258.1 179.9 1261.7C186.4 1265.2 197.3 1269.9 206.1 1274.1C214.8 1278.4 223.5 1283.4 232.2 1287.2C241 1291 250.8 1294.3 258.4 1297.2C266.1 1300 273.7 1302.6 278 1304.2C282.4 1305.8 282.3 1305.7 284.8 1306.9C287.3 1308.1 290.5 1309.6 292.9 1311.2C295.3 1312.9 297.3 1314.5 299.2 1316.9C301.1 1319.2 302.7 1321.8 304.2 1325.3C305.7 1328.8 307.1 1333.1 308.2 1337.9C309.4 1342.7 310.4 1348.1 311.4 1354.1C312.3 1360.2 313.1 1367.2 313.9 1374C314.6 1380.7 315.2 1387.5 315.8 1394.7C316.3 1401.9 317.1 1413.5 317.3 1417.3" fill="none" stroke="#D3352D" stroke-width="2.8" stroke-linejoin="round" stroke-linecap="butt"/>
<path d="M153.7 1305.2C153.8 1304.2 153.9 1300.7 154.4 1299C155 1297.4 155.2 1296.2 156.8 1295.3C158.4 1294.4 160.3 1294.1 164.1 1293.4C167.9 1292.7 172.8 1292.5 179.8 1290.9C186.7 1289.4 197.1 1286.7 205.8 1284.1C214.5 1281.5 223.2 1278.9 231.9 1275.4C240.5 1271.8 249.2 1267.1 257.9 1262.9C266.6 1258.8 275.3 1254.8 284 1250.5C292.7 1246.1 303.1 1240.9 310 1236.8C317 1232.6 321 1228.7 325.7 1225.6C330.3 1222.5 336.1 1219.3 338.2 1218.1" fill="none" stroke="#3E6EB6" stroke-width="2.8" stroke-linejoin="round" stroke-linecap="butt"/>
<path d="M153.7 1243C154.6 1243.1 157.4 1243.3 159.2 1243.6C161.1 1243.9 161.4 1243.5 164.8 1244.9C168.1 1246.2 172.8 1248.6 179.5 1251.7C186.3 1254.8 196.7 1259.5 205.3 1263.5C214 1267.6 222.6 1271.7 231.2 1276C239.8 1280.2 248.4 1285.5 257 1289.1C265.6 1292.6 276.6 1295.2 282.8 1297.2C289.1 1299.2 290.6 1299.8 294.4 1301.2C298.2 1302.5 302.4 1304 305.6 1305.5C308.9 1306.9 311.4 1308.2 313.8 1309.9C316.2 1311.5 318.2 1313.2 320 1315.6C321.9 1318 323.5 1320.6 325 1324.2C326.5 1327.7 327.9 1332 329.1 1336.9C330.3 1341.8 331.3 1347.3 332.2 1353.4C333.2 1359.4 334 1366.6 334.7 1373.4C335.4 1380.3 336 1387.1 336.6 1394.4C337.2 1401.8 337.9 1413.5 338.2 1417.3" fill="none" stroke="#3E6EB6" stroke-width="2.8" stroke-linejoin="round" stroke-linecap="butt"/>
<rect x="153.7" y="1193.2" width="309.1" height="249" fill="none" stroke="#000" stroke-width="3"/>
<path d="M153.7 1442.2L153.7 1447.9M205.8 1442.2L205.8 1447.9M257.9 1442.2L257.9 1447.9M310 1442.2L310 1447.9M362.1 1442.2L362.1 1447.9M414.2 1442.2L414.2 1447.9" stroke="#000" stroke-width="2.4" fill="none"/>
<path d="M179.8 1442.2L179.8 1445.5M231.9 1442.2L231.9 1445.5M284 1442.2L284 1445.5M336.1 1442.2L336.1 1445.5M388.2 1442.2L388.2 1445.5M440.3 1442.2L440.3 1445.5" stroke="#000" stroke-width="1.7" fill="none"/>
<text x="153.7" y="1467.2" font-size="19.6" text-anchor="middle">0</text>
<text x="205.8" y="1467.2" font-size="19.6" text-anchor="middle">50</text>
<text x="257.9" y="1467.2" font-size="19.6" text-anchor="middle">100</text>
<text x="310" y="1467.2" font-size="19.6" text-anchor="middle">150</text>
<text x="362.1" y="1467.2" font-size="19.6" text-anchor="middle">200</text>
<text x="414.2" y="1467.2" font-size="19.6" text-anchor="middle">250</text>
<path d="M153.7 1442.2L148 1442.2M153.7 1380L148 1380M153.7 1317.7L148 1317.7M153.7 1255.5L148 1255.5M153.7 1193.2L148 1193.2" stroke="#000" stroke-width="2.4" fill="none"/>
<path d="M153.7 1411.1L150.4 1411.1M153.7 1348.8L150.4 1348.8M153.7 1286.6L150.4 1286.6M153.7 1224.3L150.4 1224.3" stroke="#000" stroke-width="1.7" fill="none"/>
<text x="145.2" y="1449.2" font-size="19.6" text-anchor="end">2.5</text>
<text x="145.2" y="1387" font-size="19.6" text-anchor="end">3.0</text>
<text x="145.2" y="1324.7" font-size="19.6" text-anchor="end">3.5</text>
<text x="145.2" y="1262.5" font-size="19.6" text-anchor="end">4.0</text>
<text x="145.2" y="1200.2" font-size="19.6" text-anchor="end">4.5</text>
<text x="308.2" y="1488.4" font-size="22.3" text-anchor="middle">Specific capacity (mAh g<tspan dy="-0.62em" font-size="62%">−1</tspan><tspan dy="0.385em">)</tspan></text>
<text x="111" y="1318.8" font-size="22.2" text-anchor="middle" transform="rotate(-90 111 1318.8)">Voltage (V)</text>
<text x="156.4" y="1213" font-size="20.6">P(DOA) Freezing treatment</text>
<path d="M360.8 1401.7H397.7" stroke="#D3352D" stroke-width="3.2"/>
<text x="403" y="1407.8" font-size="18.8">Before</text>
<path d="M360.8 1425.5H397.7" stroke="#3E6EB6" stroke-width="3.2"/>
<text x="403" y="1431.6" font-size="18.8">After</text>
<path d="M552.7 1305.2C552.8 1304 552.9 1299.8 553.4 1297.8C553.9 1295.8 554.2 1294.5 555.8 1293.4C557.4 1292.4 559.2 1292.4 563 1291.6C566.8 1290.7 571.6 1290.3 578.4 1288.4C585.3 1286.6 595.6 1283.6 604.2 1280.4C612.7 1277.1 621.3 1273.2 629.9 1269.1C638.5 1265.1 647.1 1260.4 655.6 1256.1C664.2 1251.7 674.5 1246.9 681.4 1243C688.2 1239.1 692.5 1235.5 696.8 1232.4C701.1 1229.3 704.2 1226.7 707.1 1224.3C710 1221.9 713.1 1219.1 714.3 1218.1" fill="none" stroke="#D3352D" stroke-width="2.8" stroke-linejoin="round" stroke-linecap="butt"/>
<path d="M552.7 1245.5C554.8 1246.7 561.3 1250.3 565.5 1253C569.8 1255.7 572 1258.1 578.4 1261.7C584.8 1265.2 595.5 1269.9 604.1 1274.1C612.6 1278.4 621.2 1283.4 629.8 1287.2C638.3 1291 648 1294.3 655.5 1297.2C662.9 1300 670.5 1302.6 674.7 1304.2C678.9 1305.8 678.4 1305.6 680.7 1306.7C683.1 1307.8 686.5 1309.4 688.9 1311C691.3 1312.7 693.2 1314.4 695.1 1316.7C697 1319.1 698.6 1321.7 700.1 1325.2C701.6 1328.7 703 1333 704.2 1337.8C705.4 1342.7 706.4 1348.1 707.3 1354.1C708.3 1360.1 709.1 1367.2 709.8 1373.9C710.5 1380.7 711.1 1387.5 711.7 1394.7C712.3 1401.9 713 1413.5 713.3 1417.3" fill="none" stroke="#D3352D" stroke-width="2.8" stroke-linejoin="round" stroke-linecap="butt"/>
<path d="M552.7 1305.2C552.8 1304.2 552.9 1300.7 553.4 1299C553.9 1297.4 554.1 1296.2 555.7 1295.3C557.2 1294.4 559 1294.1 562.7 1293.4C566.3 1292.7 570.9 1292.5 577.6 1290.9C584.2 1289.4 594.2 1286.7 602.5 1284.1C610.8 1281.5 619.1 1278.9 627.4 1275.4C635.7 1271.8 643.9 1267.1 652.2 1262.9C660.5 1258.8 668.8 1254.8 677.1 1250.5C685.4 1246.1 695.4 1240.9 702 1236.8C708.7 1232.6 712.5 1228.7 716.9 1225.6C721.4 1222.5 726.9 1219.3 728.9 1218.1" fill="none" stroke="#3E6EB6" stroke-width="2.8" stroke-linejoin="round" stroke-linecap="butt"/>
<path d="M552.7 1243C553.6 1243.1 556.2 1243.3 558 1243.6C559.7 1243.9 560 1243.5 563.2 1244.9C566.4 1246.2 570.8 1248.6 577.2 1251.7C583.6 1254.8 593.6 1259.5 601.7 1263.5C609.9 1267.6 618.1 1271.7 626.3 1276C634.4 1280.2 642.6 1285.5 650.8 1289.1C659 1292.6 669.8 1295.3 675.3 1297.2C680.9 1299.1 680.7 1299.1 684.1 1300.4C687.4 1301.6 692.1 1303.4 695.3 1304.9C698.6 1306.4 701.1 1307.7 703.5 1309.4C705.9 1311.1 707.8 1312.8 709.7 1315.2C711.6 1317.7 713.2 1320.3 714.7 1323.9C716.2 1327.5 717.6 1331.8 718.8 1336.7C720 1341.6 721 1347.1 721.9 1353.2C722.8 1359.3 723.7 1366.5 724.4 1373.4C725.1 1380.2 725.7 1387.1 726.3 1394.4C726.9 1401.7 727.6 1413.5 727.9 1417.3" fill="none" stroke="#3E6EB6" stroke-width="2.8" stroke-linejoin="round" stroke-linecap="butt"/>
<rect x="552.7" y="1193.2" width="308.6" height="249" fill="none" stroke="#000" stroke-width="3"/>
<path d="M552.7 1442.2L552.7 1447.9M604.8 1442.2L604.8 1447.9M657 1442.2L657 1447.9M709.1 1442.2L709.1 1447.9M761.2 1442.2L761.2 1447.9M813.3 1442.2L813.3 1447.9" stroke="#000" stroke-width="2.4" fill="none"/>
<path d="M578.8 1442.2L578.8 1445.5M630.9 1442.2L630.9 1445.5M683 1442.2L683 1445.5M735.1 1442.2L735.1 1445.5M787.3 1442.2L787.3 1445.5M839.4 1442.2L839.4 1445.5" stroke="#000" stroke-width="1.7" fill="none"/>
<text x="552.7" y="1467.2" font-size="19.6" text-anchor="middle">0</text>
<text x="604.8" y="1467.2" font-size="19.6" text-anchor="middle">50</text>
<text x="657" y="1467.2" font-size="19.6" text-anchor="middle">100</text>
<text x="709.1" y="1467.2" font-size="19.6" text-anchor="middle">150</text>
<text x="761.2" y="1467.2" font-size="19.6" text-anchor="middle">200</text>
<text x="813.3" y="1467.2" font-size="19.6" text-anchor="middle">250</text>
<path d="M552.7 1442.2L547 1442.2M552.7 1380L547 1380M552.7 1317.7L547 1317.7M552.7 1255.5L547 1255.5M552.7 1193.2L547 1193.2" stroke="#000" stroke-width="2.4" fill="none"/>
<path d="M552.7 1411.1L549.4 1411.1M552.7 1348.8L549.4 1348.8M552.7 1286.6L549.4 1286.6M552.7 1224.3L549.4 1224.3" stroke="#000" stroke-width="1.7" fill="none"/>
<text x="544.2" y="1449.2" font-size="19.6" text-anchor="end">2.5</text>
<text x="544.2" y="1387" font-size="19.6" text-anchor="end">3.0</text>
<text x="544.2" y="1324.7" font-size="19.6" text-anchor="end">3.5</text>
<text x="544.2" y="1262.5" font-size="19.6" text-anchor="end">4.0</text>
<text x="544.2" y="1200.2" font-size="19.6" text-anchor="end">4.5</text>
<text x="707" y="1490.7" font-size="22.3" text-anchor="middle">Specific capacity (mAh g<tspan dy="-0.62em" font-size="62%">−1</tspan><tspan dy="0.385em">)</tspan></text>
<text x="510" y="1318.8" font-size="22.2" text-anchor="middle" transform="rotate(-90 510 1318.8)">Voltage (V)</text>
<text x="554.9" y="1214.4" font-size="20.6">P(AEEO) Freezing treatment</text>
<path d="M758.4 1403H795.3" stroke="#D3352D" stroke-width="3.2"/>
<text x="800.7" y="1409.1" font-size="18.8">Before</text>
<path d="M758.4 1427.8H795.3" stroke="#3E6EB6" stroke-width="3.2"/>
<text x="800.7" y="1433.9" font-size="18.8">After</text>
<path d="M983 1432.5L983.4 1220.8M1004.9 1212.1L1005.3 1195.1M1005.3 1195.1L1005.8 1233.3M1005.8 1233.3L1006.2 1208.5M1130.8 1211.9L1131.2 1226.1M1131.2 1226.1L1131.7 1212.6M1191.9 1200.3L1192.4 1227.1M1192.4 1227.1L1192.8 1211.2M1228.4 1211.9L1228.9 1195.1M1228.9 1195.1L1229.3 1234.3M1229.3 1234.3L1229.8 1206.5M1239.8 1211.2L1240.3 1196.1M1240.3 1196.1L1240.7 1235.4M1240.7 1235.4L1241.2 1208.5M1335.6 1210.9L1336.1 1224M1336.1 1224L1336.5 1211" stroke="#3E6EB6" stroke-width="2.4" fill="none"/>
<polyline points="983,1432.5 983.4,1220.8 983.9,1217.9 984.3,1221.8 984.8,1219.2 985.2,1221.8 985.7,1217.1 986.1,1217.4 986.6,1215.7 987.1,1218.1 987.5,1217.1 988,1217.9 988.4,1218.7 988.9,1217.4 989.3,1219.2 989.8,1218.1 990.3,1216.2 990.7,1216.7 991.2,1217.5 991.6,1213.5 992.1,1216 992.5,1217.4 993,1216.5 993.5,1217.3 993.9,1217.2 994.4,1217 994.8,1213.2 995.3,1215.5 995.7,1215.7 996.2,1214.9 996.6,1212.6 997.1,1215.5 997.6,1216.7 998,1212.1 998.5,1217.2 998.9,1216.5 999.4,1214.7 999.8,1211.8 1000.3,1216.1 1000.8,1219.2 1001.2,1215 1001.7,1216 1002.1,1215.9 1002.6,1214.5 1003,1214.6 1003.5,1214.4 1003.9,1215.5 1004.4,1213 1004.9,1212.1 1005.3,1195.1 1005.8,1233.3 1006.2,1208.5 1006.7,1213.7 1007.1,1216 1007.6,1215.5 1008,1213 1008.5,1214.3 1009,1214.9 1009.4,1214.1 1009.9,1214.3 1010.3,1214.3 1010.8,1217.2 1011.2,1212.1 1011.7,1213.4 1012.2,1215.3 1012.6,1212.8 1013.1,1213.3 1013.5,1213.8 1014,1212.3 1014.4,1210 1014.9,1212.2 1015.4,1211 1015.8,1209.9 1016.3,1214.5 1016.7,1214.7 1017.2,1212.7 1017.6,1216.1 1018.1,1214.5 1018.5,1211.7 1019,1211.6 1019.5,1212.2 1019.9,1216.2 1020.4,1210.3 1020.8,1211.9 1021.3,1211.9 1021.7,1212.3 1022.2,1215.8 1022.6,1216 1023.1,1215.7 1023.6,1210.8 1024,1214 1024.5,1213.7 1024.9,1213.7 1025.4,1212.4 1025.8,1212.2 1026.3,1212.5 1026.8,1214.9 1027.2,1218.3 1027.7,1213.8 1028.1,1212.7 1028.6,1211 1029,1212.7 1029.5,1213.8 1030,1212.5 1030.4,1215.2 1030.9,1214.9 1031.3,1214.8 1031.8,1212.8 1032.2,1209.6 1032.7,1211 1033.1,1210.6 1033.6,1212 1034.1,1212.1 1034.5,1213.3 1035,1213.2 1035.4,1216.6 1035.9,1215.3 1036.3,1215.2 1036.8,1211.8 1037.2,1211.4 1037.7,1210.6 1038.2,1209.8 1038.6,1212.5 1039.1,1210.9 1039.5,1209.2 1040,1211.9 1040.4,1210.7 1040.9,1212.4 1041.4,1215 1041.8,1212.8 1042.3,1213.8 1042.7,1212.5 1043.2,1213.2 1043.6,1212.1 1044.1,1215.6 1044.5,1209.8 1045,1209.7 1045.5,1212.4 1045.9,1213.8 1046.4,1212.6 1046.8,1211.3 1047.3,1211.5 1047.7,1211.5 1048.2,1215.2 1048.7,1214.6 1049.1,1210.7 1049.6,1211.6 1050,1214.5 1050.5,1214 1050.9,1214.8 1051.4,1214.3 1051.8,1210.8 1052.3,1212.3 1052.8,1210.4 1053.2,1211.5 1053.7,1214.4 1054.1,1213.6 1054.6,1208.8 1055,1212.7 1055.5,1213.9 1056,1210.5 1056.4,1211.7 1056.9,1212 1057.3,1209.8 1057.8,1214.4 1058.2,1211.9 1058.7,1213.7 1059.2,1214.6 1059.6,1213.9 1060.1,1210.6 1060.5,1212 1061,1214.9 1061.4,1214.4 1061.9,1210.1 1062.3,1210 1062.8,1213.3 1063.3,1208.4 1063.7,1211.9 1064.2,1213.9 1064.6,1212.6 1065.1,1210.6 1065.5,1209.2 1066,1209.8 1066.5,1212.2 1066.9,1212.9 1067.4,1214.5 1067.8,1212.6 1068.3,1213 1068.7,1211.8 1069.2,1213.9 1069.6,1213.1 1070.1,1213.6 1070.6,1214.2 1071,1214.2 1071.5,1214 1071.9,1214.2 1072.4,1211.5 1072.8,1211.7 1073.3,1213.9 1073.8,1211.5 1074.2,1211.3 1074.7,1209.5 1075.1,1211.7 1075.6,1212.2 1076,1213 1076.5,1211.9 1076.9,1211.1 1077.4,1211.4 1077.9,1212.2 1078.3,1211 1078.8,1211.5 1079.2,1211.4 1079.7,1213.2 1080.1,1211.8 1080.6,1213.4 1081,1213.5 1081.5,1211.9 1082,1208.5 1082.4,1209.6 1082.9,1211.4 1083.3,1212 1083.8,1210.3 1084.2,1209.3 1084.7,1209.4 1085.2,1211.6 1085.6,1211.5 1086.1,1212.3 1086.5,1212.3 1087,1213.3 1087.4,1212.5 1087.9,1215.3 1088.3,1214.4 1088.8,1211.6 1089.3,1213.2 1089.7,1211.2 1090.2,1213.7 1090.6,1212.7 1091.1,1211.3 1091.5,1213.3 1092,1213.2 1092.5,1208.1 1092.9,1212.1 1093.4,1212.9 1093.8,1212.9 1094.3,1211.9 1094.7,1211.8 1095.2,1210.2 1095.7,1210.2 1096.1,1212.1 1096.6,1212.4 1097,1214.1 1097.5,1214.6 1097.9,1213.5 1098.4,1210.9 1098.8,1211.4 1099.3,1210.4 1099.8,1210 1100.2,1211.6 1100.7,1208.4 1101.1,1211.9 1101.6,1212.7 1102,1212.6 1102.5,1210.1 1103,1211.6 1103.4,1212.9 1103.9,1211.3 1104.3,1209.8 1104.8,1211.5 1105.2,1212.1 1105.7,1210.1 1106.1,1209.8 1106.6,1209.8 1107.1,1212.5 1107.5,1211.4 1108,1211.1 1108.4,1214.4 1108.9,1210.3 1109.3,1211.3 1109.8,1212.2 1110.2,1208.2 1110.7,1210.8 1111.2,1212.7 1111.6,1212 1112.1,1210.9 1112.5,1210.2 1113,1211.5 1113.4,1213 1113.9,1213.1 1114.4,1213.3 1114.8,1213.7 1115.3,1212.1 1115.7,1212.5 1116.2,1211.8 1116.6,1213 1117.1,1213.3 1117.5,1212.3 1118,1212.4 1118.5,1210 1118.9,1212.8 1119.4,1211.6 1119.8,1211.7 1120.3,1213.8 1120.7,1210.9 1121.2,1211.3 1121.7,1214.9 1122.1,1211.4 1122.6,1210.1 1123,1212.6 1123.5,1209.2 1123.9,1210.9 1124.4,1213.3 1124.8,1211.1 1125.3,1212.1 1125.8,1213.9 1126.2,1215.5 1126.7,1212 1127.1,1212.9 1127.6,1210.9 1128,1210.9 1128.5,1212.3 1129,1212.6 1129.4,1209.1 1129.9,1208.4 1130.3,1209.8 1130.8,1211.9 1131.2,1226.1 1131.7,1212.6 1132.2,1209.2 1132.6,1210.4 1133.1,1211.9 1133.5,1213.6 1134,1211.8 1134.4,1213.1 1134.9,1211.9 1135.3,1210.5 1135.8,1209.7 1136.3,1211.1 1136.7,1212.1 1137.2,1211.4 1137.6,1208.8 1138.1,1210.5 1138.5,1213.6 1139,1209.6 1139.5,1210.8 1139.9,1206 1140.4,1211.3 1140.8,1211.7 1141.3,1212.1 1141.7,1211.2 1142.2,1212.5 1142.6,1214.1 1143.1,1215.2 1143.6,1212.6 1144,1212.6 1144.5,1212.8 1144.9,1208.5 1145.4,1209.8 1145.8,1209.6 1146.3,1212 1146.8,1211.3 1147.2,1211.9 1147.7,1212 1148.1,1210.5 1148.6,1210.5 1149,1210.9 1149.5,1211.3 1149.9,1213.8 1150.4,1213.2 1150.9,1211.4 1151.3,1212.2 1151.8,1213 1152.2,1211.4 1152.7,1213 1153.1,1213 1153.6,1210.5 1154,1212 1154.5,1209.5 1155,1210.4 1155.4,1210.1 1155.9,1209.6 1156.3,1214.6 1156.8,1212.4 1157.2,1213.8 1157.7,1212.8 1158.2,1212 1158.6,1209.8 1159.1,1211.3 1159.5,1209 1160,1211.9 1160.4,1211.8 1160.9,1211.5 1161.3,1210.1 1161.8,1211.4 1162.3,1212.6 1162.7,1212.3 1163.2,1214 1163.6,1210.1 1164.1,1210.2 1164.5,1210.7 1165,1211 1165.5,1212.5 1165.9,1212.4 1166.4,1210.5 1166.8,1212.7 1167.3,1213.1 1167.7,1209.5 1168.2,1208.8 1168.7,1210.6 1169.1,1210.6 1169.6,1211.1 1170,1209.3 1170.5,1211.9 1170.9,1211.6 1171.4,1210.9 1171.8,1209.2 1172.3,1211.5 1172.8,1211.3 1173.2,1212.3 1173.7,1212.8 1174.1,1212.9 1174.6,1211.8 1175,1210.3 1175.5,1212.4 1176,1212.7 1176.4,1212.5 1176.9,1211.3 1177.3,1210.5 1177.8,1213.4 1178.2,1211.4 1178.7,1213.2 1179.1,1210.8 1179.6,1213 1180.1,1213.6 1180.5,1213.1 1181,1212 1181.4,1213.3 1181.9,1211.6 1182.3,1211.4 1182.8,1211.5 1183.2,1211.2 1183.7,1210.2 1184.2,1212.5 1184.6,1211.8 1185.1,1211.7 1185.5,1214.8 1186,1211.7 1186.4,1212.8 1186.9,1213 1187.4,1212.6 1187.8,1211.7 1188.3,1211.1 1188.7,1210.8 1189.2,1212.5 1189.6,1210.7 1190.1,1210.8 1190.5,1212.1 1191,1211.8 1191.5,1208.5 1191.9,1200.3 1192.4,1227.1 1192.8,1211.2 1193.3,1209.8 1193.7,1207.8 1194.2,1210.2 1194.7,1213.8 1195.1,1209.4 1195.6,1212.1 1196,1213.9 1196.5,1215.8 1196.9,1211.8 1197.4,1210 1197.8,1209.7 1198.3,1211.9 1198.8,1209.4 1199.2,1211.3 1199.7,1212.5 1200.1,1211.7 1200.6,1211.3 1201,1211.5 1201.5,1211 1202,1214.9 1202.4,1209.9 1202.9,1212.2 1203.3,1210.7 1203.8,1212.7 1204.2,1211.6 1204.7,1211.9 1205.2,1214.1 1205.6,1211.5 1206.1,1210.6 1206.5,1213.2 1207,1215.2 1207.4,1213.3 1207.9,1213.3 1208.3,1211.8 1208.8,1211.7 1209.3,1209.1 1209.7,1210.1 1210.2,1211.7 1210.6,1211.4 1211.1,1216.1 1211.5,1213.9 1212,1213.5 1212.5,1212.2 1212.9,1211.2 1213.4,1211.2 1213.8,1210.1 1214.3,1212.4 1214.7,1211.3 1215.2,1211.8 1215.6,1211.6 1216.1,1211.1 1216.6,1212 1217,1211.4 1217.5,1211.6 1217.9,1210.1 1218.4,1211.5 1218.8,1211.1 1219.3,1207.5 1219.8,1209.8 1220.2,1210.5 1220.7,1209.7 1221.1,1212.8 1221.6,1210.8 1222,1210.3 1222.5,1210.7 1222.9,1209.9 1223.4,1210.1 1223.9,1209.5 1224.3,1212.2 1224.8,1211.1 1225.2,1212.4 1225.7,1209.9 1226.1,1211.1 1226.6,1213.5 1227,1211.8 1227.5,1213.2 1228,1210.4 1228.4,1211.9 1228.9,1195.1 1229.3,1234.3 1229.8,1206.5 1230.2,1210.9 1230.7,1212.5 1231.2,1210.8 1231.6,1210.6 1232.1,1209.2 1232.5,1209.7 1233,1210.7 1233.4,1212.7 1233.9,1211.4 1234.3,1211.1 1234.8,1211.5 1235.3,1211 1235.7,1213.3 1236.2,1211.1 1236.6,1211.5 1237.1,1211.1 1237.5,1211.7 1238,1212.1 1238.5,1211.3 1238.9,1210.4 1239.4,1211.9 1239.8,1211.2 1240.3,1196.1 1240.7,1235.4 1241.2,1208.5 1241.7,1213.6 1242.1,1210.2 1242.6,1212.7 1243,1211.7 1243.5,1213.7 1243.9,1214.7 1244.4,1211.2 1244.8,1213.7 1245.3,1215.2 1245.8,1212.7 1246.2,1214.2 1246.7,1212.5 1247.1,1209 1247.6,1211.7 1248,1211.1 1248.5,1210.7 1249,1211.1 1249.4,1211.7 1249.9,1209.3 1250.3,1211.3 1250.8,1211 1251.2,1211.3 1251.7,1213.5 1252.1,1211.5 1252.6,1211.5 1253.1,1210.6 1253.5,1210.4 1254,1209 1254.4,1214 1254.9,1213 1255.3,1212.6 1255.8,1213.2 1256.2,1211.3 1256.7,1211.7 1257.2,1211.4 1257.6,1214.1 1258.1,1213.6 1258.5,1212.1 1259,1212.4 1259.4,1212.7 1259.9,1212 1260.4,1212.1 1260.8,1213.4 1261.3,1209.4 1261.7,1212.2 1262.2,1210.8 1262.6,1210.5 1263.1,1209.9 1263.5,1212.2 1264,1213.3 1264.5,1211.3 1264.9,1211.2 1265.4,1215.2 1265.8,1216.3 1266.3,1213.4 1266.7,1212.6 1267.2,1212.2 1267.7,1211.1 1268.1,1213 1268.6,1207.9 1269,1209.5 1269.5,1209.2 1269.9,1210.7 1270.4,1214.6 1270.8,1211.9 1271.3,1212.5 1271.8,1211.1 1272.2,1211.7 1272.7,1210.6 1273.1,1212.8 1273.6,1212.4 1274,1211.8 1274.5,1212.8 1275,1212.6 1275.4,1210.9 1275.9,1208.5 1276.3,1211.3 1276.8,1210.3 1277.2,1213.1 1277.7,1212.6 1278.2,1211.3 1278.6,1210.7 1279.1,1213 1279.5,1211 1280,1211.3 1280.4,1209.6 1280.9,1209.8 1281.3,1210.4 1281.8,1212 1282.3,1211.3 1282.7,1212.9 1283.2,1213.1 1283.6,1214.8 1284.1,1214.2 1284.5,1214.1 1285,1212.3 1285.5,1211.6 1285.9,1213.7 1286.4,1212.2 1286.8,1211.1 1287.3,1210.1 1287.7,1211.5 1288.2,1211.3 1288.6,1212.1 1289.1,1210.3 1289.6,1213.8 1290,1211.7 1290.5,1215.2 1290.9,1209.7 1291.4,1209.8 1291.8,1214.5 1292.3,1213 1292.8,1214.1 1293.2,1214.8 1293.7,1212.9 1294.1,1213.2 1294.6,1210.4 1295,1212.2 1295.5,1213.4 1295.9,1212.1 1296.4,1211.1 1296.9,1210.3 1297.3,1210.6 1297.8,1213.7 1298.2,1213.3 1298.7,1212.3 1299.1,1213.1 1299.6,1210.8 1300,1212 1300.5,1211.8 1301,1212.3 1301.4,1211.7 1301.9,1214 1302.3,1208.9 1302.8,1212 1303.2,1212.8 1303.7,1214.6 1304.2,1212.4 1304.6,1213.9 1305.1,1211.6 1305.5,1209.8 1306,1210.4 1306.4,1212.1 1306.9,1209.8 1307.3,1211.6 1307.8,1211.7 1308.3,1211.6 1308.7,1212.4 1309.2,1211.2 1309.6,1213.4 1310.1,1214.7 1310.5,1210.4 1311,1212.5 1311.5,1212.4 1311.9,1211.3 1312.4,1212.3 1312.8,1213.6 1313.3,1212.3 1313.7,1213.2 1314.2,1211.1 1314.7,1212.2 1315.1,1212.2 1315.6,1210.6 1316,1213.8 1316.5,1214.4 1316.9,1211.1 1317.4,1209.6 1317.8,1211.1 1318.3,1212.6 1318.8,1210 1319.2,1210.5 1319.7,1209.9 1320.1,1214.1 1320.6,1212.3 1321,1213.4 1321.5,1213.7 1322,1211.2 1322.4,1210.5 1322.9,1212.1 1323.3,1212.1 1323.8,1209.7 1324.2,1210.3 1324.7,1211.6 1325.1,1210.9 1325.6,1211.3 1326.1,1213.5 1326.5,1212.8 1327,1211.5 1327.4,1210.7 1327.9,1213.3 1328.3,1213.2 1328.8,1212.9 1329.2,1214.2 1329.7,1210.5 1330.2,1210.7 1330.6,1209.5 1331.1,1214.6 1331.5,1213.5 1332,1209.3 1332.4,1213.3 1332.9,1214.8 1333.4,1211.9 1333.8,1209.3 1334.3,1210.2 1334.7,1212.8 1335.2,1211.1 1335.6,1210.9 1336.1,1224 1336.5,1211 1337,1210.3 1337.5,1209.6 1337.9,1209.2 1338.4,1209.5 1338.8,1211.5 1339.3,1214.4 1339.7,1211.4 1340.2,1213.9 1340.7,1208.6 1341.1,1212.8 1341.6,1214.7 1342,1215.1 1342.5,1211.7 1342.9,1211.2 1343.4,1210.6 1343.8,1211 1344.3,1212.7 1344.8,1210.6 1345.2,1212.5 1345.7,1214.1 1346.1,1210.8 1346.6,1210.7 1347,1212.9 1347.5,1212.3" fill="none" stroke="#3E6EB6" stroke-width="0.9" stroke-linejoin="round" marker-start="url(#mo3E6EB640)" marker-mid="url(#mo3E6EB640)" marker-end="url(#mo3E6EB640)"/>
<polyline points="983,1273.2 983.4,1271.4 983.9,1270.7 984.3,1268.5 984.8,1268.4 985.2,1266.3 985.7,1266.1 986.1,1266.3 986.6,1266.4 987.1,1267.4 987.5,1267.3 988,1267 988.4,1267.7 988.9,1267.6 989.3,1267.8 989.8,1269 990.3,1268.9 990.7,1268.4 991.2,1269.3 991.6,1269.1 992.1,1268.9 992.5,1269.7 993,1269.7 993.5,1269.3 993.9,1269.2 994.4,1270.2 994.8,1269.7 995.3,1270 995.7,1270.3 996.2,1269.9 996.6,1270 997.1,1270.3 997.6,1270.1 998,1270.2 998.5,1270 998.9,1270.6 999.4,1271.7 999.8,1270.7 1000.3,1270.6 1000.8,1270.6 1001.2,1271 1001.7,1271.2 1002.1,1271.2 1002.6,1271.8 1003,1271.3 1003.5,1271.4 1003.9,1271.9 1004.4,1271.7 1004.9,1271.8 1005.3,1271.8 1005.8,1271.6 1006.2,1270.6 1006.7,1272 1007.1,1272.1 1007.6,1272 1008,1272.2 1008.5,1271.9 1009,1272.7 1009.4,1273.2 1009.9,1273.3 1010.3,1274.2 1010.8,1273.5 1011.2,1274.3 1011.7,1274 1012.2,1273.6 1012.6,1274.4 1013.1,1274.6 1013.5,1274.8 1014,1274.1 1014.4,1274.5 1014.9,1275.7 1015.4,1275.1 1015.8,1274.9 1016.3,1276.3 1016.7,1277.4 1017.2,1275.5 1017.6,1275.9 1018.1,1277.2 1018.5,1276.4 1019,1275.9 1019.5,1277.6 1019.9,1276.7 1020.4,1276.7 1020.8,1277.1 1021.3,1277.7 1021.7,1277.5 1022.2,1278.1 1022.6,1278 1023.1,1278.3 1023.6,1278.6 1024,1278.3 1024.5,1278.1 1024.9,1278.1 1025.4,1278.3 1025.8,1278 1026.3,1279.3 1026.8,1279.4 1027.2,1279.5 1027.7,1279.1 1028.1,1280.7 1028.6,1280.6 1029,1280.6 1029.5,1280.4 1030,1279.3 1030.4,1279.8 1030.9,1280.3 1031.3,1280.3 1031.8,1280.1 1032.2,1280.7 1032.7,1280.1 1033.1,1281.2 1033.6,1280.7 1034.1,1280.7 1034.5,1280.7 1035,1280.4 1035.4,1281.2 1035.9,1281.4 1036.3,1281.6 1036.8,1282.1 1037.2,1282.6 1037.7,1282.8 1038.2,1282.2 1038.6,1283.5 1039.1,1283.7 1039.5,1283.2 1040,1282.4 1040.4,1282.8 1040.9,1282.3 1041.4,1282.8 1041.8,1283.3 1042.3,1284.2 1042.7,1283.8 1043.2,1282.9 1043.6,1283.3 1044.1,1284.1 1044.5,1283.8 1045,1284.6 1045.5,1285 1045.9,1284.1 1046.4,1284.1 1046.8,1283.9 1047.3,1284.2 1047.7,1284.5 1048.2,1284.6 1048.7,1285 1049.1,1284.5 1049.6,1285.5 1050,1286.4 1050.5,1286.3 1050.9,1285.5 1051.4,1285.9 1051.8,1286.9 1052.3,1285 1052.8,1286 1053.2,1286.2 1053.7,1285.9 1054.1,1286 1054.6,1286.3 1055,1287.2 1055.5,1286.7 1056,1287.2 1056.4,1287.2 1056.9,1286.7 1057.3,1287.1 1057.8,1288 1058.2,1288 1058.7,1287.4 1059.2,1287.2 1059.6,1288.1 1060.1,1287.9 1060.5,1287.8 1061,1287.4 1061.4,1287.6 1061.9,1287.8 1062.3,1288.2 1062.8,1288.1 1063.3,1288 1063.7,1288.4 1064.2,1288.7 1064.6,1288 1065.1,1288.5 1065.5,1289.2 1066,1288.9 1066.5,1289.7 1066.9,1290.1 1067.4,1289.4 1067.8,1289.5 1068.3,1289.3 1068.7,1289.2 1069.2,1290 1069.6,1289.8 1070.1,1290.2 1070.6,1290.2 1071,1290.2 1071.5,1290.4 1071.9,1291.2 1072.4,1290.9 1072.8,1290.9 1073.3,1290.7 1073.8,1291.4 1074.2,1291.3 1074.7,1291.4 1075.1,1291.7 1075.6,1291.8 1076,1291.9 1076.5,1292.6 1076.9,1292.6 1077.4,1292.6 1077.9,1292.2 1078.3,1292.4 1078.8,1291.8 1079.2,1291.9 1079.7,1292.2 1080.1,1292.5 1080.6,1293.5 1081,1293.1 1081.5,1292.6 1082,1293.5 1082.4,1292.9 1082.9,1293 1083.3,1293.3 1083.8,1293.8 1084.2,1293.9 1084.7,1294.4 1085.2,1294.4 1085.6,1294.4 1086.1,1294.5 1086.5,1295.2 1087,1294.6 1087.4,1295.1 1087.9,1294.9 1088.3,1294.8 1088.8,1295.2 1089.3,1294.1 1089.7,1294.8 1090.2,1295.1 1090.6,1295.6 1091.1,1295.6 1091.5,1296.5 1092,1296 1092.5,1296.4 1092.9,1296.7 1093.4,1296.3 1093.8,1296.1 1094.3,1296.7 1094.7,1297.3 1095.2,1298.2 1095.7,1298.2 1096.1,1297.6 1096.6,1297.2 1097,1298 1097.5,1297.9 1097.9,1297.4 1098.4,1298.1 1098.8,1298.4 1099.3,1298.8 1099.8,1298.4 1100.2,1299.4 1100.7,1299.1 1101.1,1298.7 1101.6,1298.8 1102,1298.5 1102.5,1298.5 1103,1299.1 1103.4,1299.8 1103.9,1300.2 1104.3,1299.7 1104.8,1299.8 1105.2,1299.8 1105.7,1300.4 1106.1,1299.7 1106.6,1299.6 1107.1,1299.7 1107.5,1300.6 1108,1299.4 1108.4,1299.7 1108.9,1300.8 1109.3,1300.5 1109.8,1300.9 1110.2,1301.5 1110.7,1301.8 1111.2,1301.5 1111.6,1301.4 1112.1,1301.5 1112.5,1301.8 1113,1302.5 1113.4,1302.2 1113.9,1302.4 1114.4,1302.5 1114.8,1302.3 1115.3,1301.7 1115.7,1302.6 1116.2,1302.3 1116.6,1303.1 1117.1,1302.7 1117.5,1302.7 1118,1303.1 1118.5,1303.2 1118.9,1303.9 1119.4,1304 1119.8,1303.6 1120.3,1303.5 1120.7,1302.9 1121.2,1304.2 1121.7,1304.7 1122.1,1304.7 1122.6,1304.9 1123,1305.3 1123.5,1305.5 1123.9,1305.6 1124.4,1305 1124.8,1305.5 1125.3,1306.1 1125.8,1306 1126.2,1307.4 1126.7,1307.4 1127.1,1307.3 1127.6,1306.9 1128,1308.1 1128.5,1307.7 1129,1308 1129.4,1307.3 1129.9,1307.1 1130.3,1307.7 1130.8,1307.6 1131.2,1308.4 1131.7,1308.3 1132.2,1308.3 1132.6,1308 1133.1,1308.6 1133.5,1309.8 1134,1309.1 1134.4,1309.7 1134.9,1309.9 1135.3,1309.9 1135.8,1309.1 1136.3,1309.5 1136.7,1309.3 1137.2,1309.8 1137.6,1310.8 1138.1,1310.5 1138.5,1310.4 1139,1310.9 1139.5,1311.8 1139.9,1310.2 1140.4,1309.8 1140.8,1310.5 1141.3,1310.9 1141.7,1311 1142.2,1311.3 1142.6,1312.5 1143.1,1313.1 1143.6,1312.5 1144,1312 1144.5,1311.9 1144.9,1312.1 1145.4,1312.7 1145.8,1312.6 1146.3,1312.3 1146.8,1312.8 1147.2,1312.8 1147.7,1312.8 1148.1,1313.9 1148.6,1313.6 1149,1314.4 1149.5,1315 1149.9,1314.2 1150.4,1315.4 1150.9,1315.4 1151.3,1315 1151.8,1315.1 1152.2,1315.6 1152.7,1316.2 1153.1,1315.9 1153.6,1315.8 1154,1316.1 1154.5,1316.8 1155,1317.4 1155.4,1317.1 1155.9,1317.1 1156.3,1316.8 1156.8,1317.2 1157.2,1316.9 1157.7,1317.9 1158.2,1318.7 1158.6,1317.9 1159.1,1318.2 1159.5,1318.7 1160,1318.7 1160.4,1319.2 1160.9,1319.2 1161.3,1319.8 1161.8,1319.4 1162.3,1319.6 1162.7,1319.6 1163.2,1319.6 1163.6,1319.5 1164.1,1320.6 1164.5,1320.3 1165,1320.4 1165.5,1321 1165.9,1320.9 1166.4,1320.6 1166.8,1320.6 1167.3,1319.9 1167.7,1320.7 1168.2,1321 1168.7,1320.4 1169.1,1321.4 1169.6,1322 1170,1322.3 1170.5,1322.5 1170.9,1322.5 1171.4,1322.5 1171.8,1323 1172.3,1323.5 1172.8,1323.3 1173.2,1323.8 1173.7,1324 1174.1,1323.6 1174.6,1323.7 1175,1324.3 1175.5,1324.8 1176,1325 1176.4,1325.4 1176.9,1324.7 1177.3,1324.3 1177.8,1324.4 1178.2,1324.6 1178.7,1325.1 1179.1,1325.1 1179.6,1325.3 1180.1,1325.5 1180.5,1325.9 1181,1326.4 1181.4,1326.2 1181.9,1326 1182.3,1326.8 1182.8,1326.8 1183.2,1326.8 1183.7,1326.7 1184.2,1327.7 1184.6,1328.1 1185.1,1328.4 1185.5,1328.6 1186,1328.7 1186.4,1327.9 1186.9,1328.5 1187.4,1327.4 1187.8,1327.8 1188.3,1327.8 1188.7,1328.3 1189.2,1328.2 1189.6,1328.5 1190.1,1328.5 1190.5,1328.6 1191,1328.8 1191.5,1329.1 1191.9,1329 1192.4,1329.5 1192.8,1330.1 1193.3,1329.5 1193.7,1330.2 1194.2,1330.3 1194.7,1329.6 1195.1,1330.6 1195.6,1331 1196,1331.5 1196.5,1331.9 1196.9,1331.5 1197.4,1331.7 1197.8,1331.8 1198.3,1332.8 1198.8,1332.3 1199.2,1332.7 1199.7,1333.6 1200.1,1333.5 1200.6,1334 1201,1332.8 1201.5,1333.8 1202,1333.5 1202.4,1334 1202.9,1334.3 1203.3,1334.7 1203.8,1333.8 1204.2,1334.6 1204.7,1334.8 1205.2,1334.6 1205.6,1334.8 1206.1,1334.5 1206.5,1335.1 1207,1335.9 1207.4,1335.5 1207.9,1334.9 1208.3,1335.1 1208.8,1335.9 1209.3,1335.4 1209.7,1335.4 1210.2,1336.1 1210.6,1336.1 1211.1,1336.4 1211.5,1336.6 1212,1336.5 1212.5,1336.4 1212.9,1336.9 1213.4,1337.2 1213.8,1338.6 1214.3,1338.6 1214.7,1338.1 1215.2,1338.5 1215.6,1338.3 1216.1,1338.5 1216.6,1338.6 1217,1338.7 1217.5,1338.2 1217.9,1338.5 1218.4,1338.9 1218.8,1339.8 1219.3,1339.5 1219.8,1340.2 1220.2,1339.5 1220.7,1340.2 1221.1,1340.6 1221.6,1340.6 1222,1341.1 1222.5,1340.7 1222.9,1340.7 1223.4,1341.3 1223.9,1341.6 1224.3,1340.7 1224.8,1340.6 1225.2,1341 1225.7,1341.4 1226.1,1341.1 1226.6,1341.9 1227,1342.3 1227.5,1342.6 1228,1343.2 1228.4,1343.5 1228.9,1342.5 1229.3,1342.8 1229.8,1343.6 1230.2,1343.7 1230.7,1344 1231.2,1344.2 1231.6,1344.2 1232.1,1345 1232.5,1345.6 1233,1345.2 1233.4,1345.1 1233.9,1345.6 1234.3,1345.4 1234.8,1345.6 1235.3,1345.5 1235.7,1345.7 1236.2,1345.2 1236.6,1344.9 1237.1,1345.2 1237.5,1345.8 1238,1345.7 1238.5,1345.8 1238.9,1346.1 1239.4,1346.2 1239.8,1346.8 1240.3,1346.7 1240.7,1346.8 1241.2,1347.1 1241.7,1347.5 1242.1,1347.9 1242.6,1347.8 1243,1348.3 1243.5,1348.9 1243.9,1348 1244.4,1347.8 1244.8,1348.8 1245.3,1348.3 1245.8,1349.8 1246.2,1349.3 1246.7,1349.2 1247.1,1349.4 1247.6,1349.8 1248,1349.6 1248.5,1349.7 1249,1350.6 1249.4,1351 1249.9,1350.4 1250.3,1350.3 1250.8,1351.3 1251.2,1352 1251.7,1351.5 1252.1,1351.9 1252.6,1352.2 1253.1,1352.3 1253.5,1352.1 1254,1353.1 1254.4,1352.4 1254.9,1352.7 1255.3,1352.3 1255.8,1353.2 1256.2,1353.5" fill="none" stroke="#3E6EB6" stroke-width="8.0" stroke-linejoin="round" stroke-linecap="round"/>
<polyline points="1256.7,1312 1257.2,1311.6 1257.6,1312 1258.1,1312.3 1258.5,1311.8 1259,1311.7 1259.4,1312.1 1259.9,1312.6 1260.4,1312.2 1260.8,1312.3 1261.3,1312.9 1261.7,1312.4 1262.2,1312.4 1262.6,1312.9 1263.1,1313 1263.5,1313 1264,1313.7 1264.5,1314.4 1264.9,1313.7 1265.4,1314.7 1265.8,1315.2 1266.3,1315.5 1266.7,1314.8 1267.2,1314.3 1267.7,1314.8 1268.1,1314.3 1268.6,1313.9 1269,1313.9 1269.5,1315.2 1269.9,1314.7 1270.4,1314 1270.8,1315.2 1271.3,1316.2 1271.8,1315.4 1272.2,1315.5 1272.7,1315.8 1273.1,1316 1273.6,1317 1274,1317.1 1274.5,1316.7 1275,1316.5 1275.4,1316.2 1275.9,1316.1 1276.3,1316.8 1276.8,1317 1277.2,1316.4 1277.7,1317.5 1278.2,1317.2 1278.6,1317.8 1279.1,1317.7 1279.5,1316.9 1280,1317.3 1280.4,1318 1280.9,1318.5 1281.3,1319.2 1281.8,1319 1282.3,1320 1282.7,1319.6 1283.2,1319.4 1283.6,1319.8 1284.1,1320.1 1284.5,1319.4 1285,1319.1 1285.5,1318.6 1285.9,1318.9 1286.4,1319.5 1286.8,1320.2 1287.3,1319.9 1287.7,1320.1 1288.2,1320.5 1288.6,1320 1289.1,1320.8 1289.6,1321.1 1290,1320.9 1290.5,1321.2 1290.9,1321.6 1291.4,1321.5 1291.8,1320.7 1292.3,1321.8 1292.8,1322 1293.2,1322.3 1293.7,1322.6 1294.1,1322.2 1294.6,1322.8 1295,1322.4 1295.5,1323.6 1295.9,1323.7 1296.4,1324.3 1296.9,1324.1 1297.3,1324 1297.8,1324 1298.2,1324.3 1298.7,1324.8 1299.1,1325.5 1299.6,1325 1300,1325.2 1300.5,1324.9 1301,1326.1 1301.4,1326.2 1301.9,1327 1302.3,1326.1 1302.8,1326.7 1303.2,1327.1 1303.7,1326.6 1304.2,1326.8 1304.6,1326.9 1305.1,1327.2 1305.5,1326.8 1306,1327.1 1306.4,1327.4 1306.9,1327.7 1307.3,1327.5 1307.8,1327.4 1308.3,1328.2 1308.7,1328 1309.2,1329.2 1309.6,1329.5 1310.1,1329.6 1310.5,1329.9 1311,1329.5 1311.5,1330.3 1311.9,1330.8 1312.4,1330.4 1312.8,1330.7 1313.3,1330.6 1313.7,1330.6 1314.2,1331 1314.7,1331.2 1315.1,1330.8 1315.6,1331 1316,1331.2 1316.5,1331.1 1316.9,1331.8 1317.4,1332.5 1317.8,1332.5 1318.3,1331.7 1318.8,1331.8 1319.2,1331.2 1319.7,1331.6 1320.1,1331.9 1320.6,1332.8 1321,1333.8 1321.5,1334.7 1322,1334.1 1322.4,1334.5 1322.9,1334.9 1323.3,1334.3 1323.8,1334.2 1324.2,1335 1324.7,1334.8 1325.1,1334.2 1325.6,1334.2 1326.1,1335 1326.5,1334.7 1327,1336 1327.4,1336 1327.9,1336.1 1328.3,1335.4 1328.8,1336.4 1329.2,1336.8 1329.7,1336.7 1330.2,1336.3 1330.6,1337.2 1331.1,1336.9 1331.5,1337.1 1332,1337.4 1332.4,1338 1332.9,1337.5 1333.4,1337.5 1333.8,1337.4 1334.3,1337.6 1334.7,1337.9 1335.2,1338.5 1335.6,1338.4 1336.1,1338.1 1336.5,1338.3 1337,1338.3 1337.5,1338.3 1337.9,1338.6 1338.4,1339 1338.8,1339.7 1339.3,1339.1 1339.7,1339.5 1340.2,1339.8 1340.7,1339.9 1341.1,1339.7 1341.6,1339.6 1342,1340.4 1342.5,1340.6 1342.9,1340.2 1343.4,1340.9 1343.8,1341 1344.3,1341.5 1344.8,1342.2 1345.2,1342.5 1345.7,1342 1346.1,1341.8 1346.6,1343.2 1347,1342.8 1347.5,1342.7" fill="none" stroke="#3E6EB6" stroke-width="8.0" stroke-linejoin="round" stroke-linecap="round"/>
<path d="M1256.2 1353.5L1256.7 1312" stroke="#3E6EB6" stroke-width="1.2"/>
<path d="M1256.2 1169.1V1462.2" stroke="#000" stroke-width="1.8" stroke-dasharray="9.5 5.5"/>
<rect x="982.5" y="1169.1" width="365" height="293.1" fill="none" stroke="#000" stroke-width="2.5"/>
<path d="M982.5 1462.2L982.5 1468.7M1073.8 1462.2L1073.8 1468.7M1165 1462.2L1165 1468.7M1256.2 1462.2L1256.2 1468.7M1347.5 1462.2L1347.5 1468.7" stroke="#000" stroke-width="2.4" fill="none"/>
<path d="M1028.1 1462.2L1028.1 1466.2M1119.4 1462.2L1119.4 1466.2M1210.6 1462.2L1210.6 1466.2M1301.9 1462.2L1301.9 1466.2" stroke="#000" stroke-width="1.7" fill="none"/>
<text x="982.5" y="1488.6" font-size="19.6" text-anchor="middle">0</text>
<text x="1073.8" y="1488.6" font-size="19.6" text-anchor="middle">200</text>
<text x="1165" y="1488.6" font-size="19.6" text-anchor="middle">400</text>
<text x="1256.2" y="1488.6" font-size="19.6" text-anchor="middle">600</text>
<text x="1347.5" y="1488.6" font-size="19.6" text-anchor="middle">800</text>
<path d="M982.5 1423.1L976 1423.1M982.5 1364.5L976 1364.5M982.5 1305.9L976 1305.9M982.5 1247.3L976 1247.3M982.5 1188.6L976 1188.6" stroke="#000" stroke-width="2.4" fill="none"/>
<path d="M982.5 1452.4L978.5 1452.4M982.5 1393.8L978.5 1393.8M982.5 1335.2L978.5 1335.2M982.5 1276.6L978.5 1276.6M982.5 1217.9L978.5 1217.9" stroke="#000" stroke-width="1.7" fill="none"/>
<text x="972.2" y="1430.1" font-size="19.6" text-anchor="end">120</text>
<text x="972.2" y="1371.5" font-size="19.6" text-anchor="end">150</text>
<text x="972.2" y="1312.9" font-size="19.6" text-anchor="end">180</text>
<text x="972.2" y="1254.3" font-size="19.6" text-anchor="end">210</text>
<text x="972.2" y="1195.7" font-size="19.6" text-anchor="end">240</text>
<path d="M1347.5 1169.1L1354 1169.1M1347.5 1210.6L1354 1210.6M1347.5 1251.9L1354 1251.9M1347.5 1293.2L1354 1293.2M1347.5 1334.5L1354 1334.5M1347.5 1375.8L1354 1375.8M1347.5 1462.2L1354 1462.2" stroke="#000" stroke-width="2.4" fill="none"/>
<path d="M1347.5 1189.9L1351.5 1189.9M1347.5 1231.2L1351.5 1231.2M1347.5 1272.5L1351.5 1272.5M1347.5 1313.8L1351.5 1313.8M1347.5 1355.1L1351.5 1355.1M1347.5 1396.4L1351.5 1396.4" stroke="#000" stroke-width="1.7" fill="none"/>
<text x="1359.7" y="1176.1" font-size="19.6">102</text>
<text x="1359.7" y="1217.6" font-size="19.6">100</text>
<text x="1359.7" y="1258.9" font-size="19.6">98</text>
<text x="1359.7" y="1300.2" font-size="19.6">96</text>
<text x="1359.7" y="1341.5" font-size="19.6">94</text>
<text x="1359.7" y="1382.8" font-size="19.6">92</text>
<text x="1359.7" y="1469.2" font-size="19.6">80</text>
<path d="M1347.5 1396.5L1351.5 1396.5M1347.5 1441L1351.5 1441" stroke="#000" stroke-width="2.0" fill="none"/>
<path d="M1341 1419L1354 1412.8" stroke="#000" stroke-width="2.4"/>
<path d="M1341 1424.2L1354 1418" stroke="#000" stroke-width="2.4"/>
<text x="1166.6" y="1514.8" font-size="23.1" text-anchor="middle">Cycle number</text>
<text x="933" y="1316.5" font-size="22.3" text-anchor="middle" transform="rotate(-90 933 1316.5)" textLength="274">Specific capacity (mAh g<tspan dy="-0.62em" font-size="62%">−1</tspan><tspan dy="0.385em">)</tspan></text>
<text x="1415.7" y="1314" font-size="23.3" text-anchor="middle" transform="rotate(-90 1415.7 1314)" textLength="262">Coulombic Efficiency (%)</text>
<path d="M1022.1 1284.2V1305H998" fill="none" stroke="#000" stroke-width="2.8" stroke-linecap="butt" stroke-linejoin="miter"/>
<path d="M990.3 1305L1001.3 1300.4L1001.3 1309.6Z" fill="#000"/>
<path d="M1302 1220.9V1245.7H1327.2" fill="none" stroke="#000" stroke-width="2.8" stroke-linecap="butt" stroke-linejoin="miter"/>
<path d="M1334.9 1245.7L1323.9 1241.1L1323.9 1250.3Z" fill="#000"/>
<text x="1264.8" y="1301.2" font-size="21.2">88.2%</text>
<text x="1191.4" y="1377.3" font-size="21.2">78.0%</text>
<text x="987" y="1396.7" font-size="21.2">P(DOA)</text>
<text x="1022" y="1422.6" font-size="21.2">Cycling</text>
<text x="1022" y="1448.7" font-size="21.2">Efficiency</text>
<text x="1173" y="1421.7" font-size="21.2">Before</text>
<text x="1276.9" y="1421.7" font-size="21.2">After</text>
<path d="M987 1418.2H997M1005 1418.2H1015" stroke="#3E6EB6" stroke-width="1.3"/>
<circle cx="1001" cy="1418.2" r="4" fill="url(#bg3E6EB6)"/>
<path d="M987 1445.2H997M1005 1445.2H1015" stroke="#3E6EB6" stroke-width="1.3"/>
<circle cx="1001" cy="1445.2" r="4" fill="#fff" stroke="#3E6EB6" stroke-width="1"/>
<path d="M1552.5 1432.5L1552.9 1212.6M1645.5 1213.8L1645.9 1185.8M1645.9 1185.8L1646.4 1260.8M1646.4 1260.8L1646.8 1208.5M1646.8 1208.5L1647.3 1227.1M1647.3 1227.1L1647.8 1209.9M1683.3 1213.3L1683.8 1198.2M1683.8 1198.2L1684.2 1225.1M1684.2 1225.1L1684.7 1210.2M1690.6 1211.1L1691.1 1177.6M1691.1 1177.6L1691.5 1256M1691.5 1256L1692 1208.5M1700.2 1209.9L1700.7 1196.1M1700.7 1196.1L1701.1 1235.4M1701.1 1235.4L1701.6 1201.3M1701.6 1201.3L1702 1210.4M1706.6 1211.8L1707 1200.3M1707 1200.3L1707.5 1225.1M1707.5 1225.1L1708 1213.6M1720.7 1213.3L1721.2 1202.3M1721.2 1202.3L1721.6 1223M1721.6 1223L1722.1 1209.8M1737.6 1211.8L1738 1175.5M1738 1175.5L1738.5 1256M1738.5 1256L1739 1209.6M1744.9 1211L1745.3 1196.1M1745.3 1196.1L1745.8 1228.2M1745.8 1228.2L1746.3 1211M1755.4 1211.5L1755.8 1202.3M1755.8 1202.3L1756.3 1223M1756.3 1223L1756.7 1212.2M1761.8 1212.8L1762.2 1203.4M1762.2 1203.4L1762.7 1231.2M1762.7 1231.2L1763.1 1210.6M1827.9 1214.2L1828.3 1202.3M1828.3 1202.3L1828.8 1225.1M1828.8 1225.1L1829.2 1210.9M1836.5 1210.9L1837 1201.3M1837 1201.3L1837.5 1213.3" stroke="#D3352D" stroke-width="2.4" fill="none"/>
<polyline points="1552.5,1432.5 1552.9,1212.6 1553.4,1210.7 1553.8,1213.4 1554.3,1214.4 1554.7,1217 1555.2,1217.8 1555.6,1219.5 1556.1,1222.3 1556.6,1222.3 1557,1220.9 1557.5,1222.6 1557.9,1224.6 1558.4,1227 1558.8,1226.8 1559.3,1228.3 1559.8,1228.4 1560.2,1228.4 1560.7,1233.2 1561.1,1231.3 1561.6,1233.4 1562,1233.3 1562.5,1233.9 1562.9,1230.4 1563.4,1230.3 1563.9,1230.3 1564.3,1231.9 1564.8,1232.9 1565.2,1230.9 1565.7,1229 1566.1,1228.3 1566.6,1226.3 1567,1226.7 1567.5,1222.6 1568,1222.7 1568.4,1219.8 1568.9,1221.1 1569.3,1221.3 1569.8,1221.5 1570.2,1218.3 1570.7,1216.6 1571.2,1217 1571.6,1216.1 1572.1,1216.4 1572.5,1216.2 1573,1215.6 1573.4,1217.5 1573.9,1216.3 1574.3,1214.1 1574.8,1213.3 1575.3,1211.5 1575.7,1211.7 1576.2,1211.9 1576.6,1212.4 1577.1,1215.9 1577.5,1213 1578,1213.8 1578.4,1211.8 1578.9,1212.6 1579.4,1212.8 1579.8,1213.1 1580.3,1212.8 1580.7,1215.3 1581.2,1215.2 1581.6,1210.8 1582.1,1211.2 1582.6,1212.6 1583,1212.7 1583.5,1212.8 1583.9,1207.2 1584.4,1210.3 1584.8,1211.7 1585.3,1213 1585.7,1215.9 1586.2,1212.6 1586.7,1210 1587.1,1210.2 1587.6,1211.3 1588,1212.8 1588.5,1214 1588.9,1212.3 1589.4,1212.8 1589.8,1214 1590.3,1209.9 1590.8,1213.1 1591.2,1213.1 1591.7,1216 1592.1,1210.2 1592.6,1211.9 1593,1212.2 1593.5,1211.6 1594,1213.3 1594.4,1213.3 1594.9,1211.9 1595.3,1213.3 1595.8,1211.8 1596.2,1210.1 1596.7,1210.5 1597.1,1209.6 1597.6,1209.9 1598.1,1209 1598.5,1211 1599,1211.2 1599.4,1213.6 1599.9,1212.6 1600.3,1213.3 1600.8,1212.4 1601.2,1213.7 1601.7,1211.9 1602.2,1208.1 1602.6,1212.5 1603.1,1211.3 1603.5,1210.9 1604,1213 1604.4,1212.7 1604.9,1213 1605.4,1211.6 1605.8,1212.9 1606.3,1208.2 1606.7,1210 1607.2,1209.9 1607.6,1208.3 1608.1,1209.2 1608.5,1211.7 1609,1211.4 1609.5,1211.9 1609.9,1211.6 1610.4,1210.5 1610.8,1214.8 1611.3,1215.2 1611.7,1213.2 1612.2,1211.6 1612.6,1212.7 1613.1,1212.5 1613.6,1210.4 1614,1210.7 1614.5,1212 1614.9,1212.6 1615.4,1214.5 1615.8,1211.8 1616.3,1211.9 1616.8,1213.5 1617.2,1211.6 1617.7,1212.6 1618.1,1212.7 1618.6,1214.8 1619,1211.3 1619.5,1213.1 1619.9,1211.9 1620.4,1211.7 1620.9,1212.9 1621.3,1212.4 1621.8,1212.6 1622.2,1212.6 1622.7,1212 1623.1,1213.1 1623.6,1211.3 1624,1211.8 1624.5,1213.9 1625,1211.9 1625.4,1212.7 1625.9,1211.6 1626.3,1215.7 1626.8,1212.3 1627.2,1215.7 1627.7,1213.6 1628.2,1207.5 1628.6,1210.3 1629.1,1210.2 1629.5,1212.9 1630,1214.1 1630.4,1212.7 1630.9,1211.7 1631.3,1212.3 1631.8,1213.3 1632.3,1213.8 1632.7,1213.2 1633.2,1209.9 1633.6,1211.7 1634.1,1212.7 1634.5,1212.7 1635,1213.8 1635.4,1214.6 1635.9,1212.4 1636.4,1210.1 1636.8,1211 1637.3,1214.1 1637.7,1210.2 1638.2,1211.3 1638.6,1209 1639.1,1211.7 1639.6,1214.1 1640,1212.2 1640.5,1212.4 1640.9,1213.9 1641.4,1213.6 1641.8,1213.1 1642.3,1213.7 1642.7,1211.5 1643.2,1211.5 1643.7,1212.7 1644.1,1212.8 1644.6,1210.9 1645,1211.2 1645.5,1213.8 1645.9,1185.8 1646.4,1260.8 1646.8,1208.5 1647.3,1227.1 1647.8,1209.9 1648.2,1207.8 1648.7,1211 1649.1,1215.4 1649.6,1215 1650,1209.7 1650.5,1211.8 1651,1210.9 1651.4,1210.9 1651.9,1211.5 1652.3,1209.3 1652.8,1211.1 1653.2,1210.8 1653.7,1211.2 1654.1,1211.4 1654.6,1208 1655.1,1212.8 1655.5,1214 1656,1210.6 1656.4,1213.6 1656.9,1212 1657.3,1213.5 1657.8,1210.7 1658.2,1211.7 1658.7,1210.8 1659.2,1212.8 1659.6,1212.3 1660.1,1215.5 1660.5,1211.4 1661,1211.2 1661.4,1211.8 1661.9,1211.8 1662.4,1212.5 1662.8,1212.2 1663.3,1209 1663.7,1212.3 1664.2,1212.8 1664.6,1211 1665.1,1211.4 1665.5,1212.8 1666,1209.5 1666.5,1208.9 1666.9,1211.8 1667.4,1209.1 1667.8,1213.5 1668.3,1209.9 1668.7,1214 1669.2,1211.8 1669.6,1212.1 1670.1,1212.5 1670.6,1211.1 1671,1213.3 1671.5,1213.4 1671.9,1214 1672.4,1210 1672.8,1212.5 1673.3,1211.5 1673.8,1212.2 1674.2,1210.4 1674.7,1213.3 1675.1,1213.6 1675.6,1213.3 1676,1211.9 1676.5,1213.1 1676.9,1211.5 1677.4,1211 1677.9,1210.1 1678.3,1210.7 1678.8,1209.5 1679.2,1212 1679.7,1212.7 1680.1,1213.2 1680.6,1213.3 1681,1214.3 1681.5,1211.8 1682,1211.8 1682.4,1215.2 1682.9,1212.8 1683.3,1213.3 1683.8,1198.2 1684.2,1225.1 1684.7,1210.2 1685.2,1211.4 1685.6,1215 1686.1,1212.1 1686.5,1213.4 1687,1209.7 1687.4,1212.3 1687.9,1212.2 1688.3,1212.3 1688.8,1213.3 1689.3,1212.9 1689.7,1212.3 1690.2,1208.6 1690.6,1211.1 1691.1,1177.6 1691.5,1256 1692,1208.5 1692.4,1211.4 1692.9,1209.6 1693.4,1216.1 1693.8,1213.8 1694.3,1213.6 1694.7,1211 1695.2,1213 1695.6,1210.7 1696.1,1210 1696.6,1212.4 1697,1211.2 1697.5,1212.5 1697.9,1210.8 1698.4,1210.9 1698.8,1209.9 1699.3,1210.2 1699.7,1213.2 1700.2,1209.9 1700.7,1196.1 1701.1,1235.4 1701.6,1201.3 1702,1210.4 1702.5,1213.5 1702.9,1210.2 1703.4,1213.1 1703.8,1212.4 1704.3,1211.3 1704.8,1214.1 1705.2,1211.8 1705.7,1211.8 1706.1,1210.6 1706.6,1211.8 1707,1200.3 1707.5,1225.1 1708,1213.6 1708.4,1212 1708.9,1212.2 1709.3,1211 1709.8,1209.4 1710.2,1211.8 1710.7,1212.6 1711.1,1211.5 1711.6,1211.1 1712.1,1215.1 1712.5,1213.5 1713,1212.1 1713.4,1211 1713.9,1212.5 1714.3,1213.6 1714.8,1209.1 1715.2,1216.2 1715.7,1210.6 1716.2,1212.7 1716.6,1212.7 1717.1,1212.2 1717.5,1211.5 1718,1213.4 1718.4,1214.4 1718.9,1212 1719.4,1210.1 1719.8,1212.1 1720.3,1208.6 1720.7,1213.3 1721.2,1202.3 1721.6,1223 1722.1,1209.8 1722.5,1213.3 1723,1211.3 1723.5,1212.1 1723.9,1215.6 1724.4,1213.5 1724.8,1214.6 1725.3,1213.1 1725.7,1211.3 1726.2,1212 1726.6,1209.2 1727.1,1210.4 1727.6,1212.6 1728,1212.7 1728.5,1211.5 1728.9,1213 1729.4,1211.4 1729.8,1211 1730.3,1210.3 1730.8,1211.3 1731.2,1211.6 1731.7,1213.6 1732.1,1211.9 1732.6,1212.1 1733,1211.7 1733.5,1211.2 1733.9,1212.8 1734.4,1212.7 1734.9,1213.1 1735.3,1213.9 1735.8,1215 1736.2,1214.1 1736.7,1211.6 1737.1,1215.3 1737.6,1211.8 1738,1175.5 1738.5,1256 1739,1209.6 1739.4,1212.4 1739.9,1210.4 1740.3,1210.4 1740.8,1209 1741.2,1211.9 1741.7,1212.5 1742.2,1210.3 1742.6,1212.1 1743.1,1212.1 1743.5,1209.9 1744,1210.3 1744.4,1212.1 1744.9,1211 1745.3,1196.1 1745.8,1228.2 1746.3,1211 1746.7,1213 1747.2,1209.4 1747.6,1211.4 1748.1,1211.7 1748.5,1212.7 1749,1212 1749.4,1212.4 1749.9,1211.1 1750.4,1210.9 1750.8,1209.8 1751.3,1210.2 1751.7,1212.3 1752.2,1213 1752.6,1213.3 1753.1,1210.6 1753.6,1212.8 1754,1209.7 1754.5,1211.1 1754.9,1211.7 1755.4,1211.5 1755.8,1202.3 1756.3,1223 1756.7,1212.2 1757.2,1213.5 1757.7,1214.6 1758.1,1213.4 1758.6,1210.2 1759,1210.6 1759.5,1212.7 1759.9,1215.8 1760.4,1210.9 1760.8,1211.1 1761.3,1214.8 1761.8,1212.8 1762.2,1203.4 1762.7,1231.2 1763.1,1210.6 1763.6,1212.6 1764,1215.4 1764.5,1213 1765,1208.2 1765.4,1210.4 1765.9,1212.4 1766.3,1210.5 1766.8,1212.4 1767.2,1209.4 1767.7,1214 1768.1,1213 1768.6,1209.7 1769.1,1209.6 1769.5,1210.6 1770,1213.9 1770.4,1212.2 1770.9,1210.9 1771.3,1212.4 1771.8,1211.9 1772.2,1210.5 1772.7,1212.2 1773.2,1211.1 1773.6,1212.1 1774.1,1213.7 1774.5,1214.6 1775,1213.6 1775.4,1213.6 1775.9,1210.7 1776.4,1211.6 1776.8,1214.8 1777.3,1210.2 1777.7,1207.9 1778.2,1211.8 1778.6,1211.1 1779.1,1212 1779.5,1210.8 1780,1211.6 1780.5,1211.2 1780.9,1211.8 1781.4,1212.9 1781.8,1212.7 1782.3,1213.3 1782.7,1213.3 1783.2,1212.9 1783.6,1208.2 1784.1,1210 1784.6,1208.7 1785,1213.6 1785.5,1212.7 1785.9,1210.6 1786.4,1209.7 1786.8,1210.8 1787.3,1212.5 1787.8,1214.3 1788.2,1212.1 1788.7,1214.6 1789.1,1212.1 1789.6,1212.9 1790,1213.3 1790.5,1213.4 1790.9,1214.7 1791.4,1214.6 1791.9,1212.1 1792.3,1213.2 1792.8,1213.6 1793.2,1211 1793.7,1211 1794.1,1211.4 1794.6,1214.4 1795,1210.9 1795.5,1211 1796,1213.5 1796.4,1213.3 1796.9,1211 1797.3,1210 1797.8,1212.3 1798.2,1213.9 1798.7,1210.5 1799.2,1212.5 1799.6,1210.9 1800.1,1211.7 1800.5,1212.2 1801,1212.7 1801.4,1209.8 1801.9,1212.1 1802.3,1212 1802.8,1213 1803.3,1209.1 1803.7,1211.3 1804.2,1213.6 1804.6,1212.5 1805.1,1214.8 1805.5,1212.9 1806,1214.1 1806.4,1210.5 1806.9,1209.5 1807.4,1207.8 1807.8,1211.7 1808.3,1213.2 1808.7,1215.5 1809.2,1212.3 1809.6,1213.2 1810.1,1210.1 1810.6,1208.3 1811,1213.4 1811.5,1212.4 1811.9,1209.4 1812.4,1213.7 1812.8,1214.2 1813.3,1211 1813.7,1211.2 1814.2,1214.6 1814.7,1211.7 1815.1,1212.4 1815.6,1212 1816,1211.3 1816.5,1209.1 1816.9,1210 1817.4,1213 1817.8,1209.9 1818.3,1210.3 1818.8,1210.9 1819.2,1212.8 1819.7,1213.5 1820.1,1212.2 1820.6,1209.7 1821,1210.7 1821.5,1211.4 1822,1211.4 1822.4,1211.3 1822.9,1212.3 1823.3,1211.9 1823.8,1214.9 1824.2,1212.6 1824.7,1210.7 1825.1,1211.4 1825.6,1209.5 1826.1,1209 1826.5,1211.9 1827,1213.9 1827.4,1212.3 1827.9,1214.2 1828.3,1202.3 1828.8,1225.1 1829.2,1210.9 1829.7,1212.2 1830.2,1213.2 1830.6,1209.8 1831.1,1211.8 1831.5,1211.9 1832,1211.7 1832.4,1212.7 1832.9,1212.6 1833.4,1214.3 1833.8,1212.5 1834.3,1211.6 1834.7,1213.4 1835.2,1215 1835.6,1213.5 1836.1,1211.4 1836.5,1210.9 1837,1201.3 1837.5,1213.3 1837.9,1211.7 1838.4,1212.3 1838.8,1210.8 1839.3,1211.1 1839.7,1213.3 1840.2,1212 1840.6,1211.7 1841.1,1210.3 1841.6,1208.8 1842,1213.7 1842.5,1213.2 1842.9,1213.1 1843.4,1213 1843.8,1212.7 1844.3,1209.6 1844.8,1210.5 1845.2,1211.8 1845.7,1211.1 1846.1,1211.5 1846.6,1212.7 1847,1212.1 1847.5,1211.2 1847.9,1210 1848.4,1213.1 1848.9,1212 1849.3,1211.5 1849.8,1211.3 1850.2,1212.3 1850.7,1212.6 1851.1,1214.5 1851.6,1214 1852,1213.4 1852.5,1213.4 1853,1211.7 1853.4,1212.5 1853.9,1212.8 1854.3,1213.4 1854.8,1212.1 1855.2,1214.3 1855.7,1210.1 1856.2,1213.7 1856.6,1213.3 1857.1,1212.3 1857.5,1212.2 1858,1211.4 1858.4,1215 1858.9,1212.7 1859.3,1214.1 1859.8,1210.3 1860.3,1214.8 1860.7,1212.7 1861.2,1211.3 1861.6,1212 1862.1,1211.8 1862.5,1211.9 1863,1211.4 1863.4,1210.4 1863.9,1211.6 1864.4,1210.2 1864.8,1211.6 1865.3,1210.5 1865.7,1213.7 1866.2,1210 1866.6,1210.8 1867.1,1210.8 1867.6,1209.2 1868,1212.7 1868.5,1213.7 1868.9,1216.4 1869.4,1211.2 1869.8,1211.1 1870.3,1208.6 1870.7,1211.2 1871.2,1211.2 1871.7,1211.8 1872.1,1211.6 1872.6,1211.5 1873,1212.8 1873.5,1213.3 1873.9,1212.8 1874.4,1213.9 1874.8,1210.3 1875.3,1212.9 1875.8,1212.6 1876.2,1212.2 1876.7,1212.9 1877.1,1209.9 1877.6,1211 1878,1210.3 1878.5,1213.8 1879,1213.6 1879.4,1215.7 1879.9,1211 1880.3,1212.7 1880.8,1211.3 1881.2,1210.1 1881.7,1213.8 1882.1,1211.3 1882.6,1212.3 1883.1,1211.6 1883.5,1211.7 1884,1211.2 1884.4,1212.1 1884.9,1214.4 1885.3,1213.8 1885.8,1212.7 1886.2,1212.4 1886.7,1213.8 1887.2,1213.4 1887.6,1212.3 1888.1,1210.4 1888.5,1211.8 1889,1213 1889.4,1212.1 1889.9,1213.7 1890.4,1211.8 1890.8,1214.3 1891.3,1211.3 1891.7,1213 1892.2,1210.4 1892.6,1212.1 1893.1,1212.8 1893.5,1211.9 1894,1212.6 1894.5,1212.3 1894.9,1209.2 1895.4,1210.6 1895.8,1210.9 1896.3,1215 1896.7,1210.7 1897.2,1210.7 1897.6,1212 1898.1,1213.9 1898.6,1214.7 1899,1213.9 1899.5,1212.5 1899.9,1211.8 1900.4,1211.5 1900.8,1211.5 1901.3,1211.8 1901.8,1212.3 1902.2,1214.1 1902.7,1209.1 1903.1,1210 1903.6,1210 1904,1211.8 1904.5,1214 1904.9,1210 1905.4,1212.9 1905.9,1214.4 1906.3,1211.5 1906.8,1209.7 1907.2,1212.1 1907.7,1211.9 1908.1,1210.9 1908.6,1211.4 1909,1211.8 1909.5,1210.8 1910,1210.5 1910.4,1212.6 1910.9,1212 1911.3,1211.3 1911.8,1210.4 1912.2,1211.2 1912.7,1212.4 1913.2,1211.8 1913.6,1213.4 1914.1,1212.5 1914.5,1210.4 1915,1211.5 1915.4,1211.4 1915.9,1211.1 1916.3,1211.8 1916.8,1213.6" fill="none" stroke="#D3352D" stroke-width="0.9" stroke-linejoin="round" marker-start="url(#moE0645A40)" marker-mid="url(#moE0645A40)" marker-end="url(#moE0645A40)"/>
<polyline points="1552.5,1272.8 1552.9,1270.7 1553.4,1269.4 1553.8,1268.6 1554.3,1266.1 1554.7,1265.1 1555.2,1265.9 1555.6,1264.7 1556.1,1265 1556.6,1265.4 1557,1265.5 1557.5,1265.6 1557.9,1266.4 1558.4,1266.2 1558.8,1266.9 1559.3,1267.3 1559.8,1268.1 1560.2,1267.7 1560.7,1266.6 1561.1,1267.8 1561.6,1268.3 1562,1267.9 1562.5,1267.3 1562.9,1268 1563.4,1268.3 1563.9,1268.8 1564.3,1269.2 1564.8,1268.8 1565.2,1269.4 1565.7,1269.1 1566.1,1269.1 1566.6,1269.8 1567,1270.5 1567.5,1270.6 1568,1271.2 1568.4,1271.4 1568.9,1271.2 1569.3,1271.1 1569.8,1271.3 1570.2,1272.4 1570.7,1272.3 1571.2,1271.9 1571.6,1271.6 1572.1,1271.6 1572.5,1273.1 1573,1273.5 1573.4,1273.6 1573.9,1274 1574.3,1274.6 1574.8,1274.7 1575.3,1274 1575.7,1274.1 1576.2,1273.9 1576.6,1273.9 1577.1,1273.2 1577.5,1273.8 1578,1273.7 1578.4,1274.4 1578.9,1274.6 1579.4,1275.6 1579.8,1275.7 1580.3,1276 1580.7,1275.4 1581.2,1275.7 1581.6,1275.7 1582.1,1275.8 1582.6,1275.8 1583,1276.9 1583.5,1276.2 1583.9,1277.2 1584.4,1276.9 1584.8,1276.5 1585.3,1277 1585.7,1276.2 1586.2,1276.4 1586.7,1277 1587.1,1277.8 1587.6,1278.4 1588,1278 1588.5,1278.1 1588.9,1278.1 1589.4,1278 1589.8,1278.5 1590.3,1278.7 1590.8,1278.6 1591.2,1279.4 1591.7,1279.6 1592.1,1280 1592.6,1279.7 1593,1279.9 1593.5,1279.7 1594,1280.2 1594.4,1280.9 1594.9,1280.7 1595.3,1280.9 1595.8,1281.4 1596.2,1281.2 1596.7,1281.3 1597.1,1281.8 1597.6,1281.7 1598.1,1281.7 1598.5,1281.8 1599,1281.8 1599.4,1281.9 1599.9,1281.7 1600.3,1281.8 1600.8,1281.6 1601.2,1281.9 1601.7,1282.1 1602.2,1282.4 1602.6,1282.6 1603.1,1282.8 1603.5,1283.3 1604,1283.5 1604.4,1283.4 1604.9,1283.7 1605.4,1283.3 1605.8,1283.2 1606.3,1282.9 1606.7,1283 1607.2,1284 1607.6,1283.5 1608.1,1283.2 1608.5,1283.4 1609,1284 1609.5,1284 1609.9,1283.6 1610.4,1283.6 1610.8,1283.8 1611.3,1284 1611.7,1284 1612.2,1284.6 1612.6,1284.6 1613.1,1285 1613.6,1284.9 1614,1285.9 1614.5,1284.8 1614.9,1284.8 1615.4,1284.3 1615.8,1285.2 1616.3,1284.7 1616.8,1284.5 1617.2,1285 1617.7,1285.6 1618.1,1286 1618.6,1286.5 1619,1285.9 1619.5,1285.1 1619.9,1285.5 1620.4,1286 1620.9,1286.9 1621.3,1286.6 1621.8,1286.1 1622.2,1286.5 1622.7,1286.4 1623.1,1287 1623.6,1288.4 1624,1288 1624.5,1287.1 1625,1288.4 1625.4,1286.6 1625.9,1286.4 1626.3,1287.7 1626.8,1287.8 1627.2,1288 1627.7,1287.7 1628.2,1288.9 1628.6,1289.4 1629.1,1290.1 1629.5,1289.9 1630,1290.1 1630.4,1290.2 1630.9,1290.3 1631.3,1290.7 1631.8,1289.4 1632.3,1289.9 1632.7,1289.7 1633.2,1289.9 1633.6,1290.5 1634.1,1291.5 1634.5,1291.8 1635,1292 1635.4,1291.8 1635.9,1290.9 1636.4,1291.6 1636.8,1292.9 1637.3,1292.9 1637.7,1292.8 1638.2,1292.7 1638.6,1294.1 1639.1,1294 1639.6,1293.1 1640,1292.6 1640.5,1292.2 1640.9,1293.2 1641.4,1293.8 1641.8,1294.3 1642.3,1295.1 1642.7,1295.5 1643.2,1294.9 1643.7,1294.3 1644.1,1295 1644.6,1296.4 1645,1295.6 1645.5,1304.9 1645.9,1304.3 1646.4,1302.8 1646.8,1296.7 1647.3,1296.3 1647.8,1296.8 1648.2,1296.9 1648.7,1296.6 1649.1,1297 1649.6,1297.5 1650,1297.3 1650.5,1297 1651,1297.3 1651.4,1297.9 1651.9,1297.8 1652.3,1297.9 1652.8,1297.2 1653.2,1298 1653.7,1297.9 1654.1,1298.2 1654.6,1298.3 1655.1,1297.7 1655.5,1296.8 1656,1297.6 1656.4,1298 1656.9,1298.2 1657.3,1298.5 1657.8,1299.1 1658.2,1299.8 1658.7,1299.9 1659.2,1299.7 1659.6,1299.5 1660.1,1299.9 1660.5,1300.9 1661,1300.4 1661.4,1300.5 1661.9,1300.7 1662.4,1300.1 1662.8,1299.4 1663.3,1299.8 1663.7,1299.7 1664.2,1301.5 1664.6,1300.5 1665.1,1301.4 1665.5,1301.6 1666,1300.9 1666.5,1301.2 1666.9,1301.6 1667.4,1300.5 1667.8,1300.6 1668.3,1300.5 1668.7,1300.9 1669.2,1301.9 1669.6,1302 1670.1,1303.1 1670.6,1302.3 1671,1302.8 1671.5,1303.2 1671.9,1303 1672.4,1303.6 1672.8,1303.3 1673.3,1304 1673.8,1303.5 1674.2,1304.2 1674.7,1305.1 1675.1,1303.5 1675.6,1303.3 1676,1304 1676.5,1305 1676.9,1305 1677.4,1305.1 1677.9,1305.4 1678.3,1304.8 1678.8,1305.3 1679.2,1304.7 1679.7,1305.2 1680.1,1304.5 1680.6,1305.7 1681,1305.9 1681.5,1305.9 1682,1306.6 1682.4,1306.8 1682.9,1306.9 1683.3,1306.4 1683.8,1306.6 1684.2,1306.6 1684.7,1307.4 1685.2,1307.1 1685.6,1308.1 1686.1,1307.4 1686.5,1308.3 1687,1307.7 1687.4,1307.8 1687.9,1308.5 1688.3,1308.6 1688.8,1308.4 1689.3,1308.8 1689.7,1309.7 1690.2,1308.4 1690.6,1308.9 1691.1,1316.2 1691.5,1315.9 1692,1314.5 1692.4,1309.8 1692.9,1310 1693.4,1310.2 1693.8,1309.9 1694.3,1310.7 1694.7,1310.4 1695.2,1311 1695.6,1311.5 1696.1,1311.9 1696.6,1312.4 1697,1312.7 1697.5,1312.8 1697.9,1312 1698.4,1311.9 1698.8,1312.2 1699.3,1311.9 1699.7,1312.9 1700.2,1316.9 1700.7,1317.9 1701.1,1313.4 1701.6,1313.4 1702,1313.3 1702.5,1313 1702.9,1314.3 1703.4,1315.1 1703.8,1315.3 1704.3,1315.5 1704.8,1315.2 1705.2,1315.1 1705.7,1315.2 1706.1,1315 1706.6,1315.6 1707,1319.8 1707.5,1316.2 1708,1316.4 1708.4,1316 1708.9,1316.1 1709.3,1315.8 1709.8,1316.5 1710.2,1317 1710.7,1317.6 1711.1,1318.2 1711.6,1317.6 1712.1,1317.1 1712.5,1317.9 1713,1318 1713.4,1318.6 1713.9,1318.6 1714.3,1318.7 1714.8,1319 1715.2,1319.2 1715.7,1319.4 1716.2,1319 1716.6,1319.7 1717.1,1319.7 1717.5,1321 1718,1320.3 1718.4,1321.2 1718.9,1321.4 1719.4,1320.7 1719.8,1321.1 1720.3,1320.7 1720.7,1321.6 1721.2,1321.6 1721.6,1322.6 1722.1,1322 1722.5,1322.4 1723,1323.1 1723.5,1322.6 1723.9,1322.6 1724.4,1322.9 1724.8,1323.2 1725.3,1323.8 1725.7,1324.4 1726.2,1324.3 1726.6,1325.3 1727.1,1325.8 1727.6,1325.8 1728,1325.1 1728.5,1325.1 1728.9,1325.5 1729.4,1326.4 1729.8,1326.1 1730.3,1325.6 1730.8,1332.8 1731.2,1333.2 1731.7,1327.4 1732.1,1327 1732.6,1328.2 1733,1327.9 1733.5,1328.8 1733.9,1328.9 1734.4,1329.1 1734.9,1329.3 1735.3,1329.3 1735.8,1329.4 1736.2,1330.2 1736.7,1329.9 1737.1,1328.9 1737.6,1334.8 1738,1334 1738.5,1329.3 1739,1329.2 1739.4,1330 1739.9,1329.9 1740.3,1329.9 1740.8,1330.2 1741.2,1330.1 1741.7,1330.6 1742.2,1330.9 1742.6,1330.3 1743.1,1331.3 1743.5,1331 1744,1330.5 1744.4,1330.8 1744.9,1330.9 1745.3,1331.2 1745.8,1331.6 1746.3,1331.2 1746.7,1331.6 1747.2,1332 1747.6,1331.6 1748.1,1331.9 1748.5,1332.1 1749,1331.6 1749.4,1331.8 1749.9,1333.3 1750.4,1331.9 1750.8,1332.7 1751.3,1332.9 1751.7,1332.6 1752.2,1332.6 1752.6,1332.7 1753.1,1333.5 1753.6,1334.4 1754,1333.8 1754.5,1334 1754.9,1335.1 1755.4,1334.3 1755.8,1334.4 1756.3,1334.8 1756.7,1335.5 1757.2,1334.7 1757.7,1334.1 1758.1,1334.4 1758.6,1334.4 1759,1335.5 1759.5,1335.2 1759.9,1335.2 1760.4,1335.1 1760.8,1334.9 1761.3,1335.7 1761.8,1341.9 1762.2,1342.6 1762.7,1340.7 1763.1,1336.8 1763.6,1337.3 1764,1337.1 1764.5,1337.1 1765,1338 1765.4,1337.8 1765.9,1337.5 1766.3,1338.1 1766.8,1338.1 1767.2,1338.6 1767.7,1339.8 1768.1,1339.3 1768.6,1338.9 1769.1,1339.7 1769.5,1338.1 1770,1338 1770.4,1339.4 1770.9,1339.2 1771.3,1339.5 1771.8,1339.8 1772.2,1340.9 1772.7,1340.4 1773.2,1340.6 1773.6,1341.3 1774.1,1341.3 1774.5,1340.7 1775,1341.5 1775.4,1345.4 1775.9,1345.5 1776.4,1341.7 1776.8,1341.2 1777.3,1341.4 1777.7,1341.1 1778.2,1342.2 1778.6,1342.8 1779.1,1343.4 1779.5,1343.4 1780,1342.9 1780.5,1343.9 1780.9,1343.2 1781.4,1343 1781.8,1343.6 1782.3,1343.9 1782.7,1343.2 1783.2,1342.6 1783.6,1344.1 1784.1,1343.4 1784.6,1344.1 1785,1344.2 1785.5,1345 1785.9,1345.1 1786.4,1345.4 1786.8,1345 1787.3,1345.2 1787.8,1345.2 1788.2,1346.3 1788.7,1345.7 1789.1,1346.1 1789.6,1346.1 1790,1346.1 1790.5,1345.7 1790.9,1346.5 1791.4,1346.2 1791.9,1346.1 1792.3,1346.8 1792.8,1346.5 1793.2,1346.9 1793.7,1346.6 1794.1,1347.7 1794.6,1347.7 1795,1348.1 1795.5,1347.7 1796,1348.6 1796.4,1347.4 1796.9,1347.7 1797.3,1348.6 1797.8,1347.7 1798.2,1347.7 1798.7,1348.8 1799.2,1348.4 1799.6,1348.8 1800.1,1348.8 1800.5,1349.6 1801,1349.6 1801.4,1349.1 1801.9,1348.6 1802.3,1349.1 1802.8,1349.3 1803.3,1349 1803.7,1349.3 1804.2,1349.6 1804.6,1349.6 1805.1,1350.3 1805.5,1349.6 1806,1350.7 1806.4,1350.7 1806.9,1350.4 1807.4,1350.8 1807.8,1350.3 1808.3,1351.2 1808.7,1351.4 1809.2,1352.4 1809.6,1351.7 1810.1,1351.2 1810.6,1352.1 1811,1352.1 1811.5,1351.7 1811.9,1351.9 1812.4,1352.2 1812.8,1351.4 1813.3,1351.8 1813.7,1352.6 1814.2,1352.1 1814.7,1352.3 1815.1,1353.5 1815.6,1353.7 1816,1354 1816.5,1353.9 1816.9,1353.6 1817.4,1354.3 1817.8,1354.1 1818.3,1354 1818.8,1354.1 1819.2,1354.6 1819.7,1355 1820.1,1354.8 1820.6,1354.6 1821,1354.9 1821.5,1354.6 1822,1354.9 1822.4,1354.5 1822.9,1355.7 1823.3,1354.8 1823.8,1355 1824.2,1355 1824.7,1355.7 1825.1,1355 1825.6,1354.5" fill="none" stroke="#D3352D" stroke-width="8.0" stroke-linejoin="round" stroke-linecap="round"/>
<polyline points="1826.1,1327.5 1826.5,1326.5 1827,1328.3 1827.4,1327.6 1827.9,1328.5 1828.3,1328.8 1828.8,1328.9 1829.2,1328.5 1829.7,1328.6 1830.2,1329 1830.6,1329.5 1831.1,1329.5 1831.5,1329.1 1832,1329.7 1832.4,1330.2 1832.9,1329.9 1833.4,1329.6 1833.8,1329.6 1834.3,1330.5 1834.7,1334.2 1835.2,1330.4 1835.6,1331.4 1836.1,1331.4 1836.5,1331 1837,1330.5 1837.5,1330.5 1837.9,1331.1 1838.4,1331.5 1838.8,1331.8 1839.3,1332.8 1839.7,1331.6 1840.2,1331.7 1840.6,1331.7 1841.1,1332.8 1841.6,1332.6 1842,1332 1842.5,1332 1842.9,1332.1 1843.4,1333.4 1843.8,1333.6 1844.3,1333.7 1844.8,1332.8 1845.2,1332.3 1845.7,1333.1 1846.1,1333.2 1846.6,1332.9 1847,1333.2 1847.5,1333.5 1847.9,1334.2 1848.4,1338 1848.9,1337.7 1849.3,1333.5 1849.8,1334.2 1850.2,1334.1 1850.7,1334.1 1851.1,1335.2 1851.6,1335.2 1852,1335.3 1852.5,1335.2 1853,1335.9 1853.4,1337 1853.9,1336.5 1854.3,1337.3 1854.8,1337 1855.2,1336.6 1855.7,1336.8 1856.2,1336.5 1856.6,1337 1857.1,1337.6 1857.5,1337.6 1858,1337.6 1858.4,1337.7 1858.9,1338.4 1859.3,1338.3 1859.8,1338.3 1860.3,1337.4 1860.7,1338.4 1861.2,1338.5 1861.6,1338.5 1862.1,1338.4 1862.5,1339 1863,1338.7 1863.4,1338.3 1863.9,1339.2 1864.4,1339.2 1864.8,1339.2 1865.3,1339.5 1865.7,1339.9 1866.2,1339.3 1866.6,1340.2 1867.1,1340.2 1867.6,1340.7 1868,1340.5 1868.5,1341.2 1868.9,1341.6 1869.4,1341.3 1869.8,1341.8 1870.3,1341.1 1870.7,1341.7 1871.2,1340.6 1871.7,1341.2 1872.1,1342.8 1872.6,1343 1873,1343.5 1873.5,1343.1 1873.9,1342.8 1874.4,1342.4 1874.8,1342.4 1875.3,1342.5 1875.8,1343.3 1876.2,1343.9 1876.7,1344 1877.1,1344.6 1877.6,1345.2 1878,1344.9 1878.5,1345.2 1879,1344.5 1879.4,1344.9 1879.9,1344.1 1880.3,1344.8 1880.8,1345.1 1881.2,1346 1881.7,1346.1 1882.1,1345.6 1882.6,1346.1 1883.1,1345.4 1883.5,1345.5 1884,1346.2 1884.4,1346.7 1884.9,1346.6 1885.3,1346.8 1885.8,1346.5 1886.2,1346.4 1886.7,1347.2 1887.2,1347.2 1887.6,1347.6 1888.1,1347.6 1888.5,1348.4 1889,1347.7 1889.4,1348.1 1889.9,1348.2 1890.4,1348.1 1890.8,1348.1 1891.3,1349.2 1891.7,1348.5 1892.2,1348.7 1892.6,1349.1 1893.1,1349.6 1893.5,1349.2 1894,1349.1 1894.5,1349.9 1894.9,1350.1 1895.4,1350.1 1895.8,1350.1 1896.3,1350.6 1896.7,1350.4 1897.2,1349.7 1897.6,1350.6 1898.1,1350.2 1898.6,1350.8 1899,1350.9 1899.5,1351.7 1899.9,1351 1900.4,1351.4 1900.8,1351.6 1901.3,1352.1 1901.8,1352.2 1902.2,1351.7 1902.7,1351.4 1903.1,1351.5 1903.6,1352.8 1904,1353 1904.5,1352.2 1904.9,1351.4 1905.4,1351.8 1905.9,1353 1906.3,1353.4 1906.8,1353.1 1907.2,1353.7 1907.7,1353.9 1908.1,1353.5 1908.6,1353.5 1909,1352.8 1909.5,1353.7 1910,1353.4 1910.4,1353.9 1910.9,1354.3 1911.3,1353.3 1911.8,1353.4 1912.2,1354.2 1912.7,1354.7 1913.2,1354.4 1913.6,1354.3 1914.1,1354.3 1914.5,1354.7 1915,1354.5 1915.4,1355.5 1915.9,1355.8 1916.3,1356 1916.8,1355.8" fill="none" stroke="#D3352D" stroke-width="8.0" stroke-linejoin="round" stroke-linecap="round"/>
<path d="M1825.6 1354.5L1826.1 1327.5" stroke="#D3352D" stroke-width="1.2"/>
<path d="M1825.6 1169.1V1461.6" stroke="#000" stroke-width="1.8" stroke-dasharray="9.5 5.5"/>
<rect x="1552" y="1169.1" width="364.8" height="292.5" fill="none" stroke="#000" stroke-width="2.5"/>
<path d="M1552 1461.6L1552 1468.1M1643.2 1461.6L1643.2 1468.1M1734.4 1461.6L1734.4 1468.1M1825.6 1461.6L1825.6 1468.1M1916.8 1461.6L1916.8 1468.1" stroke="#000" stroke-width="2.4" fill="none"/>
<path d="M1597.6 1461.6L1597.6 1465.6M1688.8 1461.6L1688.8 1465.6M1780 1461.6L1780 1465.6M1871.2 1461.6L1871.2 1465.6" stroke="#000" stroke-width="1.7" fill="none"/>
<text x="1552" y="1488" font-size="19.6" text-anchor="middle">0</text>
<text x="1643.2" y="1488" font-size="19.6" text-anchor="middle">200</text>
<text x="1734.4" y="1488" font-size="19.6" text-anchor="middle">400</text>
<text x="1825.6" y="1488" font-size="19.6" text-anchor="middle">600</text>
<text x="1916.8" y="1488" font-size="19.6" text-anchor="middle">800</text>
<path d="M1552 1422.6L1545.5 1422.6M1552 1364.1L1545.5 1364.1M1552 1305.6L1545.5 1305.6M1552 1247.1L1545.5 1247.1M1552 1188.6L1545.5 1188.6" stroke="#000" stroke-width="2.4" fill="none"/>
<path d="M1552 1451.8L1548 1451.8M1552 1393.3L1548 1393.3M1552 1334.8L1548 1334.8M1552 1276.3L1548 1276.3M1552 1217.8L1548 1217.8" stroke="#000" stroke-width="1.7" fill="none"/>
<text x="1541.7" y="1429.6" font-size="19.6" text-anchor="end">120</text>
<text x="1541.7" y="1371.1" font-size="19.6" text-anchor="end">150</text>
<text x="1541.7" y="1312.6" font-size="19.6" text-anchor="end">180</text>
<text x="1541.7" y="1254.1" font-size="19.6" text-anchor="end">210</text>
<text x="1541.7" y="1195.6" font-size="19.6" text-anchor="end">240</text>
<path d="M1916.8 1169.1L1923.3 1169.1M1916.8 1210.6L1923.3 1210.6M1916.8 1251.9L1923.3 1251.9M1916.8 1293.2L1923.3 1293.2M1916.8 1334.5L1923.3 1334.5M1916.8 1375.8L1923.3 1375.8M1916.8 1462.2L1923.3 1462.2" stroke="#000" stroke-width="2.4" fill="none"/>
<path d="M1916.8 1189.9L1920.8 1189.9M1916.8 1231.2L1920.8 1231.2M1916.8 1272.5L1920.8 1272.5M1916.8 1313.8L1920.8 1313.8M1916.8 1355.1L1920.8 1355.1M1916.8 1396.4L1920.8 1396.4" stroke="#000" stroke-width="1.7" fill="none"/>
<text x="1929" y="1176.1" font-size="19.6">102</text>
<text x="1929" y="1217.6" font-size="19.6">100</text>
<text x="1929" y="1258.9" font-size="19.6">98</text>
<text x="1929" y="1300.2" font-size="19.6">96</text>
<text x="1929" y="1341.5" font-size="19.6">94</text>
<text x="1929" y="1382.8" font-size="19.6">92</text>
<text x="1929" y="1469.2" font-size="19.6">80</text>
<path d="M1916.8 1396.5L1920.8 1396.5M1916.8 1441L1920.8 1441" stroke="#000" stroke-width="2.0" fill="none"/>
<path d="M1910.3 1419L1923.3 1412.8" stroke="#000" stroke-width="2.4"/>
<path d="M1910.3 1424.2L1923.3 1418" stroke="#000" stroke-width="2.4"/>
<text x="1735.7" y="1514.8" font-size="23.1" text-anchor="middle">Cycle number</text>
<text x="1503.1" y="1316.5" font-size="22.3" text-anchor="middle" transform="rotate(-90 1503.1 1316.5)" textLength="274">Specific capacity (mAh g<tspan dy="-0.62em" font-size="62%">−1</tspan><tspan dy="0.385em">)</tspan></text>
<text x="1980.7" y="1313.5" font-size="23.3" text-anchor="middle" transform="rotate(-90 1980.7 1313.5)" textLength="261">Coulombic Efficiency (%)</text>
<path d="M1593.2 1285.6V1309.9H1568.3" fill="none" stroke="#000" stroke-width="2.8" stroke-linecap="butt" stroke-linejoin="miter"/>
<path d="M1560.6 1309.9L1571.6 1305.3L1571.6 1314.5Z" fill="#000"/>
<path d="M1878.2 1222.2V1247.3H1901.5" fill="none" stroke="#000" stroke-width="2.8" stroke-linecap="butt" stroke-linejoin="miter"/>
<path d="M1909.2 1247.3L1898.2 1242.7L1898.2 1251.9Z" fill="#000"/>
<text x="1827.5" y="1309.9" font-size="21.2">83.9%</text>
<text x="1762.3" y="1377.3" font-size="21.2">76.9%</text>
<text x="1556" y="1394.8" font-size="21.2">P(AEEO)</text>
<text x="1581.6" y="1421.2" font-size="21.2">Cycling</text>
<text x="1581.6" y="1447.4" font-size="21.2">Efficiency</text>
<text x="1725.9" y="1432.5" font-size="21.2">Before</text>
<text x="1845.9" y="1432.5" font-size="21.2">After</text>
<path d="M1556 1418.5H1562.5M1568.5 1418.5H1575" stroke="#D3352D" stroke-width="1.3"/>
<circle cx="1565.5" cy="1418.5" r="3" fill="url(#bgD3352D)"/>
<path d="M1556 1445.2H1562.5M1568.5 1445.2H1575" stroke="#E0645A" stroke-width="1.3"/>
<circle cx="1565.5" cy="1445.2" r="3" fill="#fff" stroke="#E0645A" stroke-width="1"/>
</svg>
</body></html>
